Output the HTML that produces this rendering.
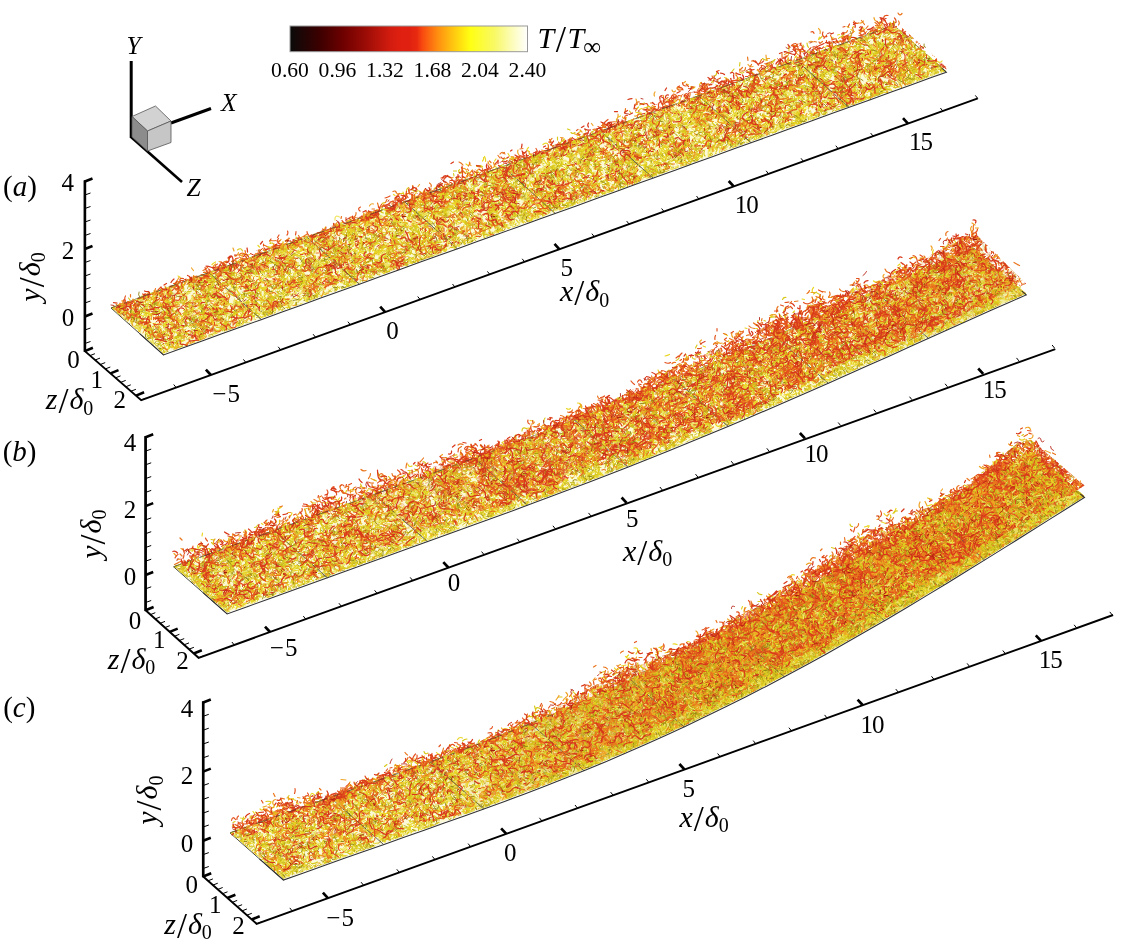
<!DOCTYPE html>
<html><head><meta charset="utf-8"><title>figure</title><style>html,body{margin:0;padding:0;background:#fff}svg{display:block}</style></head><body>
<svg width="1122" height="947" viewBox="0 0 1122 947" font-family="'Liberation Serif',serif" fill="#000">
<defs><linearGradient id="cb" x1="0" x2="1" y1="0" y2="0">
<stop offset="0" stop-color="#0a0a0a"/>
<stop offset="0.12" stop-color="#3a0000"/>
<stop offset="0.22" stop-color="#6c0000"/>
<stop offset="0.32" stop-color="#9c0c06"/>
<stop offset="0.42" stop-color="#d21c0f"/>
<stop offset="0.47" stop-color="#e02010"/>
<stop offset="0.5" stop-color="#e02010"/>
<stop offset="0.535" stop-color="#e82a10"/>
<stop offset="0.556" stop-color="#f84810"/>
<stop offset="0.62" stop-color="#ff8c10"/>
<stop offset="0.67" stop-color="#ffb810"/>
<stop offset="0.724" stop-color="#ffe410"/>
<stop offset="0.76" stop-color="#ffff14"/>
<stop offset="0.86" stop-color="#f8f864"/>
<stop offset="0.93" stop-color="#fcfcb4"/>
<stop offset="1" stop-color="#ffffff"/>
</linearGradient>
<filter id="bl" x="0" y="0" width="1122" height="947" filterUnits="userSpaceOnUse"><feGaussianBlur stdDeviation=".45"/></filter>
<pattern id="pa" width="97" height="97" patternUnits="userSpaceOnUse"><g transform="scale(.5)" fill="none" stroke-linecap="round">
<path stroke="#f0e66a" stroke-width="2.6" d="M25 63l6 4M69 58q-3 5 2 8M-1 145l4 -5M193 145l4 -5M81 92l-5 -5M23 55l6 -1M124 40q-7 -6 2 -11M138 19q-5 -1 -5 -6M58 52l-5 -4M74 165l6 -2M31 117q5 0 9 -4M175 4q7 4 4 11M14 184q6 1 11 2M14 -10q6 1 11 2M54 62l3 5M9 71l3 -5M75 144q-2 -4 -4 -8M42 112q-4 5 -11 3M110 143q-3 4 -7 6M174 63q-5 -2 -10 -5M90 131q11 4 8 -8M59 12l-4 4M156 114l-4 -4M53 137q7 -6 7 4M86 130l1 6M78 86q-7 3 -7 10M41 10l6 2M195 177q-6 4 -4 12M1 177q-6 4 -4 12M154 177l-6 2M50 67q-6 -1 -12 0M91 74q5 -1 4 -6M43 41q2 -8 -6 -11M136 137q2 -5 3 -10M5 90q5 0 8 4M199 90q5 0 8 4M5 22q-3 4 -6 8M199 22q-3 4 -6 8M25 191q1 -5 6 -6M25 -3q1 -5 6 -6M140 61l5 -5M61 36q0 8 -8 10M132 171q-1 -5 -2 -9M21 60q4 1 8 0M127 190l6 -1M127 -4l6 -1M105 41q3 -4 6 -7M141 18q-9 -3 -6 -11M111 113l0 -6M14 54q-6 -3 -8 -10M188 139q5 7 10 1M-6 139q5 7 10 1M28 16l4 -4M5 112q-5 1 -9 4M199 112q-5 1 -9 4M139 177q-4 0 -8 3M148 29q4 4 10 3M103 192q3 4 8 3M103 -2q3 4 8 3M125 14l0 -7M115 189l-4 -4M115 -5l-4 -4M102 110q-5 -1 -7 -5M140 51q-3 5 -3 11M55 74l5 4M165 158l4 -5M159 57q6 -3 9 -10M185 122q-4 -6 -9 -2M56 61q4 0 7 -2M94 46q3 3 8 4M55 48q3 6 -3 9M93 115l1 7M19 6q2 -5 5 -10M19 200q2 -5 5 -10M49 42l6 -1M190 28q-6 0 -12 0M162 163q-6 3 -12 4M68 45q-3 -4 1 -7M118 76l5 5M187 146l5 -5M-7 146l5 -5M54 19l-5 2"/>
<path stroke="#ead622" stroke-width="2.4" d="M160 54q6 1 3 7M127 121q-2 -6 5 -8M34 178q-5 1 -10 -2M101 113q5 -3 2 -8M114 113l3 6M19 41l4 6M20 121l6 -4M122 189l6 1M122 -5l6 1M48 197q-3 -3 -4 -7M48 3q-3 -3 -4 -7M93 51q-5 -2 -9 -6M129 10l4 5M110 124l-4 5M40 172l-6 0M90 107l3 4M164 100l5 -2M146 165q4 -5 3 -11M101 125q-5 5 -12 6M135 139q11 8 12 -5M108 150l4 -4M31 111q-7 2 -13 -1M68 107q-6 -1 -10 -5M191 142l-7 3M-3 142l-7 3M126 8q-6 -1 -8 -6M126 202q-6 -1 -8 -6M74 105q-4 -4 -6 -9M157 47l5 1M28 51q-4 2 -8 4M74 158q5 4 9 0M55 35q0 7 -8 10M141 127q-4 -2 -8 -2M26 51q-4 -4 -6 -9M1 185q4 -3 8 -2M1 -9q4 -3 8 -2M195 -9q4 -3 8 -2M195 185q4 -3 8 -2M107 167q-7 2 -8 -5M16 93l6 3M138 110q5 -1 6 -6M39 60l-5 -4M40 119q-4 3 -9 4M19 46q2 -6 7 -9M153 126l-4 4M143 187l-5 1M143 -7l-5 1M114 40q1 -6 -4 -8M9 146l-1 6M203 146l-1 6M169 115q-4 -3 -7 -7M12 123l4 -6M111 12q6 0 9 6M134 183q-1 6 -6 11M134 -11q-1 6 -6 11M9 171q4 -1 9 -1M17 54l-5 2M13 50l-2 6M46 23q8 -4 12 4M148 52l4 4M152 57l-6 -2M90 43q-4 0 -7 3M143 14q-5 -5 -1 -11M143 208q-5 -5 -1 -11M16 90l0 7M10 136l-7 0M204 136l-7 0M167 175q5 -8 12 -1M12 69l-6 1M206 69l-6 1M127 134l-2 6M86 103l-1 -7M120 38q-8 2 -7 -6M120 22q-9 -2 -4 -10M136 54q3 -3 8 -3M97 39q0 5 5 7M165 88q4 -1 5 -5M-4 102q3 6 10 8M190 102q3 6 10 8M185 114q-6 -2 -9 4M80 51q-4 -6 2 -11M189 183q-3 -9 7 -9M-5 183q-3 -9 7 -9M108 25l-3 -5M134 84l5 4M17 61l-4 4M102 189q5 5 10 -1M102 -5q5 5 10 -1M54 16q5 -2 10 0M169 102l-5 -5M46 38q-1 6 -4 10M39 139q-4 3 -8 4M17 183q-3 -6 -1 -13M101 165q-4 10 -12 3M105 43q-7 0 -11 6M105 178l-6 -1M156 102q7 6 1 12M19 43q1 8 -7 10M61 135l4 -6M191 186q-3 -3 -6 -6M-3 186q-3 -3 -6 -6M52 25q4 -2 4 -7M26 13q-5 0 -7 5M125 126q6 -1 11 -6M48 13l-6 3M188 145l-3 4M-6 145l-3 4M180 143l-3 -5M152 53l2 6M149 138q3 -3 7 -4M12 95q-4 0 -7 4M206 95q-4 0 -7 4M144 112q-4 -6 -1 -12M181 16q-1 6 -7 4M178 49q-1 9 -9 7M69 130l-4 5M52 36q1 6 6 10M5 83l6 1M199 83l6 1M22 166q5 -2 8 3M74 139q-7 -10 5 -10M79 148l1 -6M109 135q3 -5 2 -11M132 28q-6 -4 -12 -1M138 189q4 3 9 5M138 -5q4 3 9 5M162 82q-1 5 -1 10M180 55l5 3M176 98q-8 6 -12 -3M152 40l0 -6M40 11q-4 2 -7 3M43 103l-5 2M153 95q3 -3 8 -3M144 96q-7 -4 -2 -10M193 127q-5 -1 -6 4M-1 127q-5 -1 -6 4M140 19q-5 1 -10 0M158 40l-2 5M6 106q-3 -2 -6 -6M200 106q-3 -2 -6 -6M58 140q6 5 5 12M18 181q8 1 7 -6M8 29l3 -6M202 29l3 -6M18 119q-4 -3 -9 -1M131 196q-1 -8 -9 -8M131 2q-1 -8 -9 -8M7 98q2 6 -3 10M201 98q2 6 -3 10M94 154q1 5 -4 6M49 20q6 8 -4 10M181 17q-2 4 -7 3M134 186q3 8 10 2M134 -8q3 8 10 2M149 37q1 -7 7 -9M5 123l1 -6M199 123l1 -6M126 121q-3 6 1 11M132 50q4 3 5 9M103 157q0 6 4 11M131 19q7 2 11 -5M32 21q-3 -3 -6 -6M123 45q-9 -1 -8 -10M112 48q-5 -1 -8 4"/>
<path stroke="#d8c81a" stroke-width="2.3" d="M41 12l-1 6M134 1q0 4 -1 8M134 195q0 4 -1 8M17 90q-5 -3 -7 3M12 100q5 -6 10 0M74 161q-2 7 4 11M47 32l5 4M87 130q7 2 10 -5M37 145q-2 -5 -5 -9M57 142l2 -6M126 23q2 4 5 8M173 84q5 0 10 1M157 109l1 6M3 195q-1 -6 3 -10M3 1q-1 -6 3 -10M197 1q-1 -6 3 -10M197 195q-1 -6 3 -10M123 147q-2 5 1 9M114 128l-2 -5M154 52l2 7M94 131q5 2 8 -1M61 80q3 3 5 7M121 80q-6 5 -13 2M34 58l-1 7M61 76q-2 -6 4 -7M12 100q-2 8 -10 8M206 100q-2 8 -10 8M42 29l-6 0M149 152q-4 2 -9 3M60 133q3 4 6 9M134 24q4 -3 9 -5M11 104l-5 2M205 104l-5 2M122 77l3 -6M15 37q0 -7 5 -11M52 52l-2 7M22 91q-5 -3 -11 -7M28 174q-3 2 -7 1M178 106q-1 7 -7 9M17 87q-7 4 -12 -2M39 102q-6 4 -12 1M13 93q-3 -4 -1 -9M100 196q8 -1 9 -9M100 2q8 -1 9 -9M127 31q3 -4 8 -2M39 115q4 -3 4 -8M178 5q-8 4 -11 -5M178 199q-8 4 -11 -5M145 149q0 -7 -6 -7M160 94q0 -8 8 -5M60 85q-2 6 -1 12M36 53l5 -3M109 166q-7 -1 -11 5M50 21l-5 -3M62 38q-4 3 -4 8M19 173q1 -6 5 -11M125 130q3 -4 8 -3M67 115l-4 6M189 107q1 -5 5 -8M-5 107q1 -5 5 -8M59 43q-1 -8 -9 -8M74 155q1 5 6 7M166 185q-4 1 -7 5M166 -9q-4 1 -7 5M191 146l-5 2M-3 146l-5 2M141 136q-5 2 -10 3M17 58l-6 4M134 18l3 -5M162 43l4 5M46 38q-7 2 -11 -4M43 38l0 5M124 145q-5 1 -8 5M176 115q-4 5 -10 5M150 184l-4 -3M18 79q0 6 -5 9M47 36q-3 -6 -10 -8M12 190q-6 -2 -11 1M12 -4q-6 -2 -11 1M206 -4q-6 -2 -11 1M206 190q-6 -2 -11 1M59 65q-5 3 -5 8M29 194l5 -2M29 0l5 -2M3 123q-8 -2 -4 -9M197 123q-8 -2 -4 -9M99 38q-4 -5 2 -7M46 34q-3 3 -8 3M25 110l7 1M17 123q5 1 10 3M137 106l2 -6M147 156l-4 -3M53 172q-5 4 -12 3M20 74l6 -2M17 43q5 -1 9 2M28 105q2 -6 -2 -11M125 156q-4 1 -8 0M76 101q1 5 -2 9M172 27q8 -8 -3 -10M150 52q-6 2 -7 -4M129 131q2 5 -3 8M27 77l-3 -4M104 110l-5 4M53 38l3 5M44 121q4 -4 2 -9M71 164l-5 4M69 99q7 -5 2 -12M108 23l-7 -1M18 122l3 7M113 105l-5 -3M2 67l-3 6M196 67l-3 6M21 124q-5 -1 -10 0M100 107l6 -2M15 29q-4 3 -7 -1M143 53q-1 -6 -6 -11M13 101q-3 3 -8 2M207 101q-3 3 -8 2M50 5q8 6 -1 11M50 199q8 6 -1 11M24 175q4 -3 9 -2M23 135q3 -2 7 -3M108 14q-4 -6 -9 -2M105 123l3 6M95 27l-5 2M51 81q-5 -4 -12 -3M16 185q3 -4 7 -8M44 39q-4 3 -4 7M151 5q-8 -3 -10 6M151 199q-8 -3 -10 6M181 1q4 1 8 -1M-13 1q4 1 8 -1M-13 195q4 1 8 -1M181 195q4 1 8 -1M56 158l-2 -5M66 102l-6 1M109 13q6 -4 4 -11M109 207q6 -4 4 -11M145 187q7 -3 1 -8M42 107l3 -4M106 120q-3 5 -5 10M71 155q2 -5 -2 -8M120 22l5 3M61 79q-2 -5 -7 -6M33 111q3 -2 7 -4M149 166q6 0 11 -2M73 41q4 1 8 3M80 151q2 8 -6 7M119 3q-6 -3 -10 3M119 197q-6 -3 -10 3M89 100q-4 -3 -9 -6"/>
<path stroke="#8f8210" stroke-width="1.8" d="M5 126q-3 5 1 9M199 126q-3 5 1 9M142 31q3 -3 3 -7M77 181q-2 -5 -3 -11M100 131l6 0M179 70q-3 -5 -6 -10M138 172q5 3 11 1M138 162q-6 -4 -7 -11M162 99q-8 -6 0 -11M46 10q4 5 -2 8M118 180l5 4M145 37l6 1M140 42l0 5M115 186l-4 -4M115 -8l-4 -4M107 189l-4 -4M107 -5l-4 -4M21 81q-1 5 -6 5M22 165q-5 -2 -10 -6M118 101l-4 5M33 136q4 3 6 6M78 169q-6 9 5 12M8 186q1 -5 5 -6M164 156q-5 -4 0 -8M97 67q-5 -4 -7 -9M174 161q-4 -4 -10 -4M118 95q1 -7 8 -10M132 92q-4 -4 -7 0M83 94q2 -4 3 -8M189 149l-2 7M-5 149l-2 7M14 184q6 0 10 -6M6 177q6 1 13 -1M145 138q6 0 11 -3M73 138q-6 -2 -7 -9M100 18l-4 -4M8 119q-7 1 -10 7M202 119q-7 1 -10 7M94 98q6 -4 3 -11M30 70q3 -2 6 -5M109 191q0 -8 -8 -5M109 -3q0 -8 -8 -5M125 2q6 4 2 9M125 196q6 4 2 9M77 35q3 3 8 4M182 140q0 7 6 5M-12 140q0 7 6 5M67 132l6 -2M26 19l5 -1M47 151q10 0 8 -9M102 26l-6 3M157 189q-1 -6 -7 -6M157 -5q-1 -6 -7 -6M137 153q5 2 4 7M17 98q-7 0 -6 -8M190 62q-5 -1 -4 -6M-4 62q-5 -1 -4 -6M152 40q4 3 6 8M168 96q4 -8 -4 -8M89 120q-4 4 -8 8M-3 164q5 4 6 11M191 164q5 4 6 11M140 24q-1 5 -3 10M7 56q0 5 5 6M201 56q0 5 5 6M28 12q4 -3 6 -8M28 206q4 -3 6 -8M49 44q5 10 11 0M133 80l-2 5M25 5q4 -1 7 -1M25 199q4 -1 7 -1M0 174q-1 4 0 8M194 174q-1 4 0 8M144 38q-3 8 5 12M174 10l-1 7"/>
<path stroke="#f0a224" stroke-width="2.4" d="M35 61q-1 6 5 7M82 135q4 -8 -5 -9M156 59l6 -3M82 133q-2 -5 1 -10M92 107q5 5 2 11M4 29q4 2 8 -1M198 29q4 2 8 -1M180 109q8 1 7 -6M99 172l4 -5M70 160q-5 -7 -8 1M112 130q-3 6 -10 4M156 76q0 -4 1 -8M76 171q-4 1 -7 -2M195 99l-5 5M1 99l-5 5M86 101q5 -4 10 -1M31 57q4 -1 7 2M133 14q3 5 9 5M118 16l-2 6M170 55q-4 5 -10 4M142 182q6 -7 13 0M56 29q-4 -7 -10 -1M11 138q-3 -8 -11 -5M205 138q-3 -8 -11 -5M46 56q5 -3 1 -8M168 68q3 -3 2 -8M60 120l5 4M147 149l-7 1M50 59q4 0 8 -2M-1 169q4 0 8 -2M193 169q4 0 8 -2M7 93q1 5 5 8M201 93q1 5 5 8M10 102q6 -3 9 -8"/>
</g></pattern>
<pattern id="pb" width="71" height="71" patternUnits="userSpaceOnUse"><g transform="scale(.5)" fill="none" stroke-linecap="round">
<path stroke="#f0e66a" stroke-width="2.6" d="M65 99q-3 3 -4 8M44 50q-5 3 -11 1M20 121l2 5M21 0q-1 4 -4 8M21 142q-1 4 -4 8M98 48q-3 4 -8 6M3 83q4 4 10 3M145 83q4 4 10 3M16 35q-6 3 -5 10M36 103l-6 2M128 84q5 3 9 7M-14 84q5 3 9 7M30 14q2 -5 8 -7M21 126q6 -8 -4 -12M100 45q-1 5 -6 7M3 143l-6 -2M3 1l-6 -2M145 1l-6 -2M145 143l-6 -2M63 54l7 -1M35 18q-4 3 -7 6M50 37q-8 1 -7 -7M45 99q4 -3 2 -8M130 10q9 -3 4 -11M-12 10q9 -3 4 -11M-12 152q9 -3 4 -11M130 152q9 -3 4 -11M44 20q-2 -4 -5 -6M117 93l6 -1M107 100q5 1 10 0M57 84l5 2M47 9q4 -6 10 -1M47 151q4 -6 10 -1M141 43l-5 2M-1 43l-5 2M144 42q-3 -4 -8 -3M2 42q-3 -4 -8 -3M63 89q-7 -3 -4 -10M58 47q-4 3 -7 7M139 29q-1 -6 0 -12M-3 29q-1 -6 0 -12M50 43q4 -2 4 -7M8 12q-6 2 -8 7M150 12q-6 2 -8 7M26 55q-5 4 -3 9M78 9q4 -4 1 -8M78 151q4 -4 1 -8M-3 12q2 6 9 7M139 12q2 6 9 7M74 101q4 -5 7 1M24 8l3 5M69 111q6 -2 12 -3M25 45l4 -3M120 40q-2 -5 -7 -8M97 58q-6 2 -11 1M21 4l3 -4M21 146l3 -4M115 136q5 2 8 -3M115 -6q5 2 8 -3M7 62q5 1 5 6M149 62q5 1 5 6"/>
<path stroke="#ead622" stroke-width="2.4" d="M55 128q-4 4 -9 2M40 148q-7 -5 -1 -12M40 6q-7 -5 -1 -12M132 115q-3 4 -5 9M43 41q-1 4 -3 8M38 40q-5 -1 -7 3M137 75q-5 1 -6 6M-5 75q-5 1 -6 6M120 30l-3 -4M76 36l-7 1M58 125q6 3 11 7M130 60l7 1M-12 60l7 1M10 49l3 5M126 74l-5 4M93 135q-1 -5 0 -9M4 47q9 -3 7 6M146 47q9 -3 7 6M136 72q7 2 6 9M-6 72q7 2 6 9M72 111q-3 3 -3 7M115 101q-7 -3 -4 -10M48 94l-5 2M59 96q7 -3 12 3M22 102q6 3 12 4M36 4l5 0M36 146l5 0M120 55q4 -1 6 -5M36 104q9 -3 3 -10M40 131q-5 0 -6 5M40 -11q-5 0 -6 5M92 142q2 -9 9 -3M92 0q2 -9 9 -3M1 77q-1 -4 -1 -7M143 77q-1 -4 -1 -7M86 97l5 2M80 66l-4 -6M82 4l0 7M82 146l0 7M8 18q-1 -4 -2 -7M150 18q-1 -4 -2 -7M47 110l-6 2M120 112q1 4 2 8M53 20q-4 -4 -6 -10M60 66q-4 4 -5 10M23 139q-7 8 -12 -1M23 -3q-7 8 -12 -1M138 3q-2 5 -7 3M-4 3q-2 5 -7 3M-4 145q-2 5 -7 3M138 145q-2 5 -7 3M61 125q-2 -5 -1 -10M43 61q5 -1 9 3M101 130l-5 4M101 -12l-5 4M8 34q-4 -7 -11 -5M150 34q-4 -7 -11 -5M23 57q-3 5 -10 4M37 100l-3 6M33 93q4 -9 -6 -7M130 127q6 -2 11 -5M-12 127q6 -2 11 -5M54 37q-5 0 -9 -4M6 80q6 -1 12 -3M34 127l2 5M97 125q4 0 8 3M120 27q-3 -4 -8 -5M1 139l3 -7M1 -3l3 -7M143 -3l3 -7M143 139l3 -7M35 76q4 -3 2 -7M50 76q-4 3 -3 8M17 61q-10 -6 -9 5M116 109l-2 5M129 141q4 -4 9 -3M-13 -1q4 -4 9 -3M-13 141q4 -4 9 -3M129 -1q4 -4 9 -3M35 51l0 6M10 33q-8 2 -8 10M152 33q-8 2 -8 10M133 112q-1 3 -2 7M41 142q-4 -5 -4 -11M41 0q-4 -5 -4 -11M38 134l2 -4M38 -8l2 -4M61 142q4 -3 6 -8M61 0q4 -3 6 -8M115 91q-8 -3 -8 5M14 62q-5 7 4 8M96 49l5 2M141 18l-1 -6M-1 18l-1 -6M139 53l-4 4M-3 53l-4 4M62 85q-4 7 3 12M33 108q4 -1 7 -4"/>
<path stroke="#d8c81a" stroke-width="2.3" d="M116 97l6 2M121 76q-3 -7 5 -10M138 132q3 -4 4 -10M-4 132q3 -4 4 -10M127 28q-4 0 -8 0M26 50l2 6M7 87q7 -1 11 4M141 140q-9 -8 2 -13M-1 -2q-9 -8 2 -13M-1 140q-9 -8 2 -13M141 -2q-9 -8 2 -13M143 131q-1 6 -3 10M1 -11q-1 6 -3 10M1 131q-1 6 -3 10M143 -11q-1 6 -3 10M114 40q1 -4 5 -6M31 3q-2 -6 -7 -2M31 145q-2 -6 -7 -2M128 138l0 6M128 -4l0 6M61 40q4 -4 10 -3M109 31q7 -1 10 -7M62 43q-6 5 -10 -2M17 60l5 -2M68 0q-3 3 -5 6M68 142q-3 3 -5 6M21 58q6 2 11 0M32 130l5 1M55 55q-3 -5 1 -10M116 21l1 5M57 142q-6 -1 -9 -6M57 0q-6 -1 -9 -6M60 93l3 -6M33 108q4 7 -4 6M137 64q-7 -1 -7 -8M-5 64q-7 -1 -7 -8M116 39q-1 -5 -6 -6M85 105q-3 3 -7 5M65 134l-5 3M65 -8l-5 3M133 128q-6 -8 3 -11M-9 128q-6 -8 3 -11M63 113q3 -7 11 -6M4 22l-5 4M146 22l-5 4M108 79q6 1 11 5M56 47l-6 3M34 119l4 6M126 34q5 4 2 10M135 134l5 4M-7 -8l5 4M-7 134l5 4M135 -8l5 4M6 132l-7 -2M148 132l-7 -2M120 142q5 2 9 -1M120 0q5 2 9 -1M115 66q-4 4 -9 6M123 43q-5 1 -9 -3M120 72q4 -4 3 -10M18 88q-2 9 -11 6M129 3l6 1M129 145l6 1M132 73q-3 -7 3 -12M-10 73q-3 -7 3 -12M127 37q6 5 1 10M77 20q9 -1 9 8M54 91l1 6M132 28q-4 -4 -1 -10M111 32q5 -2 7 3M126 69q7 3 12 -3M91 63q-5 1 -8 -4M83 87q-3 -6 -7 -10M80 66q3 -5 8 -8M123 58q1 4 1 8M127 30q-3 -5 -9 -3M26 83l-5 2M47 57l-6 -1M54 32q-1 8 -8 6M50 69q9 0 7 -8M72 122q-2 -6 -9 -5M127 95l0 7"/>
<path stroke="#8f8210" stroke-width="1.8" d="M130 76q3 -5 1 -11M25 42l-1 -5M131 126q4 0 8 1M-11 126q4 0 8 1M38 100q6 0 11 2M101 69q0 4 -2 7M38 44q1 7 7 11M119 57q1 -6 5 -9M137 43q4 3 7 7M-5 43q4 3 7 7M9 110q4 -5 9 -2M28 128q5 4 10 1M12 113q3 6 -1 11M29 132q12 -1 6 10M29 -10q12 -1 6 10M115 97l5 3M103 76q5 -4 8 -8M23 92q8 -7 12 3M42 9l-1 -5M42 151l-1 -5M55 51l-1 -7M56 117q0 -5 0 -11M143 6q-5 5 -10 1M1 6q-5 5 -10 1M1 148q-5 5 -10 1M143 148q-5 5 -10 1M122 47q-4 4 -3 10"/>
<path stroke="#f0a224" stroke-width="2.4" d="M53 54q2 -5 7 -4M124 62q-4 -3 -7 1M129 104l-4 5M134 131q-6 3 -10 -3M111 57q4 1 7 4M89 107q-5 -8 -11 0M116 129l-5 -4M116 25l-6 2M87 -2q-3 5 -9 4M87 140q-3 5 -9 4M120 92q6 -6 2 -13"/>
</g></pattern>
<pattern id="gy" width="101" height="101" patternUnits="userSpaceOnUse"><g transform="scale(.5)" fill="none" stroke-linecap="round">
<path stroke="#f0e66a" stroke-width="1.9" d="M157 113l-4 4M98 134l-1 -3M142 190l-2 3M12 190l6 0M172 141l5 3M25 82l-4 0M93 153l-5 -4M172 140l-4 -2M60 172l-6 3M176 69l4 2M198 58l-1 -3M-4 58l-1 -3M108 114l6 -3M43 197l1 6M43 -5l1 6M96 117l3 -1M10 174l5 -4M97 157l-2 -6M92 72l-3 -4M153 47l-3 -3M119 141l-3 2M78 192l0 -4M75 89l-5 2M94 140l-1 5M70 124l-4 -5M176 33l2 5M58 159l-4 -3M160 182l-2 3M35 149l1 4M175 121l5 -4M59 24l-4 0M114 125l-7 0M191 40l-2 -4M52 76l5 3M149 98l-7 2M188 90l-7 0M95 184l-2 -4M197 121l6 1M-5 121l6 1M45 153l2 -3M0 113l3 6M202 113l3 6M61 168l6 -3M157 149l-4 -5M42 18l-4 0M144 28l2 4M199 84l6 -3M-3 84l6 -3M92 112l-4 -1M125 95l2 -5M62 116l4 6M93 134l7 0M193 57l-5 1M59 125l5 2M84 136l-4 3M131 55l-1 -7M169 203l1 -3M169 1l1 -3M170 3l-4 -2M170 205l-4 -2M157 58l-6 0M56 114l3 -4M184 33l0 4M100 165l4 -1M103 164l-3 3M57 111l-6 -2M136 161l4 0M191 147l-6 -1M166 91l-4 -6M5 175l5 -3M207 175l5 -3M176 50l3 -4M193 12l-2 4M187 152l4 -4M76 118l-3 4M136 190l-3 2M60 177l-3 -2M40 16l-1 -4M183 32l-3 -5M98 148l5 -3M114 198l-4 -5M114 -4l-4 -5M180 122l0 -7M75 90l-2 4M106 129l-3 3M177 49l4 -2M125 55l5 -4M104 172l5 -3M44 86l0 -3M166 56l-4 -3M52 181l-2 3M92 115l2 7M161 48l4 1M34 77l4 0M96 16l-5 3M150 95l-4 -1M169 104l3 -2M39 184l-1 4M109 7l2 3M109 209l2 3M117 63l3 -2M46 5l-2 3M46 207l-2 3M100 4l5 -3M100 206l5 -3M111 144l-3 -3M125 132l-3 -2M138 185l-1 4M177 80l0 7M4 46l7 0M206 46l7 0M45 75l4 1M186 165l-1 5M6 129l3 -5M208 129l3 -5M85 106l4 5M39 176l4 2M29 161l4 3M147 11l-4 -3M147 213l-4 -3M151 33l4 0M84 139l-2 3M1 43l-2 -3M203 43l-2 -3M91 142l-3 -4M50 20l2 -3M149 104l-1 3M128 110l-1 -6M70 107l4 -5M76 181l-4 3M20 142l-2 4M176 114l-1 -4M163 89l6 -3M100 57l3 -2M129 93l-2 -5M160 142l-5 -4M25 17l3 1M21 61l-5 2M179 81l4 3M196 146l0 -4M-6 146l0 -4M141 12l-2 6M187 158l-5 -4M153 120l6 -1M127 192l6 0M127 -10l6 0M50 140l-2 -6M88 189l-5 0M156 149l-3 5M7 192l5 -4M209 192l5 -4M76 91l0 4M90 116l2 -5M134 162l-4 2M200 53l-3 -5M-2 53l-3 -5M9 120l-4 3M211 120l-4 3M59 153l-7 -1M117 81l-4 1M102 163l-2 5M74 61l0 -3M49 94l-5 2M94 141l3 -2M132 80l0 5M13 158l5 3M50 130l-4 -6M65 173l2 3M31 58l-4 1M159 135l1 -4M58 59l7 -1M134 90l4 -2M175 16l3 3M167 136l4 5M154 109l-2 6M53 98l5 4M21 161l-4 2M152 100l6 -3M184 31l-6 1M183 28l-5 -1M67 4l3 4M67 206l3 4M40 111l3 -3M203 53l-5 5M1 53l-5 5M101 48l-7 -1M79 107l3 -2M98 77l5 0M49 95l3 -3M92 178l3 5M23 121l1 -4M15 114l-4 6M195 197l-1 -5M-7 -5l-1 -5M-7 197l-1 -5M195 -5l-1 -5M113 101l0 -7M63 61l5 -5M18 2l-4 0M18 204l-4 0M70 117l-1 4M124 181l1 -6M162 165l2 -3M14 74l-4 0M114 142l-3 4M141 183l-5 -1M182 158l5 2M130 180l-4 0M165 68l-5 -1M130 18l3 -6M63 123l-5 1M67 8l-1 5M67 210l-1 5M180 96l-3 3M112 63l5 -1M111 141l2 -4M50 139l-2 5M164 186l4 -1M142 192l-6 2M142 -10l-6 2M181 46l-4 1M18 163l5 2M196 12l2 -5M-6 12l2 -5M-6 214l2 -5M196 214l2 -5M187 160l-2 -4M3 106l4 -3M205 106l4 -3M134 182l-5 1M181 192l-2 5M181 -10l-2 5M30 161l-2 7M1 119l3 4M203 119l3 4M157 203l3 -4M157 1l3 -4M105 104l5 2M8 154l1 6M210 154l1 6M30 94l-5 -1M67 47l4 -3M23 91l2 5M141 136l-3 -4M123 141l3 3M92 101l2 6M64 112l-2 -6M4 154l3 3M206 154l3 3M90 105l-4 3M58 1l-6 0M58 203l-6 0M60 113l4 -3M39 76l-2 -5M203 5l-3 2M1 5l-3 2M1 207l-3 2M203 207l-3 2"/>
<path stroke="#e6d420" stroke-width="1.9" d="M29 151l5 -2M121 7l-5 0M121 209l-5 0M104 41l5 0M23 122l-4 -1M199 76l0 -4M-3 76l0 -4M165 3l4 -2M165 205l4 -2M40 34l-2 -3M42 199l-4 1M42 -3l-4 1M50 86l-5 -4M60 108l-4 0M163 61l-4 0M108 147l-5 3M76 97l-4 5M6 179l-3 -3M208 179l-3 -3M109 144l2 -5M126 42l4 4M27 127l0 -7M82 146l-5 2M147 37l-6 1M95 53l2 5M21 28l-1 4M142 115l1 -3M99 147l-3 2M13 23l-2 5M33 185l-4 -4M30 170l-1 5M91 148l5 1M104 132l2 -3M117 61l5 4M46 140l5 4M89 133l-1 3M4 68l-3 1M206 68l-3 1M64 17l-6 3M177 113l-3 -5M176 199l-5 4M176 -3l-5 4M90 139l0 3M154 98l1 3M70 85l-3 1M116 73l2 6M11 186l-2 -2M213 186l-2 -2M140 76l-4 4M97 182l-5 -4M152 1l-3 4M152 203l-3 4M21 67l5 4M113 107l3 3M97 121l-1 5M41 56l2 -6M83 186l0 -4M77 17l6 -3M54 41l-3 4M176 120l2 -2M107 107l-6 2M10 155l4 4M95 121l5 2M148 53l4 -4M93 140l-3 1M39 170l-4 3M184 160l4 -3M126 48l5 -2M75 108l3 -1M166 128l4 0M196 154l5 -4M-6 154l5 -4M117 132l5 3M164 113l5 1M92 62l1 5M14 179l-1 3M56 130l3 -5M23 73l3 5M36 23l-5 2M20 163l2 5M127 100l1 -3M48 9l-5 -3M48 211l-5 -3M110 145l1 -3M17 83l-2 -2M192 127l-5 0M52 116l2 -3M66 53l-2 3M183 117l3 6M146 29l-2 -3M191 147l1 -4M82 33l1 5M189 39l3 2M94 74l3 4M171 44l4 2M79 54l-2 -6M122 137l-3 -4M148 122l1 3M36 19l-4 3M52 87l7 0M55 96l2 3M106 197l-1 3M106 -5l-1 3M85 109l-5 1M91 35l-3 4M126 133l-1 3M43 151l3 2M91 140l5 1M122 20l-2 3M64 105l1 3M17 25l4 4M25 58l-3 4M144 40l2 5M185 60l2 6M162 131l2 6M116 135l-4 4M39 39l3 4M93 65l1 -5M187 36l-3 -4M20 135l-3 3M159 110l-3 -6M3 154l0 -5M205 154l0 -5M49 78l-1 -4M46 139l5 -4M144 117l5 2M158 94l-5 4M115 116l-2 3M113 169l3 4M20 129l5 3M73 52l-4 -3M111 186l-4 -1M-2 48l5 -1M200 48l5 -1M34 184l-7 0M128 74l5 -2M160 63l-7 1M7 81l5 0M209 81l5 0M188 122l5 0M2 157l0 6M204 157l0 6M135 38l-6 2M184 108l-4 4M165 4l3 -6M165 206l3 -6M93 149l-3 3M38 17l-1 -4M185 163l0 -5M165 15l6 3M154 123l-4 2M97 121l-5 -3M81 32l4 3M103 201l5 -1M103 -1l5 -1M170 112l-5 -2M62 103l3 -1M69 23l-5 -3M65 110l4 -2M190 139l-6 -2M165 132l-4 3M139 20l-6 1M88 139l-3 5M53 160l5 2M100 157l-3 -5M59 25l-5 3M21 73l-4 1M158 126l-4 5M151 52l-5 2M199 39l1 5M-3 39l1 5M185 139l3 0M182 14l0 -3M53 115l3 -4M118 172l5 4M27 167l-5 -4M125 50l1 -6M195 46l3 2M-7 46l3 2M128 18l5 0M18 114l-3 3M95 75l2 -6M72 194l7 -1M72 -8l7 -1M74 39l1 5M169 143l-4 -5M154 15l-2 -6M9 183l-5 0M211 183l-5 0M157 192l2 5M157 -10l2 5M54 85l-4 3M53 145l-7 -1M98 133l-2 3M32 124l-5 -2M180 85l4 0M152 0l3 1M152 202l3 1M127 169l-5 2M177 68l-2 3M103 61l-3 -5M58 74l-2 -4M66 153l3 6M133 19l-5 -1M13 69l2 3M169 117l-4 3M24 133l-2 -4M189 40l6 1M2 159l-3 -1M204 159l-3 -1M95 4l6 -1M95 206l6 -1M157 133l2 -7M81 95l3 6M171 105l4 6M142 107l2 -5M190 143l2 -5M9 166l-3 -3M211 166l-3 -3M75 56l2 -4M161 142l3 -2M73 173l1 -4M96 187l-1 6M105 79l-2 -6M74 47l0 -6M128 44l-4 1M78 45l-5 -4M132 118l-2 4M159 110l0 -7M3 183l2 -5M205 183l2 -5M7 115l-6 2M209 115l-6 2M188 156l-6 2M138 107l-5 4M110 1l-5 4M110 203l-5 4M97 52l-3 1M122 163l-3 -6M170 109l-4 1M194 66l-5 -4M29 150l4 0M15 133l-1 -4M94 71l-3 4M122 22l3 -5M172 155l-1 -5M0 9l3 -2M0 211l3 -2M202 9l3 -2M202 211l3 -2M142 122l5 3M134 0l-5 2M134 202l-5 2M127 1l1 4M127 203l1 4M68 52l3 -2M178 21l0 -5M110 131l1 -4M2 117l5 -2M204 117l5 -2M95 134l-5 2M157 62l-2 6M134 128l-4 -2M44 -2l-2 5M44 200l-2 5M46 200l-6 0M46 -2l-6 0M152 101l1 5M51 201l-4 -5M51 -1l-4 -5M127 31l2 6M176 7l4 4M176 209l4 4M161 132l2 -6M76 184l5 2M40 144l-5 -4M15 149l-3 1M9 176l-5 -4M211 176l-5 -4M154 29l-1 6M114 112l2 3M-1 159l4 -4M201 159l4 -4M33 149l-1 5M138 25l-1 -4M88 12l-4 -2M26 154l-4 -2M141 140l1 -6M123 93l-3 -1M191 157l3 -6M-11 157l3 -6M43 72l-3 -1M71 186l4 -1M2 142l0 4M204 142l0 4M59 27l3 -3M98 197l3 6M98 -5l3 6M135 179l2 6M12 26l3 6M-1 66l4 0M201 66l4 0M163 198l-1 -4M163 -4l-1 -4M172 39l6 1M119 99l5 1M107 4l5 -3M107 206l5 -3M178 157l1 -3M157 147l-2 3M53 33l4 -5M17 125l6 1M53 32l3 -4M58 96l6 0M43 35l3 -2M95 56l-6 -2M92 133l5 -2M203 120l-2 3M1 120l-2 3M179 99l-3 -2M43 33l4 -3M87 167l1 4M179 16l-5 -3M188 42l-1 -7M82 46l-6 3M173 145l-3 -3M160 142l5 2M91 176l3 -4M52 38l-7 2M117 166l1 5M136 18l-4 -5M15 149l-5 1M141 162l7 -1M97 11l0 -5M97 213l0 -5M143 195l0 -6M97 71l-4 0M15 71l3 5M57 179l-6 -3M126 124l2 3M104 200l1 3M104 -2l1 3M27 52l-3 0M104 144l-1 -5M6 77l1 4M208 77l1 4M92 68l5 -4M50 162l1 5M96 161l3 -2M157 200l5 1M157 -2l5 1M140 176l1 7M50 76l6 3M128 2l4 -2M128 204l4 -2M161 122l-1 4M23 154l-5 -4M83 141l1 -4M87 55l3 -1M142 195l-5 0M142 -7l-5 0M94 70l-3 3M129 42l4 4M61 59l-6 -1M91 165l1 4M106 143l-4 0M172 142l0 -7M21 64l-2 6M65 121l-5 0M11 196l-3 -6M11 -6l-3 -6M213 -6l-3 -6M213 196l-3 -6M12 89l0 5M3 182l2 -4M205 182l2 -4M25 72l-1 -3M134 54l-2 4M38 146l-4 -1M102 116l-4 -2M200 162l-5 1M-2 162l-5 1M14 168l6 4M199 8l3 -6M-3 8l3 -6M-3 210l3 -6M199 210l3 -6M31 151l-4 1M3 45l-5 3M205 45l-5 3M171 15l5 -3M120 172l-6 -4M185 122l5 -1M103 59l1 -4M172 115l5 0M41 80l-3 -1M131 193l0 5M131 -9l0 5M94 57l-4 5M138 158l-4 3M18 192l-2 -5M200 49l-2 -4M-2 49l-2 -4M21 18l5 4M170 3l2 -5M170 205l2 -5M106 93l6 2M163 117l6 4M176 13l-2 5M112 184l-2 -5M37 143l-4 6M70 48l4 4M18 120l3 -5M32 31l6 1M122 177l-4 -1M157 91l2 -5M52 200l-5 1M52 -2l-5 1M131 42l0 3M69 96l-6 1M122 61l4 2M146 100l-1 3M103 70l-7 1M107 140l3 2M98 63l4 -3M163 85l-3 2M170 144l-2 -3M53 105l-1 4M194 100l4 -2M-8 100l4 -2M29 170l4 2M191 29l-4 -5M44 75l3 3M13 158l-2 3M37 115l-4 -4M75 57l4 1M49 87l5 3M84 136l6 -2M117 141l-4 4M87 133l1 3M80 189l-1 -3M86 95l-4 0M188 53l-4 1M183 153l-1 4M23 14l-1 6M53 67l6 4M92 169l1 -3M163 113l1 -4M132 9l4 -4M132 211l4 -4M146 197l-3 6M146 -5l-3 6M120 59l1 -5M20 30l-3 1M183 122l-4 0M4 171l-2 -3M206 171l-2 -3M100 115l-6 2M32 180l-5 -2M122 3l5 -2M122 205l5 -2M23 88l1 3M78 50l-3 4M82 137l1 6M110 111l-1 4M180 129l5 3M67 96l-5 3M183 191l-2 3M183 -11l-2 3M151 100l4 -2M46 190l-2 -5M122 110l4 -1M24 7l-2 5M24 209l-2 5M101 142l-4 -2M105 197l-1 -4M105 -5l-1 -4M9 32l6 2M186 93l3 -1M162 191l3 -1M97 55l-6 1M178 197l2 3M178 -5l2 3M6 175l-4 3M208 175l-4 3M68 55l-5 2M135 184l-3 -3M15 157l-2 -5M150 114l5 -4M4 65l-6 3M206 65l-6 3M188 39l-5 -5M50 7l-2 -6M50 209l-2 -6M141 170l6 0M51 107l4 -2M53 145l4 3M109 117l-4 5M155 107l2 5M194 12l5 -3M-8 12l5 -3M122 103l-4 0M167 107l-5 2M70 168l-4 4M183 96l-6 2M45 203l2 -3M45 1l2 -3M44 71l-5 1M152 37l-4 -4M167 100l1 -4M74 99l-6 2M40 153l4 4M181 21l3 -6M63 25l-3 1M129 120l-5 4M98 165l3 -3M10 138l5 -1M128 177l1 -5M33 126l-5 0M179 163l5 4M168 34l3 -3M154 39l-4 2M132 158l6 -1M49 43l5 -2M126 11l6 -1M187 60l3 -5M103 162l-4 5M135 199l-7 -1M135 -3l-7 -1M19 78l-6 0M156 123l-5 0M154 93l-4 5M147 115l-4 1M96 61l7 2M136 79l-4 -2M57 150l-4 1M32 178l3 -6M61 84l4 -5M45 40l7 -2M170 126l3 1M122 52l-4 0M183 192l6 2M183 -10l6 2M23 124l-4 1M132 119l6 -3M95 136l6 1M19 156l-5 -2M19 144l-4 -1M119 56l-4 -4M199 42l4 -2M-3 42l4 -2M110 61l5 -2M168 25l6 -3M4 114l4 6M206 114l4 6M155 123l1 -4M0 14l2 -3M202 14l2 -3M33 31l-6 2M75 53l3 -2M176 17l0 6M120 27l5 -2M79 190l6 1M88 173l0 -4M156 27l0 5M44 39l2 3M25 94l4 1M132 45l-3 3M24 88l4 1M88 102l-3 -5M189 141l5 -3M111 176l4 4M34 154l3 0M139 30l-4 0M170 126l4 4M109 11l-5 -2M109 213l-5 -2M127 107l-3 -4M173 95l-5 -3M55 107l6 1"/>
<path stroke="#d4c41a" stroke-width="1.8" d="M175 6l-2 3M175 208l-2 3M96 170l-5 5M163 109l-2 -4M85 172l4 0M21 133l2 -3M70 110l-3 1M95 172l3 4M109 0l-2 5M109 202l-2 5M200 171l-4 1M-2 171l-4 1M21 73l3 -4M166 48l5 -1M182 149l4 1M57 136l0 -6M155 118l6 3M141 199l-3 6M141 -3l-3 6M42 78l-7 0M96 68l4 -1M184 184l5 -2M57 122l5 0M54 99l1 7M78 119l-1 -4M63 199l6 3M63 -3l6 3M27 172l-7 0M132 126l-4 -1M89 183l-6 3M198 12l-4 -2M-4 12l-4 -2M135 65l-5 -2M37 11l-4 1M102 110l4 -1M70 93l5 3M142 191l-4 5M142 -11l-4 5M153 146l2 4M42 69l-2 -5M94 154l-1 7M135 84l4 3M154 44l-3 -5M61 113l5 2M99 139l-3 2M154 98l-2 3M186 62l-3 6M132 106l-2 6M106 143l-5 -3M126 139l-6 2M102 172l4 -2M5 183l2 -3M207 183l2 -3M74 50l4 0M41 167l-3 -2M99 108l4 -2M171 91l4 -2M45 128l-4 -5M152 180l3 -3M162 123l5 3M23 76l-2 -6M71 118l-2 -4M84 185l-5 1M57 56l3 -3M194 163l2 -4M-8 163l2 -4M88 183l6 -1M-1 187l6 1M201 187l6 1M192 45l4 5M-10 45l4 5M164 105l-4 -4M118 20l-4 2M191 162l2 -3M-11 162l2 -3M137 0l-2 3M137 202l-2 3M145 190l-1 4M167 181l-2 -3M170 97l2 -3M63 20l2 5M101 58l3 5M112 184l-5 -4M57 131l-3 5M70 156l2 -6M125 9l5 -3M125 211l5 -3M78 184l2 5M12 180l4 -5M71 188l-1 -4M1 118l-2 -3M203 118l-2 -3M188 106l-4 2M69 96l-6 -2M94 184l1 -6M112 174l-2 5M76 46l-6 -1M173 141l-2 -2M97 161l-4 -5M82 172l3 -1M75 111l-4 1M14 194l3 6M14 -8l3 6M131 81l3 5M165 189l-3 -5M74 113l3 -1M143 33l-4 0M26 59l-1 -6M82 12l0 4M49 37l-4 6M68 99l1 -7M135 193l-4 2M135 -9l-4 2M181 52l3 2M193 54l-6 2M4 132l-2 4M206 132l-2 4M99 62l-3 -4M47 89l4 -1M133 53l-1 -6M188 80l-4 2M153 35l-1 -5M167 89l-6 3M46 145l-4 -5M169 16l4 1M92 4l-1 6M92 206l-1 6M88 54l-3 -3M63 21l-3 3M110 174l-3 0M155 87l-1 4M150 129l1 5M62 169l6 2M64 59l4 0M191 45l-4 -1M144 137l-3 4M24 127l-1 -4M31 30l6 -2M80 15l0 -6M9 177l-5 1M211 177l-5 1M0 134l3 4M202 134l3 4M162 196l-4 2M162 -6l-4 2M95 136l0 -4M35 35l2 6M158 123l5 0M55 131l3 5M55 116l-2 -3M134 167l5 2M115 110l-4 -1M186 173l-1 -5M26 183l6 -3M199 161l-5 0M-3 161l-5 0M76 148l-3 -2M189 168l0 -3M179 113l6 0M182 161l-1 -6M144 114l2 3M115 60l0 4M198 172l4 3M-4 172l4 3M116 57l1 3M70 77l-3 4M201 165l2 4M-1 165l2 4M158 39l-1 -4M116 80l-7 2M25 66l-5 -3M167 100l0 -3M46 71l3 -1M112 174l-4 -1M5 138l-7 0M207 138l-7 0M32 19l5 -3M46 149l-4 -1M7 109l6 2M209 109l6 2M11 2l-5 1M11 204l-5 1M213 2l-5 1M213 204l-5 1M183 145l-1 4M36 172l6 2M19 12l3 -6M19 214l3 -6M-2 78l5 3M200 78l5 3M33 24l5 -2M48 201l-4 -4M48 -1l-4 -4M64 175l5 -4M68 110l2 3M190 47l-3 -4M89 43l2 4M17 163l0 4M186 82l0 -5M51 147l5 -1M140 7l0 -7M140 209l0 -7M179 93l5 -3M25 167l-4 -6M55 91l4 1M121 64l-3 -3M61 163l4 -3M33 162l-1 5M191 179l-3 -2M64 54l-5 -3M59 77l5 3M168 118l4 0M194 180l-3 -2M-8 180l-3 -2M184 30l5 0M135 175l-6 -1M50 102l4 -2M94 77l6 -1M109 198l4 -2M109 -4l4 -2M8 150l3 6M210 150l3 6M186 37l-1 -5M5 194l3 6M5 -8l3 6M207 -8l3 6M207 194l3 6M42 3l5 -2M42 205l5 -2M182 46l1 -4M84 182l7 1M147 169l-5 3M139 134l-2 4M34 172l2 -4M73 121l-3 0M75 143l5 3M36 147l3 -3M178 91l2 -5M186 151l-3 -2M124 103l-4 -4M120 74l2 4M135 117l4 2M93 170l-5 0M44 78l6 0M97 49l1 -5M67 21l-6 -4M47 123l0 5M111 142l4 -4M157 97l-6 1M62 59l-5 -2M36 161l-5 -4M84 186l-5 -1M19 76l-7 -1M159 94l-1 -6M26 61l2 -3M13 66l6 1M171 14l0 -5M35 178l-7 1M173 21l3 4M76 133l3 3M45 126l-5 3M9 81l-6 1M211 81l-6 1M15 70l0 4M159 101l-3 -3M83 104l1 -4M6 192l4 4M6 -10l4 4M208 -10l4 4M208 192l4 4M131 65l5 -2M127 57l0 3M170 20l-4 -1M183 33l-5 -3M22 167l1 4M55 132l-1 -4M11 172l-1 3M187 20l-3 -4M125 131l-3 4M182 142l3 2M57 90l3 -5M166 97l4 -5M15 137l3 3M81 150l-4 -1M105 70l-3 -1M138 111l-6 2M90 1l-1 6M90 203l-1 6M47 43l3 -5M41 104l6 -3M20 155l-4 -1M113 121l0 -7M46 122l-4 2M17 166l-5 2M26 184l1 6M67 102l2 3M169 114l3 -4M148 30l0 -5M49 98l5 1M8 188l5 3M169 29l3 4M59 25l1 4M89 59l1 4M100 65l4 5M59 81l-3 4M139 122l6 -2M83 107l5 5M41 191l-4 1M6 77l-4 5M208 77l-4 5M23 119l2 -5M35 191l-2 5M35 -11l-2 5M85 109l-7 -1M118 9l4 3M66 96l1 -4M109 123l-4 2M50 78l-1 4M170 38l-1 7M18 186l7 2M55 89l6 -2M10 75l5 -1M158 90l1 3M38 18l2 -5M164 128l-2 6M47 84l6 2M9 197l3 3M9 -5l3 3M6 150l3 -4M208 150l3 -4M135 197l-5 -3M135 -5l-5 -3M27 148l2 6M3 157l-5 2M205 157l-5 2M21 15l-1 5M148 54l-5 -4M131 185l4 4M138 200l6 -4M138 -2l6 -4M25 86l-6 2M70 153l-7 1M40 164l-5 2M34 78l-6 3M149 52l0 -4M135 189l3 -3M111 11l5 4M67 111l-6 2M26 190l-1 -4M62 187l-5 -2M61 85l-3 -1M81 142l-3 1M57 17l2 2M135 89l4 -1M96 140l-4 -5M122 176l-1 -5M160 89l-3 3M66 111l-4 2M181 68l1 4M131 121l5 -3M124 45l3 3M171 99l1 3M92 58l-2 -3M93 176l-1 6M99 44l-5 0M181 99l-3 -3M152 138l1 -4M178 11l3 2M134 138l-2 -4M144 45l2 6M160 168l-4 1M188 125l-5 3M147 100l-2 -6M83 131l1 3M15 125l-1 -4M88 167l-4 5M169 88l6 2M168 196l-1 4M168 -6l-1 4M76 137l6 2M11 35l-5 -3M213 35l-5 -3M184 118l3 -3M80 93l-5 3M100 141l4 -5M70 19l4 0M6 121l4 -1M208 121l4 -1M5 166l-5 0M207 166l-5 0M49 84l1 3M66 99l-5 0M14 132l-3 -5M57 135l-6 -3M115 83l-6 3M176 0l-3 2M176 202l-3 2M123 0l3 6M123 202l3 6M150 126l1 -6M121 92l-3 -3M139 22l-4 -5M6 7l2 -3M6 209l2 -3M208 7l2 -3M208 209l2 -3M38 144l-4 4M190 40l3 -3M75 11l-5 4M49 119l-4 0M109 29l5 -1M89 171l5 2M96 159l7 1M104 8l-4 4M177 62l5 -3M197 60l0 -7M-5 60l0 -7M122 7l-4 -3M122 209l-4 -3M23 92l-5 2M164 171l2 -6M88 10l-2 4M123 9l6 1M123 211l6 1M144 85l-3 4M55 73l-1 7M39 186l-5 2M50 139l-4 6M201 44l-6 -4M-1 44l-6 -4M27 118l5 2M143 108l-2 4M102 6l3 1M102 208l3 1M46 9l-3 -4M46 211l-3 -4M196 162l-2 2M-6 162l-2 2M65 149l-3 5M31 73l1 4M51 130l4 5M195 55l6 3M-7 55l6 3M50 67l4 3M70 161l-4 -4M59 169l2 -4M105 145l3 -1M119 81l2 5M189 56l-4 3M81 138l-4 -4M61 92l-3 -1M144 102l-4 5M39 4l-3 -2M39 206l-3 -2M150 199l5 1M150 -3l5 1M45 141l2 -4M157 3l-7 1M157 205l-7 1M197 175l4 -2M-5 175l4 -2M192 152l-1 6M46 195l-2 5M46 -7l-2 5M66 85l3 1M153 89l3 1M70 109l6 4M89 169l2 -4M12 99l-1 -6M177 73l2 6M95 42l5 3M4 136l-1 -7M206 136l-1 -7M51 86l-3 3M46 129l-2 -2M51 80l4 -5M175 89l3 -2M176 155l5 -3M70 149l4 2M18 127l0 4M180 99l1 -7M143 144l2 -5M49 203l-3 -3M49 1l-3 -3M87 8l4 1M87 210l4 1M99 182l4 -1M56 114l-6 -3M53 94l-4 3M178 87l3 -1M37 161l-5 -2M29 175l2 6M25 126l0 6M25 121l-1 -6M176 112l-1 -4M54 29l-1 -3M52 5l1 -6M52 207l1 -6M26 157l-3 4M184 144l4 -2M103 3l5 2M103 205l5 2M57 145l-7 0M99 164l-4 2M87 18l3 4M114 18l4 -1M157 132l3 5M171 44l4 3M202 157l-5 2M0 157l-5 2M188 58l4 -5M68 29l-3 6M131 195l-3 6M131 -7l-3 6M154 135l-4 -2M32 76l-2 -6M13 116l3 6M159 67l0 -4M165 49l4 -3M91 14l-3 -2M71 19l-1 7M51 143l-3 -1M177 42l2 2M171 15l-3 4M163 86l-3 2M202 65l-3 3M0 65l-3 3M162 160l0 7M138 89l-2 -3M172 93l3 2"/>
<path stroke="#b8a816" stroke-width="1.7" d="M142 -1l4 3M142 201l4 3M84 141l4 -3M141 165l-5 3M53 119l-4 -5M170 122l-6 -1M172 0l-3 2M172 202l-3 2M51 69l-4 4M131 81l5 3M120 174l-5 -4M53 201l0 -6M53 -1l0 -6M114 34l1 -4M31 95l6 0M11 195l2 -6M11 -7l2 -6M134 98l-3 -4M115 139l3 0M28 8l-4 6M94 50l-1 -6M182 48l4 -4M30 152l-5 -3M174 17l1 6M57 89l-5 3M85 170l4 -5M30 129l-2 3M26 79l-3 5M58 80l3 0M44 17l-5 0M137 83l2 5M45 4l4 -3M45 206l4 -3M85 153l6 -3M176 18l3 -1M10 92l3 -2M61 128l6 2M182 163l3 3M135 158l-4 -1M29 187l-6 1M32 173l6 4M169 96l2 4M84 145l0 4M162 196l-3 -6M162 -6l-3 -6M168 62l5 -1M81 3l2 -7M81 205l2 -7M74 102l5 1M161 130l0 -5M155 28l-3 -5M55 178l-5 2M147 92l-3 6M185 41l-5 0M48 23l3 -5M26 159l-2 4M63 156l2 3M115 61l1 -4M144 181l-6 -3M31 149l-4 -5M83 38l-2 3M183 158l2 -4M34 21l4 2M165 169l-2 4M43 141l-3 3M96 146l-3 3M48 130l1 4M61 19l-3 3M18 121l-3 2M1 177l2 3M203 177l2 3M153 45l4 -2M5 163l-2 3M207 163l-2 3M82 98l-2 5M142 132l1 4M104 177l5 1M128 195l6 -2M128 -7l6 -2M137 86l-1 -5M13 129l0 6M177 40l3 -1M143 139l-5 0M112 14l-4 -1M11 199l6 0M11 -3l6 0M52 147l-4 -5M155 67l-5 4M8 179l-5 0M210 179l-5 0M43 82l-5 -4M110 144l-1 -4M89 108l5 2M196 99l-6 -1M-6 99l-6 -1M17 156l5 3M182 33l6 -2M160 77l5 -3M73 72l4 3M87 73l-4 4M79 139l1 -3M43 100l2 5M103 143l1 -5M48 11l-1 4M38 77l3 3M191 85l-4 -3M180 96l0 4M109 5l-2 -6M109 207l-2 -6M144 77l-4 -2M122 23l4 -4M26 19l-4 0M54 88l3 2M135 104l-2 -4M139 118l0 5M69 17l0 -4M150 102l-4 -3M9 83l-3 3M211 83l-3 3M132 22l5 -3M132 114l-3 -1M56 26l-1 4M52 43l-5 4M87 14l-5 2M27 135l-4 4M63 123l-2 -4M31 116l4 -2M67 176l-5 -3M104 118l-5 -4M26 123l3 -4M168 160l-1 6M1 113l1 6M203 113l1 6M174 198l4 4M174 -4l4 4M84 17l-5 0M12 187l-5 0M214 187l-5 0M22 161l3 -4M30 133l-3 -4M66 111l0 -5M181 131l1 5M117 62l0 -4M177 42l3 2M41 81l0 -5M27 122l6 -2M200 128l1 -4M-2 128l1 -4M33 19l-5 2M17 71l4 2M148 48l5 1M46 101l5 3M130 194l5 -1M130 -8l5 -1M49 8l-6 2M49 210l-6 2M18 73l4 3M64 176l4 -2M164 87l-4 0M164 104l-4 3M25 77l4 0M93 52l1 -3M92 139l1 5M30 36l3 -3M18 119l-2 6M137 136l-3 3M164 140l-3 -1M137 78l-3 2M61 23l-5 1M153 120l-5 1M34 193l0 3M34 -9l0 3M142 90l0 -5M67 89l-2 6M31 36l5 -5M24 169l-6 3M64 177l1 -3M67 22l-2 5M65 182l-1 -3M5 51l3 6M207 51l3 6M30 185l3 -5M126 124l4 2M97 106l0 6M12 199l-4 2M12 -3l-4 2M214 -3l-4 2M214 199l-4 2M43 181l1 3M137 76l-4 -2M114 55l3 -6M122 177l0 -3M79 35l5 3M60 108l-1 6M121 85l3 -3M135 77l0 4M100 136l-2 -5M22 161l-4 4M179 32l4 -3M52 85l-3 -3M188 93l0 -5M45 195l-6 2M45 -7l-6 2M164 140l5 1M160 91l-7 -2M61 87l-1 5M27 151l1 -6M16 120l0 4M115 118l-2 -3M173 173l2 -5M83 144l3 2M132 50l0 6M177 91l2 5M57 112l0 -5M119 80l-4 -3M171 19l-1 -3M186 146l-2 4M109 183l6 0M176 76l3 -2M2 84l7 2M204 84l7 2M14 174l5 0M135 28l7 0M39 118l5 -2M5 133l3 0M207 133l3 0M179 172l4 4M141 106l3 -3M44 126l-2 4M132 105l-2 3M125 39l-1 6M176 29l-2 3M33 132l-3 -5M156 7l-6 2M156 209l-6 2M125 7l2 -3M125 209l2 -3M65 94l0 6M125 69l-1 -5M128 15l4 -4M6 147l-4 -1M208 147l-4 -1M65 19l2 3M74 92l3 2M94 107l3 5M135 141l-4 -5M160 203l-1 -6M160 1l-1 -6M127 36l1 -3M4 72l3 2M206 72l3 2M137 22l-1 4M102 121l-2 5M40 175l-2 -3M74 8l-5 -2M74 210l-5 -2M96 152l-3 4M190 141l0 -6M168 45l5 -1M62 164l-6 0M165 64l-6 2M73 195l3 -5M73 -7l3 -5M66 102l-1 -5M145 199l6 -2M145 -3l6 -2M183 82l6 1M171 197l-1 -4M171 -5l-1 -4M91 115l-4 0M122 65l3 2M178 197l-1 5M178 -5l-1 5M49 36l-4 1M48 83l4 -5M93 25l0 6M9 91l4 -2M34 81l4 -4M67 63l4 4M127 133l-4 3M20 82l3 2M24 115l3 6M178 148l3 2M47 106l-4 5M8 146l3 2M123 158l-4 1M20 63l-6 1M125 95l-1 4M89 52l4 -1M67 52l3 2M68 175l-3 4M76 38l-6 1M146 49l5 -1M67 76l1 5M18 187l0 -5M147 136l4 2M196 59l0 -3M-6 59l0 -3M87 172l2 6M23 25l0 4M178 78l3 3M55 110l3 -2M36 118l7 1M40 120l-3 2M11 185l-1 -6M4 46l-1 4M206 46l-1 4M113 111l-2 -5M165 109l1 -4M97 137l4 1M52 46l5 -5M22 122l-2 5M126 98l1 3M133 73l-5 2M104 69l-1 -5M55 152l4 0M110 123l-7 0M40 113l4 0M172 22l-5 -1M104 108l-1 4M89 144l4 -1M84 185l-3 -5M60 56l2 -4M89 37l3 5"/>
<path stroke="#8a7a10" stroke-width="1.6" d="M187 55l0 3M29 27l4 0M193 62l-6 1M23 91l-3 4M12 150l-2 4M107 203l0 -7M107 1l0 -7M75 187l-3 2M107 172l0 -3M85 182l0 5M31 164l7 2M11 -2l-4 5M11 200l-4 5M213 -2l-4 5M213 200l-4 5M13 196l-1 -5M13 -6l-1 -5M95 143l-3 -4M189 43l-6 -1M67 86l-2 6M64 127l-3 -4M65 162l3 -2M96 138l4 0M80 134l-2 -4M102 181l-3 -3M162 133l3 3M28 80l-5 -2M20 25l2 3M179 15l0 -4M20 135l0 5M31 179l2 -4M166 128l-6 -1M26 188l-6 0M73 190l3 5M73 -12l3 5M191 48l-6 0M203 122l-4 -4M1 122l-4 -4M59 102l-3 -2M10 136l1 -7M94 106l5 -1M159 189l-6 0M173 4l-1 -4M173 206l-1 -4M59 148l-4 3M62 23l-2 4M94 173l-2 3M41 51l-1 -5M42 136l6 2M105 13l-2 -6M105 215l-2 -6M61 69l4 -2M22 130l-1 4M78 170l0 5M37 117l4 0M23 7l2 6M9 116l-2 4M211 116l-2 4M11 184l1 -5M178 120l-6 -2M195 170l2 4M-7 170l2 4M135 83l6 -1M153 118l-4 4M179 169l-4 -5M55 46l2 -4M101 170l-6 0M88 8l1 -4M88 210l1 -4M100 118l5 -4M100 141l-4 -3M178 32l-3 1M139 21l-6 1M197 59l5 -4M-5 59l5 -4M23 186l-6 4M93 159l5 0M173 7l4 3M173 209l4 3M100 54l5 0M53 111l-5 -2M8 188l6 3M23 84l2 4M88 77l5 -5M170 92l2 -4M156 111l-4 3M76 36l0 5M53 138l0 -4M92 133l-4 -5M100 180l4 4M89 29l-5 3M84 150l-4 -3M4 130l2 -2M206 130l2 -2M91 161l3 -3M51 90l-5 3M114 85l2 -3M36 105l5 2M8 129l0 -3M210 129l0 -3M16 2l-3 2M16 204l-3 2M106 64l-7 -1M37 51l4 3M27 167l5 -4M199 119l2 -2M-3 119l2 -2M115 175l-5 1M153 117l-5 -1M135 190l3 2M45 144l-6 -4M95 195l-4 2M95 -7l-4 2M132 189l2 6M26 144l1 -5M100 172l4 2M53 142l4 0M10 111l-4 5M212 111l-4 5M124 73l4 -1M184 158l-2 -5M68 122l7 0M154 114l4 2M37 34l-5 -5M75 42l-6 -3M73 117l5 -1M86 133l-5 -2M33 146l-5 -3M194 43l1 -3M-8 43l1 -3M109 198l1 7M109 -4l1 7M154 127l4 1M188 49l-3 -4M92 14l-5 2M113 59l-5 -1M125 200l2 -4M125 -2l2 -4M6 174l4 2M208 174l4 2M165 23l5 0M62 120l-4 -1M44 104l-3 3M133 161l5 -2M132 24l4 4M69 84l-4 0M60 27l5 -5M168 102l-5 2M29 36l3 -2M141 112l-5 4M122 92l5 -2M125 71l4 3M186 34l0 4M169 132l-3 2M20 55l5 -5M139 191l5 4M139 -11l5 4M64 102l-5 1M61 171l6 0M100 51l2 6M139 179l-5 0M195 38l4 -1M-7 38l4 -1M12 80l-1 -4M128 32l-1 5M178 121l0 7M107 136l2 6M1 20l5 2M203 20l5 2M143 167l-3 5M102 109l0 4M65 117l-5 2M53 134l7 0M189 51l-2 4M32 116l-1 6M198 67l4 3M-4 67l4 3M7 80l-2 -4M209 80l-2 -4M28 159l2 -3M197 74l3 -3M-5 74l3 -3"/>
<path stroke="#eea01c" stroke-width="1.9" d="M157 102l-5 2M98 156l-1 -5M145 158l-1 7M98 119l4 5M123 76l6 1M56 95l1 -6M184 24l3 5M132 186l4 -2M100 148l-3 -4M8 178l6 2M161 191l2 6M161 -11l2 6M134 36l-5 2M97 121l-3 3M6 171l-3 -4M208 171l-3 -4M36 130l2 -4M128 177l-4 -2M148 104l-4 -1M36 95l-3 2M133 82l2 5M106 172l-5 -1M187 150l-1 7M6 168l-5 -1M208 168l-5 -1M39 34l6 3M152 132l1 -4M30 114l-5 4M152 5l-3 -4M152 207l-3 -4M126 59l5 -3M190 155l6 -3M-12 155l6 -3M3 164l-3 2M205 164l-3 2M142 134l-2 5M131 28l-6 1M29 147l4 2M54 44l-4 -1M48 73l4 4M49 186l2 6M145 4l0 -3M145 206l0 -3M142 104l-4 5M178 107l6 2M171 101l-1 4M104 13l-3 -2M43 203l3 -2M43 1l3 -2M128 159l-4 2M46 183l5 -1M120 127l-5 0M31 193l7 1M31 -9l7 1M139 110l-4 4M28 96l5 -2M116 195l-4 0M116 -7l-4 0M95 45l-3 1M153 142l4 -5M51 134l-2 6M138 146l-5 2M191 142l3 5M-11 142l3 5M104 201l1 -5M104 -1l1 -5M15 186l3 6M74 13l-6 0M20 30l1 -7M16 140l-4 -3M74 58l4 -2M80 41l3 -5M88 151l-1 5M11 171l3 -2M151 92l1 -3M94 117l-5 -3M21 124l0 4M57 52l-1 5M17 85l-4 -3M171 18l6 -1M70 156l-5 -1M94 173l-3 -6M43 112l4 -6M106 175l-6 -2M88 143l-4 4M123 31l3 0M57 81l7 2M84 13l-6 0M103 3l-1 4M103 205l-1 4M143 141l-6 -3M185 78l5 4M140 142l1 -3M136 190l3 -2M132 111l4 1M153 135l3 -3M50 138l-5 1M46 43l-6 -1M0 178l3 -2M202 178l3 -2M83 147l-4 4M50 105l0 4M103 127l-2 -5M200 82l4 -5M-2 82l4 -5M111 139l5 -2M57 73l-1 4M87 54l-3 6M180 173l-5 3M161 105l5 -2M161 123l6 2M105 12l5 4M160 151l-1 -3M9 118l5 -5M179 14l4 -1M195 147l-6 3M135 47l-3 -1M197 56l-4 0M-5 56l-4 0M70 46l-3 2M99 4l-6 -3M99 206l-6 -3M85 8l2 3M85 210l2 3M33 153l-5 1M30 110l4 0M169 101l4 4M143 108l-1 -5"/>
</g></pattern>
<pattern id="gr" width="89" height="89" patternUnits="userSpaceOnUse"><g transform="scale(.5)" fill="none" stroke-linecap="round">
<path stroke="#eea01c" stroke-width="1.9" d="M101 21l0 -4M141 20l5 -2M0 51l3 0M178 51l3 0M176 75l-5 -1M-2 75l-5 -1M26 80l1 -4M164 51l0 4M173 77l-6 3M-5 77l-6 3M99 73l-4 5M148 56l1 6M106 108l4 1M145 56l5 -3M51 107l0 5M58 121l-2 -3M12 74l-1 -4M132 62l-3 5M79 162l5 -1M176 30l-7 0M-2 30l-7 0M15 109l3 1M169 117l-2 -5M-9 117l-2 -5M48 175l5 -2M48 -3l5 -2M14 78l2 5M36 113l6 -1M139 128l0 -3M13 91l-4 2M120 132l3 -6M97 110l-4 0M121 63l-4 4M139 27l-4 -2M132 84l-6 2M116 17l2 -6M55 172l-6 -1M55 -6l-6 -1M9 10l-2 3M187 10l-2 3M44 109l-1 -5M3 166l-4 -1M181 166l-4 -1M5 126l-4 6M183 126l-4 6M29 139l0 4M160 168l0 -6M79 151l-6 0M119 127l2 -2M143 37l-4 3M98 130l-6 0M103 33l-3 -1M135 143l-3 2M1 26l2 5M179 26l2 5M23 1l3 3M23 179l3 3M25 24l-5 1M89 43l-1 -5M117 30l0 7M63 110l-2 -3M34 106l2 3M62 94l5 -2M122 83l3 2M67 114l3 -2M101 25l6 -1M24 160l4 -2M14 34l0 -5M50 119l-3 4M17 70l3 3M67 84l5 -2M22 136l-3 -2M90 141l6 2M175 77l2 -3M-3 77l2 -3M37 127l2 -5M32 134l5 -3M27 83l3 -6M132 39l7 1M31 35l1 7M89 102l-4 -1M72 47l0 6M62 81l-5 0M41 63l5 1M59 6l-6 -1M59 184l-6 -1M131 36l-4 1M59 85l3 4M0 86l0 -3M178 86l0 -3M157 19l3 0"/>
<path stroke="#ea741c" stroke-width="2" d="M99 29l-2 -5M175 37l-2 -4M-3 37l-2 -4M30 130l-6 0M9 153l-3 5M187 153l-3 5M148 3l4 -2M148 181l4 -2M122 146l3 -3M47 127l4 3M49 120l-3 -6M53 112l0 4M49 171l3 3M49 -7l3 3M98 73l-5 3M158 72l-1 4M37 65l7 0M119 131l1 3M48 122l3 0M14 116l6 -3M34 135l-3 6M113 11l-3 3M12 144l0 -6M143 22l-2 -6M82 2l2 5M82 180l2 5M146 42l-1 -6M33 74l3 -1M155 178l5 0M155 0l5 0M120 121l-3 5M147 177l-1 -4M147 -1l-1 -4M149 111l-4 1M126 13l-4 -1M129 34l-5 1M119 23l5 -2M12 29l5 1M162 142l-2 7M21 27l4 -3M119 132l-4 6M60 113l2 -3M34 77l6 -1M98 150l5 0M34 105l5 2M33 40l-5 -3M50 139l-4 1M145 136l-5 1M81 36l2 3M32 9l4 1M32 187l4 1M80 174l4 -1M80 -4l4 -1M67 129l5 2M96 77l-4 -3M60 37l4 6M29 5l1 5M29 183l1 5M153 27l-6 2M151 21l0 3M19 90l-1 -5M140 102l-1 4M154 168l3 5M154 -10l3 5M142 114l4 2M14 129l7 0M54 27l5 2M147 135l-4 2M91 155l-2 -6M52 84l4 0M174 47l5 -3M-4 47l5 -3M14 101l-3 4M55 133l-5 2M59 5l-3 5M59 183l-3 5M123 39l2 5M136 139l1 -5M150 68l-4 -4M144 129l-1 -4M86 41l5 2M89 38l-1 -5M74 74l5 -3M61 106l-2 -3M30 91l3 -2M164 144l-4 0M84 166l0 5M84 -12l0 5M85 33l-3 -6M44 30l-3 -4M23 174l-1 4M23 -4l-1 4M5 14l-5 -2M183 14l-5 -2M127 146l4 4M29 14l-7 -1M170 79l5 1M-8 79l5 1M133 138l4 0M176 79l5 -1M-2 79l5 -1M106 9l1 -4M106 187l1 -4M63 111l-2 -3M38 4l-1 4M38 182l-1 4M145 136l4 4M33 44l-4 -4M105 109l-5 1M132 131l2 -4M123 83l2 -6M164 0l0 6M164 178l0 6M175 122l-5 -3M-3 122l-5 -3M137 104l4 1M43 33l1 -4M177 156l-4 0M-1 156l-4 0M48 43l4 -3M133 42l2 -2M15 27l-4 -3M129 173l-2 5M129 -5l-2 5M45 176l0 -7M45 -2l0 -7M56 32l-4 -3M31 71l-1 -6M146 136l-3 -3M110 21l-4 3M114 123l-3 4M31 142l-5 -1M78 43l-5 1M53 86l2 -4M24 7l2 -6M24 185l2 -6M6 124l-1 5M184 124l-1 5M150 65l-5 2M68 108l-2 6M64 39l-4 5M95 81l2 4M3 135l3 -3M181 135l3 -3M127 136l5 4M93 155l0 4M0 50l1 -6M178 50l1 -6M93 36l2 6M15 23l4 2M34 6l-3 -1M34 184l-3 -1M79 92l-5 0M50 121l6 3M131 103l-3 -3M119 31l4 0M33 101l-3 -1M54 122l-2 3M171 115l6 1M-7 115l6 1M96 31l2 -5M88 50l-4 -6M103 136l4 -4M124 84l3 -2M169 150l-6 -1M170 3l-4 -4M170 181l-4 -4M106 16l5 0M40 72l5 3M41 71l-3 -3M40 34l2 -5M54 41l-6 -1M46 106l3 -4M117 88l5 1M113 129l-5 0M102 64l-3 0M78 31l3 -6M93 85l-6 -2M89 109l-4 1M81 151l-5 1M130 87l-5 -4M94 73l-4 2M130 174l-6 1M130 -4l-6 1M123 117l-6 2M94 11l5 0M96 161l-1 3M175 116l3 3M-3 116l3 3M170 105l2 -5M-8 105l2 -5"/>
<path stroke="#e04a1c" stroke-width="2" d="M37 6l-4 4M37 184l-4 4M75 41l-1 -5M3 120l-2 4M181 120l-2 4M134 110l5 -4M83 149l-3 5M138 39l4 -1M176 121l4 2M-2 121l4 2M65 31l5 -2M146 175l0 5M146 -3l0 5M18 8l4 1M18 186l4 1M76 5l-3 -6M76 183l-3 -6M112 6l-4 3M112 184l-4 3M55 160l6 1M1 167l-2 3M1 -11l-2 3M179 -11l-2 3M179 167l-2 3M121 31l-6 -4M157 4l-1 -4M157 182l-1 -4M14 86l-2 -2M25 128l-5 -1M59 31l-4 0M133 105l0 -5M58 121l0 -4M136 36l0 4M149 157l0 5M28 165l2 -4M89 150l-5 -2M56 3l-4 -5M56 181l-4 -5M23 175l3 5M23 -3l3 5M57 30l-4 0M84 81l1 4M79 19l6 -3M123 31l-4 -6M96 28l-3 5M88 58l5 1M98 24l3 0M114 127l-4 0M40 13l2 -6M21 12l-1 -5M21 190l-1 -5M163 97l3 4M147 33l0 6M46 112l6 -2M114 27l-3 5M33 79l4 0M137 27l-3 3M148 58l-5 0M97 31l4 5M94 80l-1 -4M38 34l2 3M102 19l-1 3M135 122l-4 -5M160 62l-3 2M133 20l-5 -3M69 83l-4 2M19 79l-4 -1M87 25l5 2M149 33l6 -2M67 94l3 -4M31 16l3 -2M176 107l0 -7M-2 107l0 -7M139 29l-7 -2M104 18l0 4M14 74l6 -3M131 39l-4 0M73 41l4 1M23 34l0 4M106 30l2 3M18 75l-5 4M160 169l-5 0M160 -9l-5 0M112 131l3 -2M136 41l-2 -3M72 153l-5 0M91 5l-5 2M91 183l-5 2M73 59l4 -6M83 48l4 -3M123 143l-2 3M85 39l1 -4M5 47l-6 2M183 47l-6 2M143 134l4 4M60 92l2 5M82 45l4 -6M118 123l-1 -5M177 153l-2 -4M-1 153l-2 -4M30 176l4 3M30 -2l4 3M128 25l3 -5M166 143l3 -2M61 35l4 0M45 171l-2 3M45 -7l-2 3M20 11l-1 -4M20 189l-1 -4M165 5l-4 -4M165 183l-4 -4M176 160l-1 5M-2 160l-1 5M15 5l-5 0M15 183l-5 0M9 8l6 3M9 186l6 3M83 175l-2 5M83 -3l-2 5M117 172l2 4M117 -6l2 4M27 106l-4 -2M4 126l2 4M182 126l2 4M31 39l0 3M90 162l4 1M90 45l4 -4M54 33l-4 3M6 79l5 -2M184 79l5 -2M29 174l-4 2M29 -4l-4 2M42 36l-4 -1M155 134l5 4M168 142l-5 5M113 131l-2 -5M173 119l5 3M-5 119l5 3M80 19l-3 -3M158 130l0 -5M56 30l-4 -4M153 56l-2 7M100 12l7 2M86 7l-5 -5M86 185l-5 -5M106 133l-5 -2M84 175l-5 -3M84 -3l-5 -3M24 174l4 0M24 -4l4 0M132 30l-5 3M115 175l4 -2M115 -3l4 -2M54 118l3 0M163 2l4 3M163 180l4 3M20 9l5 -4M20 187l5 -4M178 33l-4 4M0 33l-4 4M48 38l-6 -3M119 11l5 -5M119 189l5 -5M112 110l5 1M179 42l-1 6M1 42l-1 6M140 27l5 1M67 15l2 -3M73 110l0 7M167 133l-5 0M85 45l4 2M126 7l-5 -3M126 185l-5 -3M14 128l4 4M165 111l2 -5M153 171l0 4M153 -7l0 4M100 23l-2 3M77 154l-1 -4M114 122l2 5M110 115l5 -4M71 82l1 3M57 78l-3 6M27 103l-3 -3M126 18l1 -3M37 110l-3 1M138 118l0 4M21 7l3 -4M21 185l3 -4M86 103l-2 4M57 88l4 -3M120 80l2 -4M69 74l-3 -3M149 173l-5 -1M149 -5l-5 -1M139 101l0 7M84 84l-3 -2M131 2l4 -1M131 180l4 -1M118 23l-3 6"/>
<path stroke="#d2301a" stroke-width="2" d="M140 42l-4 -4M175 117l0 -6M-3 117l0 -6M81 148l5 3M115 113l-5 3M169 119l5 4M-9 119l5 4M164 6l-1 -6M164 184l-1 -6M47 116l-7 0M121 133l-2 -5M174 23l5 2M-4 23l5 2M35 72l-5 -3M83 164l5 4M20 72l4 6M30 140l-4 -2M26 83l1 -3M60 125l-4 0M123 78l5 4M18 102l7 1M27 129l2 5M126 32l5 -3M146 67l1 -4M111 31l3 3M161 178l3 -3M161 0l3 -3M76 50l3 -4M47 134l-5 3M3 31l-3 -5M181 31l-3 -5M70 87l-6 -3M85 160l6 0M148 142l5 -4M176 118l3 -4M-2 118l3 -4M54 81l6 2M138 37l-4 -3M57 36l3 2M151 58l-4 4M86 165l-4 -3M104 127l0 -5M51 31l3 -3M162 152l6 -1M8 107l5 -3M163 79l0 4M156 164l2 -4M117 133l-4 1M131 175l-5 3M131 -3l-5 3M92 32l0 4M3 133l-2 4M181 133l-2 4M147 173l2 3M147 -5l2 3M12 119l-6 -2M190 119l-6 -2M169 169l6 -1M-9 -9l6 -1M-9 169l6 -1M169 -9l6 -1M62 12l4 0M39 4l-3 3M39 182l-3 3M168 151l2 5M-10 151l2 5M83 175l5 1M83 -3l5 1M99 27l0 -5M153 64l0 -4M162 142l-5 2M69 123l1 5M14 4l-2 -5M14 182l-2 -5M133 29l1 -6M61 91l4 4M12 117l-3 0M129 105l1 -4M17 86l-1 4M-2 128l5 -2M176 128l5 -2M135 25l5 0M18 27l-6 -4M118 170l-1 5M118 -8l-1 5M141 56l3 4M121 -3l-3 6M121 175l-3 6M156 158l-2 6M16 113l0 -4M124 122l-2 -6M152 59l-3 1M154 62l4 -1M111 34l3 -1M172 116l-1 6M-6 116l-1 6M49 58l3 -4M25 0l-4 4M25 178l-4 4M145 151l6 3M70 82l3 2M95 36l-3 3M123 8l-3 -3M123 186l-3 -3M82 175l2 -5M82 -3l2 -5M166 93l-3 6M149 171l-6 3M149 -7l-6 3M36 108l-4 2M152 132l-3 4M28 154l-3 3M121 8l3 -2M121 186l3 -2M158 120l-6 2M38 108l0 -3M176 53l1 -4M-2 53l1 -4"/>
<path stroke="#98100a" stroke-width="1.6" d="M96 71l-4 3M13 135l2 -6M28 97l-6 2M64 122l-4 -2M132 68l4 -3M1 135l3 -4M179 135l3 -4M92 106l-5 -4M30 75l-2 -4M148 174l1 5M148 -4l1 5M48 126l-3 -3M24 179l-2 -3M24 1l-2 -3M40 29l4 3M29 78l5 2M105 137l4 -4M35 4l3 6M35 182l3 6M92 77l7 0M159 113l-1 7M30 41l2 5M93 78l6 -1M40 40l-3 -6M123 76l-5 0"/>
<path stroke="#8a7a10" stroke-width="1.6" d="M53 60l-2 -4M11 105l3 -4M138 54l-2 4M174 151l4 0M-4 151l4 0M78 168l6 0M40 112l-3 4M65 86l-3 0M24 108l-2 -5M73 58l5 -2M3 120l-5 3M181 120l-5 3M150 25l-1 3M110 126l4 -5M125 76l2 5M166 90l2 -3M164 144l-1 5M67 94l-3 1M31 10l-4 -4M31 188l-4 -4M120 122l-5 -1M84 164l-3 -2M172 171l-2 -6M-6 171l-2 -6M159 34l-3 4M46 116l-4 5M15 173l6 3M15 -5l6 3"/>
</g></pattern>
<pattern id="ra" width="113" height="113" patternUnits="userSpaceOnUse"><g transform="scale(.5)" fill="none" stroke-linecap="round">
<path stroke="#f0a224" stroke-width="2.4" d="M206 190l-6 -1M129 57q-3 -4 -7 -6M159 139q4 4 5 10M88 159q6 0 8 -6M13 57q4 6 10 2M162 29q-1 -4 0 -8M194 229q6 -5 0 -10M194 3q6 -5 0 -10M138 122l1 -6M119 66l6 -1M85 75q-5 0 -9 -3M172 16q-5 5 -12 2M32 1q-5 4 0 8M32 227q-5 4 0 8M55 14q4 -4 8 0M44 178q5 0 9 -4M164 178l5 -2M144 179q4 -3 9 -2M59 219q6 1 7 7M59 -7q6 1 7 7M84 218l-3 6M84 -8l-3 6M121 157l-5 2M185 139q4 -8 -5 -8M178 131q4 -2 4 -7M156 17q-3 5 -8 8M128 186q2 7 -2 12M90 3l6 3M90 229l6 3M6 38q-5 -4 -1 -10M232 38q-5 -4 -1 -10M89 156q3 -5 7 -9M169 195q6 -1 13 -1M104 87l3 5"/>
<path stroke="#ea741c" stroke-width="2.4" d="M210 69q-2 -9 7 -7t6 -7M-16 69q-2 -9 7 -7t6 -7M123 36q-5 -1 -10 1t-7 7M127 94q-6 -1 -11 -2M56 8q3 4 7 2t7 -3M56 234q3 4 7 2t7 -3M209 221q1 6 7 5t8 -3M-17 -5q1 6 7 5t8 -3M-17 221q1 6 7 5t8 -3M209 -5q1 6 7 5t8 -3M179 175q3 2 7 1t7 -1M172 178q3 -2 7 -2t7 -2M141 184q3 -5 9 -2M67 12q-7 4 -12 -2M90 166q2 -4 6 -7t5 -7M42 158q13 9 10 -6M170 170q-3 -1 -7 0t-6 -3M1 156q-8 -6 1 -10t3 -10M227 156q-8 -6 1 -10t3 -10M193 38q-4 2 -7 -2t-7 -2M203 41q-5 0 -9 -2t-7 6M182 191q-4 1 -7 3t-5 5M109 79q3 -3 4 -8t7 -5M190 60q4 -3 8 0t8 -2M42 74q4 -3 8 -5t7 -7M82 128q1 9 9 6t10 5M188 138q-8 6 -9 -4t-6 -7M209 199q-6 -2 -10 3t-4 10M24 207q-5 -4 -6 3t-7 0M170 148q-11 -1 -3 -9M82 224q5 3 9 -1t9 0M82 -2q5 3 9 -1t9 0M175 223q-5 -1 -9 -4t0 -9M175 -3q-5 -1 -9 -4t0 -9M99 156q2 -6 6 -11M22 65q-6 3 -11 6M57 127q9 0 6 -8M70 102q0 5 -5 5t-4 6M96 44q4 1 5 6t6 5M71 76q3 9 12 5M90 221q1 -6 7 -8M90 -5q1 -6 7 -8M185 143q-5 0 -11 0t-11 0M203 54q-3 1 -7 1t-6 3M90 183q-6 -1 -9 4M28 156q-3 4 -7 2t-6 4M141 50q-4 -2 -9 -4M126 20q-1 7 -8 7M216 153q4 -2 6 -5t7 3M-10 153q4 -2 6 -5t7 3M86 7q2 -9 -7 -9M86 233q2 -9 -7 -9M8 172q-9 -3 -6 -11M234 172q-9 -3 -6 -11"/>
<path stroke="#e4521e" stroke-width="2.4" d="M176 128q-1 -10 9 -7M206 177q4 2 8 0t8 0M114 48q2 -5 -1 -10t-1 -10M208 166q3 5 -2 8t0 8M184 130q6 6 -1 12M113 179q0 6 5 7M107 176q-4 2 -7 5t-7 4M108 178q4 2 8 4M211 186q-4 4 -8 0t-5 -6M85 69q-2 4 -6 6t-2 8M221 71q-3 5 -10 5t-7 9M156 49q-1 -4 -5 -5t-5 -4M50 66q6 -1 7 -7t10 -2M51 194q3 5 8 4M136 82q-6 5 -10 -1t-7 7M108 169q-4 -9 6 -8t10 -3M153 91q-4 -1 -8 -2t-7 -4M44 76q-2 7 5 6t7 5M29 120q6 0 11 5M104 82q10 -4 1 -9t-6 -7M103 171q1 6 -2 11M44 65q-6 2 -12 0M123 196q-4 3 -8 1t-8 0M173 172q-4 7 -8 0t-8 0M210 15q1 5 -4 6t-6 5M206 216q-4 -1 -6 3t-4 5M206 -10q-4 -1 -6 3t-4 5M110 109q-8 0 -8 8t-7 9M97 173q2 5 6 2t6 2M211 53q-3 2 -8 2t-8 -2M146 148q4 -7 -4 -9t-4 -9M19 189q4 -2 3 -6t0 -7M204 86q4 -3 5 -8M60 125q6 -1 5 -6t5 -7M209 167q-4 -1 -8 0t-8 -2M98 41q3 -2 7 -2t7 -1M190 181q7 -1 6 -8M30 151q0 4 3 6t3 6M141 121q-4 1 -8 2t-8 4M112 206q5 1 9 -3M43 187q-3 -8 5 -5t7 -1M26 162q-6 -8 -9 1t-8 -4M119 129q2 -5 7 -3t3 -7M210 42q1 -4 4 -6t2 -7M172 141q-6 -4 -5 -11M0 70q-1 -6 4 -8t7 -5M226 70q-1 -6 4 -8t7 -5"/>
<path stroke="#d8381a" stroke-width="2.5" d="M207 164q4 8 -5 9M214 73q10 -3 8 7t10 0M-12 73q10 -3 8 7t10 0M166 53q-5 -4 -2 -9M218 38q-4 3 -8 6t-8 6M220 72q-2 -6 -8 -6M102 185q-4 -2 -8 -1t-8 1M187 50q2 4 2 8t-3 7M205 40q2 13 -9 5t-9 4M75 9q6 -6 -2 -8t-4 -7M75 235q6 -6 -2 -8t-4 -7M11 63q-2 -6 4 -8M14 54q-6 3 -10 -2t-10 -1M240 54q-6 3 -10 -2t-10 -1M46 129q-5 1 -10 1M10 183q6 -2 10 2M100 117q5 1 8 -3t8 -2M111 165q-5 -1 -5 -6t-5 -6M114 174q-2 -5 -7 -8t-7 -8M46 171q11 -2 4 7M55 196q4 -6 10 -2t8 -6M53 94q-4 1 -8 -1t-7 4M218 3q6 -7 10 1M-8 3q6 -7 10 1M-8 229q6 -7 10 1M218 229q6 -7 10 1M183 45q0 -8 -7 -8M84 223q-10 -10 4 -11M84 -3q-10 -10 4 -11M93 193q2 -4 -1 -6t-5 -4M101 227q0 -5 -3 -8M101 1q0 -5 -3 -8M-5 173q5 -1 9 -2t9 2M221 173q5 -1 9 -2t9 2M47 172q-5 -1 -3 -6t-1 -7M79 176q4 1 7 1t7 -2M169 84q-6 -6 2 -9M217 148q-4 0 -6 4t-4 6M204 141q-5 5 -8 -2t-8 -3M183 153q-7 -2 -8 5M92 163q-7 -1 -11 4M189 18q-1 6 -6 11M12 192q2 -3 4 -5t6 -4M20 160q-10 -1 -9 9M57 211q-7 0 -12 -5M96 98q5 -3 11 -1M67 169q-1 -7 -7 -11M154 176q-4 3 -6 7t-4 8M68 76q5 1 9 2t8 5M112 71q3 5 9 4t9 2M108 203q4 2 5 6t6 5M120 26q5 0 9 -3t6 7M201 183q-2 -6 -8 -6t-10 -4M116 180q3 -3 7 -6t6 -7M124 117q5 1 7 -4t7 -5M15 181q3 4 9 3t9 -1M44 178q0 -6 4 -12"/>
<path stroke="#b42010" stroke-width="1.7" d="M145 135q-4 5 -10 7M131 56q3 -4 6 -8M219 87q-3 -6 0 -11M-7 87q-3 -6 0 -11M202 188l6 -3M187 8q-1 -8 -9 -8M187 234q-1 -8 -9 -8M175 136q-6 -1 -10 5M61 158q-6 -4 -12 -1M122 20l-7 -1M105 227q-6 0 -10 -4M105 1q-6 0 -10 -4M20 76q-4 3 -7 0M119 186l3 6M50 86q-4 4 -9 3"/>
</g></pattern>
<pattern id="rb" width="83" height="83" patternUnits="userSpaceOnUse"><g transform="scale(.5)" fill="none" stroke-linecap="round">
<path stroke="#f0a224" stroke-width="2.4" d="M5 152l2 -6M171 152l2 -6M15 14q-5 0 -9 3M39 65q4 -1 7 0M129 161l-5 -1M129 -5l-5 -1M162 87q1 6 3 12M-4 87q1 6 3 12M145 138q-5 3 -9 5M20 5q2 5 5 9M20 171q2 5 5 9M67 22q-4 -5 -2 -11M98 10l1 6M13 103q5 1 9 -1M22 59q-1 7 -8 7M7 51q-1 6 -7 6M173 51q-1 6 -7 6M109 98q0 -9 9 -9M114 4q6 -1 9 5M114 170q6 -1 9 5M70 106q-1 4 -2 8M135 53q-6 1 -8 5M161 77q4 -1 7 -4M-5 77q4 -1 7 -4M77 160q3 -4 6 -7M77 -6q3 -4 6 -7M70 78q-4 2 -8 3M134 -3q1 6 -2 11M134 163q1 6 -2 11M30 57q-2 6 -6 11M58 143l6 -1"/>
<path stroke="#ea741c" stroke-width="2.4" d="M61 78q-5 1 -9 2M150 48q9 5 2 12M5 142q-2 8 5 11M171 142q-2 8 5 11M52 147q1 7 -6 9t-4 9M135 32q5 0 9 -2t5 -8M110 49q-7 -5 1 -8t3 -7M79 146q-7 11 5 7t-5 7M140 73q9 -1 5 7M173 43q-4 -2 -8 0t-7 -4M7 43q-4 -2 -8 0t-7 -4M3 147q1 -4 -2 -8t-5 -6M169 147q1 -4 -2 -8t-5 -6M161 144q-1 -6 -7 -6M-5 144q-1 -6 -7 -6M112 149q-5 -3 -10 -4t-3 -10M122 20q6 3 8 -3t6 -5M112 141q-6 1 -7 6M71 8q-7 2 -12 -3M71 174q-7 2 -12 -3M27 134q1 -6 6 -8t5 -8M85 99q3 -3 3 -7t4 -7M6 81q-4 3 -5 8t-6 8M172 81q-4 3 -5 8t-6 8M-1 120q5 -4 10 -2M165 120q5 -4 10 -2M37 141q-2 -3 -3 -7t-4 -6M129 118q1 4 0 9t-1 9M145 41q-3 -7 3 -9M46 140q-6 4 -13 2M70 61q1 -5 6 -4t6 -3M159 51q-2 6 4 9t8 6M-7 51q-2 6 4 9t8 6M41 158q-6 -1 -7 -8M142 31q-1 -9 8 -7M55 91q0 4 -1 8t-4 7M24 152q-2 -5 -7 -5t-8 -2M24 56q0 5 -1 9M143 22q-5 -5 -12 -3M15 13q-4 4 -9 2t-9 0M181 13q-4 4 -9 2t-9 0M105 16q-2 -7 2 -12M105 182q-2 -7 2 -12M13 159q-5 -2 -6 -7t-3 -9M179 159q-5 -2 -6 -7t-3 -9M25 66q6 -1 8 5t4 9M149 97q-4 2 -8 4t-4 7M125 157q-2 -5 3 -7t1 -7M156 125q1 -5 1 -11M-10 125q1 -5 1 -11M30 126q3 -6 -3 -8M38 52q-6 3 -6 10M34 136q0 -7 -7 -6t-9 -4M54 24q8 3 5 11M140 16q-1 5 -6 6t-8 5M7 149q-2 -6 4 -8t4 -8"/>
<path stroke="#e4521e" stroke-width="2.4" d="M165 89q-5 2 -9 3t-9 3M73 163q-4 -2 -8 -2t-7 -4M73 -3q-4 -2 -8 -2t-7 -4M163 93q-2 -6 -8 -3M-3 93q-2 -6 -8 -3M130 47q8 2 7 -6t8 -4M16 126q6 -2 7 -8t8 -6M152 106q-6 -5 -10 1t-6 8M77 148q-5 2 -10 0t-9 5M1 85q3 2 3 6t5 5M167 85q3 2 3 6t5 5M13 68q-1 5 -6 5t-8 2M179 68q-1 5 -6 5t-8 2M95 82q-6 -1 -12 0M70 155q-4 0 -7 -2t-7 -3M150 158q-5 0 -5 4t2 6M150 -8q-5 0 -5 4t2 6M121 114q0 5 2 10t9 4M172 98q-6 5 -10 -1t-10 2M6 98q-6 5 -10 -1t-10 2M5 54q-2 5 -7 7M171 54q-2 5 -7 7M96 147q2 3 5 5t3 6M97 61q5 3 9 0M141 125q-6 2 -7 -4t-7 -4M37 134q5 3 9 7M97 98q-3 -6 2 -10M116 62q5 1 9 1t7 6M83 110q0 4 -3 8t-5 7M133 2q-5 2 -8 6M133 168q-5 2 -8 6M10 152q3 -4 8 -5t8 -4M17 149q5 0 10 1t10 1M7 37q-1 5 -2 11M173 37q-1 5 -2 11M131 24q9 0 6 9t9 6M83 71q-3 5 0 9M4 92q4 0 6 3t5 4M97 119q-5 3 -2 9t2 9M105 109q-3 -3 -2 -7t-3 -7M9 131q0 5 1 11t2 10M175 131q0 5 1 11t2 10M112 93q0 -5 -1 -10t-4 -9M61 152q4 -9 -6 -9M37 71q4 -4 6 -8M134 97q1 6 6 10M140 14q-3 -3 -7 -6M143 21q-10 10 -12 -4M6 77q-8 4 -2 11t2 11M172 77q-8 4 -2 11t2 11M136 108q9 7 -3 9M131 36q4 -2 6 -5t8 2M47 44q3 -2 6 -5t-4 -7M164 150q-7 -2 -3 -8t-5 -7M-2 150q-7 -2 -3 -8t-5 -7"/>
<path stroke="#d8381a" stroke-width="2.5" d="M61 157q0 -6 6 -7M10 52q-4 5 -2 10t8 6M176 52q-4 5 -2 10t8 6M54 9q5 -2 7 3t7 0M137 23q0 -7 -7 -6t-7 -6M49 153q5 4 10 1t8 6M90 72q6 0 7 -6t6 -7M137 135q-7 -1 -6 -8M135 84q-5 1 -4 6t-8 1M62 27q-7 -2 -12 3M116 100q-4 -3 -9 -2t-9 -1M146 141q-1 -7 -7 -8M6 76q1 7 -5 11M172 76q1 7 -5 11M68 127q0 5 2 10t6 8M140 42q-4 0 -8 0t-8 2M124 95q5 -3 10 -3t10 -4M17 137q-6 -2 -9 3t-7 6M183 137q-6 -2 -9 3t-7 6M69 121q6 -10 -6 -9t0 -11M137 107q-4 1 -6 5t-4 6M126 93q8 -2 6 6t9 1M128 131q8 -1 5 -9t-3 -9M118 -1q-4 2 -6 6t-6 5M118 165q-4 2 -6 6t-6 5M101 118q-7 4 -7 -4t-8 -2M135 120q-1 -7 -7 -10M-2 85q8 -4 8 5t1 9M164 85q8 -4 8 5t1 9M46 108q5 3 9 -2t9 2M18 62q3 -5 8 -3t7 -5M37 138q-5 1 -9 4t-9 2M94 87q-3 3 -3 6t-7 2M36 136q2 8 9 3M3 73q-8 -8 3 -12M169 73q-8 -8 3 -12M56 109q5 4 11 2M31 132q3 5 6 10M93 100q6 -1 7 -7t6 -7M64 15q-3 -5 -3 -10t1 -11M64 181q-3 -5 -3 -10t1 -11M153 137q-2 4 -5 8t-6 8M149 48q5 1 6 -4t6 -5M82 63q10 -4 6 6t8 5M121 91q1 -7 9 -8"/>
<path stroke="#b42010" stroke-width="1.7" d="M23 163q1 6 7 6M23 -3q1 6 7 6M1 91q12 -2 4 -10M167 91q12 -2 4 -10M27 56q1 6 2 11M61 161q-3 3 -7 7M61 -5q-3 3 -7 7M61 5l6 -2M61 171l6 -2M143 36l-6 -2M126 167q8 -2 4 -9M126 1q8 -2 4 -9M105 9l-5 3M56 155q-1 9 7 10M56 -11q-1 9 7 10M92 108q6 1 9 5M4 77q6 -3 12 1M170 77q6 -3 12 1M101 74q3 7 -4 9M39 145q-6 -5 -10 2"/>
</g></pattern>
<pattern id="ty" width="79" height="79" patternUnits="userSpaceOnUse"><g transform="scale(.5)" fill="none" stroke-linecap="round">
<path stroke="#e6d420" stroke-width="1.9" d="M75 128l-5 -2M61 139l4 -2M108 81l-3 -2M70 141l4 3M11 18l3 -5M35 42l-3 1M26 17l-3 -3M100 81l3 -4M28 13l-4 0M152 56l4 5M-6 56l4 5M133 97l-4 3M123 74l4 1M40 108l3 -4M62 158l3 -3M62 0l3 -3M81 143l4 1M104 108l-4 -5M133 91l4 -5M59 114l-1 -4M139 26l-3 1M115 90l5 -1M64 156l-2 -4M64 -2l-2 -4M103 73l6 0M144 26l-3 -5M84 117l-5 -2M91 76l-2 -7M56 26l-3 4M103 11l5 -4M103 169l5 -4M119 128l3 -4M67 158l-4 -2M67 0l-4 -2M46 57l-5 -2M62 136l5 2M49 73l4 -2M99 116l3 -3M144 89l-5 -1M107 5l1 6M107 163l1 6M53 67l-4 2M75 70l-4 1M150 108l-2 4M-8 108l-2 4M92 148l-5 -3M9 149l-2 4M9 -9l-2 4M167 -9l-2 4M167 149l-2 4M77 93l4 -2M102 108l-4 -3M113 96l-6 1M107 70l-4 1M67 72l1 4M40 39l4 -4M119 156l0 4M119 -2l0 4M71 70l5 2M72 139l-4 4M122 3l-2 5M122 161l-2 5M56 148l6 1M56 -10l6 1M81 100l5 5M105 155l4 -4M105 -3l4 -4M89 140l-7 1M103 102l-1 -5M47 23l-4 -1M96 69l3 4M56 146l-2 -4M0 114l3 4M158 114l3 4M69 140l2 6M60 134l6 -1M27 127l4 -5M108 103l-6 2M22 116l4 4M59 88l3 1M126 97l2 -5M4 23l-4 -5M162 23l-4 -5M33 152l-3 -4M33 -6l-3 -4M143 58l-4 4M72 107l5 -3M37 40l1 4M94 80l-5 1M20 37l-7 2M64 112l-4 0M7 16l-4 4M165 16l-4 4M138 136l0 -3M53 120l-5 -3M90 6l0 6M90 164l0 6M7 91l4 5M165 91l4 5M121 30l2 -4M20 129l6 1M84 151l-3 4M84 -7l-3 4M23 35l3 -4M149 25l1 -4M-9 25l1 -4M37 71l4 -2M111 21l-3 2M2 137l7 -1M160 137l7 -1M129 68l5 4M77 148l-1 -4M71 73l3 -1M129 23l6 -1M-2 16l6 0M156 16l6 0M124 118l-3 2M2 109l-2 -4M160 109l-2 -4M112 36l6 -1M80 53l5 5M63 99l-2 -6M43 71l-2 3M65 147l5 0M137 93l-1 4M100 20l3 3M106 111l0 4M147 81l0 -4M13 89l-4 -2M37 95l3 -3M108 80l-1 -4M35 151l-6 -2M35 -7l-6 -2M98 110l-3 3M26 38l-4 2M129 91l3 2M81 125l-2 6M58 157l-2 -4M58 -1l-2 -4M142 79l3 3M70 4l3 -5M70 162l3 -5M66 148l4 -5M51 8l-1 6M149 72l1 4M-9 72l1 4M68 149l-1 4M68 -9l-1 4M140 95l-4 -2M139 94l6 1M138 117l-3 5M118 107l6 -1M62 97l-2 -6M135 28l4 1M95 155l1 5M95 -3l1 5M17 148l1 -6"/>
<path stroke="#d4c41a" stroke-width="1.8" d="M88 82l3 -4M128 125l-5 1M67 33l1 -6M57 43l5 -5M57 34l1 5M99 25l-6 -1M145 82l-5 -2M48 29l-4 4M18 14l-5 -3M121 61l-4 0M137 11l3 0M153 119l4 -3M-5 119l4 -3M44 36l5 4M26 34l6 -3M72 10l-3 -1M72 168l-3 -1M49 134l-1 -5M63 67l0 -5M151 48l4 -3M-7 48l4 -3M159 148l-4 4M1 -10l-4 4M1 148l-4 4M159 -10l-4 4M132 68l3 -1M97 24l-4 4M149 30l-2 -4M-9 30l-2 -4M68 68l0 4M32 16l-5 3M95 104l3 1M133 138l0 5M12 154l-2 -6M12 -4l-2 -6M52 146l2 4M58 113l-3 -4M104 113l-1 4M103 91l6 -2M69 21l-3 3M3 7l4 6M3 165l4 6M161 7l4 6M161 165l4 6M56 154l0 -4M56 -4l0 -4M158 102l-5 -4M0 102l-5 -4M153 74l-7 2M-5 74l-7 2M38 20l4 3M67 2l-1 4M67 160l-1 4M94 80l-6 0M50 35l-2 -2M91 138l-3 -3M140 83l-5 -4M17 36l2 -3M34 45l-3 -3M121 5l0 -4M121 163l0 -4M43 91l-7 -2M37 90l4 5M158 16l-3 3M0 16l-3 3M62 39l2 -3M45 101l-3 -3M133 93l-3 -2M105 103l-6 1M86 135l1 5M102 111l-4 0M126 83l-1 5M93 144l-3 -3M113 67l3 -1M152 42l6 1M-6 42l6 1M31 20l-4 -5M148 39l-4 -2M106 43l2 4M102 75l2 -6M129 64l-4 3M61 98l3 2M146 24l-1 6M0 95l4 0M158 95l4 0M105 101l-3 4M82 28l0 4M75 121l5 -3M27 30l-6 -2M3 22l3 2M161 22l3 2M153 77l-7 0M-5 77l-7 0M86 141l1 -6M117 157l-2 -4M117 -1l-2 -4M84 94l-5 2M40 10l-5 -4M40 168l-5 -4M87 142l-2 4M141 82l3 -1M113 85l-3 -5M42 47l-3 6M92 22l-7 0M54 43l-3 1M88 129l-4 -6M88 112l5 3M62 79l-3 2M95 112l4 5M115 154l-4 -2M115 -4l-4 -2M107 116l4 -3M121 64l4 6M155 81l3 -6M-3 81l3 -6M45 100l-2 3M140 98l-5 4M152 36l-5 -4M-6 36l-5 -4M38 22l4 -2M55 34l2 3M84 138l-1 -6M146 42l1 6M24 131l-6 2M40 17l2 -3M67 98l-1 3M145 112l-5 0M96 106l-6 1M48 56l-5 0M92 15l0 7M76 157l2 -3M76 -1l2 -3M29 152l2 4M29 -6l2 4M54 28l-7 -1M1 135l5 0M159 135l5 0M40 38l0 -3M38 42l-4 -1"/>
<path stroke="#b8a816" stroke-width="1.7" d="M73 149l-2 -2M115 153l4 -4M115 -5l4 -4M99 72l0 -3M100 118l1 -6M23 144l-3 2M57 66l3 4M131 59l1 -4M128 68l-6 3M159 60l-3 3M1 60l-3 3M154 132l-5 3M-4 132l-5 3M143 36l2 -5M131 141l5 -1M62 131l-3 4M146 34l3 0M15 26l2 2M97 76l-3 1M124 127l-2 4M135 67l-7 0M117 12l4 -1M75 94l3 5M32 20l3 5M122 156l-5 -3M122 -2l-5 -3M151 73l-5 -3M-7 73l-5 -3M38 153l-2 -5M38 -5l-2 -5M119 1l-4 -1M119 159l-4 -1M57 46l6 1M15 47l-4 1M112 155l-3 -2M112 -3l-3 -2M76 75l-3 -3M73 73l-2 -4M138 89l1 6M126 152l-3 3M126 -6l-3 3M135 67l6 0M58 77l3 -3M77 1l-6 2M77 159l-6 2M77 108l5 4M36 121l2 -6M98 116l4 -4M80 117l-5 1M66 90l-5 0M33 112l-5 5M66 148l4 6M66 -10l4 6M87 141l4 -3M100 105l-5 2M155 137l1 -7M-3 137l1 -7M35 95l3 -4M93 20l-4 5M72 132l2 3M73 7l-1 5M73 165l-1 5M129 2l-5 4M129 160l-5 4M102 20l4 -2M131 5l-5 4M131 163l-5 4M38 50l-4 -1M79 99l4 -4M118 135l1 -4M23 73l-5 -2M90 112l-5 -3M95 104l0 5M93 146l-3 -1M62 149l-2 5M62 -9l-2 5M75 29l5 4M135 10l1 -3M135 168l1 -3M142 105l6 3M77 123l-1 -6"/>
<path stroke="#f0e66a" stroke-width="1.9" d="M73 133l-2 -4M126 57l-4 -2M117 111l4 3M6 21l4 -3M164 21l4 -3M97 111l2 -5M50 70l2 -7M75 113l1 6M134 137l7 0M99 104l-6 -1M82 75l3 3M54 71l1 5M43 20l-4 -1M124 129l-6 -2M59 112l-5 4M84 78l4 -5M119 -1l-3 4M119 157l-3 4M9 54l-2 -4M167 54l-2 -4M138 78l-3 5M4 131l-2 5M162 131l-2 5M80 121l-2 -4M128 119l-4 2M137 141l-5 1M59 115l4 -2M139 53l5 2M88 88l3 -1M135 94l-5 2M1 44l3 4M159 44l3 4M31 43l3 6M66 93l3 -3M83 34l3 -5"/>
</g></pattern>
<pattern id="oa" width="89" height="89" patternUnits="userSpaceOnUse"><g transform="scale(.5)" fill="none" stroke-linecap="round">
<path stroke="#d4c41a" stroke-width="1.8" d="M116 87l5 -2M30 114l5 4M128 158l2 -5M171 48l4 0M-7 48l4 0M159 12l2 -3M56 137l6 1M73 75l-5 1M58 73l-2 -4M85 113l-3 -6M99 30l-2 -5M118 137l1 4M27 91l6 2M56 138l-3 4M94 171l1 -3M94 -7l1 -3M30 2l-3 -1M30 180l-3 -1M14 96l3 5M6 99l-3 -2M184 99l-3 -2M70 100l-4 0M154 3l-1 3M154 181l-1 3M40 93l4 1M101 41l0 -4M49 137l0 5M128 12l4 0M83 139l0 -3M101 151l6 -3M71 17l-6 -2M138 76l-4 -3M141 23l-6 1M140 80l5 -1M99 112l0 5M124 137l5 5M177 166l-3 -6M-1 166l-3 -6M107 34l0 5M29 53l3 -4M156 59l6 -1M46 154l3 -6M106 46l-2 -5M73 135l2 3M100 142l-2 4M62 49l-4 -1M146 70l-2 5M42 12l7 -2M64 89l-3 2M38 29l0 -6M99 106l1 -4M111 98l-1 -6M41 7l5 -3M41 185l5 -3M34 112l-2 3M46 160l5 3M169 27l6 -3M-9 27l6 -3M149 68l4 -3M73 102l-7 0M16 112l5 -2M117 80l4 -5M128 161l7 -1M99 113l-2 -3M124 60l2 3M129 105l-5 -2M5 84l6 -4M183 84l6 -4M150 34l3 -3M137 172l-6 1M137 -6l-6 1M160 121l6 -1M61 164l-6 2M9 153l1 5M4 62l-4 0M182 62l-4 0M95 88l-5 -3M82 83l-3 2M27 27l-6 0M38 127l-4 -2M124 106l4 3M138 45l2 3M175 92l0 6M-3 92l0 6M53 174l-5 1M53 -4l-5 1M168 23l4 5M-10 23l4 5M127 123l-1 -4M8 145l4 -3M134 -2l-3 5M134 176l-3 5M54 49l1 4M47 51l6 0M100 14l2 -4M122 62l-1 7M3 7l5 -2M3 185l5 -2M181 7l5 -2M181 185l5 -2M28 42l-6 2M161 73l-4 4M44 11l-3 -4M44 189l-3 -4M66 107l-3 -2M160 120l5 2M74 88l-3 -5M104 104l0 -4M65 100l3 2M37 122l1 -5M80 156l-5 -4M39 39l7 1M127 12l6 3M74 75l7 -1M11 15l-2 5M189 15l-2 5M108 57l4 4M80 74l-4 -4M71 78l3 4M96 110l4 -4M90 12l4 -5M90 190l4 -5M59 135l-2 -3M101 138l5 1M30 33l1 -6M49 133l0 5M32 105l-4 3M126 46l5 5M93 12l7 -1M166 130l3 0M27 135l-2 5M178 74l0 5M0 74l0 5M134 161l4 6M15 97l4 -3M140 55l4 -1M99 138l0 5M169 74l-4 2M12 16l-2 5M47 143l0 -6M52 99l0 -5M135 85l2 -4M131 6l6 0M131 184l6 0M130 68l2 -5M109 9l2 3M79 62l-2 2M31 5l2 -5M31 183l2 -5M32 19l-5 1M88 181l-1 -7M88 3l-1 -7M1 137l1 5M179 137l1 5M1 172l-1 5M1 -6l-1 5M179 -6l-1 5M179 172l-1 5M32 72l0 -7M10 30l-6 1M188 30l-6 1M37 114l-5 1M134 179l3 -5M134 1l3 -5M173 147l-5 -3M-5 147l-5 -3M177 65l-5 -3M-1 65l-5 -3M171 38l-3 -5M-7 38l-3 -5M102 36l6 1M135 167l-5 2M54 48l-4 -1M175 164l-3 6M-3 164l-3 6M125 156l2 -3M70 80l5 1M36 57l7 0M120 117l4 -5M74 94l-1 -3M108 100l-3 5M125 64l-4 -1M73 43l3 -2M93 127l-5 -5M164 42l-2 -2M130 140l4 1M51 50l-4 3M10 58l3 -5M146 76l6 3M145 92l0 -3M47 89l-5 -2M139 13l2 3M154 14l3 -4M70 139l-6 -2M36 153l5 4M15 156l3 -3M17 49l-1 5M42 146l5 3M141 169l3 3M141 -9l3 3M45 134l-5 -2M103 58l4 0M25 110l-5 -4M64 176l-3 -3M64 -2l-3 -3M12 42l4 -4M50 136l-3 6M15 94l1 5M13 175l-1 -5M13 -3l-1 -5M110 107l-1 5M16 109l-2 -6M35 140l-2 -3M11 65l3 3M174 70l2 5M-4 70l2 5M87 56l4 0M50 44l2 5M40 44l3 1M1 150l5 -2M179 150l5 -2M137 44l-7 -1M15 63l3 -2M59 79l-4 2M15 167l6 0M147 174l-1 -4M147 -4l-1 -4M25 38l6 -1M52 47l1 5M155 126l1 -6M11 13l3 3M159 90l5 -3M53 132l6 4M117 91l0 -5M39 119l-3 5M87 63l7 1M138 98l-4 -5M68 87l4 -4M170 59l4 -1M-8 59l4 -1M94 76l3 2M44 76l-7 1M55 166l-6 2M-1 88l6 -2M177 88l6 -2M44 134l4 -2M111 115l4 -3M90 126l4 4M153 83l-2 4M144 156l-5 4M142 164l4 4M13 170l-4 -2M13 -8l-4 -2M122 115l1 -5M58 101l5 -1M43 135l3 4M39 115l0 4M109 67l4 -5M39 41l1 -4M144 140l-3 1M49 118l-4 -1M66 140l2 4M130 174l5 -4M130 -4l5 -4M160 62l0 -6M121 111l1 -5M67 73l-4 2M32 74l-1 3M40 13l3 3M0 73l2 -4M178 73l2 -4M98 160l-6 2M26 103l3 3M100 19l2 5M7 67l1 -6M185 67l1 -6M109 15l4 1M74 139l2 -5M160 162l0 7M158 161l-4 3M36 21l-5 2M13 48l0 -4M58 18l-5 2M162 159l3 -6M143 27l0 4M44 84l-2 7M49 176l-4 -2M49 -2l-4 -2M39 135l-4 2M29 114l-5 1M1 168l6 1M1 -10l6 1M179 -10l6 1M179 168l6 1M34 134l1 6M164 9l-5 0M164 187l-5 0M44 143l-2 5M131 138l-5 -3M27 67l-7 -1M175 168l-5 -2M-3 168l-5 -2M47 37l3 3M134 124l3 -6M119 71l-2 -5M76 135l7 -2M45 122l3 -5M132 175l0 -4M132 -3l0 -4M61 147l2 -4M113 159l-2 -3M98 17l1 4M34 18l-3 -6M168 153l-6 -1M102 116l-1 -6M123 30l2 -5M28 91l2 -4M155 1l1 6M155 179l1 6M101 45l-4 2M131 142l6 1M22 124l3 1M30 54l5 2M55 66l4 -1M80 129l0 4M42 133l1 6M98 26l-2 -4M28 92l-2 4M115 115l-3 -3M75 137l3 -4M0 174l6 3M0 -4l6 3M178 -4l6 3M178 174l6 3M173 34l2 3M-5 34l2 3M145 56l-4 4M56 30l2 -3M9 58l-1 -5M187 58l-1 -5M40 53l5 5M105 152l7 1M59 25l-4 3M95 25l3 3M34 18l4 2M140 130l5 2M161 144l-5 5M74 19l-3 4M165 139l-3 -1M148 19l4 -2M97 122l-2 7M154 7l-5 -2M154 185l-5 -2M131 105l1 3M59 154l-3 6M72 63l-2 3M168 69l-5 4M150 98l5 -3M135 131l2 3M116 141l-4 0M108 73l-6 1M10 103l-2 4M188 103l-2 4M136 50l0 4M6 141l-6 -4M184 141l-6 -4M91 5l3 -3M91 183l3 -3M92 96l0 -6M23 12l0 -4M23 190l0 -4M24 98l6 0M95 22l0 4M7 6l1 -6M7 184l1 -6M185 6l1 -6M185 184l1 -6M104 113l-2 6M52 19l7 2M77 127l0 4M118 40l6 -3M80 102l2 6M26 97l1 6M93 6l0 4M93 184l0 4M96 20l3 0M41 92l4 -5M24 70l-1 4M16 151l-3 3M42 61l5 -3M4 90l-2 -5M182 90l-2 -5M142 164l2 -5M81 32l-3 0M110 145l1 6M106 20l4 -2M5 6l2 4M5 184l2 4M183 6l2 4M183 184l2 4M128 79l3 -3M161 12l-4 2M131 39l2 -3M143 100l-7 -1M37 101l-3 -1M75 16l1 3M41 25l3 -4M13 127l2 -3M142 63l-3 -1M158 127l-2 -6M26 18l-3 5M138 62l4 5M68 150l5 0M97 20l2 -5M62 150l0 -4M163 157l-2 5M120 158l4 -3M98 118l-4 -2M83 108l4 0M36 46l3 -5M123 174l3 -6M123 -4l3 -6M129 78l1 -4M100 143l0 -3M156 100l5 -3M79 6l2 6M79 184l2 6M51 126l2 4M63 6l-7 -1M63 184l-7 -1M71 98l2 3M18 96l2 2M173 157l-6 0M-5 157l-6 0M132 69l-3 -3M61 -1l0 7M61 177l0 7M132 13l4 3M44 171l0 -3M44 -7l0 -3M-2 151l5 5M176 151l5 5M42 176l0 4M42 -2l0 4M132 56l-2 -3M89 68l-2 3M48 5l7 3M48 183l7 3M140 73l3 1M57 147l-5 0M37 28l2 -6M87 118l-2 3M97 55l-2 -2M154 107l-3 -5M100 131l-5 -4M147 26l-2 -4M79 94l5 0M101 13l-4 -4M68 142l2 -3M158 74l3 -2M137 157l-6 -1M27 109l0 -5M97 177l0 -7M97 -1l0 -7M90 89l3 5M163 18l0 -4M52 64l5 -5M2 153l5 -4M180 153l5 -4M169 52l3 -2M-9 52l3 -2M168 62l4 -6M-10 62l4 -6M112 138l5 5M85 123l-1 5M132 69l4 2M65 160l6 -2M110 32l6 -1M134 165l-6 1M59 105l-1 5M56 79l0 4M11 158l-6 3M189 158l-6 3M101 156l5 3M168 72l3 -3M-10 72l3 -3M45 125l5 -5M34 141l-6 3M26 100l-4 -2M101 60l5 2M89 13l7 -2M19 105l2 5M76 164l4 -5M129 128l6 2M74 83l-6 -4M53 14l2 5M168 75l-5 -4M2 7l3 3M2 185l3 3M180 7l3 3M180 185l3 3M27 34l-4 -6M128 124l-4 0"/>
<path stroke="#b8a816" stroke-width="1.7" d="M62 50l0 -5M7 54l0 -5M185 54l0 -5M97 177l5 -1M97 -1l5 -1M117 160l-4 6M147 72l5 -2M29 67l-5 -1M108 89l5 -1M174 90l-1 -7M-4 90l-1 -7M160 160l-4 -2M122 98l3 -2M138 107l4 -3M164 98l1 -6M36 87l0 4M170 37l-6 -3M148 61l-4 3M79 134l0 6M124 75l4 1M50 15l3 -4M23 43l-1 -3M87 98l-3 2M15 31l-4 1M68 21l-4 1M88 86l-4 -3M114 161l2 4M17 53l4 -3M1 168l0 -7M179 168l0 -7M60 93l3 6M45 55l3 2M97 11l2 -3M97 189l2 -3M78 96l4 -5M147 2l-4 1M147 180l-4 1M2 62l1 -7M180 62l1 -7M101 12l-2 6M159 122l-4 0M37 18l-2 -3M164 153l5 3M79 63l2 -3M139 58l6 -3M102 6l-5 2M102 184l-5 2M171 99l6 -1M-7 99l6 -1M55 34l0 4M101 9l2 -6M101 187l2 -6M139 142l-1 5M103 65l1 7M39 141l-5 -2M122 28l5 4M78 164l4 1M37 153l5 3M150 159l5 1M77 136l3 6M110 162l5 0M92 170l1 5M92 -8l1 5M14 82l-4 -4M53 10l1 7M166 145l-4 0M91 49l3 -5M109 72l-3 -5M97 108l0 5M52 5l-2 3M52 183l-2 3M53 117l6 0M100 20l4 -3M62 34l-4 3M84 54l2 4M7 81l-2 4M185 81l-2 4M84 130l0 -4M61 123l-4 -3M131 102l-3 4M140 50l0 4M25 95l5 -3M110 164l-1 5M101 113l0 -5M119 35l2 -6M40 23l-2 -2M49 62l-7 -1M46 61l-4 5M91 124l0 4M97 30l2 3M143 17l0 5M85 9l1 4M143 68l-1 7M17 20l-1 -4M149 26l5 -2M15 76l1 7M107 40l-3 -4M23 53l-4 -6M101 23l0 4M88 81l2 6M11 161l2 -5M66 84l0 -6M74 79l-2 -6M117 142l1 3M24 30l5 0M89 101l-7 -2M37 40l-3 -1M54 152l0 -4M141 165l3 5M72 151l5 -2M30 115l5 -1M120 113l-3 3M97 62l1 -3M91 10l4 2M127 34l0 3M114 126l-1 4M56 93l4 5M123 102l5 -2M51 155l-2 3M117 58l1 5M80 10l4 -4M80 188l4 -4M14 22l-5 -4M99 64l-6 2M93 60l7 -1M45 24l-6 0M66 95l-2 -3M151 20l-3 -5M117 123l5 -2M84 13l6 1M108 77l3 1M142 5l4 -4M142 183l4 -4M168 89l5 3M-10 89l5 3M166 103l6 -1M-12 103l6 -1M34 143l-6 -1M55 43l-5 0M151 75l-4 4M50 2l-4 -1M50 180l-4 -1M4 8l-6 3M4 186l-6 3M182 8l-6 3M182 186l-6 3M35 35l-2 3M119 124l3 4M88 14l-3 3M15 35l-7 -2M37 122l0 5M157 38l-1 -5M166 61l-2 3M146 133l-3 -3M67 174l1 -4M67 -4l1 -4M166 31l-6 0M46 36l-5 -1M39 167l3 -2M104 146l-4 2M30 108l2 4M26 3l3 1M26 181l3 1M122 132l3 2M144 136l-6 -3M8 155l-5 -1M186 155l-5 -1M20 122l-6 1M154 13l-2 3M82 84l-2 -3M5 162l-2 -3M183 162l-2 -3M178 82l-4 4M0 82l-4 4M144 112l-3 2M29 58l-6 3M127 4l0 7M127 182l0 7M3 60l-3 3M181 60l-3 3M53 103l3 3M127 148l-4 1M56 140l4 4M153 158l-1 -6M132 27l3 2M169 133l4 6M-9 133l4 6M116 105l-3 -3M109 110l5 -2M38 35l-1 6M127 90l5 2M15 80l-1 -6M35 94l1 7M12 23l0 6M42 29l5 2M90 107l2 5M155 160l0 -4M82 3l1 -4M82 181l1 -4M92 76l0 -6M21 168l-4 -3M123 119l4 0M87 60l-1 4M29 10l-3 -4M29 188l-3 -4M65 7l6 -3M65 185l6 -3M65 134l-5 -2M163 134l2 5M27 112l7 -1M47 33l-5 4M57 13l6 -3M173 106l-1 5M-5 106l-1 5M67 73l0 5M54 30l5 2M97 168l-4 -4M19 114l0 -7M152 69l4 3M21 94l1 3M8 109l2 -3M186 109l2 -3M95 5l1 -5M95 183l1 -5M133 28l0 3M163 43l0 5M130 5l2 -3M130 183l2 -3M70 82l4 -1M109 92l6 0M150 4l7 -2M150 182l7 -2M90 108l-4 -3M163 26l-6 -2M86 68l4 2M138 25l-2 4M20 117l3 5M66 170l5 3M66 -8l5 3M42 89l3 -2M53 46l3 -2M133 173l3 2M133 -5l3 2M4 69l-7 2M182 69l-7 2M13 48l1 4M31 26l-4 -6M129 80l2 -6M18 133l3 3M21 50l-3 3M24 24l-2 5M50 37l-1 -5M155 136l-3 1M112 25l2 4M22 124l-2 5M125 161l0 4M26 47l0 6M8 76l4 -4M186 76l4 -4M4 80l4 1M182 80l4 1M146 121l5 -4M105 27l-1 3M114 0l-2 4M114 178l-2 4M46 8l1 -5M46 186l1 -5M17 37l-3 5M90 99l-4 -1M94 74l3 -3M175 57l0 6M-3 57l0 6M139 78l-1 -6M33 141l4 3M109 66l-3 -3M136 88l6 0M177 34l-3 -3M-1 34l-3 -3M21 30l4 3M89 9l3 -2M89 187l3 -2M153 3l-4 2M153 181l-4 2M40 38l3 -5M127 104l2 5M96 161l-5 -4M54 120l-3 2M64 5l2 -3M64 183l2 -3M91 176l-6 1M91 -2l-6 1M100 47l0 5M13 146l4 -3M42 41l5 -4M116 105l-4 5M54 65l6 -1M151 85l-2 7M67 31l1 -4M171 86l-1 6M-7 86l-1 6M139 168l-4 -1M54 71l3 4M28 4l6 0M28 182l6 0M33 42l4 -2M52 80l2 4M140 88l0 4M141 12l1 3M34 128l-4 1M3 80l7 -1M181 80l7 -1M168 29l-4 -2M70 147l6 1M125 154l1 3M156 15l6 4M6 27l4 -2M184 27l4 -2M117 140l4 4M68 15l4 -3M19 115l-3 5M134 75l5 -4M53 5l2 -3M53 183l2 -3M127 110l-6 -1M41 50l-4 3M104 42l-3 -2M89 56l-3 3M159 131l-7 1M105 9l5 -2M105 187l5 -2M128 158l5 -3M142 84l-4 1M155 171l-2 3M155 -7l-2 3M55 24l0 -4M166 127l6 1M-12 127l6 1M70 137l6 1M110 175l5 4M110 -3l5 4M10 83l-4 4M188 83l-4 4M25 7l3 3M25 185l3 3M100 52l-2 -3M13 95l-5 -3M21 159l6 1M131 153l5 3M41 54l5 1M38 97l-4 -3M10 89l-6 1M188 89l-6 1M30 153l-4 2M55 157l2 -6M136 70l-3 3M165 37l-5 -2M125 125l2 6M93 170l1 5M93 -8l1 5M140 147l1 5M83 85l3 2M64 109l0 -4M29 128l-5 -1M170 136l-5 -3M115 135l5 2M114 154l3 2M43 126l3 0M150 90l2 5M145 36l2 -5M125 104l6 -3M126 88l2 -6M131 121l-2 -4M138 29l-1 -4M66 -1l2 7M66 177l2 7M82 164l6 -1M134 0l5 1M134 178l5 1M150 9l1 -4M150 187l1 -4M34 9l0 4M38 46l4 -5M117 162l3 -2M159 22l-3 3M46 52l0 6M146 18l0 4M141 66l4 -4M40 125l1 7M169 142l-6 3M164 134l2 2M73 93l-2 -3M32 74l7 -2M175 84l-2 6M-3 84l-2 6M30 30l2 -6M67 57l-4 3M45 31l-4 -4M9 161l-6 -3M187 161l-6 -3M113 29l-4 -5M87 162l3 -6M125 122l-7 1M104 61l1 4M79 73l1 -4M12 146l-7 0M190 146l-7 0M90 55l1 6M138 107l-1 -4M36 136l6 0M123 113l4 4M-2 76l6 3M176 76l6 3M39 35l7 0M143 19l-4 0M179 107l-4 4M1 107l-4 4M105 22l5 5M129 37l3 1M109 106l6 -2M116 90l-1 4M73 88l-3 -5M85 113l6 2M162 142l-3 4M111 55l1 -6M120 7l-1 -3M120 185l-1 -3M51 63l-3 -3M48 118l2 3M115 75l-4 0M168 137l6 -1M-10 137l6 -1M135 13l-7 1M43 43l-4 -1M108 149l4 -3M65 91l-4 -2M35 162l6 2M150 96l4 6M62 145l-3 2M119 14l-4 4M-1 11l7 0M177 11l7 0M122 160l-3 5M106 60l2 3M13 23l1 -3M7 97l-2 -4M185 97l-2 -4M46 174l5 -3M46 -4l5 -3M27 54l-3 -3M141 25l0 -4M117 6l-4 3M117 184l-4 3M8 173l-6 1M8 -5l-6 1M186 -5l-6 1M186 173l-6 1M170 5l1 6M-8 5l1 6M-8 183l1 6M170 183l1 6M130 153l2 3M128 58l-4 5M33 28l5 -2M7 163l5 2M185 163l5 2M108 28l-4 2M24 63l5 -2M155 164l-7 1M83 11l-3 5M19 24l-6 -1M98 141l1 -5M82 104l-1 -4M164 2l-3 5M164 180l-3 5M170 174l-6 0M170 -4l-6 0M55 78l-7 -1M89 61l5 2M90 109l-4 4M94 54l-6 4M124 109l-6 -2M4 82l4 -2M182 82l4 -2M49 125l3 -1M156 164l-1 3M59 77l2 -3M137 40l3 -4M107 71l0 -4M22 49l-4 1M179 168l-3 5M1 -10l-3 5M1 168l-3 5M179 -10l-3 5M135 27l-5 -4M28 136l-2 4M37 118l-4 1M136 98l2 -5"/>
<path stroke="#8a7a10" stroke-width="1.6" d="M55 38l-1 6M165 88l-7 0M130 145l3 -6M22 10l3 5M99 108l-2 -7M12 108l2 -3M94 39l-5 3M10 143l3 4M103 174l5 -2M103 -4l5 -2M154 116l-3 2M85 160l-4 -1M2 85l4 -5M180 85l4 -5M164 121l6 1M106 151l-3 -6M98 33l3 5M29 114l-2 4M151 161l-2 -5M44 138l3 5M36 75l2 3M18 32l2 -5M56 10l-4 0M56 188l-4 0M150 77l2 -6M144 3l4 -1M144 181l4 -1M77 10l-3 1M20 16l5 -2M27 125l5 0M71 134l-1 -5M89 172l4 0M89 -6l4 0M61 108l1 4M82 163l7 -1M31 94l3 5M153 10l3 5M120 154l4 2M65 130l6 0M87 114l3 5M121 68l5 3M84 164l3 5M45 25l-3 4M157 98l4 2M128 92l-5 -4M41 91l7 -1M105 72l6 1M32 9l-1 -4M32 187l-1 -4M47 131l0 -7M174 160l0 -4M-4 160l0 -4M163 85l7 0M98 161l0 5M165 44l-5 -4M124 165l4 3M152 130l3 5M119 6l-2 -5M119 184l-2 -5M21 116l4 5M155 62l4 1M139 12l-4 5M99 27l1 -6M40 174l0 6M40 -4l0 6M32 12l5 1M9 74l-4 4M187 74l-4 4M60 135l-7 1M38 85l-4 -4M93 82l-6 0M59 72l3 4M164 22l1 4M113 95l0 -7M4 27l-5 -1M182 27l-5 -1M31 145l1 4M127 26l-3 2M27 95l4 -3M146 2l0 4M146 180l0 4M135 78l6 -2M110 92l5 -1M144 144l-2 -5M49 143l-2 3M83 108l-4 2M65 177l5 -2M65 -1l5 -2M101 174l5 -4M101 -4l5 -4M34 39l-1 4M166 63l-7 0M57 20l5 -3M123 93l1 7M81 19l0 7M126 143l-4 -3M8 146l1 7M186 146l1 7M124 62l3 -2M54 61l4 -2M115 115l-5 0M26 154l1 -3M175 158l2 -4M-3 158l2 -4M144 8l2 3M144 186l2 3M36 53l-6 1M94 26l1 6M41 143l-7 1M52 138l-3 5M17 31l-2 -3M120 20l3 -6M139 123l-6 4M112 99l4 -5M31 -1l-3 5M31 177l-3 5M163 10l4 0M101 130l-4 3M135 92l5 2M87 95l4 3M119 120l-4 0M74 68l3 4M14 76l3 -2M104 102l-5 1M61 114l0 -5M32 136l-6 -1M138 147l-7 1M77 7l-6 1M77 185l-6 1M130 96l3 2M66 89l-2 3M127 125l-3 1M33 9l-5 -5M33 187l-5 -5M131 172l-2 -3M131 -6l-2 -3M173 136l2 7M-5 136l2 7M43 20l-2 5M49 49l-7 0M140 2l-5 2M140 180l-5 2M43 149l1 -6M30 30l-4 -5M38 83l4 0M40 171l4 5M40 -7l4 5M78 12l-2 -3M43 138l2 -4M32 37l-3 4M93 168l-6 3M93 -10l-6 3M15 91l4 5M140 86l-1 5M55 114l3 3M115 118l0 -4M35 170l-2 6M35 -8l-2 6M95 62l-3 -3M35 3l2 7M35 181l2 7M86 95l4 5M28 55l1 -5M68 86l-3 -1M102 115l-1 6M34 24l3 0M90 82l5 -3M55 96l2 -4M73 66l1 -6M107 127l0 -6M49 10l-1 -5M49 188l-1 -5M83 106l2 5M12 58l-6 1M190 58l-6 1M58 59l-5 1M73 62l1 -3M141 4l-2 4M141 182l-2 4M35 39l2 -2M21 94l-5 -1M58 140l1 7M55 47l-1 5M140 60l5 0M109 113l0 -4M90 130l1 -7M113 26l6 0M172 120l4 2M-6 120l4 2M50 117l6 -1M160 25l1 6M98 12l3 -2M167 168l2 3M-11 -10l2 3M-11 168l2 3M167 -10l2 3M125 147l4 3M20 20l0 5M-1 139l4 -1M177 139l4 -1M39 126l-3 0M159 32l5 -5M89 69l4 1M72 74l4 1M67 151l3 2M75 38l1 4M79 93l4 2M140 18l6 -1M137 80l-2 -3M96 145l4 3M104 42l-4 -1M149 86l-1 -4M12 48l3 -6M46 53l2 5M95 45l-1 7M35 12l3 5M112 162l4 1M128 4l0 4M128 182l0 4M161 17l-1 4M138 56l1 5M30 48l1 5M152 150l-6 1M82 169l3 3M82 -9l3 3M123 111l-7 0M58 138l4 5M174 53l-5 4M-4 53l-5 4M97 21l3 -4M28 74l4 0M85 164l4 -4M164 28l-3 2M146 96l-6 4M81 62l3 6M73 98l-7 -1M104 45l1 4M27 44l-6 0M49 126l2 3M131 21l3 -6M175 74l-5 0M-3 74l-5 0M58 166l1 -7M76 91l6 0M42 43l1 4M87 172l-3 1M87 -6l-3 1M94 20l2 3M135 88l-1 -5M172 84l2 4M-6 84l2 4M35 49l-2 2M108 8l6 1M108 186l6 1M25 125l-4 3M65 85l1 -3M120 96l-4 -4M40 92l5 1M135 43l-7 -2M30 4l-3 0M30 182l-3 0M74 124l0 3M75 127l2 -2M154 118l0 3M34 100l4 0M3 143l0 7M181 143l0 7"/>
<path stroke="#eea01c" stroke-width="1.9" d="M21 160l4 1M15 154l-1 7M178 6l-4 5M0 6l-4 5M0 184l-4 5M178 184l-4 5M165 18l-3 -4M164 155l3 2M120 119l5 0M135 3l5 -3M135 181l5 -3M169 155l-6 0M75 165l4 -5M172 123l-6 3M-6 123l-6 3M8 15l6 -2M162 159l0 -4M114 84l2 -4M116 28l2 5M44 33l2 -7M121 79l-3 3M3 92l5 1M181 92l5 1M63 78l0 -4M116 69l2 -5M71 23l1 6M135 83l-4 3M30 134l1 5M156 105l2 -6M26 168l4 0M60 167l6 -3M125 78l0 -6M135 154l-6 0M85 167l-1 -5M73 6l-1 5M73 184l-1 5M126 41l6 1M45 16l3 4M51 88l4 -1M18 170l1 -7M151 168l1 7M151 -10l1 7M156 22l-4 -5M122 144l-3 -1M42 58l-6 3M165 147l3 4M5 140l3 3M183 140l3 3M135 169l-4 2M135 -9l-4 2M129 173l4 -4M129 -5l4 -4M171 3l-3 3M-7 3l-3 3M-7 181l-3 3M171 181l-3 3M37 165l4 1M171 91l6 0M-7 91l6 0M120 87l5 -4M145 34l-5 1M38 170l-4 -1M38 -8l-4 -1M107 0l-3 5M107 178l-3 5M105 26l3 0M140 34l-2 -4M151 106l4 0M52 3l-6 2M52 181l-6 2M22 103l-4 4M79 46l4 2M70 160l-1 -4M66 99l-6 -3M43 52l-2 -5M39 79l3 -6M175 98l5 4M-3 98l5 4M11 36l-2 -4M189 36l-2 -4M118 99l-4 -4M119 76l-6 -4M55 126l-1 4M35 144l-6 -1M113 166l-3 -3M69 100l4 2M61 74l-2 -4M59 58l0 3M139 93l-4 0M144 77l-3 2M41 66l-4 0M48 161l3 -2M124 77l-4 -5M37 64l-2 -3M174 23l5 1M-4 23l5 1M68 97l-5 1M99 13l-3 5M159 147l4 -5M39 155l3 2M54 60l4 1M35 64l6 0M167 64l-4 -1M65 87l6 0M27 16l6 -4M99 28l5 -2M154 108l-2 -2M37 21l2 5M95 22l-1 5M110 29l-5 -4M98 154l5 3M82 46l4 0M146 91l4 -4M36 81l2 -7M74 164l4 -3M65 98l-3 -5M105 31l5 -1M26 9l4 -1M26 187l4 -1M11 87l5 0M118 66l3 -1M90 13l-2 5M44 135l-4 0M96 131l0 3M165 53l2 4M126 37l7 2M167 128l-3 6M100 125l0 -7M126 77l2 -6M63 125l5 -1M63 93l4 -2M51 53l4 -3M54 125l0 6M95 161l-1 7M125 89l4 3M174 132l1 7M-4 132l1 7M151 163l6 2M123 18l0 -4M137 61l-4 5M1 67l3 -3M179 67l3 -3M94 129l4 3M27 150l2 -5M58 61l2 4M66 122l1 5M52 156l-4 4M35 110l7 2M40 131l1 5M84 90l6 4M68 2l2 4M68 180l2 4M134 125l3 -3M102 52l6 1M48 18l3 -4M165 87l-5 -5M148 70l3 3M113 25l-3 2M108 28l-4 1M169 28l3 4M-9 28l3 4M144 56l-1 -3M32 17l-4 0M132 29l1 7M93 66l-2 6M19 27l-3 3M30 146l3 -3M31 107l-2 -3M81 16l-7 0M56 116l2 5M52 95l2 -5M137 81l-6 -4M94 39l3 3M79 96l-5 1M104 52l-5 -2M139 118l-6 0M32 48l-5 4M32 40l-3 -5M164 74l-4 -1M18 86l2 -3M30 133l6 -1M58 132l-6 0M167 127l-2 -4M154 66l3 -1M102 146l4 -5M175 90l1 -5M-3 90l1 -5M88 106l3 -1M5 84l5 3M183 84l5 3M60 20l-4 3M12 41l3 -6M171 37l-4 -5M-7 37l-4 -5M155 84l-5 4M27 151l3 6M154 27l4 -5M159 25l2 -4M154 122l-6 0M77 123l2 3M144 84l3 -3M108 31l-5 1M56 81l1 5M166 49l5 2M-12 49l5 2M89 170l4 -1M89 -8l4 -1M45 172l1 3M45 -6l1 3M56 104l2 -3M96 3l-3 3M96 181l-3 3M17 69l-1 -7M114 129l3 6M166 142l-3 -5M103 156l-3 -4M141 85l3 -2M80 55l-4 -5M35 95l0 6M119 84l1 -3M0 143l2 4M178 143l2 4M102 6l1 4M102 184l1 4M60 43l6 2M31 60l-2 -7M75 69l3 -1M57 128l0 4M32 47l5 0M62 9l-5 4M153 19l-5 2M58 83l-3 0M43 5l-1 3M43 183l-1 3M52 131l3 -3M50 135l1 3M19 29l5 -2M57 11l4 1M146 78l-1 3M79 15l7 0M117 41l1 5M151 138l4 -5M8 3l-4 2M8 181l-4 2M186 3l-4 2M186 181l-4 2M165 7l-2 3M165 185l-2 3M9 85l-3 -6M187 85l-3 -6M156 80l-1 5M139 71l0 6M29 65l1 -6M127 15l-3 -4M168 81l2 -5M-10 81l2 -5M113 175l3 -5M113 -3l3 -5M56 48l-4 -5M170 52l0 5M-8 52l0 5M175 106l3 3M-3 106l3 3M172 86l-5 0M-6 86l-5 0M51 4l5 -3M51 182l5 -3M115 62l-2 7M105 81l-4 2M139 163l-2 -3M158 68l5 -2M63 14l-4 -3M58 45l-5 2M55 166l-3 6M55 -12l-3 6M161 75l-1 -6M83 93l0 6M122 57l0 7M138 165l1 4M57 99l-2 -3M80 76l-1 6M2 21l-2 -3M180 21l-2 -3M53 78l-4 1M126 124l-5 -5M141 9l2 -3M141 187l2 -3M143 78l-1 3M9 143l-1 -3M187 143l-1 -3M65 158l-2 4M3 54l-1 4M181 54l-1 4M49 148l2 3"/>
<path stroke="#ea741c" stroke-width="2" d="M108 177l5 -1M108 -1l5 -1M92 162l-5 3M73 16l-1 3M117 173l3 1M117 -5l3 1M46 20l3 5M34 174l-5 -1M34 -4l-5 -1M16 129l-2 5M-2 172l6 -3M-2 -6l6 -3M176 -6l6 -3M176 172l6 -3M84 134l4 0M11 19l-5 1M189 19l-5 1M130 102l7 -2M153 32l5 3M131 137l-3 -2M5 135l-3 6M183 135l-3 6M47 84l-7 0M150 14l5 4M16 158l-6 -3M122 14l-1 6M116 163l-4 1M120 6l6 3M120 184l6 3M15 43l-2 6M112 169l-1 6M112 -9l-1 6M74 36l-6 -3M-1 100l4 0M177 100l4 0M59 95l3 5M100 27l3 -3M110 112l5 -2M90 86l1 -7M110 7l0 7M76 131l5 0M87 1l-5 3M87 179l-5 3M153 118l-6 0M35 115l-2 -3M40 79l2 -5M101 144l-3 -4M107 19l6 -3M99 15l5 -4M18 104l3 -2M169 31l2 3M-9 31l2 3M107 23l-2 4M91 165l4 -1M169 165l6 0M-9 165l6 0M83 135l1 4M27 20l-3 -3M150 155l-3 -6M99 17l-7 1M135 127l-6 4M149 35l-5 -4M94 50l-6 2M92 106l-1 -6M160 97l-5 -1M126 142l0 -4M77 73l5 -4M71 24l0 6M47 22l6 -3M10 42l2 -3M167 119l4 4M-11 119l4 4M55 139l-1 3M73 19l6 2M110 52l-3 2M99 173l-4 2M99 -5l-4 2M158 113l-5 2M33 109l-5 -2M36 99l-4 -2M42 56l5 0M24 171l-5 3M24 -7l-5 3M12 62l-3 -2M155 23l3 5M127 47l3 5M168 114l1 6M-10 114l1 6M51 40l-5 1M78 129l7 1M69 27l3 -4M104 166l4 -4M4 150l4 4M182 150l4 4M12 55l6 -4M62 86l4 -4M14 11l-5 1M14 93l-3 -4M30 96l-2 3M169 90l-5 -3M52 42l4 2M106 146l3 1M110 71l6 3M78 143l0 -7M173 57l-4 -6M-5 57l-4 -6M58 86l-5 3M128 165l1 -5M44 158l2 -5M156 65l-6 0M86 15l-5 2M39 64l0 -3M164 44l-3 -2M51 122l3 1M119 153l-6 3M124 167l5 -2M21 90l4 -1M136 115l3 1M152 112l-3 6M143 102l4 -5M104 168l-3 0M101 58l-1 -4M155 8l2 -4M155 186l2 -4M77 2l-3 4M77 180l-3 4M69 73l-3 3M50 39l-1 5M167 51l-2 -6M113 -1l4 5M113 177l4 5M131 21l-5 4M63 14l-4 2M13 93l-4 1M80 126l-3 -1M88 126l-5 -2M120 27l-4 4M130 132l-3 -5M32 108l-4 -2M168 8l-6 -1M168 186l-6 -1M61 137l3 -6M71 164l1 -6M118 108l2 3M118 73l0 -4M142 133l5 -3M34 116l6 -5M54 96l4 4M59 71l0 5M162 140l6 -3M135 59l5 1M86 141l-4 -3M119 32l-4 -4M8 22l-5 -1M186 22l-5 -1M23 0l5 3M23 178l5 3M53 98l1 4M1 147l3 -3M179 147l3 -3M10 97l-2 3M188 97l-2 3M94 171l-7 -1M94 -7l-7 -1M31 122l-4 -6M65 74l-1 7M140 1l-5 2M140 179l-5 2M132 114l-2 -3M160 120l-1 -4"/>
<path stroke="#e04a1c" stroke-width="2" d="M171 97l1 -4M-7 97l1 -4M118 166l-1 5M118 -12l-1 5M7 166l-3 0M185 166l-3 0M13 26l-1 -7M127 57l2 2M176 136l0 4M-2 136l0 4M154 24l7 -2M140 120l-6 -2M135 90l-3 2M67 67l-2 -7M121 129l1 4M49 148l0 -7M150 136l-6 -3M120 160l2 -3M139 148l5 2M138 142l-3 -1M22 110l1 3M112 5l1 3M112 183l1 3M83 58l-2 -5M170 122l4 -5M-8 122l4 -5M77 154l-4 -2M133 120l3 6M40 145l6 0M157 149l2 3M165 125l4 3M85 163l1 4M173 98l-1 -6M-5 98l-1 -6M10 143l-3 2M188 143l-3 2M109 131l2 6M46 92l-3 -3M13 61l-1 -6M26 42l-6 -1M29 3l1 5M29 181l1 5M76 88l0 -6M20 39l4 5M168 160l3 6M-10 160l3 6M97 37l-4 -2M62 83l-6 -4M69 161l0 -5M67 61l-2 -4M138 135l3 -4M119 89l3 -4M3 101l6 -3M181 101l6 -3M55 136l3 2M30 23l-6 -2M145 60l3 -5M147 158l4 6M153 120l-2 -5M132 23l-5 2M172 160l4 4M-6 160l4 4M147 157l4 0M3 57l6 -4M181 57l6 -4M153 81l4 -3M162 149l4 -5M86 53l6 -4M140 175l4 0M140 -3l4 0M32 106l-2 -5M55 124l-2 6M68 96l-5 -4M156 77l-3 -1M174 157l6 -1M-4 157l6 -1M57 39l-5 3M32 127l5 -1M123 71l3 -2M61 150l2 3M18 20l-4 -4M157 156l6 3M140 63l4 -2M122 132l1 4M169 101l-3 -6M161 25l4 -3M75 27l-3 -3M91 68l1 -4M50 34l-3 2M173 161l-3 -2M-5 161l-3 -2M71 23l-4 5"/>
</g></pattern>
</defs>
<rect width="1122" height="947" fill="#fff"/>
<rect x="290" y="26" width="237.5" height="25.7" fill="url(#cb)" stroke="#999" stroke-width="1"/>
<text x="290" y="77.4" font-size="21.6" text-anchor="middle">0.60</text>
<text x="337.5" y="77.4" font-size="21.6" text-anchor="middle">0.96</text>
<text x="385" y="77.4" font-size="21.6" text-anchor="middle">1.32</text>
<text x="432.5" y="77.4" font-size="21.6" text-anchor="middle">1.68</text>
<text x="480" y="77.4" font-size="21.6" text-anchor="middle">2.04</text>
<text x="527.5" y="77.4" font-size="21.6" text-anchor="middle">2.40</text>
<text x="537.5" y="47.7" font-size="30" font-style="italic">T<tspan dx="1.5" dy="4" font-size="37" font-style="normal">/</tspan><tspan dx="1.5" dy="-4">T</tspan><tspan font-size="25" dy="7" dx="-1" font-style="normal">∞</tspan></text>
<g stroke="#000" stroke-width="3" fill="none"><path d="M131.2 61V137.5"/><path d="M171 123L211 108.5"/><path d="M130.5 136.5L182 182" stroke-width="2.6"/></g>
<g stroke="#555" stroke-width=".8" stroke-linejoin="round"><polygon points="132,116.5 155.5,106 171,121 147.5,131" fill="#d2d2d2"/><polygon points="132,116.5 147.5,131 147.5,151 132,137" fill="#8c8c8c"/><polygon points="147.5,131 171,121 171,142.5 147.5,151" fill="#c6c6c6"/></g>
<text x="126.5" y="54" font-size="25.5" font-style="italic">Y</text>
<text x="221" y="111" font-size="25.5" font-style="italic">X</text>
<text x="186.5" y="196" font-size="25.5" font-style="italic">Z</text>
<clipPath id="cla"><polygon points="107,138 110,308 163.5,354.9 183.2,347.8 202.8,340.7 222.5,333.6 242.1,326.5 261.8,319.4 281.4,312.3 301.1,305.2 320.7,298.1 340.4,291 360,283.9 379.7,276.8 399.3,269.7 419,262.6 438.6,255.5 458.3,248.4 477.9,241.3 497.6,234.2 517.2,227.2 536.9,220.1 556.5,213 576.2,205.9 595.8,198.8 615.5,191.7 635.1,184.6 654.8,177.5 674.4,170.4 694.1,163.3 713.8,156.2 733.4,149.1 753.1,142 772.7,134.9 792.4,127.8 812,120.7 831.7,113.6 851.3,106.5 871,99.4 890.6,92.3 910.3,85.2 929.9,78.1 946.3,72.2 947.3,-97.8"/></clipPath>
<g fill="none" stroke="#3c3c3c" stroke-width="1">
<polyline points="111,308 130.7,300.9 150.3,293.8 170,286.7 189.6,279.6 209.3,272.5 228.9,265.4 248.6,258.3 268.2,251.2 287.9,244.1 307.5,237 327.2,229.9 346.8,222.8 366.5,215.7 386.1,208.6 405.8,201.5 425.4,194.4 445.1,187.3 464.7,180.3 484.4,173.2 504,166.1 523.7,159 543.3,151.9 563,144.8 582.6,137.7 602.3,130.6 621.9,123.5 641.6,116.4 661.3,109.3 680.9,102.2 700.6,95.1 720.2,88 739.9,80.9 759.5,73.8 779.2,66.7 798.8,59.6 818.5,52.5 838.1,45.4 857.8,38.3 877.4,31.2 893.8,25.3" stroke="#555" stroke-width=".9"/>
<path d="M111 308L163.5 354.9M893.8 25.3L946.3 72.2" stroke="#444" stroke-width="1"/>
</g>
<g filter="url(#bl)">
<polygon points="163.5,353.6 183.2,346.5 202.8,339.4 222.5,332.3 242.1,325.2 261.8,318.1 281.4,311 301.1,303.9 320.7,296.8 340.4,289.7 360,282.6 379.7,275.5 399.3,268.4 419,261.3 438.6,254.2 458.3,247.1 477.9,240 497.6,232.9 517.2,225.9 536.9,218.8 556.5,211.7 576.2,204.6 595.8,197.5 615.5,190.4 635.1,183.3 654.8,176.2 674.4,169.1 694.1,162 713.8,154.9 733.4,147.8 753.1,140.7 772.7,133.6 792.4,126.5 812,119.4 831.7,112.3 851.3,105.2 871,98.1 890.6,91 910.3,83.9 929.9,76.8 946.3,70.9 893.8,24.8 877.4,30.7 857.8,37.8 838.1,44.9 818.5,52 798.8,59.1 779.2,66.2 759.5,73.3 739.9,80.4 720.2,87.5 700.6,94.6 680.9,101.7 661.3,108.8 641.6,115.9 621.9,123 602.3,130.1 582.6,137.2 563,144.3 543.3,151.4 523.7,158.5 504,165.6 484.4,172.7 464.7,179.8 445.1,186.8 425.4,193.9 405.8,201 386.1,208.1 366.5,215.2 346.8,222.3 327.2,229.4 307.5,236.5 287.9,243.6 268.2,250.7 248.6,257.8 228.9,264.9 209.3,272 189.6,279.1 170,286.2 150.3,293.3 130.7,300.4 111,307.5" fill="#f4ef9a" fill-opacity=".4"/>
<polygon points="163.5,353.6 183.2,346.5 202.8,339.4 222.5,332.3 242.1,325.2 261.8,318.1 281.4,311 301.1,303.9 320.7,296.8 340.4,289.7 360,282.6 379.7,275.5 399.3,268.4 419,261.3 438.6,254.2 458.3,247.1 477.9,240 497.6,232.9 517.2,225.9 536.9,218.8 556.5,211.7 576.2,204.6 595.8,197.5 615.5,190.4 635.1,183.3 654.8,176.2 674.4,169.1 694.1,162 713.8,154.9 733.4,147.8 753.1,140.7 772.7,133.6 792.4,126.5 812,119.4 831.7,112.3 851.3,105.2 871,98.1 890.6,91 910.3,83.9 929.9,76.8 946.3,70.9 893.8,24.8 877.4,30.7 857.8,37.8 838.1,44.9 818.5,52 798.8,59.1 779.2,66.2 759.5,73.3 739.9,80.4 720.2,87.5 700.6,94.6 680.9,101.7 661.3,108.8 641.6,115.9 621.9,123 602.3,130.1 582.6,137.2 563,144.3 543.3,151.4 523.7,158.5 504,165.6 484.4,172.7 464.7,179.8 445.1,186.8 425.4,193.9 405.8,201 386.1,208.1 366.5,215.2 346.8,222.3 327.2,229.4 307.5,236.5 287.9,243.6 268.2,250.7 248.6,257.8 228.9,264.9 209.3,272 189.6,279.1 170,286.2 150.3,293.3 130.7,300.4 111,307.5" fill="url(#gy)"/>
<polygon points="163.5,353.6 183.2,346.5 202.8,339.4 222.5,332.3 242.1,325.2 261.8,318.1 281.4,311 301.1,303.9 320.7,296.8 340.4,289.7 360,282.6 379.7,275.5 399.3,268.4 419,261.3 438.6,254.2 458.3,247.1 477.9,240 497.6,232.9 517.2,225.9 536.9,218.8 556.5,211.7 576.2,204.6 595.8,197.5 615.5,190.4 635.1,183.3 654.8,176.2 674.4,169.1 694.1,162 713.8,154.9 733.4,147.8 753.1,140.7 772.7,133.6 792.4,126.5 812,119.4 831.7,112.3 851.3,105.2 871,98.1 890.6,91 910.3,83.9 929.9,76.8 946.3,70.9 893.8,24.8 877.4,30.7 857.8,37.8 838.1,44.9 818.5,52 798.8,59.1 779.2,66.2 759.5,73.3 739.9,80.4 720.2,87.5 700.6,94.6 680.9,101.7 661.3,108.8 641.6,115.9 621.9,123 602.3,130.1 582.6,137.2 563,144.3 543.3,151.4 523.7,158.5 504,165.6 484.4,172.7 464.7,179.8 445.1,186.8 425.4,193.9 405.8,201 386.1,208.1 366.5,215.2 346.8,222.3 327.2,229.4 307.5,236.5 287.9,243.6 268.2,250.7 248.6,257.8 228.9,264.9 209.3,272 189.6,279.1 170,286.2 150.3,293.3 130.7,300.4 111,307.5" fill="url(#pa)"/>
<polygon points="163.5,353.6 183.2,346.5 202.8,339.4 222.5,332.3 242.1,325.2 261.8,318.1 281.4,311 301.1,303.9 320.7,296.8 340.4,289.7 360,282.6 379.7,275.5 399.3,268.4 419,261.3 438.6,254.2 458.3,247.1 477.9,240 497.6,232.9 517.2,225.9 536.9,218.8 556.5,211.7 576.2,204.6 595.8,197.5 615.5,190.4 635.1,183.3 654.8,176.2 674.4,169.1 694.1,162 713.8,154.9 733.4,147.8 753.1,140.7 772.7,133.6 792.4,126.5 812,119.4 831.7,112.3 851.3,105.2 871,98.1 890.6,91 910.3,83.9 929.9,76.8 946.3,70.9 893.8,24.8 877.4,30.7 857.8,37.8 838.1,44.9 818.5,52 798.8,59.1 779.2,66.2 759.5,73.3 739.9,80.4 720.2,87.5 700.6,94.6 680.9,101.7 661.3,108.8 641.6,115.9 621.9,123 602.3,130.1 582.6,137.2 563,144.3 543.3,151.4 523.7,158.5 504,165.6 484.4,172.7 464.7,179.8 445.1,186.8 425.4,193.9 405.8,201 386.1,208.1 366.5,215.2 346.8,222.3 327.2,229.4 307.5,236.5 287.9,243.6 268.2,250.7 248.6,257.8 228.9,264.9 209.3,272 189.6,279.1 170,286.2 150.3,293.3 130.7,300.4 111,307.5" fill="url(#pb)"/>
<path d="M261.4 319.5l-52.5 -46.9M359.4 284.2l-52.5 -46.9M457.3 248.8l-52.5 -46.9M555.2 213.4l-52.5 -46.9M653.1 178.1l-52.5 -46.9M751.1 142.7l-52.5 -46.9M849 107.3l-52.5 -46.9" stroke="#4a4a4a" stroke-width=".8" fill="none"/>
<polygon points="111,306.9 115,305.4 119.1,304 123.1,302.5 127.1,301.1 131.2,299.6 135.2,298.2 139.2,296.7 143.3,295.2 147.3,293.8 151.4,292.3 155.4,290.9 159.4,289.4 163.5,288 167.5,285.9 171.5,284 175.6,282.3 179.6,280.7 183.6,279.3 187.7,278 191.7,276.8 195.7,275.5 199.8,274 203.8,272.3 207.8,270.6 211.9,268.9 215.9,267.2 219.9,265.2 224,263.1 228,261.2 232.1,259.9 236.1,258.8 240.1,257.5 244.2,255.8 248.2,253.9 252.2,252.2 256.3,250.4 260.3,248.8 264.3,247.6 268.4,246.8 272.4,246.1 276.4,245.3 280.5,244.4 284.5,243.2 288.5,241.6 292.6,239.5 296.6,237.7 300.6,236.6 304.7,236 308.7,235.4 312.8,234 316.8,232.6 320.8,231.1 324.9,228.9 328.9,226.8 332.9,225.4 337,224.4 341,223.1 345,221.5 349.1,219.8 353.1,218.3 357.1,216.9 361.2,215.4 365.2,214 369.2,212.5 373.3,210.8 377.3,208.7 381.3,206.2 385.4,203.7 389.4,201.8 393.5,200.3 397.5,198.9 401.5,197.4 405.6,196 409.6,194.9 413.6,194.2 417.7,193.6 421.7,193.1 425.7,192.3 429.8,190.8 433.8,188.4 437.8,185.4 441.9,182.4 445.9,180.2 449.9,178.8 454,177.5 458,176 462,174.4 466.1,172.8 470.1,171.4 474.2,170.1 478.2,169.1 482.2,168.2 486.3,167.2 490.3,166 494.3,164.5 498.4,162.8 502.4,160.9 506.4,159 510.5,157.4 514.5,156.4 518.5,155.8 522.6,155.2 526.6,154.4 530.6,153.2 534.7,151.7 538.7,150.3 542.8,148.9 546.8,147.4 550.8,145.9 554.9,144.4 558.9,143.1 562.9,141.7 567,140 571,138 575,136.2 579.1,135 583.1,134.1 587.1,132.8 591.2,131.1 595.2,129.3 599.2,127.7 603.3,126.4 607.3,125 611.3,123.2 615.4,120.7 619.4,118 623.5,115.6 627.5,113.7 631.5,112.4 635.6,111.3 639.6,110 643.6,108.5 647.7,107 651.7,105.7 655.7,104.6 659.8,103.1 663.8,101.3 667.8,99.5 671.9,98 675.9,96.6 679.9,95 684,93.7 688,92.8 692,92.1 696.1,91 700.1,89.3 704.2,87.3 708.2,85.4 712.2,83.8 716.3,82.5 720.3,81.1 724.3,79.9 728.4,78.7 732.4,77.2 736.4,75.1 740.5,72.9 744.5,70.9 748.5,69.3 752.6,68 756.6,66.7 760.6,65.2 764.7,63.6 768.7,62 772.7,60.4 776.8,58.5 780.8,56.8 784.9,55.7 788.9,55.1 792.9,54.4 797,53.2 801,51.3 805,49.5 809.1,47.9 813.1,46.5 817.1,45 821.2,43.8 825.2,42.8 829.2,41.9 833.3,40.9 837.3,39.7 841.3,37.9 845.4,35.7 849.4,33.6 853.4,32.2 857.5,31.7 861.5,31.6 865.6,31 869.6,29.5 873.6,27.7 877.7,26.1 881.7,25 885.7,24.1 889.8,22.7 893.8,20.6 946.3,67 942.3,68.3 938.2,68.7 934.2,69.1 930.2,70 926.1,71.3 922.1,72.5 918.1,73.2 914,74 910,75.4 905.9,77.3 901.9,79.1 897.9,80.8 893.8,82.5 889.8,84.3 885.8,85.9 881.7,87 877.7,87.9 873.7,89.8 869.6,93 865.6,96.7 861.6,99.5 857.5,101.3 853.5,102.6 849.5,103.9 845.4,105 841.4,106.2 837.4,107.6 833.3,109 829.3,110.1 825.2,111 821.2,111.8 817.2,112.8 813.1,113.8 809.1,114.9 805.1,116.3 801,117.9 797,119.2 793,120.2 788.9,121.3 784.9,122.4 780.9,123.5 776.8,125 772.8,127.3 768.8,129.6 764.7,131 760.7,132 756.7,133.1 752.6,134.9 748.6,137.2 744.5,139.3 740.5,140.6 736.5,141 732.4,141.1 728.4,141.9 724.4,143.3 720.3,144.4 716.3,145.1 712.3,146.6 708.2,149 704.2,151.6 700.2,153.7 696.1,155.3 692.1,156.7 688.1,158.5 684,161 680,163.9 676,166.5 671.9,168.1 667.9,169.3 663.8,170.5 659.8,171.5 655.8,172.8 651.7,174.7 647.7,177.1 643.7,179.3 639.6,180.6 635.6,181.9 631.6,183.8 627.5,185.3 623.5,186.8 619.5,188.2 615.4,189 611.4,189.7 607.4,190.7 603.3,192 599.3,193.4 595.3,194.9 591.2,196.5 587.2,197.7 583.1,198.1 579.1,198.5 575.1,199.9 571,202.2 567,204.5 563,206.3 558.9,207.8 554.9,209.3 550.9,210.9 546.8,212.6 542.8,214.5 538.8,216.2 534.7,217 530.7,217.2 526.7,218 522.6,219.6 518.6,221.5 514.5,223.4 510.5,225 506.5,226.2 502.4,226.8 498.4,227 494.4,227.6 490.3,228.6 486.3,230.1 482.3,231.8 478.2,233.5 474.2,235.3 470.2,237.4 466.1,239.8 462.1,242.2 458.1,244.2 454,246 450,248.1 446,250.4 441.9,252.3 437.9,253.4 433.8,253.9 429.8,254.6 425.8,256.3 421.7,259.2 417.7,261.1 413.7,262.6 409.6,264 405.6,265.5 401.6,266.9 397.5,268.4 393.5,269.8 389.5,271.3 385.4,272.3 381.4,272.8 377.4,273.1 373.3,273.8 369.3,275.4 365.3,277.5 361.2,279.2 357.2,280 353.1,280.3 349.1,280.8 345.1,281.7 341,282.4 337,283.2 333,284.5 328.9,286.2 324.9,288.4 320.9,290.7 316.8,292.6 312.8,293.9 308.8,295.1 304.7,296.3 300.7,297.4 296.7,298.9 292.6,301.2 288.6,303.6 284.6,305.4 280.5,306.7 276.5,307.9 272.4,309.1 268.4,310.3 264.4,311.4 260.3,312.7 256.3,313.9 252.3,314.8 248.2,315.4 244.2,316.7 240.2,319.5 236.1,323.2 232.1,326.7 228.1,328.8 224,329.8 220,330.5 216,331.4 211.9,332.5 207.9,334.1 203.9,335.8 199.8,337.5 195.8,338.9 191.7,340.1 187.7,341.5 183.7,343.1 179.6,344.4 175.6,344.6 171.6,343.8 167.5,343.2 163.5,343.9" fill="url(#gr)"/>
<polygon points="111,306.9 115,305.4 119.1,304 123.1,302.5 127.1,301.1 131.2,299.6 135.2,298.2 139.2,296.7 143.3,295.2 147.3,293.8 151.4,292.3 155.4,290.9 159.4,289.4 163.5,288 167.5,285.9 171.5,284 175.6,282.3 179.6,280.7 183.6,279.3 187.7,278 191.7,276.8 195.7,275.5 199.8,274 203.8,272.3 207.8,270.6 211.9,268.9 215.9,267.2 219.9,265.2 224,263.1 228,261.2 232.1,259.9 236.1,258.8 240.1,257.5 244.2,255.8 248.2,253.9 252.2,252.2 256.3,250.4 260.3,248.8 264.3,247.6 268.4,246.8 272.4,246.1 276.4,245.3 280.5,244.4 284.5,243.2 288.5,241.6 292.6,239.5 296.6,237.7 300.6,236.6 304.7,236 308.7,235.4 312.8,234 316.8,232.6 320.8,231.1 324.9,228.9 328.9,226.8 332.9,225.4 337,224.4 341,223.1 345,221.5 349.1,219.8 353.1,218.3 357.1,216.9 361.2,215.4 365.2,214 369.2,212.5 373.3,210.8 377.3,208.7 381.3,206.2 385.4,203.7 389.4,201.8 393.5,200.3 397.5,198.9 401.5,197.4 405.6,196 409.6,194.9 413.6,194.2 417.7,193.6 421.7,193.1 425.7,192.3 429.8,190.8 433.8,188.4 437.8,185.4 441.9,182.4 445.9,180.2 449.9,178.8 454,177.5 458,176 462,174.4 466.1,172.8 470.1,171.4 474.2,170.1 478.2,169.1 482.2,168.2 486.3,167.2 490.3,166 494.3,164.5 498.4,162.8 502.4,160.9 506.4,159 510.5,157.4 514.5,156.4 518.5,155.8 522.6,155.2 526.6,154.4 530.6,153.2 534.7,151.7 538.7,150.3 542.8,148.9 546.8,147.4 550.8,145.9 554.9,144.4 558.9,143.1 562.9,141.7 567,140 571,138 575,136.2 579.1,135 583.1,134.1 587.1,132.8 591.2,131.1 595.2,129.3 599.2,127.7 603.3,126.4 607.3,125 611.3,123.2 615.4,120.7 619.4,118 623.5,115.6 627.5,113.7 631.5,112.4 635.6,111.3 639.6,110 643.6,108.5 647.7,107 651.7,105.7 655.7,104.6 659.8,103.1 663.8,101.3 667.8,99.5 671.9,98 675.9,96.6 679.9,95 684,93.7 688,92.8 692,92.1 696.1,91 700.1,89.3 704.2,87.3 708.2,85.4 712.2,83.8 716.3,82.5 720.3,81.1 724.3,79.9 728.4,78.7 732.4,77.2 736.4,75.1 740.5,72.9 744.5,70.9 748.5,69.3 752.6,68 756.6,66.7 760.6,65.2 764.7,63.6 768.7,62 772.7,60.4 776.8,58.5 780.8,56.8 784.9,55.7 788.9,55.1 792.9,54.4 797,53.2 801,51.3 805,49.5 809.1,47.9 813.1,46.5 817.1,45 821.2,43.8 825.2,42.8 829.2,41.9 833.3,40.9 837.3,39.7 841.3,37.9 845.4,35.7 849.4,33.6 853.4,32.2 857.5,31.7 861.5,31.6 865.6,31 869.6,29.5 873.6,27.7 877.7,26.1 881.7,25 885.7,24.1 889.8,22.7 893.8,20.6 946.3,67 942.3,68.3 938.2,68.7 934.2,69.1 930.2,70 926.1,71.3 922.1,72.5 918.1,73.2 914,74 910,75.4 905.9,77.3 901.9,79.1 897.9,80.8 893.8,82.5 889.8,84.3 885.8,85.9 881.7,87 877.7,87.9 873.7,89.8 869.6,93 865.6,96.7 861.6,99.5 857.5,101.3 853.5,102.6 849.5,103.9 845.4,105 841.4,106.2 837.4,107.6 833.3,109 829.3,110.1 825.2,111 821.2,111.8 817.2,112.8 813.1,113.8 809.1,114.9 805.1,116.3 801,117.9 797,119.2 793,120.2 788.9,121.3 784.9,122.4 780.9,123.5 776.8,125 772.8,127.3 768.8,129.6 764.7,131 760.7,132 756.7,133.1 752.6,134.9 748.6,137.2 744.5,139.3 740.5,140.6 736.5,141 732.4,141.1 728.4,141.9 724.4,143.3 720.3,144.4 716.3,145.1 712.3,146.6 708.2,149 704.2,151.6 700.2,153.7 696.1,155.3 692.1,156.7 688.1,158.5 684,161 680,163.9 676,166.5 671.9,168.1 667.9,169.3 663.8,170.5 659.8,171.5 655.8,172.8 651.7,174.7 647.7,177.1 643.7,179.3 639.6,180.6 635.6,181.9 631.6,183.8 627.5,185.3 623.5,186.8 619.5,188.2 615.4,189 611.4,189.7 607.4,190.7 603.3,192 599.3,193.4 595.3,194.9 591.2,196.5 587.2,197.7 583.1,198.1 579.1,198.5 575.1,199.9 571,202.2 567,204.5 563,206.3 558.9,207.8 554.9,209.3 550.9,210.9 546.8,212.6 542.8,214.5 538.8,216.2 534.7,217 530.7,217.2 526.7,218 522.6,219.6 518.6,221.5 514.5,223.4 510.5,225 506.5,226.2 502.4,226.8 498.4,227 494.4,227.6 490.3,228.6 486.3,230.1 482.3,231.8 478.2,233.5 474.2,235.3 470.2,237.4 466.1,239.8 462.1,242.2 458.1,244.2 454,246 450,248.1 446,250.4 441.9,252.3 437.9,253.4 433.8,253.9 429.8,254.6 425.8,256.3 421.7,259.2 417.7,261.1 413.7,262.6 409.6,264 405.6,265.5 401.6,266.9 397.5,268.4 393.5,269.8 389.5,271.3 385.4,272.3 381.4,272.8 377.4,273.1 373.3,273.8 369.3,275.4 365.3,277.5 361.2,279.2 357.2,280 353.1,280.3 349.1,280.8 345.1,281.7 341,282.4 337,283.2 333,284.5 328.9,286.2 324.9,288.4 320.9,290.7 316.8,292.6 312.8,293.9 308.8,295.1 304.7,296.3 300.7,297.4 296.7,298.9 292.6,301.2 288.6,303.6 284.6,305.4 280.5,306.7 276.5,307.9 272.4,309.1 268.4,310.3 264.4,311.4 260.3,312.7 256.3,313.9 252.3,314.8 248.2,315.4 244.2,316.7 240.2,319.5 236.1,323.2 232.1,326.7 228.1,328.8 224,329.8 220,330.5 216,331.4 211.9,332.5 207.9,334.1 203.9,335.8 199.8,337.5 195.8,338.9 191.7,340.1 187.7,341.5 183.7,343.1 179.6,344.4 175.6,344.6 171.6,343.8 167.5,343.2 163.5,343.9" fill="url(#ra)"/>
<polygon points="163.5,353.6 183.2,346.5 202.8,339.4 222.5,332.3 242.1,325.2 261.8,318.1 281.4,311 301.1,303.9 320.7,296.8 340.4,289.7 360,282.6 379.7,275.5 399.3,268.4 419,261.3 438.6,254.2 458.3,247.1 477.9,240 497.6,232.9 517.2,225.9 536.9,218.8 556.5,211.7 576.2,204.6 595.8,197.5 615.5,190.4 635.1,183.3 654.8,176.2 674.4,169.1 694.1,162 713.8,154.9 733.4,147.8 753.1,140.7 772.7,133.6 792.4,126.5 812,119.4 831.7,112.3 851.3,105.2 871,98.1 890.6,91 910.3,83.9 929.9,76.8 946.3,70.9 893.8,24.8 877.4,30.7 857.8,37.8 838.1,44.9 818.5,52 798.8,59.1 779.2,66.2 759.5,73.3 739.9,80.4 720.2,87.5 700.6,94.6 680.9,101.7 661.3,108.8 641.6,115.9 621.9,123 602.3,130.1 582.6,137.2 563,144.3 543.3,151.4 523.7,158.5 504,165.6 484.4,172.7 464.7,179.8 445.1,186.8 425.4,193.9 405.8,201 386.1,208.1 366.5,215.2 346.8,222.3 327.2,229.4 307.5,236.5 287.9,243.6 268.2,250.7 248.6,257.8 228.9,264.9 209.3,272 189.6,279.1 170,286.2 150.3,293.3 130.7,300.4 111,307.5" fill="url(#ty)"/>
<g clip-path="url(#cla)"><g transform="scale(.5)" fill="none" stroke-linecap="round">
<path stroke="#f0e66a" stroke-width="2.6" d="M1383 238q4 3 7 8M1257 336q1 9 9 7M637 584l5 -4M383 591q3 6 0 11M1423 258q4 -2 8 -5M1502 253l-4 5M1329 212q2 4 2 8M824 445q6 -2 9 3M1827 116l-1 7M1347 228q4 5 8 9M589 578q5 6 -2 10M895 451q-6 -3 -9 -8M548 620l-4 -5M1574 185q5 4 11 5M939 382q-3 3 -7 2M924 421l6 -1M825 414q5 -5 7 2M1809 86q-1 -8 6 -11M954 442q-4 8 4 11M1558 193l-2 -6M1252 311q-6 1 -11 4M1660 115q4 -1 8 0M690 539q1 -5 0 -11M1042 436q0 5 -3 10M1043 399q6 0 12 3M1341 323q4 -5 2 -12M1298 228q-11 -6 -9 6M924 439q-2 -4 -5 -6M1626 242q1 -7 -6 -9M921 345q7 -4 12 2M1368 328q3 4 8 5M1431 260q8 0 4 -6M543 541l4 6M1076 350l2 6M897 492q-5 -5 0 -11M848 417l-6 2M1516 179q-5 -5 -5 -12M1593 222q-5 0 -9 4M851 485q2 6 8 4M1086 330q-3 -6 2 -11M333 685q5 -2 11 -4M1238 306l3 -6M402 581l4 5M464 532q3 -3 5 -7M707 535l3 6M1781 110q4 6 -3 8M631 492q-2 6 1 12M713 524q0 9 -8 4M1557 193q6 0 11 4M1464 200q1 5 5 7M1744 159l-7 2M407 552q-5 2 -9 6M1090 369q0 -7 5 -12M1525 195q4 -5 4 -11M1028 347l2 -6M1360 308q6 3 6 10M1795 97l6 3M481 563q8 1 11 -7M1033 323l7 0M646 589q4 -3 8 -5M478 610q3 -6 9 -5M1550 261q5 -1 7 -5M1697 133l-4 -6M431 644q5 2 7 7M1445 177l6 -2M769 486q4 4 9 2M1490 188q8 0 7 -8M1679 158q-3 2 -8 4M1385 296q5 -4 0 -8M1120 322q6 -2 12 -1M713 572q-4 -6 -11 -3M1321 337q5 3 3 9M1572 227q3 6 10 7M421 643q-2 -6 4 -9M1856 142l2 -7M1269 250l-2 6M452 636q1 -7 7 -9M1374 223l-5 5M907 379q-3 3 -8 4M871 430q4 1 7 1M679 434q-10 -5 -9 6M1728 71l0 7M1062 353q-2 6 -8 7M1367 323q-2 -6 3 -10M1083 406q-5 -4 -12 -4M1305 241l6 2M1737 99q-4 7 -11 2M782 442q-5 1 -8 5M1429 262l4 6M1053 386q0 4 -1 8M1671 196q6 -1 9 -7M385 625q-3 7 -10 7M1082 339q-2 4 -1 9M648 474q-3 3 -5 6M467 602q3 7 -1 12M364 587q-4 5 -9 1M299 585l-5 4"/>
<path stroke="#ead622" stroke-width="2.4" d="M973 395q-4 3 -9 4M1614 160q-2 4 -1 8M519 629q-6 -3 -8 -9M281 649q6 3 10 7M1289 236q4 1 7 5M1588 178q8 0 7 8M660 519l6 -4M1476 215q-3 -2 -7 -3M1303 282q-7 2 -8 9M1884 122q-4 5 -9 1M1283 231q-3 -7 -11 -6M775 454q7 -5 2 -12M878 424q5 -4 11 -5M308 581q2 7 -1 13M1468 173q5 0 6 5M1195 284q-6 0 -12 -4M1734 189q-2 9 7 10M1713 101q5 -2 4 -6M1418 199q-6 -2 -12 2M1039 351q-1 6 -7 6M1676 166q-5 0 -10 2M1034 404q-5 3 -7 9M1751 164q2 5 7 5M1740 89q4 5 1 11M1070 374q5 -2 10 2M1742 152q-4 0 -9 0M1155 328q4 -4 0 -8M1418 267l-3 6M1626 185q-3 6 0 12M791 477q7 -2 10 5M1313 306l-1 6M1709 143q-5 -3 -10 0M532 543q-10 3 -10 -8M1375 232l-3 5M853 479q-5 0 -7 -4M1333 249l1 7M1061 364q-4 6 2 9M575 519l-7 -1M1251 363q0 5 5 6M644 527q8 5 8 -4M1620 174q9 -4 4 -12M1024 316q2 4 6 5M1721 119q2 6 -3 9M1127 391q-2 4 -5 8M1035 420q7 0 8 -7M1655 182q0 6 -5 9M1391 235q-3 -7 -11 -7M1245 279q-3 -5 -9 -5M1490 189q5 6 12 2M1347 224q6 3 12 1M1095 371q-3 -4 0 -8M891 438q-3 4 -7 4M1716 166l3 6M1319 275q4 -4 7 -9M1176 290q-2 6 -9 9M1029 412q6 -4 3 -11M717 498q3 3 7 5M1359 206q-1 -5 2 -9M1095 329q-5 -4 -7 -9M1257 343q3 -5 8 -7M1465 222q0 -8 7 -5M886 386q-3 5 -6 10M1600 177l5 -4M291 605q3 4 5 7M749 505q6 0 11 -2M708 458q-2 -6 2 -10M1732 118q4 -2 6 -6M1697 175q-5 -1 -8 -4M567 570q6 7 8 -2M1437 267q9 2 11 -7M1180 356q5 -4 6 -10M1305 233q-1 7 -8 9M1083 345l5 -4M1452 209q-2 10 -10 5M1443 227q-6 1 -13 -1M837 401q6 1 10 5M1120 295q-7 0 -8 7M450 609q4 -5 -2 -8M605 501q-4 0 -7 2M681 458q6 2 9 -4M730 451q5 4 0 8M366 637q-4 5 -10 8M948 382q-3 -7 3 -12M598 543q5 4 10 6M394 656q-4 6 2 10M1340 236q6 -3 11 -6M1375 292l-5 3M1827 107q-8 -4 -11 5M333 579q0 4 3 7M1447 241q-1 -6 -7 -7M1158 368q-1 7 -8 10M701 483q10 -1 6 9M496 603q1 -5 5 -8M1215 285q-5 -4 -8 -10M720 503q-3 2 -4 6M330 635q4 -5 5 -12M1757 139q-2 3 -5 6M1494 231q6 -6 -2 -10M1496 237q-5 3 -10 7M538 528q-5 -1 -5 -6M1126 322l-1 7M920 403q-4 -3 -10 -3M1262 310q3 -4 4 -10M865 430q-1 -9 -10 -7M1107 364l5 -3M1774 105q-3 -4 -7 -2M1066 438q-7 2 -7 9M979 375q5 -1 9 -2M1599 225l-7 2M1527 178q-4 -6 -10 -1M1778 81q6 5 8 -2M797 463q5 -5 1 -11M705 480q4 -5 4 -10M825 473q-2 -4 -5 -6M1336 308q-2 5 -4 10M1569 125q7 3 4 10M773 419q-5 -1 -10 -1M951 391q6 -1 10 3M832 449q4 3 2 7M327 689q3 4 4 8M1275 359q1 4 -2 7M700 467l5 -5M667 569q5 -1 10 -4M988 345q4 -5 8 0M1776 133q6 2 6 8M1638 216q7 6 13 -2M868 378q4 -4 8 -7M1743 103q2 7 -5 10M518 557q1 4 6 5M590 548l4 -5M1648 140q-4 -2 -8 -4M1528 250q3 -5 8 -9M1383 200q-4 3 -7 8M1267 311q-4 4 -9 6M1725 187l2 6M817 452q-3 3 -7 1M1601 147l6 -1M495 563q1 4 5 6M237 620q-2 -5 2 -8M379 607l0 7M1345 256q-6 2 -10 7M760 457q-2 -6 -6 -9M1828 131q1 -6 5 -11M1064 436q-2 8 4 12M1277 283q1 -4 1 -8M873 424q-7 4 -3 11M1750 190q-5 0 -9 -1M1288 303q4 -3 8 -5M1243 312q5 7 7 -1M642 543q-2 6 -8 10M1245 332q-3 -5 -8 -10M955 356q-5 0 -7 -5M1040 367q4 2 6 6M1584 140q6 1 7 -6M1494 237q8 3 9 -6M425 624q-1 -7 -7 -11M1639 201q0 -6 -6 -8M565 544l-1 -7M1553 213q-8 4 -2 10M356 552q4 1 6 5M1679 91l-6 2M1745 68q-6 -3 -10 2M494 511l-3 -4M870 388q-1 4 -4 7M700 439l4 -1M674 451q8 2 8 -6M540 482l1 5M1578 102q0 -5 -1 -9M400 560l2 -5M686 444l-4 3M1086 289q4 -4 9 -2M1109 303q7 2 9 -5M1345 207q8 -1 4 -8M1783 58q-3 -2 -7 -4M1597 120l-2 3M1784 50l-3 -5M1391 199q-5 -4 -8 2M1664 79l2 -4M432 544q-4 0 -8 -2M1065 314l6 0M1445 175l-5 -3M462 531l4 -1M602 479q-3 5 0 11M1023 315q-5 3 -3 9M787 389l3 2M1415 185q8 6 10 -4M1671 92q-1 5 -6 5M612 475q3 7 10 4M1679 69l-4 1M1019 312l-3 -5M1058 308q4 2 8 5M450 535l3 4M695 444q4 -5 9 -3M424 529q3 -3 7 -5M295 600q7 3 8 -4M1760 43l-2 5M1525 147q2 -6 8 -6M238 613l-1 -4M1663 91l-4 1M365 570q3 3 2 7M647 460q3 -3 4 -6M829 396l-4 -3M1220 258q5 -6 -1 -10M1709 63q-4 -1 -7 -4M353 566l-5 1M295 591l6 -4M718 449q-8 5 -9 -5M836 381q-4 2 -5 7M668 448q1 4 5 6M1589 100l4 -2M643 473l2 -4M300 591q-5 2 -10 4M822 398l4 1M971 323q1 -5 -2 -10M657 460q-3 3 -8 3M948 355l3 1M532 506l1 -5M286 600q3 -5 -2 -8M1763 49l2 -4M806 384l2 6M948 345q1 4 4 8M1762 53q-5 0 -9 2M516 491l3 3M1252 235l0 4M596 482l-4 6M1694 53l4 2M1292 215l-4 1M961 331l4 2M500 509q-4 0 -7 3M1479 155l-3 2M452 528l-3 3M1241 232l-4 2M1748 64q-7 -2 -10 4M1639 74l-2 5M811 399q-1 -5 3 -9M1649 95q4 -2 8 -3M570 495l5 2M1127 282l2 -4M1147 291q5 -4 2 -10M1014 339q2 -4 6 -6M734 438q-4 4 -10 3M1160 284q-4 -3 -10 -4M1096 295l2 3M917 360l-2 -3M1390 174q-4 6 -8 -1M965 322q3 -3 2 -7M696 452l-3 -2M620 472l1 4M1333 223q-5 1 -9 0M540 495l-4 -2M1059 303q-9 -2 -2 -8M1456 159q-3 -4 -7 -4M829 394l5 4M1537 134q-4 2 -7 5M285 596q-7 -2 -10 4M1066 313q-2 -3 -6 -5M1421 184l-2 5M837 398l4 -4M421 543l-3 4M562 493q5 -4 4 -10M627 472l0 7M1615 104q7 -1 9 5M1399 169l4 -4M986 345l-6 2M384 560l5 -2M1155 275l6 1M1151 281l-4 6M1756 57l4 0M1279 219l4 -2M384 562l-4 -4M722 443l6 1M527 499q2 4 4 7M1377 169l-5 -1M479 526q-3 -4 -7 -4M990 333l4 2M1282 231l0 -6M932 328l4 3M1593 112l-3 3M1122 288q4 2 7 5M1686 71q0 4 1 8M650 466q-3 3 -1 7M1152 285q-4 -1 -8 -2M992 318l-3 4"/>
<path stroke="#d8c81a" stroke-width="2.3" d="M1321 271q-4 1 -6 5M1057 431q-2 -4 2 -7M1756 146q-4 -2 -9 -4M1065 319l2 -6M1498 269q-6 -2 -11 3M295 627q-5 -1 -9 -2M552 577q8 3 9 -6M688 568q3 -4 0 -8M972 390q-3 -3 -6 -7M1354 237l6 0M1754 132q6 0 11 -2M1181 275q6 -5 2 -11M762 484q-6 -9 -8 2M524 519q-2 -4 -5 -6M1335 228q-6 -1 -13 0M1105 408q5 11 11 0M1423 241q2 6 6 10M1169 349q5 -1 8 -4M1236 359q4 -4 7 0M1449 240l6 -3M1086 432q-4 -9 -11 -2M924 465q-5 0 -9 -5M1141 319q-3 -3 -3 -7M1658 130l-2 -6M1572 131q-2 13 9 6M375 666l-6 1M1113 332q6 -2 12 1M1485 165l5 -3M1563 208q-7 2 -5 -5M694 490q-4 4 -1 9M500 630q6 -2 9 4M750 541q-5 -8 -10 -1M499 638l7 0M1232 371q7 2 5 10M1044 444q1 -4 3 -7M1487 226l-6 3M1817 77q4 -4 8 0M1158 277q5 -5 11 -2M721 459q5 -2 8 1M1162 359q-3 3 -5 7M1747 107q-1 6 5 6M1784 144q-2 -5 3 -7M1280 353q-7 1 -11 7M449 654q0 -9 9 -6M584 524q-6 -1 -12 2M1576 159q5 -5 10 0M576 610q2 4 4 8M1451 292q-5 1 -6 6M1250 261q6 6 11 0M1382 250q4 -4 9 -5M1494 265q6 -4 2 -9M729 536q2 4 7 3M1214 338q6 9 10 -1M1274 258l6 3M1767 175q-7 0 -11 6M1271 360q-5 4 -1 8M804 440l-6 -1M832 406q4 3 7 7M1098 344l-7 0M451 540q-12 -4 -2 -12M1624 107q7 4 5 11M1202 384q2 4 7 3M782 468q5 1 9 3M968 469q-2 6 4 8M1587 188q5 -1 9 2M1557 166l-1 6M1520 251q-7 -2 -10 4M1786 65q-6 -1 -13 1M1434 218q2 6 -2 11M1156 301q5 2 10 3M463 589l6 3M1712 206q-3 -3 -1 -7M1817 141l7 1M1578 125q-5 -2 -8 2M1126 300l-4 6M1581 174q-5 4 -1 9M1140 401l2 6M362 672q-5 2 -10 2M1243 337q-4 -3 -8 -2M711 534q0 -6 -5 -10M1737 68q3 8 -6 11M1311 250q2 -3 3 -6M1249 366q8 2 5 10M1177 323q-1 7 -7 10M1416 227q4 1 7 4M770 512q-5 6 -12 4M785 497q-5 0 -7 4M1822 80q-4 -2 -9 -2M1691 194q-1 6 -1 12M808 461q-3 5 -7 8M1078 330l-2 -6M1199 359q-3 -7 -10 -3M1078 314q4 -4 8 1M712 520q-4 -3 -9 -5M736 435q-3 -13 9 -9M1531 246l4 6M396 600q-3 3 -7 5M1827 145q3 -3 4 -7M1507 203q0 -6 -6 -8M666 507q6 -2 8 -7M844 386l-6 -4M790 507q1 5 1 11M449 625q3 3 4 8M1194 367q-6 -1 -7 6M1649 99q-4 4 -9 4M554 499q-3 5 -8 8M1518 201l-3 -6M568 558q-1 4 -2 9M832 451q3 -2 7 -2M365 574q6 4 0 8M1767 184q5 0 10 3M279 605l6 -1M297 672l5 -5M1446 295l6 1M770 512q-5 6 -12 2M1338 236q5 2 5 8M425 569q-5 8 4 10M1663 100q-10 -3 -10 7M1799 104q0 4 2 8M783 475l5 4M586 559q-5 -1 -7 4M1363 262q5 2 10 2M934 427q-4 -6 -9 -1M311 617l-6 -1M1287 319q-4 1 -6 5M841 404q5 3 10 2M1234 284q3 6 2 12M787 414q2 6 -3 9M710 467l-1 -7M824 421q-6 4 -5 11M1840 127l7 -1M1443 203q0 6 -5 9M994 393q-11 -4 -3 -12M1384 321q-3 5 -6 9M1610 113l6 3M1114 411q3 5 8 6M1270 343q-2 4 -4 8M1218 308q0 8 -8 6M957 413l6 3M1834 140q-3 -4 -8 -4M1637 215q0 -5 0 -10M1246 252q2 5 5 9M354 658q4 -7 11 -4M1618 115q-4 -3 -8 -1M900 420q-8 -3 -12 5M558 526q-6 -4 -11 1M1794 132q3 -6 10 -8M779 433q-10 0 -6 -10M1334 250q0 -4 0 -9M778 524q4 -4 9 -4M401 625q8 6 8 -4M1072 317q2 -4 4 -8M819 534q-5 0 -6 -4M874 426q5 0 10 0M347 689q5 -2 9 -7M909 501q4 -8 -4 -12M1735 109q-6 -2 -12 1M1301 227l-5 5M616 598q3 -2 6 -6M475 563q4 -2 9 -1M1871 131q2 -9 -7 -8M1747 70q0 6 6 5M1501 266q-3 -5 -9 -7M870 419q2 -6 8 -9M839 429q5 2 8 7M1492 193q-5 -7 1 -12M787 432l-6 -1M1220 356q5 6 8 -1M411 645q4 8 11 2M1379 228q5 3 10 1M343 589q-6 -5 -1 -11M562 596q-4 -2 -8 -3M1622 202q-1 4 -5 6M741 540q-5 1 -6 7M1732 131q-2 6 -1 12M1598 247q-4 -5 -1 -10M801 409q2 4 1 9M1617 115q2 -3 3 -7M1850 103q-5 -2 -10 -2M1657 109q-8 -7 2 -12M862 423l-5 -5M1710 138q3 5 5 11M732 435l-4 -2M1753 60q6 0 7 6M1712 75q2 5 7 8M1191 272q-4 0 -8 1M1427 160l-4 5M1614 86q0 5 3 9M1296 231q-5 3 -7 8M260 600l-3 -4M1644 73l-5 5M307 597l-4 3M740 430q-4 4 -1 9M628 476l-6 1M747 424q-2 10 -8 2M1334 200q3 2 8 3M655 461l2 3M1293 215q8 -6 8 4M1677 77q3 -4 8 -3M1090 314q-3 -2 -6 -5M457 519l1 -4M1213 263q7 4 2 10M1468 138l-4 5M1770 62q-1 -4 -5 -7M933 343l6 3M907 347l1 5M1698 81q3 -4 0 -8M1391 196q-5 4 -10 1M636 473l-3 4M282 604q-4 2 -7 -2M1682 74q3 -4 7 -6M925 345q-6 4 -8 -4M1494 142l6 3M383 564l-5 0M1434 165l2 -4M824 379l5 4M1008 333l-5 3M660 458q-6 1 -7 7M1189 261l-6 3M468 534l3 -3M763 418l0 5M387 551q0 4 3 8M1026 314q2 6 -2 10M1120 290l1 -5M728 431l0 -5M1167 271l-4 2M1539 128l-6 2M1608 94l-2 -4M956 345l-3 2M1632 109q4 -3 4 -8M1236 245l4 4M690 459q-7 6 -7 -3M1555 129q-1 4 -2 8M750 424l-3 -1M1014 316q-5 1 -9 5M853 384l-2 5M577 480q-4 0 -7 2M673 447q2 7 8 5M770 405q-5 0 -7 4M1254 243l-6 4M545 493q-4 2 -8 2M1220 252l3 -3M727 438l-6 -1M859 390q5 0 9 -1M1576 114q1 5 0 10M817 375q-5 3 -4 9M1171 258l0 4M1161 263q-6 2 -7 9M878 371q3 8 10 2M614 473l-4 1M1007 329q-4 1 -8 3M1115 280l0 -6M420 546q-3 4 -6 9M1788 43l1 6M710 444l5 -2M320 578l4 5M1627 103q-5 0 -10 3M955 342l3 4M1482 159l-6 -1M1583 126l-2 -3M1432 169q1 6 7 5M453 538q3 -5 9 -6M1525 142l6 -3M400 563l6 -3M1165 275l5 -1M364 565q1 5 -3 8M919 339q-3 4 0 8M595 480l-3 -6M1508 152q0 -6 -5 -8M964 335q-4 -6 -11 -2M636 474l-6 -1M806 387l-6 0M1170 284q-4 -7 3 -10M1140 260l-5 -2M651 461q2 5 7 7M1274 217l3 -3M441 534l3 6M1414 183q7 2 7 -6M1481 145q4 3 7 -1M1578 104l-1 5M477 525q0 -9 8 -5M1421 177l5 -1M485 502q-3 -8 -10 -2M1262 226l-3 -4M1148 285l4 -6M1142 275l-1 4M1373 195l-5 1M1542 126q4 -3 8 -7M1433 145q1 6 -5 7M1166 268l5 -1M913 342l-6 0M1480 125l-1 7M1535 120q-6 1 -10 -3M1150 265q-4 4 -8 0M1728 56q-6 1 -6 7M1233 238l0 5M1705 55l3 -2M1279 210q5 -2 10 -4M1003 331q2 5 2 10M845 389q5 -10 10 0M1296 212q4 2 8 4M540 487q6 -3 8 3M644 468l-1 -4M1120 285q5 -1 7 -6"/>
<path stroke="#8f8210" stroke-width="1.8" d="M1819 140q-8 1 -10 8M1089 409q6 7 12 1M971 348l-4 6M465 522q1 6 0 13M593 535l6 -4M1499 241q-5 -1 -10 1M1082 361q-3 5 -6 11M590 480q-1 6 -5 11M1363 308q-4 -1 -6 -5M1854 123q3 -2 4 -6M1829 158q-6 2 -12 -2M1604 201q2 4 7 5M586 601q6 -1 12 -3M1668 140l-6 -1M318 632q-4 -5 -8 -10M1742 133q6 7 -2 12M1806 164q-5 -1 -10 -5M1741 199q1 -6 1 -12M1575 171q-2 -8 5 -10M800 508q4 -4 10 -4M1702 74q3 -6 -1 -11M1688 110q7 3 10 -4M1756 158q2 -12 12 -4M1687 164q3 -5 3 -11M1682 189q2 -8 8 -3M1054 432q-5 7 1 12M1474 250q-6 4 -7 -3M1669 108l2 6M1543 229q-3 -6 -9 -2M800 457q3 -3 7 -4M1392 269q6 -4 9 2M723 537q-4 -2 -6 -5M1106 410q2 6 8 7M1190 302q-4 2 -6 5M1848 88q-2 5 3 7M328 636q6 0 12 -1M409 662l-4 -5M1420 250q-1 4 -2 8M1638 162q-3 -5 -8 -4M1212 368q-4 -4 -10 -5M1329 344q-5 2 -11 2M1560 169q-6 4 -12 -1M1680 183q6 -1 7 -7M1820 148q-2 6 -8 9M638 499q4 -3 8 -5M992 439l-1 6M501 533q5 -6 8 1M1721 81l6 -1M474 560q7 -1 9 -8M258 637q13 -8 10 7M867 437q1 -4 1 -8M832 515q2 -5 -2 -7M430 622l7 1M278 584q-3 6 2 11M1347 314q2 -6 7 -2M1422 280l-3 -6M544 535q6 -1 7 -7M1447 181l2 7M1617 150q-1 5 -4 8M1567 172l-5 5M873 385q5 -1 9 -3M402 578q-5 4 -10 0"/>
<path stroke="#f0a224" stroke-width="2.4" d="M1215 310q1 4 4 7M786 500q5 1 9 6M1388 307q2 6 -3 11M1108 391q-2 -5 -7 -6M766 485q2 -9 -8 -10M1530 242q1 -7 -5 -11M1802 142q0 13 10 5M1710 120q-4 8 -11 3M343 686q1 6 6 9M465 567q3 -3 4 -6M1571 124q3 -4 6 -7M877 466q8 2 9 -6M1575 106l-6 3M1025 414l-2 6M1788 123q-6 3 -12 3M379 651q6 -1 12 -3M1659 120q1 -6 0 -11M807 427q-1 -5 2 -10M1192 370q-6 4 -12 -1M375 693q-4 -4 0 -8M927 453q-2 4 -6 6M668 552q-7 5 -4 12M1170 366q1 -8 -5 -12M595 559q2 4 5 7M395 648q3 3 6 6M1337 258l6 3M1427 231q7 -9 -5 -9M1317 239q-5 -1 -7 4M796 413l6 -2M1020 418q6 3 8 -4M926 385q4 -6 -2 -9M593 536q-4 -3 -3 -7M922 464q-3 2 -7 4M1326 217q3 -6 9 -5M942 351q-8 -3 -11 6M1227 258q5 3 10 6M1459 267l3 6M1706 133q-2 8 -9 4M1757 187q-5 0 -10 -1M751 443q1 -7 7 -8M1648 189q-2 5 -7 9M578 571q4 5 8 10M1392 247q1 -6 6 -9M943 473q3 -5 9 -4M728 452q6 -10 -5 -9M1147 341q4 6 -3 9M1562 155q-1 4 -6 6M499 637q-5 1 -8 5M679 532q7 -5 3 -12M1687 138q-4 4 -1 8M1386 240q4 -3 8 1M990 415q-4 -2 -6 -6M1785 183q-8 13 -11 -2M808 408q0 -4 -2 -7M955 448q-6 -3 -4 -9M837 526q-3 -4 -2 -9M1424 292q0 6 2 11M398 670q-4 -9 5 -7M751 444q7 -3 6 -11M920 364q-5 3 -6 9M1682 104q-7 1 -4 8M1586 177q-3 -3 -7 -4M420 629q-1 4 -2 9M1797 82q5 1 10 5M1053 380q6 -3 12 -3M1607 165q-7 3 -10 -5M685 520q4 -2 8 1M938 430q2 -5 1 -10M1198 266q5 -1 10 -2M642 561q-1 -6 5 -6M352 698q5 -3 4 -9M1521 146q1 5 5 6M1229 252q2 5 1 11M560 542q5 4 3 10M1210 304q5 4 9 0M764 445q6 2 11 -1M487 627q5 3 7 9M621 573q-6 0 -12 -1M368 665q-4 -4 -2 -9M1122 389q6 3 10 7M1443 245q-4 1 -8 -2M727 517q7 5 2 12M1611 163q-7 6 -13 -1M1313 219q-4 -4 -8 -8M356 629q-5 6 -12 3M286 592q5 -9 10 0M881 479q-1 -5 -6 -7M1691 129l-1 7M953 447q-7 -5 0 -10M1494 244q-7 2 -8 9M1770 76q3 3 8 3M1530 214q7 0 12 4M431 537l6 2M799 437q-5 -4 -11 -3M1471 266q-2 4 -8 4M1578 151q2 -4 4 -7M1057 391q5 8 10 0M1744 186q6 9 -5 9M1777 95l-5 4M1258 316q-3 -5 -2 -10M1762 123q4 -3 6 -7M1249 244q-1 5 0 9M996 427q4 -4 8 -9M889 450q-5 -3 -7 -7M1082 315l-6 4M1131 368q2 4 7 5M1727 96q1 10 10 4M1314 303q-3 5 -8 7M842 416q-1 -4 -3 -7M748 432l0 -7M1602 122q4 4 9 1M616 539l-5 -5M855 395q-6 -2 -7 -9M856 454q-5 -2 -9 1M1237 362q0 4 0 7M990 329q0 5 -5 7M1021 348q0 -4 -3 -7M316 667q5 1 8 5M1028 339q-4 -2 -8 -2M1396 230q1 -6 4 -12M1496 129q4 6 10 4M236 621l-6 -4M792 480q-5 -1 -9 -3M1820 82l-6 -1M575 526q4 1 8 2M632 542q-4 5 -7 11M770 452q2 -4 7 -3M449 654q-5 3 -9 -2M1442 227q-5 0 -7 4M1432 188q8 2 7 -7M978 354q4 0 9 -1M1709 210q-6 -3 -4 -10M1790 144q1 5 6 6M1718 66q6 -2 11 -7M1802 138q-1 7 -8 8M647 582q0 6 -4 11M1737 178q4 1 7 2M750 527q9 -6 10 5M1630 116q4 0 8 -2M1438 288q-3 4 -6 7M1691 194q-2 5 -8 6M1706 139q0 5 2 10M637 538q-2 3 -5 5M1165 341q-1 -11 9 -7M1533 262l2 7M1794 108q0 -6 3 -11M1443 247q6 1 7 -5M1376 262q1 6 -5 9M901 466l-6 4M1838 137q5 2 3 8M1076 414q-3 -9 -11 -6M1799 180q9 -7 -1 -12M1460 188q3 -6 6 -11M1427 183q-2 4 0 9M735 557q-1 6 -7 4M497 609q1 5 -1 8M1420 243l7 0M1283 249l-6 -3M1832 132q5 -2 9 -1M1858 137q-8 0 -7 -8M1706 110q11 -5 2 -12M1017 389q-6 0 -11 4M1602 135q0 5 -3 8M1479 161q4 -4 8 0M1741 131q1 5 6 9M1576 158q-3 -8 -11 -3M923 342q3 -9 10 -2M1175 343q1 -5 2 -11M923 429l-6 2M1468 247l6 2M428 602q-8 2 -11 -6M1624 161q9 -1 8 8M244 601q1 7 8 7M1055 423q5 2 10 6M1610 101q-5 5 -11 0M1480 252q7 4 9 -4M1589 154q-4 3 -9 2M1463 256q1 -6 0 -12M960 440q5 2 4 7M633 555q-4 0 -7 -3M897 411q-5 9 -13 3M1337 277q-5 1 -7 6M1855 143q1 4 1 8M1501 225q4 5 8 0M1424 271q5 -2 10 -6M1747 149q4 -3 3 -7M832 402q9 7 -2 11M808 413q3 -5 1 -10M1752 87q3 6 2 12M579 524q3 -6 9 -9M838 403q6 2 12 3M978 430q-4 0 -7 -3M1712 127l-1 6M619 553l-4 5M1148 377q2 -10 10 -4M874 396l4 -5M1572 234q7 -2 13 1M298 633q2 5 0 11M862 456q0 4 -3 7M892 380q6 3 8 9M1240 271q2 4 0 9M1405 234q0 -7 8 -7M1187 365q-4 -5 -8 0M1089 304q-2 -4 -6 -4M1589 118q-5 7 3 12M1013 433q-4 5 -9 2M303 639q-1 -5 0 -9M601 495q-4 -5 -10 -3M1612 183q4 -1 7 -4M776 420q5 1 9 1M1538 256q-6 3 -12 -1M1667 202q-5 3 -3 8M1122 398q1 -4 3 -8M1682 83q-6 -1 -11 1M260 605q-7 11 6 12M1095 384q2 8 -5 12M1256 317l6 -4M1234 238q3 -5 2 -10M300 668q3 4 0 8M846 391q7 -3 3 -9M1028 318q7 -4 8 4M1225 253q0 4 0 7M370 564l-1 6M747 408q-6 -2 -8 4M696 441l-3 3M1130 295q0 -5 0 -10M1367 166l4 -3M678 459q-2 5 -5 9M533 504q-3 7 -10 4M1186 251l-3 -4M544 499l0 -6M383 536l4 5M660 459q4 -2 8 -1M549 499l-6 1M1612 120l2 -3M638 475l2 -3M1310 184q-3 4 -1 8M1216 254q1 7 8 5M1371 189l3 5M761 416q4 -4 7 -8M1141 282q-3 3 -7 3M1406 171q-3 5 -9 6M569 491q6 -3 5 -9M314 581q-2 4 -4 6M1562 132q3 -4 7 -8M1596 114l4 3M1748 35q0 6 6 8M439 545q-3 9 -9 1M747 430q-6 4 -7 -3M1344 180q2 6 7 2M487 522l5 3M736 436l3 6M1427 186q-5 -4 -10 0M859 394q-5 -3 -10 -5M987 325l2 7M1472 151l0 -5M1626 84q-4 -3 -8 0M1036 300q-2 5 2 10M880 376l-5 -4M1128 290l3 -4M1480 145l-1 -7M1305 218l2 -3M330 582q2 -5 0 -10M1535 142q-3 3 -7 7M827 391q4 2 8 2M268 615q3 -4 1 -10M435 547l5 3M1338 203l4 -2M468 535q4 -1 8 -2M548 488l-3 6M839 369l-3 4M542 497l-4 0M1534 121q-2 -5 -2 -11M296 593q6 0 8 6M1627 101q1 5 5 7M846 386q1 -5 4 -7M657 459q-1 7 -8 8M1433 171l4 1M1700 79q0 -5 3 -10M424 546l-5 -4M1417 183l4 -1M482 511l-4 -1M1245 234q3 6 7 1M1354 175q4 1 7 1M640 476q-6 -2 -7 -8M1131 283q2 5 1 11M739 428q6 -9 11 1M1426 165l2 -6M825 371q1 4 1 8M592 488q4 2 3 7M1287 232l-6 2M1391 189q6 -2 8 3M1121 275l6 1M1269 232q6 1 8 -4M385 566l2 -6M485 509l-1 6M555 495q5 1 9 0M1414 171q-5 1 -8 5M1527 143l-4 1M868 388q2 8 9 3M1640 67q2 -6 -3 -10M889 369l0 7M1327 196l0 -5M1534 117l5 0M727 427l0 6M339 580l-5 -2M1786 59q-3 -5 -9 -4M1159 278q-4 0 -7 0M1585 91q4 -1 7 2M350 568q2 -7 8 -4M479 527l2 -4M1239 248q-5 -1 -8 4M1158 269q-4 0 -9 -1M383 564l-5 -1M1065 308q-7 2 -7 -5M1274 208q0 -5 -2 -10M1244 251q-1 -10 8 -6M264 603l2 -5M1392 197l4 -3M446 527q-3 -3 -8 -4M1634 95l3 3M1745 60l5 5M514 515q1 -5 -2 -8M740 430l7 -1M633 469q5 -3 10 -5M556 494q7 4 10 -3M733 440l-4 2M932 357q-6 -5 -9 2M340 574q-5 6 3 7M1596 109q-8 -5 1 -8M731 439l-5 -5M965 343q-7 1 -6 8M1169 272l-3 3M649 474q3 -5 8 -8M481 511q5 -1 9 -4M672 449l2 -4M563 494q-3 -6 3 -8M1764 50l-7 2M470 513q6 -2 7 -8M794 387l4 1M982 331q-6 -2 -6 -8M1746 73l1 6M897 352q3 6 9 3M1298 226l6 2M1289 231q-4 2 -8 4M355 560l3 -5M466 496l2 6M1022 313l6 1M1415 169l-4 3M547 500q1 -7 7 -4M938 349q3 -5 7 -9M844 398q1 -4 3 -8M431 528q-5 3 -5 9M739 433q-3 -4 -7 -7M1563 128q3 4 7 7M748 430l1 -7M239 608l5 -1M1164 264l-4 -4M311 582q7 0 9 7M866 387l6 -2M942 331q-4 -2 -3 -7M584 492l-5 3M562 479l-4 5M1719 46q5 1 8 -4M958 338l-6 5"/>
<path stroke="#ea741c" stroke-width="2.4" d="M1800 90l4 -5M572 584q5 2 10 -1M1597 185q2 -3 6 -4M589 488q-1 -5 -6 -4M1266 369q-6 -4 -6 -11M1365 269q5 6 11 2M1758 119q7 -2 7 -9M1538 226q4 -2 4 -7M829 389q0 5 -1 11M346 672l-5 5M553 522q4 0 8 3M866 388l6 -3M1446 258l-5 5M795 446q2 7 9 8M1148 390q0 -6 1 -12M1198 282q-2 -8 -10 -8M322 630q-2 9 7 9M1140 325l0 -7M1497 257q5 -1 8 -4M823 389q2 7 -2 13M1259 284l-6 0M1436 240q3 -4 2 -9M261 630q0 6 -5 10M1032 347q-6 1 -6 -5M1495 192q4 -9 -6 -11M1263 278q3 -3 4 -8M914 457l-6 -3M1206 302l1 -6M1178 375q3 3 6 5M960 465q4 -6 10 -3M1103 385q-7 5 -11 -2M436 640l6 -2M1685 187q-5 1 -7 5M409 577q-4 2 -7 4M1520 216q-8 -3 -7 -11M1780 159l0 7M1823 82q-2 4 0 9M1696 148q6 -2 9 3M1662 96q-4 -3 -8 -5M761 525q-3 2 -7 3M1781 136q-1 6 -1 11M1409 187l-7 2M1781 89l-7 0M1836 138q3 -3 7 -6M1212 252q1 -7 8 -6M449 621q4 -3 8 -1M1041 340l-5 4M867 468q5 0 8 -4M355 583q5 -4 10 -7M997 388q3 -5 9 -7M1623 202q8 2 10 -6M982 387q-5 1 -10 1M1038 396q4 -6 1 -12M322 642q1 -13 -10 -7M1428 270l2 6M823 419q-1 -8 6 -4M1643 207q-4 -2 -6 -6M1408 229q8 10 8 -3M1512 237l-4 4M1719 159q0 5 3 8M751 440l5 5M422 557q-7 0 -9 -7M1561 167q-2 -5 -7 -3M1623 190q8 4 2 10M1027 379q-3 -4 -8 -2M898 382q-6 1 -11 -4M1433 217q5 3 9 6M701 558q-3 3 -2 7M1549 174q1 -4 3 -7M1299 270q-4 -3 -2 -8M1383 235q0 -7 5 -11M472 563q3 -6 9 -5M1101 421q-9 -1 -7 -10M719 517q-2 7 -8 9M1751 93l-5 -4M1380 206q8 4 12 -4M444 542l3 -6M1589 177q4 6 11 6M342 621q0 4 -3 8M343 668l-3 6M783 528l-3 6M1576 160q-1 -6 1 -11M1664 132q-9 4 -1 9M979 466q2 5 8 3M1427 197q-6 2 -11 5M1424 237q-3 6 -9 4M1741 159l-4 -5M727 455l-2 7M866 405q1 -6 1 -12M533 572q6 1 9 -4M1634 100q-5 -1 -8 -5M1635 173q-4 -3 -5 -8M526 541q-5 -4 -11 -2M1411 264q4 -1 8 1M581 562q4 0 7 1M1385 254q5 1 9 -2M487 562l-3 6M962 469q-6 -1 -10 -6M1778 168l7 1M1320 317l-6 2M874 395l-3 6M1542 164q2 -4 7 -4M899 401l-5 5M1557 189q-5 0 -9 -1M1796 108q-5 5 -4 11M1575 200q3 -3 7 -3M1665 164l5 4M684 516q-4 -2 -9 -1M924 389q-5 2 -10 2M442 580l-6 -3M1772 97l-2 7M1002 411q-4 0 -7 3M1721 108q-6 3 -6 10M625 478q-8 4 -4 12M1487 195q3 -1 7 -1M1071 391q2 5 0 10M968 386l7 2M1653 179q-3 6 -9 8M1768 142q-2 4 -5 7M1341 208l-2 -7M1594 189l7 2M1407 242q3 3 5 6M1080 400q6 6 13 1M793 543q3 -3 2 -7M1457 240q2 -3 6 -5M394 552q-4 1 -8 2M1147 346q-8 1 -6 10M1494 261l6 2M1407 222q2 -4 5 -8M1397 201l5 -5M390 606q-6 0 -12 -1M980 386q5 1 11 0M1174 367q4 2 4 6M729 552q-4 3 -3 8M1588 202q-5 1 -10 3M705 547l-6 -3M494 519q-6 -3 -11 2M1487 251q8 2 7 -6M304 661q4 6 -3 9M297 648l-6 1M1601 188q-5 5 -11 2M1812 119q-2 6 0 13M1739 114q6 2 11 4M1503 179q-8 -5 -2 -13M781 523l6 -3M429 660q6 8 13 0M1780 121q4 -3 9 -3M1627 231q3 -8 11 -6M1784 145q-5 1 -9 -1M1795 172l-6 -3M1587 170q6 3 12 2M1586 162q-8 0 -8 8M1761 123q-3 -3 -6 -7M305 589q5 -5 6 -12M264 627q-10 5 -8 -6M1018 369q-5 5 -5 12M659 568q-8 0 -8 8M749 549l1 -7M1519 193q-3 -4 -7 -3M1415 201q0 -4 -3 -7M1269 308q5 0 9 3M1075 416q6 3 12 0M1076 314l7 1M256 637q-4 -6 -2 -12M334 587q3 3 6 6M1583 149q4 -2 7 -6M1806 158q-1 6 4 11M455 572q-5 -3 -10 0M850 497q2 5 5 7M1072 400q6 -3 13 0M1812 99q-4 2 -8 1M427 610q5 -1 10 1M1380 185q1 5 -2 10M1471 286q-4 -4 -9 -4M1237 266q-5 1 -6 6M1837 147q6 5 11 0M1471 255q-4 4 -7 7M1713 148q-2 -4 2 -7M822 411q1 5 -4 8M629 569q1 13 9 3M1639 192q-3 -4 -1 -8M415 558l-4 -5M925 340q2 4 6 7M702 456q4 -1 7 -2M1830 131l6 -3M1784 157q5 4 11 3M892 406q-5 1 -6 6M711 487q-1 7 6 9M486 543q-9 -4 -2 -11M1008 356l3 -7M1637 170q4 -5 9 -9M929 373l4 4M993 364q4 2 8 -1M914 407q3 3 2 7M1258 353q-1 -8 7 -6M1197 291q-5 -2 -7 -8M349 603q-5 -3 -4 -9M579 521q11 0 5 9M877 423q-4 -1 -8 1M342 588l-4 4M1431 198l-5 5M1690 100q-5 3 -11 5M696 540q5 -1 7 -5M1262 285q-3 3 -5 7M921 419q-1 -3 -3 -7M537 613q7 7 8 -3M861 420q6 5 1 12M1479 248q6 1 8 -4M791 399q6 -3 11 2M885 468q-5 8 -12 1M1592 210l3 6M1814 95q-3 -10 -11 -4M1581 150l-2 -7M1465 288q-1 -4 -2 -8M1448 237l-2 -7M1186 259q7 -3 9 4M858 457q3 5 0 9M1727 130q-5 4 -2 9M1443 198q3 4 7 2M1121 340q7 1 7 8M1488 238q3 4 7 6M1467 202q3 8 -6 9M1614 189q6 1 9 -4M1354 199l7 1M1819 140q0 4 4 7M1069 424q5 -2 9 1M994 379q4 -4 0 -9M717 437l-3 6M1175 361l6 -1M898 433q5 -3 11 -4M1613 116q2 -4 7 -5M1638 126q-4 3 -8 0M1554 223l-5 -5M1004 418q6 6 0 13M595 491q5 1 10 3M1531 167q-3 -4 -6 -6M1863 132q5 -2 7 3M781 452q8 -3 10 6M1281 273l-7 -2M847 478q6 -2 4 -7M1476 211q-5 3 -2 8M471 584q-5 2 -3 8M814 525q-10 3 -10 -7M792 509q-3 9 -11 5M1444 300l4 -5M1523 239q5 1 10 -1M675 470q-3 -7 1 -13M1164 363q-5 0 -9 -1M1685 192q4 0 8 -1M1799 123l6 -2M275 626q-6 8 3 9M768 435l6 -3M1272 207q2 -4 7 -3M379 678q0 7 -5 12M1821 99l4 -6M683 458l-3 5M1430 158q-4 -2 -6 -6M1412 186q-1 6 -6 7M467 650q-4 -14 8 -7M1738 121q-3 -7 -9 -3M703 530l5 3M1811 128q3 7 -5 7M1702 114q-3 4 -8 5M1435 259q-3 6 2 10M1280 326q4 -2 6 -5M1566 197q6 2 10 -3M956 458q-6 -2 -12 -2M1122 373q-1 5 -4 10M1392 216q4 8 12 4M1569 235q9 4 9 -6M1661 162q-6 2 -12 3M325 694q5 3 10 6M1792 144q-4 4 -5 9M653 549l7 0M1402 250q-8 -9 4 -9M1217 312q6 0 10 -5M804 529q-4 0 -7 2M1843 100q-6 -6 -11 1M1766 167q-2 -5 -6 -10M578 583q2 -5 4 -9M1688 133q1 4 0 7M1596 88q-4 6 -10 3M1584 121l-5 -1M552 481q-5 1 -11 0M627 472l7 -1M820 386q-4 2 -8 1M790 410q-5 1 -8 6M1705 66q3 -5 0 -10M749 427q-2 6 5 8M1356 196l-5 0M1409 177q1 -5 0 -11M241 620l-4 5M827 406q-4 -1 -8 -1M474 527q-1 -7 -8 -6M1416 179q-3 -2 -6 -5M823 385l5 1M1503 122l6 0M267 600q5 0 10 4M731 434q-3 3 -2 7M1382 174l4 -1M1633 84l-5 -1M732 423q4 3 8 2M411 555q-2 -6 -9 -6M1219 265l3 -2M1750 74l-6 3M706 434q-6 -1 -8 4M1348 205l-5 1M574 479l5 -2M1590 94l-4 -2M406 541q5 -2 9 -6M1495 114l1 7M1604 97q-4 2 -5 6M1267 238l-2 3M1204 257q-4 2 -6 5M1420 170q-6 -5 -8 2M1756 51q-2 -4 -6 -6M389 560l-2 -5M937 332l3 -6M1664 78q-1 -4 -3 -7M1160 279l-5 -1M1732 57l4 -5M600 488q-5 2 -10 4M575 479l-4 3M1396 191l3 -2M597 471l3 5M1273 218l-2 4M1205 245l2 6M648 474q-4 -4 -9 -6M1006 307l3 -2M631 472q-5 1 -9 2M1269 211l6 -3M1203 251q6 -1 9 4M252 609q1 -7 -6 -8M1695 61q-1 5 -6 5M1797 50q3 -4 0 -8M688 457l-5 2M1060 318l2 4M1690 74l5 -3M1204 259q3 2 7 3M682 437l1 -4M1645 83l-4 3M240 610l0 -4M234 622l-1 -4M1224 244q4 -1 9 0M439 552l-1 -7M325 586l-3 5M479 524q8 -5 0 -10M1057 316q-2 3 -3 7M1686 89q-2 -5 -6 -8M916 373l-3 -2M1347 195q-10 7 2 10M624 477l-3 -5M337 585l0 6M1030 327q-2 -4 0 -8M409 557l-5 -2M799 387l-5 4M1327 201q4 -3 9 -6M1407 169l2 -3M677 452l-4 3M833 376l-2 7M752 427l5 -3M1230 260l-4 -2M578 476q-2 3 -3 7M1529 139l3 5M885 377q1 6 5 9M613 469l-5 3M1473 151q3 4 2 8M1523 119q-2 5 -5 9M1141 279q-4 3 -5 7M771 405l3 -6M1123 281l1 -5M446 536l-7 0M1117 284q2 6 7 5M354 572l-5 3M512 524q-8 -1 -3 -7M1103 297q-2 6 -9 7M1239 248q-6 2 -11 -1M708 434q-3 8 5 9M1052 313q1 5 5 9M392 566q-1 -10 -10 -5M1140 288q-7 -5 0 -11M757 428l-2 -6M416 541q-1 6 2 10M1019 333l-6 4M1564 107l0 7M788 413l-2 3M1397 186l7 1M407 545q9 -2 7 7M1480 140l5 -5M644 461q4 3 9 6M535 494q-4 -3 -8 -4M387 552q4 2 9 3M870 380l-5 1M1121 298q-4 -1 -7 -3M263 614q-5 -9 5 -10M1602 110l-4 0M859 366q5 3 3 8M1723 41q3 4 6 8M244 611l5 2M1689 73l-5 2M1160 279q3 -7 -4 -9M295 594q-1 5 -4 8M315 583q-1 4 -5 7M1010 308q-5 -7 -10 0M1422 180q-2 4 -5 7M840 384q3 5 8 6M1708 42q3 7 9 4M491 505l-1 -4M1165 274q4 -2 6 -5M794 404q4 10 -6 8M901 370q-4 -2 -8 0M1354 177q5 6 11 1M1350 189l5 4M316 595l-6 0M885 367l-6 2M861 380q-5 3 -3 8M742 437q-4 1 -8 0M1209 248q-3 3 -4 7M486 522q-3 4 -4 8M982 325l-3 -3M1728 60q-5 6 -10 0M556 483l4 -2M554 491q-5 3 -10 4M1760 48q-3 6 -9 3M1020 325l-4 1M1298 220q-5 3 -2 7M1776 66q-5 0 -9 0M1764 60q-1 -6 -8 -5M1458 163q-2 -3 -6 -6M733 442q1 -5 -2 -9M939 359l2 -3M443 537q-7 5 -9 -4M1395 188l5 -3M893 365l3 3M1132 289l-5 -2M1796 26q3 7 8 1M1243 244q-2 3 -5 6M1305 206l-4 0M1665 93l-1 -7M386 555l-3 4M819 387q-1 -5 -1 -11M757 413q-1 -4 -2 -7M1205 249q0 7 6 6M1290 219l-5 -1M347 574q-9 -3 -9 6M1034 313q3 6 -1 10M701 446l-1 4M974 344l0 -5M1052 305l-6 3M277 614l-5 -4M935 338l2 3M610 473l-4 1M749 418l-5 0M1000 316l-4 -5M1350 189l-3 -1M1771 41l-6 1M1721 71q4 1 8 3M808 392q4 -4 9 -5M536 498q-5 3 -10 2M1560 120q-2 6 4 10M862 377q-1 6 -7 6M1483 142q8 1 8 -7M1099 279q3 3 4 7M1096 299q1 6 -5 6M719 445l-5 2M275 601q2 4 6 7M793 386q-2 -6 -7 -3M712 425q1 6 -4 9M394 558q-1 6 -7 7M1238 248l-5 2M999 337q5 8 9 0M1096 299q2 -5 0 -10M790 401q-1 -7 5 -8M1212 260q-5 -1 -7 3M489 508q-6 -4 -11 2M450 525l6 -2M1058 318l5 -5M441 540l5 -5M413 549q0 -5 -5 -5M1576 111l-5 4M241 610q-5 3 -9 -2M732 429q7 0 5 -7M977 339l-5 3M1740 63l3 -3M668 457l-4 -1M1217 258l6 -4M444 527q4 -5 10 -5M291 593l-2 4M1705 89q3 -4 4 -9M1101 289q6 3 6 9M828 397q5 -3 10 -4M903 370l0 -4M261 594l0 -5M1275 235q-1 -9 8 -6M792 399q0 -6 5 -9M743 428l1 5M670 447l1 6M1452 173q-6 0 -10 -5M1660 88l-1 -4M1249 226q2 -4 2 -9M1252 253q6 -5 0 -10M966 342l0 6M723 438q5 0 8 4M1697 76l-1 4M1100 286q-1 -6 4 -9M926 330q-3 -4 -8 -6M350 568l3 -5M1274 218l-5 -2M1132 293l1 -5M1046 297l-6 1M1338 202l6 3M1500 134l3 -5M298 584l-4 6M734 438q-4 6 -9 1"/>
<path stroke="#e4521e" stroke-width="2.4" d="M1675 179q4 -5 10 -4M1740 142q-2 5 1 9M1073 406q8 0 11 7t13 2M1719 125q-5 3 -4 9t-3 9M1706 109q-2 4 -5 7t4 8M1722 62q0 -4 3 -8M963 400q1 4 1 7t1 7M1563 155q4 0 9 1t9 0M1635 152q2 -6 -4 -7t-6 -6M1393 215q0 7 -6 11M1403 191q-5 3 -9 9t-11 5M1001 394q5 1 6 5M1542 238q2 -8 10 -6t9 -7M1552 199q2 6 -1 11t1 11M1453 201q9 7 11 -4t12 -2M1678 178q-4 -8 -10 -2M1714 189q-3 -4 -9 -3t-7 -6M319 597q-3 4 -7 5t-7 5M716 550q-3 3 -1 7t-5 5M1039 315q7 -4 10 3t7 8M1501 169q2 3 3 7t-2 7M1679 191q2 4 5 6t6 5M1639 174q11 1 6 11t-2 12M787 414q-6 -1 -8 5M672 568q-6 -2 -12 1t-11 6M925 355q0 -5 0 -10t-2 -10M1494 183q-6 2 -11 -1t-11 -3M1114 383q3 2 6 4t7 2M1058 342q-2 -6 -9 -5M1167 367q-3 9 -7 1t-3 -6M307 648q3 2 7 1t7 -1M1048 323q5 4 11 6M1634 204q-2 6 -8 5t-8 4M1324 202q-8 2 -7 10t-7 10M1764 99q-4 4 -1 8t-3 8M444 552q-4 -2 -7 2t-5 5M1558 197q-3 -5 -7 -8t-10 3M664 463q-6 -1 -10 2t-9 5M426 657q-2 5 -7 4t-8 1M546 614q-5 -2 -7 -7t-6 -7M360 592q2 11 -8 8t-5 11M1353 295q-4 -5 -1 -12M427 654q-1 5 -6 6t-5 7M343 605q7 -3 6 -11t10 -7M1791 161q-4 -3 -9 -5t-7 -7M1698 95q-1 11 -9 4t-10 -2M1025 399q-6 2 -12 -1t-11 -4M963 420q-3 4 -7 1t-7 2M518 549q-1 -5 -4 -8t6 -7M1091 392q-5 2 -7 7t-6 8M1635 131q7 2 8 -5t4 -9M1056 412q-4 7 -12 4t-8 9M474 595q-2 -5 -6 -9t-10 -4M1594 219q-4 0 -7 1t-7 3M1029 346q-3 -4 -2 -8t0 -8M1791 142q7 6 8 -3t9 2M867 395q-4 2 -8 1t-8 1M1515 152q-2 3 -5 5t-2 7M325 614q5 3 6 -3t7 -1M1840 133q-2 6 -2 12M952 473q4 -1 9 0M1582 168q-6 4 -6 11M408 620q-1 -8 7 -10M1499 252q0 -4 4 -6t-1 -7M812 410q-2 6 5 6t4 7M954 346q1 5 -3 9t3 9M1643 110q-3 -2 -4 -6t-1 -7M1791 137q-3 2 -7 1t-5 5M651 533q-6 2 -12 2M1454 224q1 -4 -2 -8t-4 -8M1696 175q0 7 -7 7t-8 5M1515 161q6 8 -4 6t-5 5M1512 265q-4 -3 -5 -6M1307 236q-1 4 -2 7t5 5M342 637q6 1 11 5t5 11M1775 134q4 -3 8 -6t8 -5M811 514q-6 -1 -12 2M1069 409q-4 0 -6 3t-5 4M871 399q4 0 8 3M1301 281q-4 0 -8 1t-7 -3M253 609q1 -7 7 -4M1472 250q5 3 2 8t-3 8M1004 378q6 6 9 -1M323 581q3 -1 6 -2t7 1M1061 335q1 4 -1 9t-4 8M939 406q1 7 -6 8t-8 7M1791 121q-2 8 -9 4t-9 1M1691 137q-9 -4 -7 6t-9 0M751 482q-4 3 -9 3t-9 5M891 365q-6 -1 -3 -6t-6 -3M1080 331q-6 -1 -10 4t-11 -1M832 401q-9 3 -7 -6t-6 -7M419 547q-4 -1 -6 -5t-3 -7M1718 71q4 2 7 -1t6 -2M248 599q-2 6 3 9M429 589q5 -7 12 -1t9 8M1455 171q-8 -4 -12 5t-13 0M1175 387q-6 0 -9 -6M813 383q-2 7 3 12M1436 178q-5 4 -2 9t-5 8M734 441q0 -5 4 -8M343 675q2 -5 -1 -10t0 -10M1095 359q0 7 7 8t10 3M1024 330q0 7 -7 10t-1 12M851 377q-2 5 -4 10M1828 120q4 4 7 10M1497 270q6 -3 13 -2t13 -2M802 490q3 6 9 3t1 9M260 634q0 -6 6 -4t7 -1M1606 98q-9 6 -11 -5t-12 -2M1421 230q-5 0 -9 -3M1327 227q-1 4 -6 6t-8 0M765 413q6 -4 11 2t11 4M978 415q-3 -4 1 -8t3 -7M418 660q-4 6 -11 7M586 559q1 4 4 7M1697 145q1 5 6 5t6 4M907 469q0 -5 -4 -5t-5 -4M1762 123q5 0 10 -1M1051 338q4 -2 4 -6t5 -4M424 650q-4 -5 -10 -6t-11 -4M1691 106q0 -7 -7 -6t-9 -3M1456 163q4 1 9 1t8 1M471 654q-7 5 -12 -3t-7 9M1410 186q-4 -5 2 -8t0 -8M293 644q-4 0 -7 2t-6 -4M630 544q2 -5 7 -9M1470 247q10 7 10 -5t11 0M876 396q-8 -9 4 -11t9 -8M1287 243q8 -1 6 -9t9 -6M1504 173q5 -3 11 -6t1 -12M1808 107q3 4 2 9t-2 9M1531 161q3 -6 10 -6M836 448q5 2 10 -2t9 -4M853 422q-7 -3 -4 -9t-1 -10M1521 262q-4 -2 -7 -4t-7 -5M688 541q4 -8 11 -3t11 -2M998 389q-6 -3 -5 -10t-10 -4M1788 88q-5 1 -8 -3M1784 139q4 -5 7 -10M876 446q4 3 8 3t8 4M355 622q5 2 7 7M1293 286q-2 4 -6 2t-6 1M1017 382q5 5 12 5t7 11M1251 292q-5 -3 -9 -7t-9 -6M1788 141q-2 5 -6 8M620 539q-5 0 -8 3t-8 -3M1597 124l6 -1M1618 99l3 -2M1683 68l3 -3M435 528q-4 1 -5 6M1308 218l-5 5M501 522q5 -1 9 -1M591 470q1 -4 1 -7M1342 196l3 -6M1663 97q-3 -3 -4 -8M1451 164q-1 5 -6 6M884 381l4 -3M1340 204q-4 -6 3 -9M1653 70l-1 4M1688 73l7 -2M976 331q1 4 5 6M1345 203q-4 -3 -7 1M1664 80q4 -3 9 -2M1061 313l-3 3M1304 219l-2 -3M1196 262l-2 4M995 338q1 9 -9 7M853 390l-4 2M1132 293q1 5 -1 9M1397 196l-4 -1M1409 168q-5 2 -7 -3M619 473l4 -3M1686 54l4 -1M1792 45q1 -5 -3 -9M796 399l3 -4M1435 159l6 -3M426 536q1 4 6 5M1688 82l-2 -6M644 465q-5 -1 -10 1M1380 178q4 -2 8 -4M279 605q4 0 8 -1M1180 270l1 -4M802 390q4 3 8 3M1209 245q3 -3 7 -6M789 417l3 -3M1731 66l-4 -4M477 516l-6 1M354 561q0 7 -7 6M1377 177l7 1M652 461l5 -2M686 452l4 -1M1073 308q3 -6 -1 -11M1758 47l-4 -4M1230 260l4 -2M1438 141l-5 2M1160 269l-5 -2M1561 121q-4 3 -3 7M774 423l5 2M404 556l-5 0M1639 96q5 3 8 -2M1741 63l4 -2M1648 77q1 -5 6 -4M516 507l6 -3M710 435l-3 6M785 419l-4 3M692 435l0 7M527 492l0 -4M1366 180q-2 -6 -8 -5M251 592q-3 5 0 10M1221 250q7 -4 9 4M1101 284l-4 0M1193 278q-4 -5 -8 1M382 563l0 -5M1180 280l4 -3M1357 191l6 1M547 496q2 6 -2 10M575 490q-1 4 2 8M1593 98q4 2 8 1M699 437l4 5M1340 210l5 3M246 618l3 -3M906 375l5 -3M830 397q-2 4 -3 9M596 476q6 -1 8 4M521 510q2 -5 7 -3M326 583q-5 -1 -7 4M560 491l-7 1M645 458q7 5 7 -4M340 572l4 0M1587 98q1 -7 9 -5M276 597q5 0 9 -2M1137 285l5 -3M701 444q-4 3 -9 4M1653 81q-1 6 6 7M1648 74q-5 -4 -2 -10M1768 57l4 3M1139 279l1 4M362 561l5 0M1512 125l-6 -4M1202 258q-2 -3 -6 -5M787 411l-1 -4M916 367q1 -6 6 -8M1204 255l-7 -1M1674 84l4 2M699 450l-5 -4M617 485q-6 0 -9 -5M1112 294l3 -6M1377 173l-4 -4M1397 187q-3 -4 -8 -2M1699 48l-3 6M549 498l3 -2M773 421q4 -2 8 1M591 489q-3 -2 -6 -5M1503 140q-1 5 -3 9M539 482l3 -4M1223 251l1 4M1600 87q3 4 6 8M1601 112l2 4M362 565q-6 -10 5 -8M575 462q2 5 -1 8M407 556q4 -6 11 -3M996 322q-3 3 -6 6M490 512l3 3M1339 209l-1 -4M761 422l-5 2M1233 251l-2 4M961 334l-6 -1M860 393q4 -3 9 -1M1330 204l7 -1M1099 301q-2 -5 -8 -4M1684 77q6 -4 7 3M1419 188q6 0 9 -5M684 441q3 6 9 6M721 436q3 3 6 5M1601 108l0 -6M1518 140q1 -4 5 -6M1328 207l6 -3M552 495l-4 -3M295 589q-5 2 -10 -1M748 433q2 -9 9 -3M962 349l7 0M385 560l-5 -5M918 355l-5 -1M1771 49q-5 0 -8 -4M975 342q1 -4 3 -8M1755 62q-6 -4 -9 3M1122 294l-2 5M928 370l2 -6M801 401l0 7M1037 319q-1 -5 3 -8M1371 190l4 3M1703 82l4 2M684 461q-4 0 -8 -2M1622 64q5 -2 6 3M625 476q0 5 -1 11M1600 91l2 -5M1376 193l-5 4M791 411l2 -6M821 399l-4 3M924 332l1 5M1372 172q-7 0 -7 -7M400 555l3 6M316 580q3 -3 6 -6M555 483q2 6 8 5M1776 31q-8 -2 -9 6M1145 275l-3 4M1343 192l5 -2M942 352q8 -4 2 -10M1355 174l4 -2M1722 53l-3 2M1379 198q-5 -2 -10 -5M1249 235q1 -5 6 -4M658 475l-2 -3M1003 335l4 0M1508 150q-4 -3 -8 -7M558 470l-3 5M254 617l3 2M1724 71l-4 -4M1289 208q5 -3 7 3M1245 247q-4 -2 -8 -4M365 564q-5 6 1 10M551 489q-1 4 -5 5M843 392q6 2 8 -3M1090 306l6 0M1347 193l5 3M1638 84l2 3M851 387q-4 3 -8 0M1663 95l0 4M528 496l3 3M617 470q-3 -3 -3 -7M747 425l-2 4M1220 261l-5 -3M432 542q1 -5 6 -7M1212 250q5 0 7 -4M770 396q5 -1 10 -4M1250 243l1 -7M1089 301q5 0 9 -2M818 385l-1 -6M747 428l7 -3M1153 261l3 -2M1201 268l-6 2M862 388q-6 4 -8 -3M1409 177q1 -6 -5 -7M554 482l3 -5M1396 179l0 7M1188 277q4 1 9 -1M1760 65q4 -2 8 -1M1158 277l5 0M442 524l5 5M1746 66q-4 2 -6 5M1295 227l5 2M721 414q-7 3 -1 8M417 538q6 3 1 8M450 531l-3 -5M1024 323l0 4M1378 204l1 -7M646 462q4 7 10 2M759 415q2 -3 4 -6M1220 256q4 -7 9 -1M920 362q4 -4 8 -1M645 466l-3 5M948 342q3 4 7 3M1009 316q-4 3 -7 -2"/>
<path stroke="#d8381a" stroke-width="2.5" d="M1514 148q-4 3 -5 8t-1 9M441 528q-4 5 -5 11t-9 8M1502 231q5 5 2 11t8 8M897 440q-5 8 -11 1t-11 2M835 496q5 -4 4 -10t2 -11M1648 87q-4 2 -9 4t-8 5M555 605q-9 -6 -9 5t-2 10M1337 308q7 1 9 8M811 463q4 5 5 11t8 9M1124 372q5 -2 10 -4t10 -4M1292 264q1 8 -7 7t-9 4M1760 35q6 0 9 5t6 9M1709 198q5 -1 10 0t9 -2M822 444q-4 -2 -7 -4M1656 141q-3 -5 -7 -8t2 -11M1485 150q5 6 -1 10M1269 312q4 -1 7 2t7 0M797 540q4 -5 -1 -9t-2 -9M1117 378q-2 7 6 6t4 7M1487 194q-2 -3 -5 -5t-5 -6M1005 389q3 5 6 11M948 369q-3 -6 1 -12M1487 239q-4 -5 1 -10t8 -5M770 508q-9 2 -7 11t-11 5M1263 256q5 -3 6 -9t10 -5M460 543q2 -4 3 -8t-4 -8M793 531q0 -6 6 -7t8 -6M795 401q9 -1 9 8M397 680q-4 0 -9 1t-9 1M1728 101q-5 -3 -10 1t-9 5M1088 371q-1 7 -8 6t-6 8M1633 106q-4 7 4 9t9 4M656 548q4 -4 9 -4M1102 344q-3 2 -8 3M1719 130q3 -5 0 -10t-2 -10M1473 177q3 5 8 5t1 10M1590 99q6 14 -9 8t-12 -3M1706 104q5 -2 9 1t9 2M1501 187q-4 -2 -5 -5t-7 1M1114 340q-5 3 -3 9M1707 152q-2 5 -7 5t-6 6M991 350q1 9 10 6t11 3M1548 185q-2 6 4 6t1 7M333 683q-6 0 -11 -4M1243 348q1 6 6 10t7 10M1769 135q3 -5 8 -3t5 -7M1068 424q6 -2 13 -1t11 5M1732 176q6 6 12 0t6 10M1832 149q4 0 6 3t5 4M1572 113q-3 5 -1 10t9 5M986 440q-10 6 -9 -6t-10 -4M814 424q11 1 6 -9t9 -5M441 645q2 5 7 6t5 7M1126 293q-1 -4 1 -7t4 -5M960 354q2 4 6 6t7 3M1181 260q-6 1 -12 -2M437 540q8 3 4 11M907 377q1 -4 2 -9t-4 -8M1699 179q0 8 -8 10M1213 265q0 -7 6 -10t3 -11M470 539q-1 -4 -3 -8t0 -9M1167 356q5 -4 11 -5M869 407q3 -3 8 -4t8 3M1049 349q-4 -1 -7 1t-7 1M1781 143q-6 -1 -10 4t-9 6M1871 121q-4 1 -8 1t-8 -1M1457 256q1 6 -4 8M1707 205q0 -5 -4 -9t-7 -7M663 536q8 -1 8 7t8 7M1457 163q1 9 -6 3t-6 -3M297 633q-4 5 -4 12M374 692q-4 -4 -9 -3t-5 -8M1008 423q5 -3 8 -8t11 2M1243 301q-6 7 2 11t4 10M1499 195q-10 -3 -4 -12t-7 -10M1703 169q-8 5 -2 11t-1 11M311 679q6 -1 11 2M609 534q5 -3 3 -8t1 -8M1811 68q-7 -2 -5 -9M659 530q6 0 11 5M852 506q-3 1 -6 2t-6 -1M1102 376q-6 0 -9 -6M377 669q5 0 9 2t8 6M1011 353q2 -6 4 -12t7 -11M1347 244q5 -1 11 -1t4 -10M1692 141q-5 0 -8 -5M1478 219q3 -6 -2 -9t-3 -9M1012 334q5 6 -1 11t8 8M1412 181q4 -6 11 -5t12 -5M759 442q-1 -6 -5 -10t-2 -11M392 678q0 -4 -2 -8M997 412q-3 4 -6 8M618 594q8 -5 2 -12M727 458q-6 -1 -9 -6M1542 239q0 -6 5 -7t4 -7M1771 78q0 5 0 10t5 8M1646 130q-4 4 -8 1t-5 6M502 641q5 -14 -8 -7t-1 -11M1739 173q-1 -5 -6 -7M1730 112q2 -4 7 -5M1880 128q6 1 9 6t10 5M558 511q1 5 6 4t6 5M1207 271q-7 9 3 12t11 7M1178 286q0 -6 -3 -11t2 -12M1248 316q5 -14 13 -1M1792 64q-7 4 -13 -2t-13 1M1444 283q4 -2 4 -7M731 504q-8 9 4 11t11 2M422 627q-3 6 -8 10t-12 6M1439 166q-6 -3 -12 -5M1657 196q6 2 12 0t8 9M964 458q-9 2 -7 -7t-4 -9M1012 427q6 7 12 -1t12 1M1566 124q-2 -8 -8 -3t-6 7M320 641q6 3 12 1M1112 372q4 -2 9 -2t7 -7M1213 250q-5 -4 -11 -6M957 391q-3 -6 1 -12M997 448q-4 -2 -4 -6t-7 -1M1648 167q5 6 12 2t12 4M1157 291q6 -2 11 -4M1537 246q-1 -6 -7 -4t-7 -3M1439 261q-2 -6 4 -7M500 579q3 4 7 1t4 6M1623 166q4 4 6 9M1805 132q4 -4 9 -7M1021 400q9 12 10 -3t8 -7M803 402q5 -3 10 -6M367 617q-8 -4 -10 4M1217 264q5 -4 1 -8t5 -7M1459 279q-3 -5 -9 -6M454 599q-3 -6 -9 -5t-10 -3M1511 248q-1 -10 -8 -4t-9 -2M412 532q5 0 9 2t9 1M1609 108q3 -4 -1 -7t-4 -6M1542 250q0 -6 -6 -8t-7 -6M1770 179q-6 -2 -7 -9t-2 -11M860 420q-5 -4 -11 -4M960 422q10 1 8 -9t9 -8M471 558q-6 2 -11 -3t-8 -8M574 511q-4 6 -11 6t-12 -2M885 356q3 -6 8 -4t9 3M1597 162q-1 -7 6 -7t7 -6M1453 266q-4 4 -3 10t-9 5M968 364q1 -5 3 -9t-1 -9M1414 220q2 -5 6 -8M1465 191q3 4 1 9t-7 5M293 620q5 -1 9 -1t8 -5M1511 248q7 0 5 7M1523 221q-6 1 -12 3M1747 54q-5 5 -12 5M868 431q-2 5 3 8t2 8M1514 215q1 7 -5 4t-6 3M1494 258q-1 6 -5 10t-10 4M300 645q-1 -9 -10 -7t-11 -6M453 525q5 0 5 -5t4 -6M932 392q-1 5 -6 6M874 370q4 0 7 0t6 4M1543 223q1 -4 0 -8t-6 -5M426 589q5 -4 8 2t7 4M1163 255l5 -3M668 452l-1 -5M473 510l-4 0M960 332l-7 -1M622 472q5 5 10 0M1579 93l-3 -4M1030 310l5 3M527 511l5 -2M1045 305q0 4 4 7M624 472l5 -3M733 438l-1 -6M1763 38q2 5 -3 8M648 475l-7 1M1053 302q-5 7 -9 0M1178 272q5 -1 9 1M397 563q4 -3 7 -6M352 572l3 -2M495 504q0 -4 -1 -8M1247 242l-5 2M1295 228q6 -6 10 2M1318 221q-5 -1 -10 -4M1468 148q-2 -5 -7 -2M1769 38l3 -1M236 615l4 -3M453 547q-3 -2 -7 -3M1287 209q-3 -2 -7 -2M1559 107l5 -2M1265 226l-6 3M554 497l5 -2M1086 304l-2 4M936 362l-6 -1M1017 314l-3 2M348 558q-4 3 -6 7M1688 65l-2 4M702 446q5 -2 11 0M1603 115l-4 -4M1620 108q2 -6 7 -8M592 484q7 -2 4 -8M1084 304l-6 -1M267 612l2 -4M1001 334l-4 -3M1484 158l-3 -3M1244 240l2 6M1202 259q2 6 9 5M1720 61q2 -3 4 -7M452 533q-3 3 -8 3M1132 282l-4 5M742 424l-5 -2M297 583q-4 1 -8 -1M299 585q-1 5 -2 10M1190 274q4 -1 5 -5M1418 170l4 -2M1586 99l5 4M1422 161q-2 -4 -6 -6M788 410q0 5 2 11M1434 143l3 4M1517 130q-3 -4 -6 -8M1449 166q4 -2 4 -6M757 414q4 4 0 8M1168 269q4 -4 9 -3M1591 103q1 -7 -5 -10M868 384q5 -2 9 0M785 420q5 -4 1 -9M1193 262l-3 4M1418 160q4 -1 7 -4M705 441l5 -1M643 468l-5 3M1028 320q4 0 8 2M1629 107q-4 1 -7 -2M322 575q3 4 8 5M1464 173l2 -6M850 395l-4 5M1441 146q5 0 8 3M1443 162q-1 6 -4 10M1177 254q-3 -4 0 -8M407 552q5 -2 9 1M1146 277l6 3M1707 45q5 4 3 10M959 349l-5 0M1633 100q2 -5 8 -4M1328 213l-5 3M834 379q-5 -8 -11 0M253 607q2 5 -2 9M525 483l-4 5M554 488l-4 3M743 428q4 6 9 0M1751 68q5 2 9 -2M357 572l1 6M1013 327l-6 -1M739 434l4 3M1788 49l-1 6M622 474l4 -3M1761 38q4 -2 8 2M1673 80l2 4M1651 98l4 3M1710 76l3 2M234 606q-3 -1 -7 -1M1270 209q-1 4 -2 9M1106 296l5 -1M1360 183l-6 3M907 324l-5 3M671 454q4 2 8 -2M338 581l-3 4M1613 114l2 -7M1337 190q-6 -1 -6 5M1414 188q4 -5 9 -3M1773 50q4 5 -2 7M528 508q2 -4 7 -4M862 385l-1 3M874 380q-4 -10 6 -7M1124 296q4 -4 10 -4M1320 200q1 6 6 9M375 551q9 3 4 10M757 428l-3 -3M1377 190q-3 3 -3 8M1518 127q6 0 9 -5M1662 68l5 -2M781 417l7 0M1481 149q-5 0 -9 -3M466 520q-1 -14 -10 -4M1201 256q-4 0 -8 2M1323 194q7 2 4 9M1079 302q-1 4 -4 6M964 342l7 -3M1405 178q2 -8 -6 -6M1468 157l-1 -7M731 433q6 1 6 7M1053 308q-1 5 3 7M820 402q-5 2 -10 0M964 342l-5 -3M1102 290q2 -4 5 -8M798 392q-5 0 -8 4M1294 223l-3 -4M1324 191q-6 1 -4 7M1135 295q-5 1 -10 2M1021 302l3 -2M487 513q6 -10 10 1M1560 117l2 4M1234 248q-1 5 -5 8M588 486l7 -1M794 394l4 -1M1289 227l-5 1M805 391q8 -1 6 6M1043 295q1 -4 1 -7M873 393q-4 -1 -8 0M1117 289l-6 1M1661 101q4 -6 -3 -8M916 349l0 4M1087 306q-6 -6 -10 1M1712 46l-5 3M1589 126l6 -1M1656 85l-5 0M531 500q3 -3 8 -2M732 421l-6 3M915 369q5 -4 3 -10M679 449l-3 -5M661 456l-1 7M1138 292l4 0M255 619q-5 5 -9 -1M302 589l-7 1M1087 294l4 -2M1264 197q-4 0 -8 2M773 416l4 1M1094 305l0 5M890 356l5 -5M1343 196q6 2 9 -3M923 344l-4 1M1288 220l5 -1M261 616q-3 -5 -9 -2M1202 276q0 -4 -3 -8M926 365l4 4M705 437l0 -5M996 327l0 -7M826 372q0 7 -6 8M1493 144q5 0 8 4M452 530l-5 1M1222 244q-8 0 -7 7M792 408q-2 3 -3 7M1229 223l6 0M1658 83q3 5 0 9M1361 204q5 0 9 -2M726 439l-5 3M491 524l5 3M461 541q-5 -7 2 -11M521 511q-4 1 -7 4M261 613q-1 -6 4 -6M858 375q4 8 -5 6M539 512l-6 -4M1255 221l-6 4M470 530l4 5M675 462l4 -2M1500 137q3 4 8 2M975 338q-4 -5 -1 -10M397 561l-1 4M1685 80l5 -1M1305 205l4 4M1330 181l3 -5M924 352l5 3M679 450l-1 4M1398 183q2 -4 6 -7M1337 213l-4 -1M259 605q4 -1 8 -3M333 567l-5 3M290 588q-4 5 -2 11M1564 116l5 0"/>
<path stroke="#b42010" stroke-width="1.7" d="M1029 438l-7 2M784 522l6 -1M334 616q0 5 5 6M1682 163q-3 -2 -5 -5t-5 -4M1713 152q2 -4 4 -8M1027 387q5 -1 9 2M1438 226q5 -6 2 -12M1812 75q5 0 7 -3M556 604q8 1 10 -7M1428 210q-4 2 -3 6t-4 6M678 522q0 3 0 7t7 0M877 456q0 6 5 8M1457 192q4 -1 7 1t7 2M1640 134q-10 -4 -11 6M1779 147q1 4 6 5M388 661l7 0M313 630q6 -2 10 -6M1690 142l-6 2M457 558q-6 0 -10 3M1639 124q-6 0 -12 1M663 526q-4 5 -11 5M1457 257q-2 2 -5 4t-4 5M1723 172q-8 -3 -4 -10M483 562q2 -4 1 -8M1006 389q-2 -3 -6 -4t-6 -3M1436 163q-2 -3 -5 -5t-3 -6M1863 135q5 -2 11 -2M434 563q4 3 3 7M1032 398q-9 13 6 9M1817 80q1 4 3 8M689 539q0 6 6 9M834 476l-7 1M1283 249l-1 6M1528 267q1 -3 4 -5t3 -6M1597 131q5 1 7 -3M661 533q5 0 9 -4M585 534q5 -4 5 -10M1014 325q6 -8 11 1M1719 139q-6 1 -11 5M945 355q-4 1 -7 3M1457 187q-3 -7 -10 -6M341 592q5 0 10 -2M879 436q4 3 9 4M963 413q6 7 13 1M631 519l-4 5M925 403q4 -4 10 -5M1836 128q4 -4 2 -9M1550 222q-4 3 -9 0M1642 195q1 4 -1 8M1466 260q8 -3 4 -11M316 623q-6 2 -13 0M1781 154q3 -3 3 -7M836 495q2 7 8 10M1560 129q0 -5 1 -10M518 512l3 -4M1235 246q1 -4 1 -7M1397 195q-1 5 -7 4M1663 67q-4 -3 -8 0M1160 281q4 -3 8 0M381 564q-5 1 -7 5M1286 198l-4 -1M1383 174q-1 6 -6 9M851 377l5 4M741 428l-1 4M1237 250q-2 -5 0 -10M575 482l5 0M638 479q4 -2 6 -6M1610 112l-3 -6M1257 228l-7 -1M477 529l4 2M883 359q4 4 9 5M885 368l-6 2M879 373q-4 4 -9 5M692 440l6 -4M333 580l-1 -4M1067 308l0 6M222 610l6 1M237 613q3 7 10 3M882 365l-6 3M1116 290q5 0 10 -2M1150 289q-4 1 -7 1M776 403l2 -3M1128 296l1 4M1624 84l-4 2M833 382l-5 -1M580 488l4 -2M315 589q-1 4 -3 9M651 472l-4 -6M284 605q-5 -1 -11 -2M861 385q0 6 6 6M1244 255q4 -4 4 -9M571 482l6 -1M1218 245q3 4 5 8M651 471q4 -1 6 -5M1585 103l-5 1M1325 217q5 -6 10 -1M680 447q-3 -3 -7 -6M917 366l4 1M1029 319q11 5 0 9M489 521l-4 2M817 406l3 2M383 554q-3 6 1 11M1406 167l7 1M1200 255l-3 2M1572 95q5 5 9 -1M954 356q5 -2 8 -6"/>
</g></g>
</g>
<g fill="none" stroke="#333" stroke-width="1.1" stroke-linejoin="miter">
<polyline points="139.9,333.8 163.5,354.9 183.2,347.8 202.8,340.7 222.5,333.6 242.1,326.5 261.8,319.4 281.4,312.3 301.1,305.2 320.7,298.1 340.4,291 360,283.9 379.7,276.8 399.3,269.7 419,262.6 438.6,255.5 458.3,248.4 477.9,241.3 497.6,234.2 517.2,227.2 536.9,220.1 556.5,213 576.2,205.9 595.8,198.8 615.5,191.7 635.1,184.6 654.8,177.5 674.4,170.4 694.1,163.3 713.8,156.2 733.4,149.1 753.1,142 772.7,134.9 792.4,127.8 812,120.7 831.7,113.6 851.3,106.5 871,99.4 890.6,92.3 910.3,85.2 929.9,78.1 946.3,72.2 942.1,68.4"/>
<polyline points="111,308 130.7,300.9 150.3,293.8 170,286.7 189.6,279.6 209.3,272.5 228.9,265.4 248.6,258.3 268.2,251.2 287.9,244.1 307.5,237 327.2,229.9 346.8,222.8 366.5,215.7 386.1,208.6 405.8,201.5 425.4,194.4 445.1,187.3 464.7,180.3 484.4,173.2 504,166.1 523.7,159 543.3,151.9 563,144.8 582.6,137.7 602.3,130.6 621.9,123.5 641.6,116.4 661.3,109.3 680.9,102.2 700.6,95.1 720.2,88 739.9,80.9 759.5,73.8 779.2,66.7 798.8,59.6 818.5,52.5 838.1,45.4 857.8,38.3 877.4,31.2 893.8,25.3" stroke="#2e2e2e" stroke-width=".9" stroke-opacity=".6" stroke-dasharray="8 6 3 11 13 7 5 9"/>
<path d="M261.4 319.5l-52.5 -46.9M359.4 284.2l-52.5 -46.9M457.3 248.8l-52.5 -46.9M555.2 213.4l-52.5 -46.9M653.1 178.1l-52.5 -46.9M751.1 142.7l-52.5 -46.9M849 107.3l-52.5 -46.9" stroke="#3a3a3a" stroke-width=".8" stroke-opacity=".28" stroke-dasharray="6 9 4 7 10 5"/>
</g>
<g stroke="#000" fill="none" stroke-linecap="butt">
<path stroke-width="1.9" stroke-linejoin="miter" d="M84.9 180.5L84.9 351.1L141.2 400.1L977.8 98.3"/>
<path stroke-width="2.6" d="M84.9 180.3L84.9 351.9"/>
<path stroke-width="2.6" d="M84.9 181.5l7.6-3M84.9 249l7.6-3M84.9 316.5l7.6-3M84.9 351.1l8-3.3M110.5 373.4l8-3.3M136.1 395.6l8-3.3"/>
<path stroke-width="1" d="M84.9 195l5.6-2M84.9 208.5l5.6-2M84.9 222l5.6-2M84.9 235.5l5.6-2M84.9 262.5l5.6-2M84.9 276l5.6-2M84.9 289.5l5.6-2M84.9 303l5.6-2M84.9 330l5.6-2M84.9 343.5l5.6-2M90 355.6l4.9-1.9M95.1 360l4.9-1.9M100.3 364.5l4.9-1.9M105.4 368.9l4.9-1.9M115.6 377.8l4.9-1.9M120.8 382.3l4.9-1.9M125.9 386.7l4.9-1.9M131 391.2l4.9-1.9M141.2 400.1l4.9-1.9M176.1 387.5l-2.4-3M245.8 362.4l-2.4-3M280.6 349.8l-2.4-3M315.5 337.2l-2.4-3M350.3 324.7l-2.4-3M420.1 299.5l-2.4-3M454.9 287l-2.4-3M489.8 274.4l-2.4-3M524.6 261.8l-2.4-3M594.3 236.7l-2.4-3M629.1 224.1l-2.4-3M664 211.5l-2.4-3M698.9 199l-2.4-3M768.5 173.8l-2.4-3M803.4 161.3l-2.4-3M838.2 148.7l-2.4-3M873.1 136.1l-2.4-3M942.8 111l-2.4-3M977.7 98.4l-2.4-3"/>
</g>
<path stroke="#000" stroke-width="2.7" fill="none" d="M210.9 375l-5-5.4M385.2 312.1l-5-5.4M559.5 249.3l-5-5.4M733.7 186.4l-5-5.4M908 123.6l-5-5.4"/>
<clipPath id="clb"><polygon points="169.6,396.8 172.6,566.8 227.1,613.9 247.2,606.7 267.2,599.4 287.3,592.2 307.3,584.9 327.4,577.7 347.5,570.5 367.5,563.2 387.6,556 407.6,548.8 427.7,541.5 447.8,534.3 467.8,527.1 487.9,519.8 508,512.5 528,505.1 548.1,497.6 568.1,490.1 588.2,482.5 608.3,474.7 628.3,466.9 648.4,459 668.4,451 688.5,442.8 708.6,434.6 728.6,426.2 748.7,417.7 768.7,409.2 788.8,400.5 808.9,391.8 828.9,383 849,374.1 869.1,365.1 889.1,356.2 909.2,347.1 929.2,338.1 949.3,329.1 969.4,320.1 989.4,311.1 1009.5,302.2 1026.2,294.9 1027.2,124.9"/></clipPath>
<g fill="none" stroke="#3c3c3c" stroke-width="1">
<polyline points="173.6,566.8 193.7,559.6 213.7,552.3 233.8,545.1 253.8,537.8 273.9,530.6 294,523.4 314,516.1 334.1,508.9 354.1,501.7 374.2,494.4 394.3,487.2 414.3,480 434.4,472.7 454.5,465.4 474.5,458 494.6,450.5 514.6,443 534.7,435.4 554.8,427.6 574.8,419.8 594.9,411.9 614.9,403.9 635,395.7 655.1,387.5 675.1,379.1 695.2,370.6 715.2,362.1 735.3,353.4 755.4,344.7 775.4,335.9 795.5,327 815.6,318 835.6,309.1 855.7,300 875.7,291 895.8,282 915.9,273 935.9,264 956,255.1 972.7,247.8" stroke="#555" stroke-width=".9"/>
<path d="M173.6 566.8L227.1 613.9M972.7 247.8L1026.2 294.9" stroke="#444" stroke-width="1"/>
</g>
<g filter="url(#bl)">
<polygon points="227.1,612.6 247.2,605.4 267.2,598.1 287.3,590.9 307.3,583.6 327.4,576.4 347.5,569.2 367.5,561.9 387.6,554.7 407.6,547.5 427.7,540.2 447.8,533 467.8,525.8 487.9,518.5 508,511.2 528,503.8 548.1,496.3 568.1,488.8 588.2,481.2 608.3,473.4 628.3,465.6 648.4,457.7 668.4,449.7 688.5,441.5 708.6,433.3 728.6,424.9 748.7,416.4 768.7,407.9 788.8,399.2 808.9,390.5 828.9,381.7 849,372.8 869.1,363.8 889.1,354.9 909.2,345.8 929.2,336.8 949.3,327.8 969.4,318.8 989.4,309.8 1009.5,300.9 1026.2,293.6 972.7,247.3 956,254.6 935.9,263.5 915.9,272.5 895.8,281.5 875.7,290.5 855.7,299.5 835.6,308.6 815.6,317.5 795.5,326.5 775.4,335.4 755.4,344.2 735.3,352.9 715.2,361.6 695.2,370.1 675.1,378.6 655.1,387 635,395.2 614.9,403.4 594.9,411.4 574.8,419.3 554.8,427.1 534.7,434.9 514.6,442.5 494.6,450 474.5,457.5 454.5,464.9 434.4,472.2 414.3,479.5 394.3,486.7 374.2,493.9 354.1,501.2 334.1,508.4 314,515.6 294,522.9 273.9,530.1 253.8,537.3 233.8,544.6 213.7,551.8 193.7,559.1 173.6,566.3" fill="#f4ef9a" fill-opacity=".4"/>
<linearGradient id="gob" gradientUnits="userSpaceOnUse" x1="826.4" y1="0" x2="1026.2" y2="0"><stop offset="0" stop-color="#fff" stop-opacity="0"/><stop offset="1" stop-color="#fff" stop-opacity="0.5"/></linearGradient>
<mask id="mob" maskUnits="userSpaceOnUse" x="0" y="0" width="1122" height="947"><rect width="1122" height="947" fill="url(#gob)"/></mask>
<g mask="url(#mob)"><polygon points="227.1,612.6 247.2,605.4 267.2,598.1 287.3,590.9 307.3,583.6 327.4,576.4 347.5,569.2 367.5,561.9 387.6,554.7 407.6,547.5 427.7,540.2 447.8,533 467.8,525.8 487.9,518.5 508,511.2 528,503.8 548.1,496.3 568.1,488.8 588.2,481.2 608.3,473.4 628.3,465.6 648.4,457.7 668.4,449.7 688.5,441.5 708.6,433.3 728.6,424.9 748.7,416.4 768.7,407.9 788.8,399.2 808.9,390.5 828.9,381.7 849,372.8 869.1,363.8 889.1,354.9 909.2,345.8 929.2,336.8 949.3,327.8 969.4,318.8 989.4,309.8 1009.5,300.9 1026.2,293.6 972.7,247.3 956,254.6 935.9,263.5 915.9,272.5 895.8,281.5 875.7,290.5 855.7,299.5 835.6,308.6 815.6,317.5 795.5,326.5 775.4,335.4 755.4,344.2 735.3,352.9 715.2,361.6 695.2,370.1 675.1,378.6 655.1,387 635,395.2 614.9,403.4 594.9,411.4 574.8,419.3 554.8,427.1 534.7,434.9 514.6,442.5 494.6,450 474.5,457.5 454.5,464.9 434.4,472.2 414.3,479.5 394.3,486.7 374.2,493.9 354.1,501.2 334.1,508.4 314,515.6 294,522.9 273.9,530.1 253.8,537.3 233.8,544.6 213.7,551.8 193.7,559.1 173.6,566.3" fill="#e3d545" fill-opacity=".8"/></g>
<polygon points="227.1,612.6 247.2,605.4 267.2,598.1 287.3,590.9 307.3,583.6 327.4,576.4 347.5,569.2 367.5,561.9 387.6,554.7 407.6,547.5 427.7,540.2 447.8,533 467.8,525.8 487.9,518.5 508,511.2 528,503.8 548.1,496.3 568.1,488.8 588.2,481.2 608.3,473.4 628.3,465.6 648.4,457.7 668.4,449.7 688.5,441.5 708.6,433.3 728.6,424.9 748.7,416.4 768.7,407.9 788.8,399.2 808.9,390.5 828.9,381.7 849,372.8 869.1,363.8 889.1,354.9 909.2,345.8 929.2,336.8 949.3,327.8 969.4,318.8 989.4,309.8 1009.5,300.9 1026.2,293.6 972.7,247.3 956,254.6 935.9,263.5 915.9,272.5 895.8,281.5 875.7,290.5 855.7,299.5 835.6,308.6 815.6,317.5 795.5,326.5 775.4,335.4 755.4,344.2 735.3,352.9 715.2,361.6 695.2,370.1 675.1,378.6 655.1,387 635,395.2 614.9,403.4 594.9,411.4 574.8,419.3 554.8,427.1 534.7,434.9 514.6,442.5 494.6,450 474.5,457.5 454.5,464.9 434.4,472.2 414.3,479.5 394.3,486.7 374.2,493.9 354.1,501.2 334.1,508.4 314,515.6 294,522.9 273.9,530.1 253.8,537.3 233.8,544.6 213.7,551.8 193.7,559.1 173.6,566.3" fill="url(#gy)"/>
<polygon points="227.1,612.6 247.2,605.4 267.2,598.1 287.3,590.9 307.3,583.6 327.4,576.4 347.5,569.2 367.5,561.9 387.6,554.7 407.6,547.5 427.7,540.2 447.8,533 467.8,525.8 487.9,518.5 508,511.2 528,503.8 548.1,496.3 568.1,488.8 588.2,481.2 608.3,473.4 628.3,465.6 648.4,457.7 668.4,449.7 688.5,441.5 708.6,433.3 728.6,424.9 748.7,416.4 768.7,407.9 788.8,399.2 808.9,390.5 828.9,381.7 849,372.8 869.1,363.8 889.1,354.9 909.2,345.8 929.2,336.8 949.3,327.8 969.4,318.8 989.4,309.8 1009.5,300.9 1026.2,293.6 972.7,247.3 956,254.6 935.9,263.5 915.9,272.5 895.8,281.5 875.7,290.5 855.7,299.5 835.6,308.6 815.6,317.5 795.5,326.5 775.4,335.4 755.4,344.2 735.3,352.9 715.2,361.6 695.2,370.1 675.1,378.6 655.1,387 635,395.2 614.9,403.4 594.9,411.4 574.8,419.3 554.8,427.1 534.7,434.9 514.6,442.5 494.6,450 474.5,457.5 454.5,464.9 434.4,472.2 414.3,479.5 394.3,486.7 374.2,493.9 354.1,501.2 334.1,508.4 314,515.6 294,522.9 273.9,530.1 253.8,537.3 233.8,544.6 213.7,551.8 193.7,559.1 173.6,566.3" fill="url(#pa)"/>
<polygon points="227.1,612.6 247.2,605.4 267.2,598.1 287.3,590.9 307.3,583.6 327.4,576.4 347.5,569.2 367.5,561.9 387.6,554.7 407.6,547.5 427.7,540.2 447.8,533 467.8,525.8 487.9,518.5 508,511.2 528,503.8 548.1,496.3 568.1,488.8 588.2,481.2 608.3,473.4 628.3,465.6 648.4,457.7 668.4,449.7 688.5,441.5 708.6,433.3 728.6,424.9 748.7,416.4 768.7,407.9 788.8,399.2 808.9,390.5 828.9,381.7 849,372.8 869.1,363.8 889.1,354.9 909.2,345.8 929.2,336.8 949.3,327.8 969.4,318.8 989.4,309.8 1009.5,300.9 1026.2,293.6 972.7,247.3 956,254.6 935.9,263.5 915.9,272.5 895.8,281.5 875.7,290.5 855.7,299.5 835.6,308.6 815.6,317.5 795.5,326.5 775.4,335.4 755.4,344.2 735.3,352.9 715.2,361.6 695.2,370.1 675.1,378.6 655.1,387 635,395.2 614.9,403.4 594.9,411.4 574.8,419.3 554.8,427.1 534.7,434.9 514.6,442.5 494.6,450 474.5,457.5 454.5,464.9 434.4,472.2 414.3,479.5 394.3,486.7 374.2,493.9 354.1,501.2 334.1,508.4 314,515.6 294,522.9 273.9,530.1 253.8,537.3 233.8,544.6 213.7,551.8 193.7,559.1 173.6,566.3" fill="url(#pb)"/>
<path d="M327.3 577.7l-53.5 -47.1M427.5 541.6l-53.5 -47.1M527.7 505.2l-53.5 -47.1M627.9 467.1l-53.5 -47.1M728.1 426.4l-53.5 -47.1M828.3 383.2l-53.5 -47.1M928.5 338.4l-53.5 -47.1" stroke="#4a4a4a" stroke-width=".8" fill="none"/>
<g mask="url(#mob)"><polygon points="227.1,612.6 247.2,605.4 267.2,598.1 287.3,590.9 307.3,583.6 327.4,576.4 347.5,569.2 367.5,561.9 387.6,554.7 407.6,547.5 427.7,540.2 447.8,533 467.8,525.8 487.9,518.5 508,511.2 528,503.8 548.1,496.3 568.1,488.8 588.2,481.2 608.3,473.4 628.3,465.6 648.4,457.7 668.4,449.7 688.5,441.5 708.6,433.3 728.6,424.9 748.7,416.4 768.7,407.9 788.8,399.2 808.9,390.5 828.9,381.7 849,372.8 869.1,363.8 889.1,354.9 909.2,345.8 929.2,336.8 949.3,327.8 969.4,318.8 989.4,309.8 1009.5,300.9 1026.2,293.6 972.7,247.3 956,254.6 935.9,263.5 915.9,272.5 895.8,281.5 875.7,290.5 855.7,299.5 835.6,308.6 815.6,317.5 795.5,326.5 775.4,335.4 755.4,344.2 735.3,352.9 715.2,361.6 695.2,370.1 675.1,378.6 655.1,387 635,395.2 614.9,403.4 594.9,411.4 574.8,419.3 554.8,427.1 534.7,434.9 514.6,442.5 494.6,450 474.5,457.5 454.5,464.9 434.4,472.2 414.3,479.5 394.3,486.7 374.2,493.9 354.1,501.2 334.1,508.4 314,515.6 294,522.9 273.9,530.1 253.8,537.3 233.8,544.6 213.7,551.8 193.7,559.1 173.6,566.3" fill="url(#oa)"/><polygon points="739.9,305.1 743.9,302.8 748,301.3 752,300.4 756.1,299.7 760.1,298.9 764.1,297.4 768.2,294.8 772.2,291.9 776.2,289.6 780.3,288.2 784.3,287.1 788.3,286.4 792.4,286.1 796.4,285.9 800.4,285.3 804.5,283.7 808.5,281.1 812.6,278.1 816.6,275.7 820.6,274.1 824.7,272.9 828.7,271.8 832.7,270.7 836.8,269.7 840.8,268.6 844.8,267.1 848.9,264.7 852.9,261.6 856.9,258.5 861,255.9 865,254.2 869.1,252.7 873.1,250.9 877.1,249.2 881.2,248 885.2,247 889.2,245.4 893.3,243 897.3,240 901.3,237.1 905.4,234.9 909.4,232.9 913.4,230.8 917.5,228.8 921.5,227.2 925.6,225.3 929.6,222.7 933.6,219.7 937.7,216.7 941.7,214.1 995.2,266.8 991.2,268.6 987.1,270.4 983.1,272.3 979.1,274 975,275.2 971,276.5 966.9,278.3 962.9,280.7 958.9,283.7 954.8,286.3 950.8,288.2 946.8,289.6 942.7,291.3 938.7,293.6 934.7,296 930.6,298.2 926.6,299.9 922.6,301.2 918.5,302.4 914.5,303.9 910.4,306 906.4,308.2 902.4,310.2 898.3,312.4 894.3,314.6 890.3,316.8 886.2,318.9 882.2,320.7 878.2,322.1 874.1,323.4 870.1,324.8 866.1,326.3 862,327.7 858,329.1 853.9,330.4 849.9,331.6 845.9,333 841.8,334.5 837.8,336 833.8,337.3 829.7,338.8 825.7,340.4 821.7,341.7 817.6,342.9 813.6,344.5 809.6,346.8 805.5,349.1 801.5,350.8 797.4,352.1 793.4,353.7" fill="url(#oa)" transform="translate(31 17)"/></g>
<polygon points="173.6,560.2 177.6,558.6 181.7,557.4 185.7,556.4 189.7,555.2 193.8,553.5 197.8,551.6 201.9,550.1 205.9,549 209.9,548.3 214,547.4 218,546.2 222,544.6 226.1,543 230.1,541.3 234.1,539.9 238.2,538.9 242.2,538.4 246.2,537.4 250.3,535.5 254.3,533.4 258.4,531.4 262.4,529.1 266.4,526.4 270.5,523.9 274.5,522.7 278.5,522.7 282.6,522.9 286.6,522.3 290.6,520.6 294.7,518.2 298.7,516.1 302.7,514.1 306.8,511.9 310.8,509.8 314.9,508 318.9,506.3 322.9,504.7 327,503.1 331,501.4 335,499.8 339.1,498.4 343.1,497.1 347.1,495.5 351.2,493.7 355.2,492.2 359.2,491.3 363.3,490.6 367.3,489.4 371.4,487.6 375.4,485.8 379.4,484.5 383.5,483.6 387.5,483.2 391.5,482.7 395.6,481.7 399.6,480.1 403.6,478.1 407.7,476.2 411.7,474.4 415.8,473.1 419.8,472.1 423.8,470.9 427.9,469.2 431.9,467.3 435.9,465.4 440,463.6 444,461.8 448,459.9 452.1,458.2 456.1,456.5 460.1,454.9 464.2,453.8 468.2,453.4 472.3,453.1 476.3,452.8 480.3,452 484.4,450.6 488.4,448.8 492.4,446.7 496.5,444.9 500.5,443.9 504.5,443.2 508.6,441.8 512.6,439.4 516.6,436.5 520.7,433.8 524.7,432 528.8,431 532.8,430.3 536.8,429.3 540.9,427.9 544.9,426.3 548.9,424.6 553,423 557,421.5 561,420.1 565.1,418 569.1,415.7 573.1,413.9 577.2,413 581.2,412.4 585.3,411 589.3,408.8 593.3,406.4 597.4,404.4 601.4,403.4 605.4,403 609.5,402.3 613.5,400.8 617.5,398.7 621.6,396.2 625.6,393.6 629.7,391.2 633.7,389.1 637.7,387.1 641.8,385.2 645.8,383.4 649.8,381.1 653.9,378.7 657.9,376.8 661.9,375.2 666,372.9 670,370.2 674,367.8 678.1,365.9 682.1,363.8 686.2,361.1 690.2,358 694.2,355.6 698.3,354.2 702.3,353.5 706.3,352.2 710.4,349.9 714.4,347.6 718.4,346.4 722.5,345.7 726.5,344.2 730.5,341.6 734.6,338.8 738.6,337 742.7,336.1 746.7,334.9 750.7,333.1 754.8,331 758.8,329.2 762.8,327.4 766.9,324.9 770.9,322.1 774.9,319.8 779,318.3 783,317.4 787.1,316.7 791.1,315.9 795.1,314.4 799.2,311.8 803.2,308.9 807.2,306.6 811.3,305.2 815.3,304.1 819.3,303.4 823.4,303.1 827.4,302.9 831.4,302.3 835.5,300.7 839.5,298.1 843.6,295.1 847.6,292.7 851.6,291.1 855.7,289.9 859.7,288.8 863.7,287.7 867.8,286.7 871.8,285.6 875.8,284.1 879.9,281.7 883.9,278.6 887.9,275.5 892,272.9 896,271.2 900.1,269.7 904.1,267.9 908.1,266.2 912.2,265 916.2,264 920.2,262.4 924.3,260 928.3,257 932.3,254.1 936.4,251.9 940.4,249.9 944.4,247.8 948.5,245.8 952.5,244.2 956.6,242.3 960.6,239.7 964.6,236.7 968.7,233.7 972.7,231.1 1026.2,283.8 1022.2,285.6 1018.1,287.4 1014.1,289.3 1010.1,291 1006,292.2 1002,293.5 997.9,295.3 993.9,297.7 989.9,300.7 985.8,303.3 981.8,305.2 977.8,306.6 973.7,308.3 969.7,310.6 965.7,313 961.6,315.2 957.6,316.9 953.6,318.2 949.5,319.4 945.5,320.9 941.4,323 937.4,325.2 933.4,327.2 929.3,329.4 925.3,331.6 921.3,333.8 917.2,335.9 913.2,337.7 909.2,339.1 905.1,340.4 901.1,341.8 897.1,343.3 893,344.7 889,346.1 884.9,347.4 880.9,348.6 876.9,350 872.8,351.5 868.8,353 864.8,354.3 860.7,355.8 856.7,357.4 852.7,358.7 848.6,359.9 844.6,361.5 840.6,363.8 836.5,366.1 832.5,367.8 828.4,369.1 824.4,370.7 820.4,373.3 816.3,376.6 812.3,379.4 808.3,381.3 804.2,382.6 800.2,384.1 796.2,386.1 792.1,388.3 788.1,390.4 784,392.2 780,394.2 776,396.5 771.9,399.2 767.9,402.4 763.9,405.8 759.8,408.7 755.8,410.9 751.8,412.4 747.7,413.7 743.7,415.1 739.7,416.9 735.6,418.5 731.6,419.6 727.5,420.5 723.5,421.6 719.5,422.9 715.4,424.7 711.4,426.7 707.4,428.5 703.3,429.8 699.3,430.8 695.3,431.6 691.2,432.4 687.2,433.6 683.2,435.5 679.1,438 675.1,440.4 671,442.3 667,443.5 663,444.5 658.9,445.7 654.9,447.1 650.9,448.3 646.8,449.2 642.8,450.1 638.8,451.7 634.7,453.8 630.7,455.7 626.6,456.9 622.6,457.5 618.6,458.1 614.5,459.2 610.5,461 606.5,463 602.4,464.7 598.4,466 594.4,466.7 590.3,467.1 586.3,467.5 582.3,468.8 578.2,471.1 574.2,474.2 570.1,477.2 566.1,479.8 562.1,482.2 558,484.2 554,485.7 550,486.8 545.9,488.3 541.9,490 537.9,491.9 533.8,493.5 529.8,494.7 525.8,495.8 521.7,497.2 517.7,499.2 513.6,501.5 509.6,504 505.6,505.9 501.5,507 497.5,507.4 493.5,507.5 489.4,508.1 485.4,509.5 481.4,511.2 477.3,513 473.3,514.8 469.3,516.2 465.2,517.2 461.2,518.5 457.1,520.4 453.1,523 449.1,525.2 445,526.3 441,526.3 437,526.2 432.9,526.6 428.9,527.6 424.9,529 420.8,530.8 416.8,532.8 412.7,535.6 408.7,539 404.7,542.3 400.6,544.8 396.6,546.1 392.6,546.3 388.5,546.2 384.5,546.4 380.5,547 376.4,548 372.4,549.7 368.4,552.2 364.3,554.8 360.3,557.2 356.2,559 352.2,560.6 348.2,562 344.1,563.3 340.1,564.4 336.1,565.8 332,567.8 328,570.1 324,571.9 319.9,573.2 315.9,574.6 311.9,576.2 307.8,577.4 303.8,578.4 299.7,580.3 295.7,583 291.7,585.5 287.6,587.1 283.6,588.3 279.6,590 275.5,592.1 271.5,594.3 267.5,596.1 263.4,597.4 259.4,598.4 255.4,599.4 251.3,600.6 247.3,602 243.2,603.1 239.2,603.4 235.2,603.7 231.1,604.5 227.1,606" fill="url(#gr)"/>
<polygon points="173.6,560.2 177.6,558.6 181.7,557.4 185.7,556.4 189.7,555.2 193.8,553.5 197.8,551.6 201.9,550.1 205.9,549 209.9,548.3 214,547.4 218,546.2 222,544.6 226.1,543 230.1,541.3 234.1,539.9 238.2,538.9 242.2,538.4 246.2,537.4 250.3,535.5 254.3,533.4 258.4,531.4 262.4,529.1 266.4,526.4 270.5,523.9 274.5,522.7 278.5,522.7 282.6,522.9 286.6,522.3 290.6,520.6 294.7,518.2 298.7,516.1 302.7,514.1 306.8,511.9 310.8,509.8 314.9,508 318.9,506.3 322.9,504.7 327,503.1 331,501.4 335,499.8 339.1,498.4 343.1,497.1 347.1,495.5 351.2,493.7 355.2,492.2 359.2,491.3 363.3,490.6 367.3,489.4 371.4,487.6 375.4,485.8 379.4,484.5 383.5,483.6 387.5,483.2 391.5,482.7 395.6,481.7 399.6,480.1 403.6,478.1 407.7,476.2 411.7,474.4 415.8,473.1 419.8,472.1 423.8,470.9 427.9,469.2 431.9,467.3 435.9,465.4 440,463.6 444,461.8 448,459.9 452.1,458.2 456.1,456.5 460.1,454.9 464.2,453.8 468.2,453.4 472.3,453.1 476.3,452.8 480.3,452 484.4,450.6 488.4,448.8 492.4,446.7 496.5,444.9 500.5,443.9 504.5,443.2 508.6,441.8 512.6,439.4 516.6,436.5 520.7,433.8 524.7,432 528.8,431 532.8,430.3 536.8,429.3 540.9,427.9 544.9,426.3 548.9,424.6 553,423 557,421.5 561,420.1 565.1,418 569.1,415.7 573.1,413.9 577.2,413 581.2,412.4 585.3,411 589.3,408.8 593.3,406.4 597.4,404.4 601.4,403.4 605.4,403 609.5,402.3 613.5,400.8 617.5,398.7 621.6,396.2 625.6,393.6 629.7,391.2 633.7,389.1 637.7,387.1 641.8,385.2 645.8,383.4 649.8,381.1 653.9,378.7 657.9,376.8 661.9,375.2 666,372.9 670,370.2 674,367.8 678.1,365.9 682.1,363.8 686.2,361.1 690.2,358 694.2,355.6 698.3,354.2 702.3,353.5 706.3,352.2 710.4,349.9 714.4,347.6 718.4,346.4 722.5,345.7 726.5,344.2 730.5,341.6 734.6,338.8 738.6,337 742.7,336.1 746.7,334.9 750.7,333.1 754.8,331 758.8,329.2 762.8,327.4 766.9,324.9 770.9,322.1 774.9,319.8 779,318.3 783,317.4 787.1,316.7 791.1,315.9 795.1,314.4 799.2,311.8 803.2,308.9 807.2,306.6 811.3,305.2 815.3,304.1 819.3,303.4 823.4,303.1 827.4,302.9 831.4,302.3 835.5,300.7 839.5,298.1 843.6,295.1 847.6,292.7 851.6,291.1 855.7,289.9 859.7,288.8 863.7,287.7 867.8,286.7 871.8,285.6 875.8,284.1 879.9,281.7 883.9,278.6 887.9,275.5 892,272.9 896,271.2 900.1,269.7 904.1,267.9 908.1,266.2 912.2,265 916.2,264 920.2,262.4 924.3,260 928.3,257 932.3,254.1 936.4,251.9 940.4,249.9 944.4,247.8 948.5,245.8 952.5,244.2 956.6,242.3 960.6,239.7 964.6,236.7 968.7,233.7 972.7,231.1 1026.2,283.8 1022.2,285.6 1018.1,287.4 1014.1,289.3 1010.1,291 1006,292.2 1002,293.5 997.9,295.3 993.9,297.7 989.9,300.7 985.8,303.3 981.8,305.2 977.8,306.6 973.7,308.3 969.7,310.6 965.7,313 961.6,315.2 957.6,316.9 953.6,318.2 949.5,319.4 945.5,320.9 941.4,323 937.4,325.2 933.4,327.2 929.3,329.4 925.3,331.6 921.3,333.8 917.2,335.9 913.2,337.7 909.2,339.1 905.1,340.4 901.1,341.8 897.1,343.3 893,344.7 889,346.1 884.9,347.4 880.9,348.6 876.9,350 872.8,351.5 868.8,353 864.8,354.3 860.7,355.8 856.7,357.4 852.7,358.7 848.6,359.9 844.6,361.5 840.6,363.8 836.5,366.1 832.5,367.8 828.4,369.1 824.4,370.7 820.4,373.3 816.3,376.6 812.3,379.4 808.3,381.3 804.2,382.6 800.2,384.1 796.2,386.1 792.1,388.3 788.1,390.4 784,392.2 780,394.2 776,396.5 771.9,399.2 767.9,402.4 763.9,405.8 759.8,408.7 755.8,410.9 751.8,412.4 747.7,413.7 743.7,415.1 739.7,416.9 735.6,418.5 731.6,419.6 727.5,420.5 723.5,421.6 719.5,422.9 715.4,424.7 711.4,426.7 707.4,428.5 703.3,429.8 699.3,430.8 695.3,431.6 691.2,432.4 687.2,433.6 683.2,435.5 679.1,438 675.1,440.4 671,442.3 667,443.5 663,444.5 658.9,445.7 654.9,447.1 650.9,448.3 646.8,449.2 642.8,450.1 638.8,451.7 634.7,453.8 630.7,455.7 626.6,456.9 622.6,457.5 618.6,458.1 614.5,459.2 610.5,461 606.5,463 602.4,464.7 598.4,466 594.4,466.7 590.3,467.1 586.3,467.5 582.3,468.8 578.2,471.1 574.2,474.2 570.1,477.2 566.1,479.8 562.1,482.2 558,484.2 554,485.7 550,486.8 545.9,488.3 541.9,490 537.9,491.9 533.8,493.5 529.8,494.7 525.8,495.8 521.7,497.2 517.7,499.2 513.6,501.5 509.6,504 505.6,505.9 501.5,507 497.5,507.4 493.5,507.5 489.4,508.1 485.4,509.5 481.4,511.2 477.3,513 473.3,514.8 469.3,516.2 465.2,517.2 461.2,518.5 457.1,520.4 453.1,523 449.1,525.2 445,526.3 441,526.3 437,526.2 432.9,526.6 428.9,527.6 424.9,529 420.8,530.8 416.8,532.8 412.7,535.6 408.7,539 404.7,542.3 400.6,544.8 396.6,546.1 392.6,546.3 388.5,546.2 384.5,546.4 380.5,547 376.4,548 372.4,549.7 368.4,552.2 364.3,554.8 360.3,557.2 356.2,559 352.2,560.6 348.2,562 344.1,563.3 340.1,564.4 336.1,565.8 332,567.8 328,570.1 324,571.9 319.9,573.2 315.9,574.6 311.9,576.2 307.8,577.4 303.8,578.4 299.7,580.3 295.7,583 291.7,585.5 287.6,587.1 283.6,588.3 279.6,590 275.5,592.1 271.5,594.3 267.5,596.1 263.4,597.4 259.4,598.4 255.4,599.4 251.3,600.6 247.3,602 243.2,603.1 239.2,603.4 235.2,603.7 231.1,604.5 227.1,606" fill="url(#ra)"/>
<linearGradient id="grb" gradientUnits="userSpaceOnUse" x1="307" y1="0" x2="666.6" y2="0"><stop offset="0" stop-color="#fff" stop-opacity="0"/><stop offset="1" stop-color="#fff"/></linearGradient>
<mask id="mrb" maskUnits="userSpaceOnUse" x="0" y="0" width="1122" height="947"><rect width="1122" height="947" fill="url(#grb)"/></mask>
<g mask="url(#mrb)"><polygon points="213.3,512.5 217.3,510.4 221.4,508.4 225.4,506.1 229.4,503.4 233.5,500.9 237.5,499.7 241.5,499.7 245.6,499.9 249.6,499.3 253.6,497.6 257.7,495.2 261.7,493.1 265.7,491.1 269.8,488.9 273.8,486.8 277.9,485 281.9,483.3 285.9,481.7 290,480.1 294,478.4 298,476.8 302.1,475.4 306.1,474.1 310.1,472.5 314.2,470.7 318.2,469.2 322.2,468.3 326.3,467.6 330.3,466.4 334.4,464.6 338.4,462.8 342.4,461.5 346.5,460.6 350.5,460.2 354.5,459.7 358.6,458.7 362.6,457.1 366.6,455.1 370.7,453.2 374.7,451.4 378.8,450.1 382.8,449.1 386.8,447.9 390.9,446.2 394.9,444.3 398.9,442.4 403,440.6 407,438.8 411,436.9 415.1,435.2 419.1,433.5 423.1,431.9 427.2,430.8 431.2,430.4 435.3,430.1 439.3,429.8 443.3,429 447.4,427.6 451.4,425.8 455.4,423.7 459.5,421.9 463.5,420.9 467.5,420.2 471.6,418.8 475.6,416.4 479.6,413.5 483.7,410.8 487.7,409 491.8,408 495.8,407.3 499.8,406.3 503.9,404.9 507.9,403.3 511.9,401.6 516,400 520,398.5 524,397.1 528.1,395 532.1,392.7 536.1,390.9 540.2,390 544.2,389.4 548.3,388 552.3,385.8 556.3,383.4 560.4,381.4 564.4,380.4 568.4,380 572.5,379.3 576.5,377.8 580.5,375.7 584.6,373.2 588.6,370.6 592.7,368.2 596.7,366.1 600.7,364.1 604.8,362.2 608.8,360.4 612.8,358.1 616.9,355.7 620.9,353.8 624.9,352.2 629,349.9 633,347.2 637,344.8 641.1,342.9 645.1,340.8 649.2,338.1 653.2,335 657.2,332.6 661.3,331.2 665.3,330.5 669.3,329.2 673.4,326.9 677.4,324.6 681.4,323.4 685.5,322.7 689.5,321.2 693.5,318.6 697.6,315.8 701.6,314 705.7,313.1 709.7,311.9 713.7,310.1 717.8,308 721.8,306.2 725.8,304.4 729.9,301.9 733.9,299.1 737.9,296.8 742,295.3 746,294.4 750.1,293.7 754.1,292.9 758.1,291.4 762.2,288.8 766.2,285.9 770.2,283.6 774.3,282.2 778.3,281.1 782.3,280.4 786.4,280.1 790.4,279.9 794.4,279.3 798.5,277.7 802.5,275.1 806.6,272.1 810.6,269.7 814.6,268.1 818.7,266.9 822.7,265.8 826.7,264.7 830.8,263.7 834.8,262.6 838.8,261.1 842.9,258.7 846.9,255.6 850.9,252.5 855,249.9 859,248.2 863.1,246.7 867.1,244.9 871.1,243.2 875.2,242 879.2,241 883.2,239.4 887.3,237 891.3,234 895.3,231.1 899.4,228.9 903.4,226.9 907.4,224.8 911.5,222.8 915.5,221.2 919.6,219.3 923.6,216.7 927.6,213.7 931.7,210.7 935.7,208.1 989.2,260.8 985.2,262.6 981.1,264.4 977.1,266.3 973.1,268 969,269.2 965,270.5 960.9,272.3 956.9,274.7 952.9,277.7 948.8,280.3 944.8,282.2 940.8,283.6 936.7,285.3 932.7,287.6 928.7,290 924.6,292.2 920.6,293.9 916.6,295.2 912.5,296.4 908.5,297.9 904.4,300 900.4,302.2 896.4,304.2 892.3,306.4 888.3,308.6 884.3,310.8 880.2,312.9 876.2,314.7 872.2,316.1 868.1,317.4 864.1,318.8 860.1,320.3 856,321.7 852,323.1 847.9,324.4 843.9,325.6 839.9,327 835.8,328.5 831.8,330 827.8,331.3 823.7,332.8 819.7,334.4 815.7,335.7 811.6,336.9 807.6,338.5 803.6,340.8 799.5,343.1 795.5,344.8 791.4,346.1 787.4,347.7 783.4,350.3 779.3,353.6 775.3,356.4 771.3,358.3 767.2,359.6 763.2,361.1 759.2,363.1 755.1,365.3 751.1,367.4 747,369.2 743,371.2 739,373.5 734.9,376.2 730.9,379.4 726.9,382.8 722.8,385.7 718.8,387.9 714.8,389.4 710.7,390.7 706.7,392.1 702.7,393.9 698.6,395.5 694.6,396.6 690.5,397.5 686.5,398.6 682.5,399.9 678.4,401.7 674.4,403.7 670.4,405.5 666.3,406.8 662.3,407.8 658.3,408.6 654.2,409.4 650.2,410.6 646.2,412.5 642.1,415 638.1,417.4 634,419.3 630,420.5 626,421.5 621.9,422.7 617.9,424.1 613.9,425.3 609.8,426.2 605.8,427.1 601.8,428.7 597.7,430.8 593.7,432.7 589.6,433.9 585.6,434.5 581.6,435.1 577.5,436.2 573.5,438 569.5,440 565.4,441.7 561.4,443 557.4,443.7 553.3,444.1 549.3,444.5 545.3,445.8 541.2,448.1 537.2,451.2 533.1,454.2 529.1,456.8 525.1,459.2 521,461.2 517,462.7 513,463.8 508.9,465.3 504.9,467 500.9,468.9 496.8,470.5 492.8,471.7 488.8,472.8 484.7,474.2 480.7,476.2 476.6,478.5 472.6,481 468.6,482.9 464.5,484 460.5,484.4 456.5,484.5 452.4,485.1 448.4,486.5 444.4,488.2 440.3,490 436.3,491.8 432.3,493.2 428.2,494.2 424.2,495.5 420.1,497.4 416.1,500 412.1,502.2 408,503.3 404,503.3 400,503.2 395.9,503.6 391.9,504.6 387.9,506 383.8,507.8 379.8,509.8 375.7,512.6 371.7,516 367.7,519.3 363.6,521.8 359.6,523.1 355.6,523.3 351.5,523.2 347.5,523.4 343.5,524 339.4,525 335.4,526.7 331.4,529.2 327.3,531.8 323.3,534.2 319.2,536 315.2,537.6 311.2,539 307.1,540.3 303.1,541.4 299.1,542.8 295,544.8 291,547.1 287,548.9 282.9,550.2 278.9,551.6 274.9,553.2 270.8,554.4 266.8,555.4" fill="url(#gr)" transform="translate(37 23)"/><polygon points="250.3,535.5 254.3,533.4 258.4,531.4 262.4,529.1 266.4,526.4 270.5,523.9 274.5,522.7 278.5,522.7 282.6,522.9 286.6,522.3 290.6,520.6 294.7,518.2 298.7,516.1 302.7,514.1 306.8,511.9 310.8,509.8 314.9,508 318.9,506.3 322.9,504.7 327,503.1 331,501.4 335,499.8 339.1,498.4 343.1,497.1 347.1,495.5 351.2,493.7 355.2,492.2 359.2,491.3 363.3,490.6 367.3,489.4 371.4,487.6 375.4,485.8 379.4,484.5 383.5,483.6 387.5,483.2 391.5,482.7 395.6,481.7 399.6,480.1 403.6,478.1 407.7,476.2 411.7,474.4 415.8,473.1 419.8,472.1 423.8,470.9 427.9,469.2 431.9,467.3 435.9,465.4 440,463.6 444,461.8 448,459.9 452.1,458.2 456.1,456.5 460.1,454.9 464.2,453.8 468.2,453.4 472.3,453.1 476.3,452.8 480.3,452 484.4,450.6 488.4,448.8 492.4,446.7 496.5,444.9 500.5,443.9 504.5,443.2 508.6,441.8 512.6,439.4 516.6,436.5 520.7,433.8 524.7,432 528.8,431 532.8,430.3 536.8,429.3 540.9,427.9 544.9,426.3 548.9,424.6 553,423 557,421.5 561,420.1 565.1,418 569.1,415.7 573.1,413.9 577.2,413 581.2,412.4 585.3,411 589.3,408.8 593.3,406.4 597.4,404.4 601.4,403.4 605.4,403 609.5,402.3 613.5,400.8 617.5,398.7 621.6,396.2 625.6,393.6 629.7,391.2 633.7,389.1 637.7,387.1 641.8,385.2 645.8,383.4 649.8,381.1 653.9,378.7 657.9,376.8 661.9,375.2 666,372.9 670,370.2 674,367.8 678.1,365.9 682.1,363.8 686.2,361.1 690.2,358 694.2,355.6 698.3,354.2 702.3,353.5 706.3,352.2 710.4,349.9 714.4,347.6 718.4,346.4 722.5,345.7 726.5,344.2 730.5,341.6 734.6,338.8 738.6,337 742.7,336.1 746.7,334.9 750.7,333.1 754.8,331 758.8,329.2 762.8,327.4 766.9,324.9 770.9,322.1 774.9,319.8 779,318.3 783,317.4 787.1,316.7 791.1,315.9 795.1,314.4 799.2,311.8 803.2,308.9 807.2,306.6 811.3,305.2 815.3,304.1 819.3,303.4 823.4,303.1 827.4,302.9 831.4,302.3 835.5,300.7 839.5,298.1 843.6,295.1 847.6,292.7 851.6,291.1 855.7,289.9 859.7,288.8 863.7,287.7 867.8,286.7 871.8,285.6 875.8,284.1 879.9,281.7 883.9,278.6 887.9,275.5 892,272.9 896,271.2 900.1,269.7 904.1,267.9 908.1,266.2 912.2,265 916.2,264 920.2,262.4 924.3,260 928.3,257 932.3,254.1 936.4,251.9 940.4,249.9 944.4,247.8 948.5,245.8 952.5,244.2 956.6,242.3 960.6,239.7 964.6,236.7 968.7,233.7 972.7,231.1 1026.2,283.8 1022.2,285.6 1018.1,287.4 1014.1,289.3 1010.1,291 1006,292.2 1002,293.5 997.9,295.3 993.9,297.7 989.9,300.7 985.8,303.3 981.8,305.2 977.8,306.6 973.7,308.3 969.7,310.6 965.7,313 961.6,315.2 957.6,316.9 953.6,318.2 949.5,319.4 945.5,320.9 941.4,323 937.4,325.2 933.4,327.2 929.3,329.4 925.3,331.6 921.3,333.8 917.2,335.9 913.2,337.7 909.2,339.1 905.1,340.4 901.1,341.8 897.1,343.3 893,344.7 889,346.1 884.9,347.4 880.9,348.6 876.9,350 872.8,351.5 868.8,353 864.8,354.3 860.7,355.8 856.7,357.4 852.7,358.7 848.6,359.9 844.6,361.5 840.6,363.8 836.5,366.1 832.5,367.8 828.4,369.1 824.4,370.7 820.4,373.3 816.3,376.6 812.3,379.4 808.3,381.3 804.2,382.6 800.2,384.1 796.2,386.1 792.1,388.3 788.1,390.4 784,392.2 780,394.2 776,396.5 771.9,399.2 767.9,402.4 763.9,405.8 759.8,408.7 755.8,410.9 751.8,412.4 747.7,413.7 743.7,415.1 739.7,416.9 735.6,418.5 731.6,419.6 727.5,420.5 723.5,421.6 719.5,422.9 715.4,424.7 711.4,426.7 707.4,428.5 703.3,429.8 699.3,430.8 695.3,431.6 691.2,432.4 687.2,433.6 683.2,435.5 679.1,438 675.1,440.4 671,442.3 667,443.5 663,444.5 658.9,445.7 654.9,447.1 650.9,448.3 646.8,449.2 642.8,450.1 638.8,451.7 634.7,453.8 630.7,455.7 626.6,456.9 622.6,457.5 618.6,458.1 614.5,459.2 610.5,461 606.5,463 602.4,464.7 598.4,466 594.4,466.7 590.3,467.1 586.3,467.5 582.3,468.8 578.2,471.1 574.2,474.2 570.1,477.2 566.1,479.8 562.1,482.2 558,484.2 554,485.7 550,486.8 545.9,488.3 541.9,490 537.9,491.9 533.8,493.5 529.8,494.7 525.8,495.8 521.7,497.2 517.7,499.2 513.6,501.5 509.6,504 505.6,505.9 501.5,507 497.5,507.4 493.5,507.5 489.4,508.1 485.4,509.5 481.4,511.2 477.3,513 473.3,514.8 469.3,516.2 465.2,517.2 461.2,518.5 457.1,520.4 453.1,523 449.1,525.2 445,526.3 441,526.3 437,526.2 432.9,526.6 428.9,527.6 424.9,529 420.8,530.8 416.8,532.8 412.7,535.6 408.7,539 404.7,542.3 400.6,544.8 396.6,546.1 392.6,546.3 388.5,546.2 384.5,546.4 380.5,547 376.4,548 372.4,549.7 368.4,552.2 364.3,554.8 360.3,557.2 356.2,559 352.2,560.6 348.2,562 344.1,563.3 340.1,564.4 336.1,565.8 332,567.8 328,570.1 324,571.9 319.9,573.2 315.9,574.6 311.9,576.2 307.8,577.4 303.8,578.4" fill="url(#rb)"/></g>
<polygon points="227.1,612.6 247.2,605.4 267.2,598.1 287.3,590.9 307.3,583.6 327.4,576.4 347.5,569.2 367.5,561.9 387.6,554.7 407.6,547.5 427.7,540.2 447.8,533 467.8,525.8 487.9,518.5 508,511.2 528,503.8 548.1,496.3 568.1,488.8 588.2,481.2 608.3,473.4 628.3,465.6 648.4,457.7 668.4,449.7 688.5,441.5 708.6,433.3 728.6,424.9 748.7,416.4 768.7,407.9 788.8,399.2 808.9,390.5 828.9,381.7 849,372.8 869.1,363.8 889.1,354.9 909.2,345.8 929.2,336.8 949.3,327.8 969.4,318.8 989.4,309.8 1009.5,300.9 1026.2,293.6 972.7,247.3 956,254.6 935.9,263.5 915.9,272.5 895.8,281.5 875.7,290.5 855.7,299.5 835.6,308.6 815.6,317.5 795.5,326.5 775.4,335.4 755.4,344.2 735.3,352.9 715.2,361.6 695.2,370.1 675.1,378.6 655.1,387 635,395.2 614.9,403.4 594.9,411.4 574.8,419.3 554.8,427.1 534.7,434.9 514.6,442.5 494.6,450 474.5,457.5 454.5,464.9 434.4,472.2 414.3,479.5 394.3,486.7 374.2,493.9 354.1,501.2 334.1,508.4 314,515.6 294,522.9 273.9,530.1 253.8,537.3 233.8,544.6 213.7,551.8 193.7,559.1 173.6,566.3" fill="url(#ty)"/>
<g clip-path="url(#clb)"><g transform="scale(.5)" fill="none" stroke-linecap="round">
<path stroke="#f0e66a" stroke-width="2.6" d="M841 1019l-7 -1M1688 653l-6 4M1547 704l-4 5M531 1177q1 -7 6 -11M1361 789q2 4 7 6M1839 582q-2 -4 -1 -8M1422 746l5 -4M1922 599q0 -7 -5 -11M1382 847q2 6 8 7M1450 839q-5 -2 -5 -7M1142 899q-4 5 -9 9M1721 682q-4 7 -10 3M1064 920q6 -1 11 -2M1646 637q-1 -4 2 -7M1760 687l7 -2M1445 788q-6 -2 -9 -7M1385 847q5 0 10 -1M1237 869q-7 4 -12 -2M640 1133q-6 2 -10 6M833 991q-3 -5 -9 -6M1797 579q-5 2 -8 5M1174 947q-3 7 3 12M572 1144q-9 -2 -7 7M1781 638q1 -5 -4 -6M755 1043q5 0 8 -2M1323 847q4 3 8 -1M850 973q-3 5 -7 11M1676 646q0 -4 0 -8M1888 519q-4 -1 -8 1M699 1082l-2 -7M751 1011q-4 -1 -8 -3M1724 643l0 -7M1135 948l-6 0M1137 865q4 -5 10 -7M906 1060q-4 4 -10 7M851 962q-5 -3 -10 1M745 1071q-7 -3 -3 -9M1319 848q-6 3 -9 9M1005 918q-3 5 -9 7M833 1011q6 2 12 -1M1325 831q0 -4 1 -7M425 1144l6 -2M805 1034l-3 6M973 931q-3 2 -6 4M1079 968q-4 -5 -10 -9M1571 689q-3 5 -8 2M681 1045q5 -2 7 3M670 1142q-5 1 -11 3M1662 692q4 -5 11 -3M1471 841q-4 -3 -1 -8M593 1093q-5 2 -9 0M1262 901q6 0 10 4M1108 951q-1 7 5 11M1785 597q6 9 13 2M901 922q8 10 10 -3M1123 930q8 -2 7 6M790 1027q7 0 8 6M675 1117q3 3 7 3M767 1027q5 2 11 2M1400 870q5 6 9 -1M796 984q3 3 5 7M1166 869q-4 -4 -9 -7M1942 570q-5 2 -11 4M1690 711l5 3M1717 722q1 -10 10 -4M681 1042q4 2 9 3M1336 768q8 1 6 8M1368 821q-4 -4 -7 -8M1981 578q-8 1 -11 -6M1506 794l2 6M1720 662q-7 0 -9 -7M1692 735q2 9 11 6M875 947q0 -4 -3 -7M1521 716q-3 3 -5 6M1824 628q-5 4 -5 10M1635 759l-6 0M959 913l2 7M1740 648q6 -1 10 -6M494 1142q-6 2 -13 2M1770 662q0 -8 8 -9M1503 818l1 6M1768 686q-2 -4 -4 -7M1097 866q8 1 10 -7M840 1075q-4 -2 -8 0M1816 572q5 1 9 1M768 1097q-6 -1 -11 -4M1706 684q4 0 7 -4"/>
<path stroke="#ead622" stroke-width="2.4" d="M1565 733q1 -9 -8 -8M1616 748q-1 -4 0 -8M1721 673l-1 7M687 1115q3 -5 8 -9M1496 833q3 -4 6 -6M1306 799q-3 -4 1 -7M1400 793q4 2 8 1M830 980q0 -6 6 -7M1315 807q-1 8 -9 8M687 1124q5 2 9 1M1941 572q-5 5 -2 12M1233 921q5 0 9 -2M1717 599q5 -8 -4 -11M1808 651q0 6 5 9M1077 864q3 -7 10 -8M1897 657q1 -5 1 -11M1435 815q5 -3 2 -8M1400 853l0 7M1836 571q5 10 13 2M2004 577l2 -7M1926 607l6 -2M1258 930q6 -1 11 -4M1509 754q6 -1 10 3M1596 666q5 -8 13 -2M1548 786q4 1 8 1M586 1100q-6 -3 -12 -2M1630 693l6 1M1972 581l-6 2M803 983q0 -4 2 -8M1970 542l-5 4M1538 707q0 4 0 8M656 1155l2 -6M1746 682l6 3M691 1125l-5 -5M661 1089q-3 9 6 7M1793 702q-3 -5 -3 -11M1796 572q-9 -3 -6 7M1420 758q-2 -5 -3 -11M937 1036q5 -4 10 -7M947 994q-5 1 -8 -3M1719 606q-5 1 -8 4M545 1159q-8 4 -12 -3M1542 754l-4 6M418 1105q4 3 9 3M706 1001q2 3 6 4M1828 549q5 5 12 2M1816 663q-5 -4 -8 -9M1432 769q-5 1 -5 6M1840 540l5 3M1602 776q3 -4 8 -5M1814 625q2 4 6 7M1766 668q-5 0 -6 -4M1484 807l-6 2M1278 790q5 0 8 5M1567 760q7 1 10 7M1818 625q1 9 -8 8M1402 790q-9 3 -9 -6M1300 908q-4 8 5 11M1975 533q-4 -3 -8 -2M1857 558q-4 5 1 9M1580 705q0 4 -1 7M1016 953q0 -6 -2 -10M1888 540q-2 -12 -11 -4M1029 884q-3 3 -5 7M857 983q-4 4 -9 1M1553 741q-6 3 -6 9M1822 625l-4 5M1932 592q3 3 6 6M550 1081l6 2M1603 755q0 -4 -3 -8M1560 738l-6 4M1626 773q5 -3 9 2M1332 798q-4 4 -7 0M1888 607l-5 -4M408 1163q0 4 2 7M1627 660q7 -1 11 -6M1523 701q-2 -4 -7 -6M1003 914q3 7 -2 12M1729 612l1 -6M1764 666q5 -3 10 -5M1929 641q-2 7 -7 3M1809 643q-6 0 -12 1M979 1021q0 -4 0 -9M1099 986l3 -6M821 1088l3 -5M1428 724l-5 4M1651 636q2 -6 3 -12M1423 729q-6 -1 -6 -7M1906 591q7 -8 -2 -13M1398 781q4 -1 8 -3M1602 749q-6 -1 -12 -2M1060 973q3 -4 3 -10M1948 540q8 -3 12 4M1617 700q8 5 11 -4M1389 774q-3 2 -6 4M1746 662q0 9 9 7M570 1056q-7 2 -6 9M645 1064q-6 6 -12 0M601 1049q0 10 9 5M1947 599q3 6 8 2M1821 643q-6 0 -10 -6M1617 700q-1 -6 -4 -12M1662 750q-1 -6 4 -10M1483 731q-6 -2 -4 -7M1135 959q-6 -3 -8 4M897 963q4 5 10 8M1470 714q1 -5 0 -9M1787 566q-6 2 -12 4M532 1083q-6 1 -12 -2M880 1046q0 -7 -7 -10M1515 802q-5 5 -10 0M398 1147q7 1 6 8M1578 707l5 3M1804 595q3 6 8 1M1822 680q-2 7 5 10M992 966q8 3 3 10M1787 652q3 -6 1 -13M2010 600q2 -4 3 -8M1497 713q4 0 9 0M1854 534q3 3 6 5M1792 638l-6 -3M960 995q5 -1 9 2M463 1140q-6 0 -8 6M1359 798l3 -5M1797 603q-8 4 -3 11M1909 642q4 -7 11 -3M724 1023l6 2M1778 643q-12 2 -5 12M1429 796q-3 5 2 8M941 1018q-7 -2 -10 5M1305 880l2 6M1608 665q1 -6 7 -4M1976 594q-4 5 2 8M1903 624q3 -3 6 -6M1318 814q2 3 3 7M485 1095l5 3M1053 997q-1 -9 7 -8M1671 648q0 -6 -4 -12M1917 578q4 0 6 4M1230 842q-3 8 -10 4M966 1007q4 4 4 9M820 961q-5 -2 -11 -1M784 1089q0 4 2 8M1902 561q-1 5 -5 7M1801 608q4 -4 8 -1M707 1115q-5 1 -10 1M1757 683l6 -2M1115 964q-6 3 -8 9M1072 979q-1 5 -5 9M1691 644q2 -6 7 -2M1893 554q4 5 11 5M965 1010q1 -8 -7 -4M1144 927q1 5 5 9M936 1024q-4 3 -6 7M1440 761q4 -6 -3 -8M1488 745q-4 8 -11 4M1204 879l3 6M1722 643q-4 -2 -8 -3M1004 915q5 -7 12 -1M1154 937q3 -5 4 -11M1296 802l2 -6M1729 652q4 -1 6 -5M1111 936q0 -6 -5 -10M1864 667q-5 1 -8 6M1743 594q-5 -7 -13 -2M1735 667q1 5 6 7M1319 790q4 -6 12 -5M1058 1004q-8 2 -5 10M1534 758q0 -5 -3 -8M695 1085q10 0 8 10M1440 717q-5 3 -9 -1M1096 905q-5 0 -11 -2M1308 849q-5 -3 -11 -4M1830 638q-5 1 -9 2M996 893q7 -6 11 2M1631 696q-6 2 -3 8M1443 843q6 1 9 -3M1092 871q5 0 8 5M622 1098l2 -6M446 1090q1 7 -5 11M1760 682l5 -4M867 1043q-5 2 -9 0M491 1119q1 6 4 12M1429 792q7 -5 10 3M1549 748q-4 -6 -10 -2M1844 630q-5 3 -9 6M605 1131q-6 5 -11 0M1621 663q-10 4 -8 -6M954 950l-5 5M1113 972q4 3 9 5M1008 926q-3 2 -6 4M1677 660q2 6 -5 6M668 1016q-4 7 -10 2M557 1018l6 -4M526 1049l-3 -2M1294 781l1 4M851 944q5 2 8 6M480 1075l-3 4M850 945l-3 3M1603 649q2 -4 -1 -8M1136 831q-5 5 -1 11M1226 815q-4 1 -7 0M1518 652l-6 -1M1569 634q0 -6 6 -4M376 1120q1 4 -1 8M1334 765q-2 -3 -6 -4M1789 542l5 4M727 987l5 4M1633 600l1 -5M1906 502l-1 -5M1707 583q2 -4 0 -7M795 960q-1 5 -4 10M1511 657l4 0M861 939l7 -1M493 1063l-3 -3M1449 668l6 3M1485 690l-5 0M559 1045l0 -5M459 1074q-3 4 -1 9M1545 632l-4 2M405 1092l4 1M1809 538q-2 4 -7 3M693 981l-2 6M848 945l7 -1M1323 759l7 1M1592 646l-5 1M646 1005q6 3 10 -1M1162 824q2 6 9 6M1358 752l2 -5M1679 595l-1 5M1004 885q4 -3 9 -3M1373 714l-1 -5M1708 590q0 8 8 6M1434 704q1 5 2 9M729 988l-4 4M1147 845q5 1 6 5M1231 811l-3 3M1191 825q6 6 11 0M1330 712q5 -1 9 -3M1141 817q-4 3 -8 0M1641 617l4 1M1474 667q2 5 -3 7M1158 835q-6 5 0 10M1101 867q4 -3 9 -1M1744 577l0 -5M1858 523l0 5M733 983l3 -3M495 1078l-4 3M884 923l4 -1M1458 684l-1 -3M1859 539q2 -4 3 -8M1688 595l-5 0M1403 722l2 6M1892 521l-4 1M886 935l5 1M992 906l1 -5M1856 539l-5 5M839 960q-3 -3 -8 -3M1104 853q-5 1 -8 5M1645 621l1 -5M1639 610l5 4M529 1068q5 2 9 4M508 1070q6 -3 4 -10M1704 584l2 -7M419 1097q2 5 -2 8M573 1047l-5 1M1747 562q5 5 11 0M1312 767l4 3M1800 556l3 -2M1101 856l-5 0M967 915q-3 -6 4 -7M948 913q2 -9 -7 -7M1609 599l-5 -1M584 1026q-1 6 -7 8M1900 485l-4 -1M1427 711q6 2 7 -5M1758 575q-5 -2 -10 -2M1287 783q-1 -7 6 -6M810 951l-4 3M1821 518q4 -6 10 -2M1903 483l3 3M1099 859q-4 1 -7 3M1155 806q9 0 5 9M484 1089q-4 2 -8 -1M1193 819q6 -1 7 -6M1338 762q3 -3 7 -5M563 1053q4 -3 9 -3M605 1046l-2 -3M579 1044l-1 4M386 1099q-5 2 -10 2M1844 534l7 -2M1322 759q8 0 6 -8M604 1030q-2 5 -2 10M1794 540q4 -3 7 -8M598 1034l-6 2M502 1080l-6 3M1888 494l-3 2M1586 625l3 -3M1266 790q5 0 7 -5M973 910q2 -4 6 -4M1053 857l5 -1M1571 614q-1 4 -4 8M1067 842l-7 -1M404 1091q-5 0 -7 5M396 1097l-1 -6M1768 563q-4 6 -8 -1M556 1022q-2 4 -4 9M1194 816l-1 -6M782 979q3 -4 2 -9M672 1002q4 1 8 0M1664 621q-1 6 -7 6M1769 571q-4 2 -7 4M1218 815q3 -3 6 -7M694 1007l-5 4M1397 731l0 -5M864 942l3 -6M1627 575q-4 4 -2 10M532 1042q1 5 0 9M936 907q7 0 9 7M807 957q4 1 6 4M1159 828q5 1 9 0M1203 823l-4 -3M806 960q-8 4 -2 11M1322 757l4 -1M1320 746q6 -1 6 5M707 1001q2 -4 7 -3M1757 575q2 5 7 3M384 1103q2 -6 8 -6M1777 565l-2 5M653 1028q-7 -1 -6 -8M865 944q2 5 -1 9M1794 550l1 6M1828 551l-2 -6M1339 767q-4 -2 -6 -6M1411 694l-5 -2M1657 616l-2 -4M591 1045l-3 3M1494 657l-4 -1M1796 531l4 -3M1034 890l4 -1M1486 675l-3 5M1149 834q5 2 10 0M1663 607q1 6 -3 10M553 1042l-1 4M1398 729q-6 6 -11 -2M405 1090l4 4M404 1072l1 -6M711 980q-5 -2 -10 0M1865 536l-6 3M1633 631l4 -3M556 1016q1 5 2 9M1084 869l5 -3M459 1086q4 -4 3 -10M1129 849l6 0M633 1023l6 -1M1086 870l-3 -3M452 1091q4 2 8 -1M824 932q-6 3 -8 -3M1340 749l-1 5M700 1009l2 -3M1216 821q5 -3 2 -8M675 1008q5 0 9 -1M1298 773l-5 1M1794 560l1 6M1714 591l-4 -5M1257 784l-2 6M681 980l6 3M1882 532q0 -5 0 -11M1832 551q0 -5 2 -10M1316 740q3 4 2 9M1721 578q-5 4 -10 0M1672 603q-2 -6 3 -9M1813 537q-5 -1 -4 -6M1862 530q-4 5 0 10M873 941l5 -2M1173 825q1 4 5 6M1006 886q1 5 5 8M1802 564q-4 -4 -10 -2M1802 560l-5 -3M1421 709l-1 7M1639 602l4 2M753 987l-5 -5M1791 544q-5 0 -8 3M1182 818l-2 -4M1638 613l4 2M516 1078q5 -3 10 0M1924 497q-3 -4 -4 -8M1547 664l-4 -1M1867 500q-3 4 -1 8M676 1000l3 -4M1498 684l5 0"/>
<path stroke="#d8c81a" stroke-width="2.3" d="M1809 592q-2 -7 3 -13M1313 823q-6 0 -7 6M444 1122l7 0M1649 662q9 4 11 -6M1307 899q0 7 -7 7M1008 948q-4 1 -7 -2M1609 740q-4 -8 4 -12M1769 596q5 -4 4 -10M2033 574q4 1 8 0M1841 605q4 2 6 5M621 1151q1 4 2 8M1788 569l-7 2M1920 582l6 0M596 1111q0 5 -2 11M1312 880l3 -6M1622 729q-3 -8 6 -10M1949 530q4 2 8 2M893 1022q4 3 8 0M1677 626q5 1 9 2M1602 765l6 2M615 1073l3 -6M1381 836q-5 -5 -8 2M1101 982l-7 2M1496 728q-5 -2 -8 4M1543 676q6 1 10 4M1083 930q-2 -4 -2 -10M1343 776l-1 7M1744 716l5 4M1623 725q6 -1 11 -4M1076 906q-4 -1 -9 -3M1359 788q-3 -4 -6 -8M644 1150q-2 -5 -7 -3M665 1047q-11 2 -8 -8M593 1112q8 8 -4 9M1762 564q5 5 3 12M1175 845q4 -3 5 -8M1419 833q5 -3 11 -5M963 918q-5 -1 -7 4M1737 670q-2 3 -4 6M372 1127q-7 4 -5 12M990 923q-5 -4 -10 -6M1621 695l-6 -3M2021 597q6 1 11 -1M1859 616q0 8 -7 11M1598 703q-4 2 -8 1M1176 909q4 7 10 2M1811 649q0 9 -9 7M1571 671l2 6M1175 958q-8 2 -9 -6M1475 713q3 -5 6 -10M579 1080q-5 -1 -6 4M505 1102q-4 6 -8 0M452 1172l-6 3M1819 688l-5 4M1886 575q9 -5 9 5M1861 580q4 -3 9 -6M1933 546q4 0 7 4M1923 612q-6 -1 -12 -3M1909 636q-9 3 -6 -6M1889 565q-4 2 -8 4M434 1175q6 -2 12 1M504 1112q4 2 8 1M1058 948q5 0 9 1M909 1024q3 3 6 5M649 1095q-7 -3 -13 2M1748 681q-5 -3 -10 -5M1660 647q-3 -3 -7 -3M938 961q0 6 -7 6M401 1162q5 7 10 1M1302 892q4 -1 9 -1M837 1062l0 -6M1847 613q12 -1 5 -10M1641 641q6 -3 9 3M802 974q-6 0 -12 -3M1150 898q-4 4 -10 7M1948 600l4 5M1713 613q2 5 -3 8M1503 697q2 -10 -8 -8M1146 903q-2 4 -6 6M1043 1003q-1 6 5 8M912 1010q-8 4 -11 -4M1222 875q-7 2 -5 9M1312 830q-4 3 -5 7M1194 816q3 6 -3 9M747 1030q8 5 8 -4M1462 780q5 -1 8 -6M1986 589q-1 -5 0 -11M965 909l6 1M504 1119l-6 2M1495 726q4 9 11 2M1631 637q-4 -2 -7 2M2025 572q5 4 11 2M811 1054l-6 -4M1847 672q-4 -2 -8 -1M1697 657q6 2 8 -3M1339 825q7 3 11 -2M604 1155q-4 -1 -7 2M963 946q-4 -2 -9 -3M1883 659q-2 -9 7 -8M919 956q-6 2 -13 3M1407 787q2 -5 6 -8M1153 841q2 -4 4 -8M1659 671q5 1 9 -2M1736 593l2 -6M1564 673q4 -3 9 -3M1042 965l-6 2M1548 726q4 -3 8 -7M609 1077q-4 0 -8 1M854 951q2 -3 5 -6M1866 558q-2 4 -4 7M945 994q-4 7 -9 1M484 1189q8 -3 4 -10M1930 535q-8 2 -5 9M1608 705q1 -4 -1 -8M1344 788q-2 -8 -9 -5M1589 753q4 2 8 2M849 1078l-5 5M1285 914q4 4 9 5M1849 597q-2 4 -5 6M845 962q-2 4 -6 6M1545 668q-6 -2 -10 3M1417 750q9 1 4 9M1814 657l-6 -1M1850 577q-3 -5 -9 -4M1347 818q1 8 -6 4M1691 726q1 5 4 10M1747 684q-5 7 -10 0M1555 748q6 6 -1 11M1489 837q0 -5 -4 -9M1390 760q4 7 11 5M1153 905q3 3 8 3M522 1172q0 9 -8 7M731 1110q-2 6 -1 13M1966 544l-6 3M1969 522q-6 -1 -8 5M1514 713q2 3 1 7M1697 619l-4 6M1934 573q1 -7 -6 -8M1213 815q-1 -5 -4 -9M537 1114q-6 -1 -12 -2M2000 603q-4 6 -10 1M1649 641q-6 -2 -12 0M1300 850q5 1 10 2M984 919q1 -5 6 -6M1474 733q1 5 4 10M1203 834l-4 -5M1615 753q-5 -1 -7 -6M1561 698q-5 4 -5 10M1731 684q3 -3 6 -6M1602 713q7 0 10 5M875 1055q-5 1 -9 4M1384 791l-7 2M537 1189q7 -8 -3 -12M1403 778q-9 3 -9 -6M1427 721q3 5 2 12M1160 941q-3 -6 -9 -9M1017 993q3 -6 -2 -11M1953 549l-6 0M1348 780q7 3 4 10M1996 582q-9 -2 -9 7M1387 858q7 -1 7 -8M1345 754q4 1 7 -2M1184 827l-7 1M1348 757q7 -1 4 -8M941 893l-4 0M1395 734q-2 6 -8 4M963 918l6 -2M449 1094l3 -4M509 1055q5 0 6 -5M968 897l-3 3M1044 862q0 -9 9 -5M957 911l-5 4M1088 858l4 -2M1892 494l5 -5M1809 557q-1 -4 0 -8M521 1073q2 4 5 7M589 1050l-3 6M1224 806l4 -2M570 1057q-7 -7 2 -11M800 974l-1 5M818 949l1 -5M414 1098l4 -1M1036 886q-4 -4 -10 -3M1293 783q5 0 7 4M1549 659q-3 2 -7 2M857 949q4 1 7 -1M1210 815q1 5 4 9M1714 577l-2 -4M1884 524q6 -1 7 -7M1040 887q-4 -3 -3 -8M834 932l-4 -2M1445 715q6 3 7 -4M753 962l-6 -3M983 912l5 1M1528 641l3 1M1727 594l-5 -1M1478 693l3 -6M1919 479q5 1 7 6M1477 672q0 -4 0 -8M392 1120q-3 -4 -5 -7M631 1006l-6 0M1251 806q4 -1 8 -4M576 1055q-4 0 -8 1M1627 588l6 -4M1382 730l5 3M1721 583l-5 3M1545 629l-4 2M872 945q-2 3 -4 6M1895 515l4 0M737 977q5 0 8 4M1255 784q4 2 5 7M1052 872l-4 1M1394 710l4 -5M1811 553q-7 4 -1 10M1228 816l-6 0M829 938l4 2M1842 539l-4 0M435 1085l3 -6M1574 649q6 6 8 -2M508 1078l-5 0M835 959l2 -4M1673 600l7 2M568 1051l-4 0M1302 758q-4 1 -6 6M759 987l-3 -3M1799 547q-2 4 -7 7M729 993l3 2M1495 692l-4 -1M620 1019l0 7M1156 831l2 5M1193 808q-1 6 5 8M849 950l4 1M1088 844q-1 -4 2 -8M1390 709q6 2 11 -2M463 1099q-4 0 -7 -2M368 1129l5 -4M429 1100q-2 6 4 9M965 916q-4 -8 -9 -1M1899 481l5 -3M1296 763l3 3M660 995q5 -3 11 0M1907 477q3 4 4 8M637 1023q5 1 7 5M1564 634q-4 -2 -6 -7M557 1023q-2 4 -3 8M1320 772q2 -4 7 -4M1709 589l6 -2M1215 818l0 -7M1565 599q2 -5 7 -4M1622 610l-6 2M1240 797l-3 2M544 1068l-6 1M1045 886l0 -7M1674 614l-5 3M1229 811l1 4M1212 815q2 -5 3 -10M1391 696l3 -6M1069 863l-4 6M375 1131q3 -5 7 -7M895 918l-3 -3M446 1108l-6 1M1551 634q-5 -1 -11 1M1421 713q7 -1 8 6M1157 839q5 1 10 3M659 1020q-4 -8 5 -7M587 1044q0 -5 5 -7M907 913q3 -4 7 -3M1346 756l-4 -1M962 889l1 6M1352 721q4 -1 6 -5M1515 684q4 5 -1 9M721 968l3 6M1903 513q-5 -1 -10 -1M846 923q6 1 7 8M757 972l4 -1M1159 843l4 -2M804 961l0 6M781 959q-1 -4 -4 -6M946 899l-4 1M1493 682q3 4 1 8M856 943l-6 -1M1032 874l0 5M825 942q-4 -1 -9 -1M1139 849l-4 4M1249 801q-6 5 -8 -2M1234 797q6 -4 11 1M684 1011q-3 4 -7 7M906 932q6 -1 7 -7M1600 637q0 6 5 9M1743 571l4 -2M1187 817l3 4M618 1016q-5 0 -9 3M1391 718q-6 1 -7 -5M774 956l-4 3M1927 479l-7 1M1853 533q-5 0 -11 1M913 938q-4 -3 -8 -6M423 1085l4 4M1369 718q4 -1 7 -5M1348 734q5 0 6 -4M553 1031q-3 -6 2 -9M765 980l-6 3M807 951q-2 6 -9 4M1634 586q5 1 7 7M763 952q-7 2 -6 -6M1516 641l-1 4M1642 625l6 0M826 944q4 -2 9 -3M1031 870l-3 6M1161 811l3 6M1032 884q-5 0 -8 -4M1843 535q-7 2 -8 -5M823 945l-6 2M613 1031q-2 -5 -2 -10M1331 749l-3 -2M398 1106q-1 -5 3 -9M669 1004l7 0M1680 610l-3 -3M1060 872q-5 0 -9 -3M428 1080l-6 -1M1406 717l-5 1M1479 699l5 1M1338 740q-4 2 -6 7M979 897l1 5M1420 704l-6 3M1919 491l6 -3"/>
<path stroke="#8f8210" stroke-width="1.8" d="M1251 880q-6 1 -10 5M935 934q-4 0 -9 2M649 1140q-2 -5 -6 -9M1156 943l-6 -2M1272 882q-6 1 -10 4M856 971q5 -6 2 -12M1879 528q-10 3 -2 9M1533 801q2 -5 7 -9M1778 664q4 2 8 4M1877 552q3 -2 6 -4M1679 708l5 -4M789 1098l-6 -4M1039 900l5 3M1291 806q-5 2 -10 1M1825 677l-6 4M1824 645q-2 -5 -4 -10M1091 990q2 -5 -3 -7M1274 842q-1 -6 -6 -10M556 1160q-6 -1 -9 -6M1305 839q-2 -9 7 -11M1476 713q-2 4 -3 8M873 1011l4 -5M1514 696q9 -1 6 8M1897 591l3 -7M1913 581q-1 -6 -8 -7M1166 953q3 3 7 6M1733 594q4 1 8 3M1740 722q-5 -5 -10 0M1832 566q0 8 8 8M681 1077q6 5 2 11M1266 886q3 -6 3 -12M1772 642q-6 5 -2 12M580 1066l0 -6M428 1198q2 5 -1 8M1909 607q9 -1 6 -9M1991 590q-2 -7 3 -11M1663 711q-3 -3 -7 -4M1373 833q0 6 -7 7M1628 682q-9 -9 3 -12M1333 794q-3 5 -9 7M1712 701l4 -6M626 1148l3 7M1176 824l3 -7M1502 697q5 -2 8 -6M1405 799q-6 2 -5 8M1755 611q5 3 2 7M1846 571q8 -2 3 -9M1301 808q7 -1 4 -8M486 1161l-6 2M1789 597q-1 5 2 10M1850 638l-6 -1M1094 952q-3 -6 -3 -12M553 1160q-3 -2 -5 -6M1224 915q3 -4 4 -8M1695 683q-4 5 -10 7M1201 857q5 5 11 0M1788 590l7 1M1377 765l-3 6M646 1081q-4 3 -8 1M1666 615l6 4"/>
<path stroke="#f0a224" stroke-width="2.4" d="M996 1012q2 5 -1 9M1654 672q4 2 7 6M1879 558q-4 -3 -9 -3M1412 784q4 -2 8 -1M439 1118q4 -1 7 -4M1002 983l6 -2M985 925l7 0M1550 673q-4 -2 -4 -6M1303 888q0 -7 5 -12M1867 645q1 7 7 8M1703 678q-5 0 -8 3M1792 634q-1 8 6 9M1579 665q4 -4 9 -5M1273 809l-4 6M1706 615q4 4 9 5M1691 675q3 -5 7 -9M1934 508q1 5 5 8M1641 671q3 3 8 2M1061 855q-4 3 -3 7M766 1026q4 2 9 3M692 1046q5 1 10 1M995 891l6 0M917 1004q6 2 10 6M922 1007q1 5 5 8M749 1076q4 11 -7 9M1584 631q8 -3 12 5M1372 765l1 6M961 891q4 4 8 7M1333 832l-2 6M1060 969q2 -4 4 -7M1458 715l7 -1M1276 918q3 -8 -5 -10M1523 783q-7 -3 -10 4M976 925q-3 -5 -9 -7M1558 671q5 -4 7 2M1202 882l-7 0M1483 705q2 7 -4 12M1715 660q-5 4 -9 -1M1074 876l4 5M1461 808q0 4 -1 8M1073 923q-3 2 -7 4M1414 783q5 3 10 0M1535 723q-4 0 -7 -3M1089 857q-5 1 -7 -4M916 947q-7 -3 -9 4M1534 801q0 -7 5 -12M1733 651q5 3 7 8M1921 628q-3 -3 -7 -4M1966 507q-3 4 -7 2M1387 860l1 -6M1718 629q-3 -6 -7 -10M1460 826q2 6 9 5M950 922q-8 2 -5 9M1660 615q-6 0 -8 6M1646 625q8 -1 11 6M1465 792q4 -2 5 -6M1618 722q5 3 11 6M1605 696q-4 -4 -2 -9M1844 603q8 3 10 -5M1526 672q7 1 11 -5M1628 627q4 -1 7 -1M1602 716q-7 -2 -12 3M1968 525q6 0 10 -5M1977 528q-5 3 -9 6M1800 635q-5 4 -9 10M1150 889q-1 4 -2 8M646 1024q3 -4 8 -6M1163 825q7 7 -2 11M1586 740q-6 2 -10 7M885 1034l0 7M2016 585q1 8 -6 9M1243 900q-3 -3 -3 -7M1353 780q-5 3 -9 8M895 922q3 3 7 3M740 1012q-3 4 -5 7M1815 630l3 6M1447 829q0 6 -6 6M1854 539q4 0 7 -3M1694 592q7 8 -2 12M1108 962q5 5 11 3M1005 1015q-7 0 -6 -7M1836 643q1 6 7 6M1854 580l5 -4M1891 530q-7 5 -13 -2M1180 908l1 -6M1587 756q-3 5 -9 3M1069 957q-3 3 -7 6M1833 600q-7 -4 -4 -11M1958 538q4 1 8 -1M422 1178q4 2 6 5M1576 778q-7 1 -7 8M1745 664q-2 -4 -4 -8M1082 887q-2 4 -5 7M805 982q1 4 1 7M1955 505q4 2 7 4M679 1136q-2 -4 -6 -8M1050 934q1 6 7 5M1031 876q-3 4 -5 9M1156 835q5 1 4 7M553 1149q7 1 9 -6M951 987q-7 6 1 11M1961 613q2 -4 4 -8M1749 686q-1 -6 5 -9M1179 849q5 -2 8 -7M1268 791q6 -4 12 0M1271 823l2 -6M1893 658q-1 9 -10 8M1417 845q-7 -4 -11 3M1323 793q0 5 -2 9M1541 672q7 -5 11 3M1794 618q5 3 8 8M1535 649q4 -6 7 0M1792 694q-6 1 -9 -4M1325 813q5 -6 -1 -11M481 1199q5 10 -6 9M985 972q5 -3 4 -8M1502 682q-4 3 -9 3M1816 628q0 -6 3 -12M1762 608l0 7M1842 559q5 2 8 7M1951 503q8 -1 9 7M1460 798l2 -7M1027 990q3 -6 9 -2M1665 634q-2 5 0 11M1174 922q4 4 10 4M932 933q-5 2 -9 4M1724 690q5 -2 3 -7M479 1109q4 7 10 1M1769 657q-1 -5 0 -9M1604 624l-5 -3M1666 636q-6 3 -12 5M1735 705q1 9 -7 4M1305 809q-4 1 -7 2M1234 841q-4 -1 -7 1M1607 730l-7 -1M1834 581q-3 -5 -9 -4M739 1041q-3 -6 2 -11M1670 616q-4 -2 -8 -2M1883 562q3 -4 8 -1M1902 513q3 -6 9 -9M1107 877q3 4 7 7M1261 894q6 -1 8 -7M1430 846q-3 -4 -3 -10M473 1180q-2 -5 -4 -11M1420 865q-2 -5 -7 -6M1976 534q-8 0 -8 8M1724 663q3 -5 -2 -7M1363 745l-4 -5M1705 631q-5 3 -9 8M1637 760q-6 -3 -9 3M1782 643q-2 -3 -1 -7M954 971q-6 -1 -8 -7M1879 559q3 2 6 5M1017 955q0 7 -6 9M1557 688q-6 2 -12 5M702 1017l-6 -1M444 1110l-5 -3M1858 666q-4 -5 -4 -12M684 1098q-4 -3 -7 -6M693 1016q-4 -5 -10 -4M1011 931q-6 2 -11 7M1555 670q-9 -2 -9 7M858 1036q3 -4 8 -4M1448 806q2 -3 4 -6M913 976q-10 -3 -9 7M1846 558q0 -6 4 -9M1668 699l4 5M788 1002q1 6 -3 10M951 950q-1 -6 5 -7M510 1155q3 6 3 12M798 983q-11 -8 -10 6M1612 728q-1 6 -2 11M1315 863l4 -4M793 1056q-4 -1 -7 2M478 1101q-4 1 -9 -1M432 1110l7 0M1722 655q2 8 9 9M1020 967q-5 -4 -9 0M717 1074l5 -3M1615 613q-1 6 -4 10M1163 848l4 5M1558 662q-4 1 -6 6M1319 819l3 6M1300 803q-6 -1 -10 -5M1603 712q-1 -5 -5 -5M1606 672q6 -4 10 3M942 895q3 6 8 2M1893 543q-5 -1 -9 2M1821 605q1 10 -9 9M1844 562q4 -2 4 -7M462 1213q-5 3 -8 8M1649 632q3 -6 9 -7M2027 573q-7 10 -10 -2M957 912l-6 -2M1582 731q0 9 8 6M951 1021q-3 3 -7 2M1348 755q6 1 10 -3M889 1025q-1 7 5 11M1959 539q-2 -5 3 -7M1523 705q-4 -4 -4 -9M1191 909l7 2M1780 554q6 1 10 -4M1208 923q-2 3 -7 4M1468 799q8 -4 1 -10M1667 699q-4 -2 -5 -7M1092 886l-5 5M623 1147q4 3 9 6M1063 990q2 3 6 4M1855 594q-3 2 -5 6M1673 691q4 -3 8 -4M1300 841q7 3 6 -5M1244 878q-4 -5 -2 -12M1805 641l-2 -6M1288 819q-2 -6 -6 -9M443 1195q-5 2 -8 6M1736 700q-4 -3 -9 -7M1467 794q-3 5 -7 10M1885 633q0 4 4 6M1810 573l-2 -6M994 908q4 -4 4 -9M477 1113q6 -9 13 -1M979 1010q-6 3 -10 7M718 1069q-6 -1 -12 -2M1647 631q-5 4 -11 1M1562 665q-2 6 -8 4M467 1194q1 4 4 7M906 1024q5 -5 1 -11M1216 829q3 5 2 12M1863 574l-1 -6M1483 832q-8 -2 -11 6M1877 577q-6 0 -4 6M1066 942q4 -1 7 -4M1618 653q-9 2 -10 -7M1224 814q-3 3 -2 7M604 1164q-10 1 -6 -9M1597 649q5 5 4 11M1997 560q7 -4 3 -10M1607 692l0 6M1358 822q-4 -6 -1 -12M1656 727q-4 0 -7 -2M403 1154q3 -5 7 -9M1700 676l6 -4M1723 669q-4 -5 -8 -10M794 1078q4 -5 10 -5M1177 923q3 -10 -7 -10M1111 951l-1 7M1596 700q-4 4 -9 0M800 964q3 -3 8 -2M1626 607q-5 -5 2 -8M2021 567q-3 -3 -7 -1M1851 568q-1 4 -2 8M1025 964q-4 1 -8 3M480 1094q-7 4 -2 11M1825 527l4 6M630 1087q-2 4 -5 7M1697 621q2 9 -7 9M1714 686l-5 5M1498 830q2 -10 -8 -8M1613 714q3 -3 7 -5M1683 639q-4 0 -7 -2M1885 650q-2 -6 -9 -5M1829 636l-3 6M1490 733q4 -4 7 -8M1154 908q5 -2 10 -1M1554 761q-1 6 0 11M1827 600q-3 -5 -9 -4M527 1172q-4 1 -6 5M1361 816q0 -5 4 -7M1771 570q3 -6 10 -7M1857 569q-7 -3 -11 4M1769 679q-4 4 -8 -1M995 951l-2 6M859 1037l5 -4M1295 829q-10 4 -10 -6M922 918q7 -6 -2 -10M457 1100q-4 2 -6 6M944 967q-5 0 -7 -5M686 1069q-5 1 -9 -1M1195 825l-6 2M1739 642q6 -1 10 -4M1755 703q7 3 10 -4M1340 793q-3 4 1 7M1892 511q11 -5 9 7M1327 770l-3 7M1074 895q4 1 5 5M611 1026q3 3 6 7M1090 958q-7 1 -11 -5M954 1028q4 -3 2 -7M1151 873q4 -4 7 -9M1113 977q-4 -3 -7 -6M493 1151q5 -5 8 1M1951 531q-3 3 -6 4M1204 884q-2 8 6 7M1827 664q-3 -5 -1 -11M1908 559q-1 6 -7 4M880 1057q6 2 12 3M1623 682q2 -3 2 -7M1002 922q5 -1 9 2M1169 902q-4 6 -1 12M983 993q0 -5 4 -7M1427 854q-3 3 -7 4M1667 685q4 -5 -2 -8M691 1032q-5 -1 -9 -2M724 1076q4 -1 8 1M1001 993l-3 -6M1553 669q3 -3 7 -6M482 1117q-4 5 -8 9M1307 852q6 2 9 7M839 1010q-6 -4 -8 3M1767 640q0 -5 -5 -8M1738 577q-1 -10 -10 -6M1593 765q4 0 8 2M1771 689q-5 6 -11 0M2001 583q6 -2 8 -7M680 1081q7 1 10 -5M1995 578q1 12 -10 7M1023 878q0 4 -3 7M1093 855q-4 -11 -10 -1M1513 715q5 -3 9 2M1073 1001q7 -2 7 -10M714 1116q3 5 7 2M967 1014q5 6 11 1M1081 959q2 12 10 3M1150 866l-7 0M774 969q7 -2 8 -9M1781 664q6 1 12 0M1490 684q-6 2 -8 7M1905 526q-8 -2 -2 -7M1342 877q4 -6 10 -3M1850 572q-4 2 -7 5M1854 664l0 -6M1468 713q8 2 12 -5M1830 568q-4 -3 -8 -7M1005 932l-2 -6M920 964q-1 -5 4 -7M1585 731l-6 -3M765 1027q0 -5 -1 -10M1833 561q5 -1 8 4M1943 467l1 7M1967 553q0 -8 8 -8M1246 805q-3 -2 -7 -3M1792 650q5 -3 6 -9M1267 805q1 7 8 9M1054 926q-3 4 -7 6M1772 671q3 4 0 8M1627 740q-5 -4 -11 -2M1368 799l-5 4M1705 722l-5 -4M1334 895q-4 -3 -3 -7M968 959q-4 1 -5 6M1827 637q-10 4 -3 12M1243 870l-6 -4M534 1111q6 1 11 5M1995 510q-5 6 -12 5M1492 803q6 -5 12 -1M1905 585q3 6 9 3M1944 481q-6 -2 -11 -6M785 966q-8 0 -7 8M1947 609q4 0 8 2M1780 632q-3 -5 -8 -2M1624 612l7 -2M1866 591q5 5 11 5M438 1192q0 6 -5 5M2023 553q4 4 4 10M984 1019q6 -3 5 -9M445 1211q-2 -3 -5 -5M1950 545q3 -4 8 -6M1284 906l-6 -3M2007 541q-5 4 -7 10M1638 694l7 -1M1250 846q-8 1 -10 -7M1605 768q-4 0 -8 0M926 923q4 -4 1 -9M1847 589q5 -3 10 -5M1058 954q-2 10 -10 4M1646 702l4 -5M895 953q5 -2 7 -7M1380 737q-1 4 0 9M1880 588q-6 5 -12 0M1783 610q9 -2 6 -11M1125 917q4 -3 9 -2M936 939q5 3 8 -2M1190 829q6 -4 0 -8M1606 660q-1 6 1 11M1576 676q-6 -1 -7 -7M778 994l-6 -2M922 905l2 4M367 1100l-5 -3M465 1068q2 6 -4 7M1137 848q-4 -1 -7 -2M633 1027l-1 -5M1300 774q-5 2 -8 8M1376 735l4 -3M932 917q0 -5 4 -9M1014 889l4 -1M1358 727l5 2M1395 724l-5 3M1200 820l-4 4M984 909q-2 -10 8 -7M787 960l-5 0M1827 532l-1 -5M1206 798q-3 3 -2 7M1551 658l-1 5M788 962l3 3M505 1073l4 2M1815 530q-6 1 -8 7M447 1080q5 6 11 1M1111 858l-5 -3M441 1100q-3 -6 -8 -2M454 1092q3 5 8 2M1436 714q0 -6 6 -7M1291 788l6 -3M960 917q11 0 5 -9M968 896l1 4M353 1112l-5 -5M805 960q5 3 11 1M582 1025l-6 0M1636 630l-1 -4M1232 804q0 4 3 7M593 1030l3 4M1184 815l-7 0M1701 585q0 -4 4 -7M1596 639l4 -4M471 1085q-7 2 -6 9M1199 822q-2 -6 -7 -5M1844 524q-3 -4 -8 -4M596 1029l3 -3M1617 630q-2 5 -7 8M1638 633q-5 1 -7 -4M627 1035l-4 2M720 977l1 -5M442 1079q-5 2 -4 7M826 956l5 -3M1840 516q6 1 10 -2M1451 686l-5 2M572 1044l4 -6M462 1098q-5 1 -10 2M1620 627l3 3M1035 886q-4 3 -8 4M655 1014l5 4M1069 844q-2 5 -7 4M1370 727q-5 -4 -2 -9M1693 610q5 1 10 0M428 1088q-3 -6 2 -10M1089 868l5 -4M1482 666l-4 4M996 896l1 6M1282 777q0 9 7 3M1377 714l-3 6M655 1026l-6 -1M1040 871l5 -1M1209 802l3 -5M797 954l6 0M1578 649l-2 5M467 1096l-3 2M798 974l4 -5M554 1024l-4 -1M815 953l0 6M709 1001q1 5 -1 9M1032 887l-3 -6M1951 456l6 0M975 891q-1 5 3 7M1111 851q0 6 -6 9M1165 836q5 -1 9 0M758 955l3 4M696 979q4 5 10 3M1288 785q-4 2 -9 2M1848 540q-5 -4 -10 1M603 1043l-1 -7M961 899l-5 2M1464 666q-2 5 2 9M769 953q-1 4 -1 9M1740 591q0 -4 2 -7M1403 680q-7 4 0 8M511 1074q-1 -4 0 -9M1444 686q-6 2 -10 -3M943 915q6 0 11 2M1716 598q-4 -3 -8 0M1309 754q-6 2 -4 7M1223 809l-3 -3M1784 555q3 4 -1 7M388 1100q2 4 2 8M1548 668q6 -7 10 1M1667 615q5 -1 10 -3M1716 566l-4 -5M547 1019l-2 5M394 1112l-7 0M921 907q0 -4 1 -7M1645 624l7 2M605 1031l-3 3M724 975l5 0M1772 570q6 5 10 -1M399 1090l2 -3M1540 631l6 -2M1950 450l-6 -4M1013 896q-6 0 -8 5M1928 496q-6 1 -6 7M1164 825l-6 2M388 1111q-4 4 -3 9M1066 853q4 2 8 0M1465 701q5 5 10 1M1160 808q5 2 3 7M1622 585l7 0M1885 513l-1 3M1224 807q3 3 8 2M1799 570q0 -5 2 -9M747 973l4 1M1935 492l1 4M1544 646l5 -4M527 1067q5 -2 3 -7M1729 576l1 -5M1011 889q-8 0 -4 7M1079 847l-4 3M1529 684q-4 0 -7 2M1138 849l6 1M1724 596l-4 0M1909 502l2 3M1863 500q3 -4 -1 -8M1087 851l6 2M406 1098q3 5 4 10M609 1018q2 5 3 10M1943 453q-4 6 1 11M1848 519q-4 -7 -8 1M785 972l-4 -2M894 935l0 5M494 1072q-2 -5 -7 -8M1664 595l-7 0M1160 842l1 -4M1804 535q7 0 7 7M1175 828q4 -1 7 3M663 999q5 -2 10 0M1511 686q1 -4 1 -7M380 1115l4 0M1373 714l-2 6M1712 600l-2 4M870 941l4 4M1674 594q-7 2 -3 7M1341 767q-5 4 -8 -2M470 1077q-4 1 -7 3M1749 578l-6 3M435 1100q3 -3 6 -3M640 1000l-2 -4M1571 632q1 5 -3 8M1446 717l-4 -5M769 956q5 1 3 7M1132 841q-6 -5 -10 1M1914 502q5 -2 7 -7M558 1030l-5 0M617 1011q7 2 2 8M885 909l-4 3M1807 559l-6 4M701 980l0 6M1775 574q-3 -5 -8 -4M1428 687q5 1 10 -2M1544 660l5 0M1758 582l2 4M1342 768l-5 -4M1112 850q-4 -3 -6 -9M617 1013l-4 -3M964 916q-3 -5 2 -8M1768 549q-4 4 0 7M895 935l3 -3M795 952q-4 3 -5 8M1333 764q1 6 -5 7M470 1091q-5 -1 -5 -6M866 941l4 2M742 957q4 2 8 4M784 964l-5 2M1554 635q-1 -8 -9 -5M622 1003l3 3M1891 499l7 0"/>
<path stroke="#ea741c" stroke-width="2.4" d="M897 929q0 6 -4 9M1296 784l1 -6M1286 777q-1 4 -3 7M1230 810q-9 2 -6 11M1765 669l-3 -6M1660 741q-5 3 -4 8M1836 619l4 -5M508 1198q-4 -2 -6 -7M1097 983q7 0 10 -6M1610 761q-2 -9 -10 -6M1858 573q-5 -6 1 -10M1178 839q-3 -4 -8 -4M602 1115q-4 5 1 10M1482 729q-5 5 -12 3M556 1071q-8 5 -11 -4M1146 912q5 -2 10 -5M1604 739q1 5 -3 10M1596 688l-5 4M1902 493q-3 -3 -6 -5M1345 794l-3 -5M832 1059l-3 6M1726 660q-1 -7 6 -6M1330 756q3 3 7 3M478 1131q6 5 5 12M1016 1008q3 -2 8 -2M707 1035q1 -5 7 -6M1066 906l5 -4M1215 901q-6 -1 -12 0M1637 628q5 4 4 10M856 1048l6 0M933 905q7 0 11 -6M1167 817l7 1M621 1065q-5 3 -10 6M1956 550q-8 9 -9 -3M1575 664q-3 4 -5 9M1847 659q0 7 -6 9M1313 807q-3 14 9 6M1169 948q-3 -4 -7 -9M1310 764l-3 5M896 960q1 6 -4 10M1905 525l-5 -4M1694 648q2 -3 4 -6M1820 668q5 -1 8 3M1639 640q8 2 6 -6M1865 651q6 9 -5 12M1767 650q5 2 11 3M1540 655q4 0 9 1M1860 552q1 5 2 10M1746 667q-7 0 -5 6M1596 755q5 0 9 -3M933 915q4 1 8 0M1669 680q1 -5 6 -7M1260 796q-5 -1 -10 1M1541 784q7 -11 11 2M916 1025q-1 -7 -8 -5M972 926q-5 -1 -9 -6M967 1014q-4 -4 -9 -2M1107 983q-5 6 -12 2M1084 882q1 -9 8 -4M1631 766q8 -3 5 -11M1670 731q4 -4 9 -5M1429 763q-4 6 -11 6M1556 679q5 4 10 2M718 1105l5 5M890 1016l7 -2M1307 837l7 -2M1143 878l7 0M832 1019q-3 3 -5 6M1216 857q5 1 6 6M1455 729q8 2 5 9M980 1024q5 -3 10 -1M1445 846q-3 4 -3 9M1437 789q-3 -4 -7 -5M1520 740q-5 2 -10 5M546 1121q3 4 8 5M1290 881q-4 -2 -8 -3M1979 576l1 7M1655 694q9 -6 12 4M505 1173q5 2 10 2M1287 913q1 -6 1 -12M1730 586q-4 -7 -9 0M1501 719q5 -1 9 -2M988 929q4 2 9 3M1356 810q3 -5 8 -4M621 1111q0 -4 -1 -9M636 1028q4 2 7 5M1215 933q5 -4 0 -8M1124 845q-6 -1 -10 4M1607 736q-2 11 -9 2M1472 818q7 2 7 9M1657 684q6 -3 10 1M1213 806q0 7 7 6M1169 839l3 -6M949 998q5 0 9 4M1798 682q-5 -4 -11 -3M1878 540q-8 -2 -4 -9M1046 915q2 9 -7 7M1468 834q-3 -5 3 -8M486 1115q3 -4 7 -1M809 978q7 1 11 5M1415 776q-2 -4 -4 -8M1823 613q-6 -3 -8 -9M539 1172q7 3 4 9M953 916l-5 4M1649 734q5 -3 11 -3M1748 684q3 -3 8 -1M1840 542q4 -8 10 -1M1913 560q-6 0 -11 4M1368 773q-4 3 -9 4M846 1009q-5 -2 -9 -5M980 946q1 8 8 5M1204 940q4 -2 7 0M794 966q-6 0 -8 5M1938 595q-5 3 -2 8M1126 933q4 -7 -4 -7M576 1106q-4 -4 -1 -9M1417 795q3 -3 7 -2M755 1078q-4 4 -10 5M1918 560l2 -7M1793 623q-4 -5 -7 -10M1066 979q4 2 8 0M1838 593q5 1 9 -3M778 1086l-7 0M957 942q11 -1 4 7M1622 728q3 5 6 10M801 996q2 4 3 7M1115 968q1 -7 7 -6M954 917q-6 7 2 9M1522 743l-6 -1M1561 672q0 6 6 7M768 1091q1 -5 -1 -9M1836 672q-7 4 -10 -3M1996 548q4 7 11 6M1581 734q-7 3 -6 10M1910 521q1 -9 -7 -5M549 1151q6 0 12 0M1257 836q-8 0 -10 -7M1767 671q4 2 8 1M1296 775q-6 -2 -12 0M1829 547q1 7 8 8M1816 642q-3 4 -2 8M735 1051q1 -7 -6 -8M1545 752l5 -5M1187 882l-5 -4M1509 657q-7 0 -11 -5M712 1093q-5 3 -10 -1M744 1070q-6 1 -8 6M1250 920q5 4 2 9M1976 519q0 -5 4 -8M654 1021q-4 3 -9 4M1928 574q10 -1 5 7M1906 524l4 -5M1621 626l7 1M971 985q-6 -3 -9 2M1022 895l5 -4M1719 634q1 7 -3 12M1820 657q6 1 12 -2M623 1078q4 -3 2 -8M1126 836q5 0 10 -3M688 1045q4 6 11 3M1151 913q-3 -3 -7 -3M1951 516q0 -5 4 -8M1587 766q3 -3 8 -2M846 1005q3 -2 5 -5M1559 754q6 -2 2 -8M757 987q-2 9 -10 5M1649 750l-7 -2M927 922q5 3 7 8M1624 726q1 6 -1 12M753 1013q6 0 10 5M1731 697q3 -6 8 -10M1685 648q-5 2 -6 7M1872 615q0 6 2 12M1622 627q4 -6 10 -2M1776 624l6 -3M1969 613q-6 3 -11 -1M854 1009q3 -4 5 -9M1072 985l2 -6M1955 537q-6 4 0 7M483 1098q1 -4 4 -6M1910 557q-5 2 -10 2M1859 571q-3 4 -4 8M1826 642q-5 -1 -9 1M1877 600q7 -1 4 -8M996 1011q-6 -5 -3 -12M519 1112q-5 -4 -12 -3M949 1030q5 4 6 11M991 964q1 -4 3 -7M1893 531q-1 6 1 13M1917 572q-6 5 -9 -2M1513 821q-2 5 -7 8M562 1111q-3 -8 -9 -2M1794 674q-3 -3 -6 -6M1440 803q-5 1 -7 -4M1318 878q1 -5 4 -8M722 1025l6 1M1198 872l-3 -6M1027 926q-5 5 -2 11M1458 826q4 0 8 0M1207 916q-4 3 -7 0M532 1152q-2 5 -3 9M1474 666q4 1 6 5M1558 662q-3 3 -7 4M1593 752q-5 -2 -3 -7M1599 763q-8 -2 -11 6M622 1142q2 8 10 6M1887 538q2 4 3 8M1353 842q1 -6 -4 -8M534 1065q4 4 3 10M1215 889q1 7 6 11M1167 941q-1 7 -7 11M989 923q-1 7 5 10M1478 788l7 1M1954 530q3 -4 5 -8M1178 921q-8 6 -11 -4M1904 544q4 5 9 2M671 1005q3 6 1 12M483 1212l-6 -4M1025 967q-6 -4 -12 0M1675 697q-1 9 -9 7M2039 531q-6 -3 -11 -6M875 1049q-6 0 -5 6M807 1091q6 -2 13 -1M1765 608q4 -1 7 -5M894 936q-3 4 -7 5M1608 641q7 -10 11 1M1528 760q-6 0 -12 -2M1870 570q5 4 1 9M1975 559q5 4 3 10M1862 569q10 2 6 11M1484 739q-4 -3 -7 -7M1577 644q2 5 6 5M1055 957q0 5 3 9M1462 744q-4 4 -3 10M1605 628l-6 -4M1349 856q5 -2 8 2M1622 701q-2 4 0 8M1332 817q-5 1 -8 -3M1940 491q2 4 -1 8M769 1010q3 5 9 4M1405 750q-1 6 3 10M614 1044q-4 -3 -3 -9M1018 981q3 -4 8 -4M647 1068q-5 -3 -10 1M797 976q-4 3 -9 4M1060 978q7 -5 11 3M1276 912q-5 -4 -10 -7M1112 940q7 1 12 5M1746 649q6 -8 13 0M1708 616q-3 6 -10 6M566 1101q-1 7 -7 9M1463 818q-4 5 -8 10M1862 576q2 -4 2 -8M1238 811q0 -5 -3 -8M761 1034q-4 -6 -9 0M1630 709q4 1 7 -1M981 970q-5 3 -5 8M697 1095q-4 5 -9 2M1686 659q-4 2 -8 0M1679 621q-1 6 -7 3M1132 857q3 -8 10 -3M1073 914q-2 6 -6 11M1293 775q3 3 7 4M1798 649q5 -4 11 0M1621 761q5 -1 10 2M1707 595q-5 -2 -11 -3M1304 868q-9 2 -10 -7M1653 624q-1 7 6 9M1200 856q-5 0 -10 -2M1955 558q0 -9 8 -4M786 995q-7 -1 -10 -7M1575 724q4 4 10 4M1719 609q5 1 8 -3M1501 670q-4 -1 -8 1M1837 660q-7 -1 -13 2M1579 706q-7 3 -7 10M1319 861q3 5 -1 9M1415 757q-2 -4 -4 -8M1700 700l-5 4M1624 639q-7 3 -8 10M596 1074q-9 0 -6 8M1101 858q4 -4 9 -5M1864 619q4 12 12 2M433 1205q3 -5 8 -4M610 1156q5 5 8 -1M702 1082l7 0M1804 659q-3 4 1 7M1100 930q-6 0 -10 4M1808 556l-5 4M1719 722q-5 -2 -10 0M1840 630q0 7 -7 7M750 990q7 0 10 -6M909 1028q-3 -5 -7 -7M981 1014q6 -4 10 2M1683 678q-4 -7 -9 -2M1931 505q6 0 11 -4M1574 694l-5 4M1246 883q-1 5 -3 10M1608 641q7 -2 8 -9M1221 841l6 3M905 1042q10 -3 9 8M1294 890q-6 7 -12 1M1244 822q-5 2 -11 4M1643 726q-1 5 -5 9M586 1052q-5 -3 -11 -6M1592 658q-2 -4 -3 -8M841 1004q4 -4 2 -10M1488 709q-4 -6 -11 -6M1868 578q-3 -4 0 -8M1069 880l5 -4M1293 910l4 -5M1620 680q-4 -3 -8 -2M416 1157q4 -13 -9 -8M1828 633l-6 3M1487 802q2 5 -4 7M1857 525q1 -5 4 -10M1492 742q-4 -1 -8 0M1913 512q0 -5 -1 -9M1923 503l6 -1M1298 846q2 10 -7 8M1632 745q1 -9 8 -5M1545 758q-1 7 6 9M1420 846l-6 -3M1534 707q6 0 10 -4M1839 556q-5 -1 -10 2M425 1173q3 -6 7 -11M1455 706q-2 4 1 8M1304 818q-7 -8 3 -12M808 981q-4 -3 -7 -6M1686 670l5 5M1892 528q6 8 -4 11M973 923q-6 1 -5 7M709 1078q3 -5 9 -3M1826 632l1 6M1262 837q4 -2 7 2M1679 653q5 1 11 0M608 1091q-4 5 -6 12M1611 755q-7 -1 -7 7M1411 862q-5 1 -10 -1M567 1103q-2 4 -3 8M1897 624l-6 -3M653 1085q5 -5 1 -11M1051 940q-2 -5 -8 -5M1033 958q1 8 8 4M910 1024q1 -6 0 -13M1715 666q-3 4 -4 9M1209 820q4 -2 7 -3M1821 606q-12 -3 -7 8M1834 640q5 4 7 10M1899 568q3 3 6 6M1479 778q3 -4 7 -8M1631 706q-10 -2 -1 -8M1105 908q5 3 11 7M461 1185q-6 -1 -8 4M1902 640q1 7 8 10M1574 759q3 6 10 5M796 995q5 3 11 3M1561 697q2 -7 -2 -13M1259 804q-3 -4 -7 -7M1341 827q0 -5 -1 -10M1568 673q-3 4 -7 7M1659 632q-5 4 -11 4M1809 608q0 -7 6 -11M1909 527q-6 2 -7 8M1248 927q-4 -5 -11 -4M1801 662q6 0 6 -6M1258 856q-4 5 -10 4M665 1107q5 3 5 9M1680 623l-4 -5M1607 723l5 5M1783 666q4 -3 8 -6M1257 911l6 -2M1268 813q-4 -3 -8 -1M1066 924q-5 3 -7 8M484 1193q-4 -1 -9 -2M1175 829l4 -6M1487 662q-4 3 -8 0M1844 657q-6 3 -11 7M1795 566q3 -5 9 -6M1510 778q-5 -1 -8 -6M1642 732q4 -3 8 -5M1831 670q0 -7 -8 -7M1888 565q-7 0 -6 -7M1539 720q5 -4 11 -4M740 1013l-5 4M465 1158q1 -4 4 -8M678 1141q4 -5 -1 -9M1904 549l-6 0M1976 545l-5 4M1368 797q6 -1 10 -6M1665 664q-5 -7 -10 0M1611 768q-4 0 -8 0M1808 676l2 6M457 1112q-7 -7 -8 3M417 1143q-2 6 4 8M1037 1002q7 -7 10 2M1601 732q-2 7 -9 7M1758 668q0 -7 7 -10M672 1114q7 1 6 8M1892 531q-1 -7 6 -10M938 907q-7 -1 -7 6M1901 565q-5 -2 -8 -7M1922 516q3 3 8 3M974 919q1 7 -6 9M1453 732l0 7M1918 548q2 -5 2 -11M660 1023l-2 -6M1856 606q4 -6 -1 -11M889 1006q10 0 8 -10M547 1163q-1 5 -4 8M1804 557q4 3 10 3M1820 674q5 1 10 1M714 988q-5 -5 -1 -10M1211 879q6 0 11 4M1370 743l-4 -2M360 1076l4 4M1259 795q-1 -9 -9 -6M635 1003q-3 -2 -7 -4M1686 608q5 1 10 2M908 921l1 6M1458 698q-4 -1 -8 -1M788 953q-4 -2 -4 -6M1579 614l-5 3M435 1085q-2 4 2 7M1037 879q-1 5 -4 9M1173 817q4 -4 8 0M501 1066l-3 3M1296 770q-4 -5 -9 0M1362 750l-5 2M1319 765q-5 0 -11 -2M1507 646q4 4 9 4M1035 888q6 5 11 -1M1190 825l4 0M697 973q-4 -1 -7 2M368 1120q1 7 7 6M729 980q-1 5 -5 7M906 933q5 1 10 1M717 989q3 4 8 2M1517 664q5 -3 10 -5M1552 662q5 -3 11 -1M1781 568q7 0 5 -7M1371 720q6 2 6 -4M1159 821l-7 2M493 1066l-5 4M1657 594q5 -4 2 -10M1717 578l6 1M1921 476l-5 -2M1275 792q5 0 8 -4M1690 604q-4 4 -8 0M1638 611q4 -4 10 -4M1576 654l-4 2M1898 507l-4 -1M364 1112l-4 -4M1925 478l-5 2M1289 774l-5 1M1280 784l-6 0M1794 567q3 -3 7 -5M978 890q-1 5 -6 4M770 951q-4 0 -8 2M1794 556q1 -5 5 -7M1932 491q-1 5 3 9M566 1042l-6 0M722 939q4 4 10 2M536 1057q4 3 4 8M1689 583q-7 1 -10 -5M1730 580l-2 6M933 898q5 0 10 3M993 897l-3 -6M1173 831l5 4M595 1042q7 -1 7 7M1645 621q-5 -1 -11 -2M1363 735q-2 -6 -8 -6M1909 507q-4 2 -7 0M838 957q-1 -4 -1 -8M1632 593q7 5 9 -4M1156 832q-5 1 -7 6M1168 826l-5 -2M1387 742q1 -8 -7 -8M1569 657l4 2M689 998l3 -2M1366 735q0 6 4 9M359 1124q-5 3 -10 5M645 1024l6 1M1465 680l-6 -3M790 952l1 3M1652 621l4 2M1278 771q6 3 5 9M1344 727q3 -3 7 -2M1895 498q-6 -3 -9 3M969 898l4 2M1646 592q-3 7 4 8M822 958l-4 -1M1922 503q1 -6 -5 -7M1449 705l-4 4M744 969q0 8 8 7M1515 688q-4 0 -7 -1M905 936q2 -5 0 -10M814 926q-2 5 -2 10M505 1081l-7 -2M1795 548l4 1M1713 572q4 -3 8 -4M729 977l-6 1M737 957q4 -4 4 -10M885 915q4 1 7 0M751 989l2 -5M1800 555l5 -5M1473 696q-4 3 -5 9M1125 853q4 -3 7 0M815 951l5 -3M630 1009l-6 0M1626 603q0 -5 -2 -9M963 907q5 1 9 -2M1892 480l3 -4M1245 801q-5 -3 -8 2M1299 766q-4 6 -9 1M656 1016q5 2 10 2M1142 830q3 7 10 4M1710 595q-9 3 -7 -6M1532 656l3 3M1667 609l6 3M1837 530q-2 4 -3 8M940 909l-4 -4M534 1049l-6 -4M402 1084q3 5 -2 8M1110 856q-5 -1 -10 0M459 1095q5 2 9 -1M1787 548l-4 -1M1827 531l-3 -4M1304 778l3 2M1333 761l4 -2M1424 727q-4 1 -7 3M1159 821q-3 5 -3 10M1658 627q3 -6 9 -2M812 965q-1 6 4 9M872 922l3 3M568 1043l-4 4M1241 814l1 -4M942 888q0 5 4 8M974 899q-9 2 -3 9M1848 512l2 3M1839 539q0 4 -2 7M1378 736q1 -4 5 -6M747 966q-4 1 -8 -1M549 1029q5 -1 10 0M1601 639q-5 2 -6 8M871 936q2 3 2 7M1615 616l1 -6M1044 871l7 -2M649 1022q5 0 9 -2M458 1087q0 -5 4 -8M1755 568l4 -3M799 974q-3 -6 2 -10M565 1012l-6 2M1621 627l4 -2M883 920q5 -2 8 2M1916 476q7 6 9 -3M851 951l-4 2M766 949q-5 -4 -8 2M706 998l2 4M1377 719l-5 -1M1933 501q-1 -5 -4 -10M1513 675l4 -3M1842 517l4 0M1270 792l0 -6M1112 849l-2 4M1614 587q4 -2 5 -6M623 1012q-6 3 -9 -2M492 1065q-2 5 0 9M568 1036l-2 4M1196 814q2 5 -1 9M1670 601l-5 -1M766 971q-5 1 -6 5M698 974l-2 3M849 958l-3 4M1339 758l4 -6M1081 872l-3 -4M478 1072l5 0M571 1041l5 -1M665 995q-5 -1 -8 2M498 1069l4 1M1852 540l-4 -5M1178 814l0 5M1931 498q-4 2 -7 -1M1638 629q-5 -5 0 -10M1153 824q-2 5 0 10M1472 667q-1 4 3 7M1245 802q-4 3 -8 4M789 957l-3 3M489 1071l-1 4M794 969l-5 2M1114 851q-2 4 -6 7M1717 599l4 -1M489 1081l7 1M1356 760l2 -6M1297 781q4 0 9 0M1235 800l-3 -2M388 1129q-4 2 -7 -1M1796 551q4 2 8 4M1531 676l-5 0M634 1004q5 -4 8 1M1259 801l-5 -2M1059 872q-5 0 -9 0M1453 669l-6 -2M1745 585q-5 1 -8 -3M1786 569l3 -4M1524 637l-1 5M562 1054l4 -4M1697 602l-6 1M1667 611q-6 1 -8 8M596 1036l2 6M1547 651q4 -2 7 -4M1770 538q2 6 7 7M541 1056q-6 -1 -6 5M973 913q-2 5 -7 6M1596 602l-7 1M458 1078q5 2 9 -2M1949 489l0 4M1729 573l4 2M1818 551l4 -3M563 1054q0 -5 5 -6M1195 815l-4 -2M589 1037l6 3M1241 801l-5 0M970 908l7 0M1644 619q2 4 6 6M1554 623q-2 -6 2 -10M1935 476q-4 3 -1 8M1568 623q-2 6 5 7M1672 611l-6 -4M1024 888l-3 6M949 905l-5 2M1499 680l2 6M1922 482l-6 0M1807 568l-3 -5M1700 570q7 1 9 -6M706 980q0 -5 6 -6M1420 722l0 -6M792 963q2 -4 4 -7M1651 584l-7 -1M683 970q-5 3 -2 7M397 1113l-4 2M1905 503q3 -3 6 -7M660 1015l6 -1M546 1066q-2 -5 -6 -8M1092 873q-7 1 -9 -5M1270 793q-5 -2 -9 0M1434 719l-1 -4M625 1025q-1 4 -2 7M907 926l5 5M1933 487l4 4M1767 574q3 -3 8 -3M1811 548q-1 5 -5 9M1324 743q-5 1 -10 5M1145 820q-3 6 -10 4M1305 759q3 -2 5 -5M1061 857l-3 3M1089 861q-2 8 -8 4M940 895q4 0 8 -1M1873 518l0 5M773 961q4 -1 8 -4M1580 607l3 -4M535 1072q0 -5 -5 -5M478 1068q-5 6 -10 1M726 976l7 0M840 924q4 -4 7 -8M1663 594q6 -4 8 3M1301 784q-3 4 -1 8M867 926q4 -3 8 0M1638 595q3 2 4 6M1668 624q-4 -6 -10 -3M1435 688q-5 -6 -8 1M485 1087l-1 -6M923 893l-6 4M804 948q-4 0 -8 3M534 1046l1 4M730 981l-2 4M1547 672q-5 -1 -9 -4M1947 460q-1 -5 0 -10M833 939q7 0 7 -7M1665 620l1 -5M1525 645l-5 2M1889 496l4 -1M1159 813l-2 4M836 941l1 4M986 899q-5 -1 -8 3M542 1050q4 2 8 0M1121 831q4 0 7 3M684 982q0 5 5 5M554 1035l6 -1M1687 609q4 2 5 6M1936 475q-1 5 -5 8M1450 681l5 2M546 1044l-5 -2M996 904l6 -2M639 994l4 -2M1818 551q-4 3 -1 7M1150 824q3 -5 9 -5M1303 759q2 -4 0 -7M1256 784l7 1M432 1101q-2 4 -5 6M916 890q5 -4 10 -1M1590 645q0 4 -1 8M1943 465l3 -5M1892 471q-2 -6 4 -8M527 1064l2 -3M684 1014q4 -1 8 -4M1313 748q-3 10 7 6M1463 698l-5 3M617 1020l0 -4M426 1101l6 -3M784 962l-4 -5M1759 563l-7 2M1913 489q-4 1 -7 4M1195 792q1 6 8 6"/>
<path stroke="#e4521e" stroke-width="2.4" d="M1730 636q-2 9 -10 8t-2 13M630 1134q-5 4 -5 11t-10 7M984 1008q2 -3 5 -4t4 -5M1425 770q6 -3 11 -6t12 -3M1569 671q-1 -8 -8 -7t-4 -10M427 1153q-4 0 -7 -3t-7 -4M1910 512q1 -8 9 -5t7 -8M1673 685q3 4 1 9M1738 684q6 2 7 -4M1414 776q-3 5 -7 1t-5 5M1560 693q12 -1 6 -12t2 -13M631 1112q1 6 5 10t-1 12M1149 859q-5 5 -2 11t1 11M499 1113q1 4 6 6M1878 638q5 -2 10 -4t10 -4M1876 563q2 -4 7 -3t7 -1M1832 611q-4 5 -10 2M727 984q-5 0 -9 1M992 990q3 -2 5 -5t8 -1M1222 881q-4 0 -9 2M1077 949q3 -4 8 -4M1796 620q4 1 8 0t1 8M1531 678q-4 5 -5 10M1103 938q5 -2 11 0t11 0M651 1132q10 -6 10 5t6 10M1661 606q4 -4 6 -10t11 -5M1954 506q-1 -4 1 -9t3 -8M1752 697q3 8 11 4t7 9M1723 693q3 -4 8 -5t9 -3M461 1108q5 -2 11 -3M1571 731q-3 2 -3 6t0 7M1009 954q3 4 2 9M933 916q7 1 9 8t12 1M1986 563q-3 -3 -3 -7t-6 -4M1673 647q-6 3 -12 0M1566 726q5 -1 9 -3t9 -2M507 1126q5 -3 11 -3t10 -6M1533 662q-2 12 10 8M1880 538q2 -6 9 -5t10 -3M706 989q-6 2 -12 -1t-11 -5M1567 638q-4 7 -9 0t-7 -4M1467 725q-2 4 -2 9t-4 8M1670 731q0 -9 9 -7t11 2M1951 490q7 2 5 9M418 1132q4 -5 6 -10t-5 -11M1076 952q4 -8 11 -2t11 -2M464 1208q3 -2 6 -3t6 -1M1018 989q3 -5 1 -10t0 -10M1042 964q9 1 10 -8t9 -8M1301 867q5 -4 3 -10t6 -8M1352 830q7 2 12 -3t13 0M1583 748q-6 0 -10 -5t-8 -8M1649 615q-5 1 -8 5M1288 856q0 -7 6 -3t6 -3M1215 870q-2 6 -5 10M999 999q-1 9 -9 5t-4 10M1225 843q4 3 2 8t7 6M1618 653q7 4 11 -3M636 1155q-4 -2 -7 -5t-7 -5M2021 559q4 4 9 3M1203 875q4 8 -4 11t0 12M624 1063q-4 -1 -8 2t-8 -2M1265 903q8 -1 4 6t7 0M1114 969q-7 -2 -13 1t-13 -2M1792 666q3 3 3 8M1607 605q5 4 11 2t10 -6M1855 630q-5 -3 -9 2t-9 1M1893 622q2 -5 3 -11t-6 -10M1843 575q5 -5 -1 -10t-5 -8M1889 563q-7 7 3 10t1 10M1256 798q7 2 11 -3M756 979q-9 -4 -11 5t-5 11M1572 653q1 -4 0 -8t5 -6M1195 813q5 0 10 -2t7 7M654 996q-1 -4 1 -8t-1 -8M1485 822q4 -1 4 -5t-4 -5M1035 975q3 -4 6 -8M1230 890q-7 5 0 10t-5 8M977 971q5 3 10 6t3 11M1029 938q-1 6 -1 13t-1 13M515 1055q-1 4 -3 9t1 9M1854 547q0 -6 6 -8t8 -6M445 1197q-5 0 -9 2t-9 0M1059 862q6 5 11 -1M1948 541q5 -1 11 0t11 -1M982 991q0 -8 7 -10t8 -9M626 1133q-4 5 -7 0t-5 -4M1860 554q5 1 9 3M1045 965q2 -6 7 -10t7 -10M1691 681q-1 -5 3 -8t0 -8M1876 538q4 1 9 3t9 -3M417 1088q-3 3 -5 6t-7 5M1896 622q4 4 10 3M1505 800q-8 -1 -7 7t-8 6M1457 815q-5 1 -6 -3t-5 -4M1554 727q-1 7 -8 8t-10 5M471 1160q3 3 7 3t0 8M988 916q-4 0 -9 -2M1908 506q6 -1 12 -1t12 1M1215 902q-4 0 -7 -3t-7 4M1944 474q-1 -6 5 -8t6 -8M1860 613q3 -8 -4 -12t11 -7M1755 672q4 -5 7 -11t13 -1M1790 653q8 3 6 -5t4 -7M1166 906q-3 4 -6 6t-2 9M458 1152q-5 3 -1 7t1 7M1388 789q5 0 8 5M418 1138q-2 4 -6 4t-7 -1M1678 644q-4 1 -8 2M1013 997q5 -1 8 1t8 2M1316 834q-6 2 -10 -2t-10 2M1503 702q4 11 10 1t7 -7M760 1084q-7 -1 -7 -8t-10 -4M959 964q4 3 8 6t0 10M1630 675q12 7 -1 12t4 11M1716 587q1 -3 4 -6t7 1M1373 764q-4 -4 -10 -3M412 1132q-6 3 -2 8t0 9M1444 772q-1 -6 2 -12t4 -11M1895 540q4 -4 4 -9M758 1022q-4 3 -6 8t-2 10M474 1166q6 -2 10 2t10 -1M1553 709q7 -1 6 -8t6 -7M1318 881q-5 -4 -11 -5t-13 1M393 1140q4 -7 12 -4t9 -9M1707 649q-7 -2 -12 3M678 1032q-7 -2 -12 2M999 990q5 4 9 8M1477 792q6 1 12 -2t12 -2M1166 834q5 -3 7 -8t1 -11M1716 704q-12 1 -7 -10M1012 995q0 4 2 8M1737 656q-2 -5 -7 -3t-6 -4M580 1048q-5 7 2 13M1676 624q-4 -5 -9 0M1653 647q-2 4 -3 8M1657 671q-6 -9 5 -11t5 -11M1899 534q-5 8 -13 3t-11 -7M474 1142q2 4 2 9t-4 8M1845 568q1 10 10 6M1672 722q-5 -2 -11 -2M554 1091q4 -5 1 -10M1012 888q6 -3 10 -7t9 -8M1772 664q-1 5 -6 4t-4 6M1268 870q-1 6 -6 7t-4 9M1450 841q-3 -6 -9 -8t-11 -4M1190 870q4 4 9 0t7 5M1604 680q-5 -2 -10 -3M1365 858q8 3 11 -6t9 -9M916 920q4 3 10 4M1598 763q-1 5 -2 9t7 7M1248 891q5 3 10 6t9 8M1003 931q-1 -4 -3 -7t-2 -7M1595 641q-3 -2 -6 -4t-7 -2M1116 873q-4 4 -8 1t-8 -4M1328 783q-5 3 -3 8t-5 7M1346 754q-1 -6 2 -11M1016 944q-4 -1 -4 -5t-5 -5M1775 631q-4 2 -9 0t-8 4M1206 854q4 4 0 7t1 7M1789 670q2 -5 4 -9t4 -9M727 1087q-4 3 -2 8t-5 7M1576 696q-3 6 -10 5M1001 1001q5 3 5 8M1786 652q-4 -2 -8 -2M1529 803q-6 -2 -8 -8M962 960q3 -4 4 -9M1775 679q-8 -4 -8 5t-9 1M1756 686q-6 0 -9 -4M1506 803q0 -5 2 -10M1642 635q4 -4 7 -9t11 -2M732 1081q3 -7 8 -1t8 0M845 1028q-3 -4 -4 -9t-7 -6M1423 821q3 5 9 5t9 4M1474 823q2 -7 8 -2M1531 694q-6 7 -12 0t-12 1M1432 826q1 -4 0 -8t-5 -6M1233 812q3 5 6 10M485 1120q-8 -3 -5 -12t-2 -12M1245 796q6 7 13 0t6 12M412 1124q7 -1 13 2t12 5M925 932q-3 -6 1 -11t8 -8M673 990q1 -5 -3 -8t-2 -8M1691 709q-3 2 -7 2t-7 2M1316 804q1 -5 6 -8M1572 712q-2 5 -7 5t-5 8M624 1056q0 5 -4 8M1669 690q-3 -1 -7 -1t-7 -1M1546 684q-2 -4 1 -7t7 -1M956 964q6 5 9 -2t8 -3M1953 498q2 -5 1 -9t6 -7M1530 705q5 0 8 4t8 5M631 1029q8 -4 1 -10M1355 804q0 6 -5 11t-4 11M1468 793q4 -4 9 -7t6 -10M1842 529q-7 -1 -8 -9t-8 -9M1718 662q-3 8 5 6t8 3M1666 665q-4 3 -7 5M537 1140q-3 -5 -8 -7t-3 -10M1486 750q-5 1 -9 -3M1351 823q-6 0 -12 -3M1405 826q-1 -6 -6 -10t-6 -10M1269 896q-4 4 -3 9M1585 745q4 1 5 6t4 7M1573 656q5 -7 -4 -8t-6 -7M1771 625q-6 3 -2 8t1 9M1289 800q-3 2 -7 0t-7 1M714 1056q4 -5 0 -10t7 -8M548 1161q-7 2 -8 9t-11 5M443 1202q4 -3 8 -2M801 1065q2 -8 11 -7M1713 652q1 4 1 8M1880 534q-4 -3 -8 -5M430 1124q-8 8 -11 -3t-10 -3M1227 828q-1 -5 -6 -7t-5 -7M1889 543q2 5 -1 9t8 5M1912 592q3 3 8 4t5 7M1026 931q1 4 1 8t5 6M1651 672q3 3 7 4t7 4M1656 711q1 5 7 6t4 8M1927 536q-7 -1 -10 -8M1543 705q-2 -5 -6 -9M1747 642q4 -3 3 -7t2 -8M1100 938q-3 -5 -2 -10t3 -10M1026 977q-3 -1 -7 -3t-7 -2M631 1142q-3 9 -10 4M1318 744q6 1 5 7t7 6M1688 617q-2 4 0 8M1189 820q-4 -4 -6 -9M1078 929q-5 3 -9 0t-9 1M1047 951q4 14 -9 9t-13 1M1516 715q-3 4 -7 7t-3 9M1220 887q2 -9 11 -6M1314 777q1 -5 6 -3t6 -2M1829 561q-5 1 -10 1M819 1035q1 -8 -7 -8t-10 -4M519 1164q-3 2 -6 4t-5 6M1642 646q8 -5 12 3t10 -8M999 967q-4 -1 -9 1M1627 673q9 -3 1 -9t1 -9M1596 657q4 -4 8 -1t7 4M1371 851q-1 -7 6 -6M1298 876q-7 1 -11 6M709 1067q2 -3 5 -6t5 -5M1279 870q6 -8 10 1M1518 727q-6 -3 -8 -9t-7 -9M1576 765q3 5 6 9t11 3M1633 628q-3 2 -7 5t-6 6M685 981q-4 -2 -6 1t-6 1M1616 677q-5 -1 -10 1t-10 2M1832 548q5 4 1 9t4 8M1075 943q-5 0 -10 -2t-7 -7M1746 671q5 1 10 4M1496 806q7 -4 9 4t10 -2M394 1146q2 -7 10 -7M1801 652q0 -7 7 -9M507 1114q1 -4 -1 -8t0 -8M1289 879q4 -6 12 -3M1188 907q0 -5 5 -6t0 -7M1137 891q4 -4 9 -7M1009 947q5 -4 2 -10M628 1028q2 -3 3 -7t-3 -7M531 1116q0 -6 6 -4t6 -4M1594 659q-3 -6 0 -12t-1 -12M1587 675q-4 -5 -2 -12t1 -12M1622 679q0 -4 3 -7t0 -7M1592 744q-5 1 -11 2M780 1069q-6 -2 -11 -4M705 1091q-7 -4 -3 -11M504 1193q3 -4 5 -8t6 -7M1811 627q-3 3 -2 7t3 7M1588 711q0 -3 0 -7t3 -6M1110 951q7 -1 11 5M1477 828q-6 -2 -12 -1t-10 7M1570 639q-1 5 2 8t-3 8M1062 937q-8 8 -12 -3t-12 2M1008 969q9 -2 7 -11t7 -11M1850 588q-5 0 -6 -4t-5 -6M1424 826q2 6 9 6t6 8M1756 570q-3 5 1 10t2 10M1602 660q8 0 5 -8M1956 538q-1 -5 3 -9t10 -2M1139 838q-2 -5 2 -7t4 -7M848 1031q6 -2 8 4t8 4M1704 688q3 9 11 4t11 3M1632 681q0 -4 -2 -6t0 -7M1569 740q2 -4 6 -7M1037 968q2 -4 7 -6t3 -8M500 1182q4 4 3 9t5 8M957 954q4 -1 7 -2t7 -4M616 1109q-4 5 -2 11t-10 4M890 1029q6 -3 11 0t11 1M1793 543q4 6 9 0t8 -1M880 1037q2 -7 -5 -9t-8 -7M1645 698q8 7 13 -3t13 -2M1609 715q0 4 1 7t5 5M887 924q-4 6 2 12M1256 901q5 -5 4 -12t3 -13M1605 655q-1 -6 0 -13M1354 753q-5 -3 -8 -8t-11 -2M1578 743q-4 2 -7 3t-6 5M741 1086q-1 5 -1 11t0 11M1675 695q4 6 -1 11t4 10M674 1123q0 -6 -3 -12t-1 -12M1767 668q3 -5 0 -10t8 -6M1430 826q3 5 6 9t-4 10M1897 568q6 -1 9 -6t7 -8M1515 674q1 4 -2 7t-1 7M1756 636q-1 -8 7 -10t11 -5M511 1174q-5 -3 -8 2t-7 -3M1224 829q-4 3 -10 5M1659 665q-5 6 -7 -1t-1 -7M1346 768q4 1 5 6t3 7M1225 840q6 1 8 -5t10 -2M1358 816q6 0 11 -1t10 -6M1068 898q5 -2 11 0M1205 855q2 -5 4 -10t-1 -10M1586 737q6 -5 10 1t8 6M1561 711q4 -1 7 -4M1189 897q4 0 7 -3t7 -2M1069 853q7 3 10 -3M1745 671q6 -3 4 -9M1624 630q5 2 10 2t10 1M893 935q0 -5 5 -6t8 -3M722 1070q-4 -4 -10 -1t-10 -2M1459 778q5 -5 12 -5t8 -10M1607 753q8 -3 10 5t10 -3M899 972q-4 10 -12 3t-12 -3M1196 812q-4 -3 -9 -5M457 1173q-1 4 -4 6t-5 6M699 1025q5 4 11 7M1797 672q4 1 9 1M1671 678q-5 -1 -10 -2t-4 9M654 998q-6 3 -9 -4M1324 880q-2 -3 -4 -5t-1 -7M543 1095q5 -3 9 2t7 -6M1260 782q2 8 9 6M1712 587q-2 5 -7 6t-7 6M1877 636q-1 7 7 9t-1 11M1813 620q-4 -3 -8 -2t-8 -2M1310 908q-11 -5 -1 -12t-8 -8M1469 731q3 6 8 3t9 0M1019 888q-8 2 -4 9t-7 8M1587 733q-1 5 -7 6t-6 7M1877 644q-6 2 -11 6t-12 2M1010 986q4 5 11 4t11 -4M1669 597q4 3 9 0t9 -1M1693 629q-5 1 -8 4t-8 -3M1647 653q0 -7 6 -7t6 -7M1725 692q1 5 5 7t7 6M584 1119q-4 7 -12 5M698 1053q9 1 7 -8t3 -11M1633 709q3 -4 1 -8t3 -7M1215 841q1 -5 -3 -8t-5 -7M1110 926q-6 -5 -12 -1t-11 3M1635 674q-4 -2 -6 -5t-3 -7M1580 691q-4 -1 -8 -3M1257 802q-3 -3 -5 -7M740 994l2 -6M615 1013q-5 -1 -10 -1M678 1007l-5 1M1367 717q2 5 -3 8M1766 584q-4 1 -8 1M632 1012q-4 2 -7 2M1065 841l1 5M1209 792q-3 3 -8 3M853 932q8 5 0 10M835 932l4 -2M370 1127q-5 -1 -9 -4M726 985l-3 -4M629 1029q5 -2 9 0M943 893q5 -2 9 -5M1601 628l2 -7M1800 554l4 2M622 1035q4 0 8 -1M1449 679l4 -3M950 887q3 2 5 5M1440 711l-4 1M1895 510l-4 0M821 958l-3 -6M1903 522q-4 1 -8 -1M1565 659l3 -3M1059 848q-5 -2 -3 -8M1394 732q2 -8 -7 -8M1099 835l6 1M519 1059q2 5 5 9M482 1082q1 5 7 3M1179 824q5 -2 4 -7M1352 716l5 -4M1162 823q-3 -4 -8 -1M1484 676q-5 -2 -8 -7M484 1081q8 3 9 -5M764 962q-6 0 -9 4M1793 553q5 3 8 -2M1201 815q-2 -4 -6 -8M1491 689q-4 -2 -9 -2M1295 779l2 -5M1491 684q-5 0 -8 -4M1259 783l-6 -3M1751 579l3 -6M502 1072l-3 -6M1419 708l5 1M1054 860q5 3 1 8M1680 598q1 -5 1 -10M356 1109q-4 2 -6 7M801 949q0 -6 -6 -9M1038 886l6 1M1631 625q5 0 9 3M891 926q-3 -3 -3 -8M856 933q-5 2 -6 8M1653 606q-4 -3 -8 -3M523 1079q7 1 8 -6M1745 571l6 -1M1106 856q5 -2 9 -5M1952 465q4 9 -6 8M926 913q0 -6 -5 -8M1262 800l3 -5M1016 889l-4 -4M1492 701q3 -4 7 -7M716 996q5 -1 9 1M774 985l-2 -5M1668 611l-5 -2M668 973q-5 1 -5 6M1138 825q4 -2 9 0M1120 847l-3 -2M1576 627l-3 -1M1395 697q4 1 8 -1M1239 801q-1 4 -3 8M1832 524q-4 3 -7 6M929 897q3 -5 9 -4M859 951l4 -5M513 1067l-3 3M1205 813q3 7 10 3M1822 535l-4 0M836 924q2 6 9 5M1872 527q-3 -3 -7 -5M953 900l2 7M1925 487l3 2M1304 765q-3 -4 -7 -7M1429 698q-4 4 -2 9M1867 516l-2 4M1702 603q-4 5 0 10M1008 895q-4 4 -9 2M926 914q4 3 8 6M981 895q-5 -2 -10 1M492 1065l-2 -3M1678 604l-1 6M1035 880q-4 1 -8 -2M1581 613l4 4M1494 688l-5 3M411 1076q1 3 4 6M1319 755l-4 1M1532 671l1 4M1297 765l1 6M1420 726q-4 1 -8 0M1321 759q4 2 7 5M586 1060q1 -5 5 -7M1570 605q4 0 8 -1M373 1131q-6 0 -9 -4M732 989q2 -5 7 -3M912 935l-6 2M1145 845l-4 3M1944 488l4 -1M468 1084q3 4 9 4M662 1015q-3 -5 -1 -10M1341 725q-5 3 -11 0M636 995l1 -4M901 936q2 -7 -6 -8M1162 824l-2 4M744 998q-3 -6 -10 -4M1196 818l-2 6M1235 817q6 1 9 -5M1183 809l5 4M1284 791l-6 -2M628 1012l-7 0M1536 669l2 3M1059 867q-3 5 -8 6M575 1048l3 -3M1462 666l5 -3M1118 849l5 3M1175 825q-5 2 -9 4M948 901l6 0M594 1044l5 2M394 1107l-4 6M1550 659q-2 5 -1 11M1331 761l0 7M1549 622l7 0M1931 493l-1 -5M1749 582q5 -1 5 -6M604 1032q6 4 0 8M1123 852l-1 -4M651 1023q4 2 8 5M418 1106q-3 2 -7 2M1269 790q1 5 -3 7M889 932l6 3M600 1035l5 4M1676 621q0 -5 4 -7M758 986q-3 2 -7 2M1474 691l-3 3M1144 831q-3 5 -9 4M936 895q-5 4 -4 10M534 1048l3 2M1478 707l-5 2M882 929l5 0M992 889q4 -1 7 -5M524 1064q5 4 3 9M1279 788q3 3 7 3M366 1117q2 -4 2 -8M1641 617l4 4M1553 667q4 3 7 -2M696 982l1 -6M1740 588l2 -4M1092 860l-5 -1M1903 520q4 1 8 -2M1713 564q6 -1 5 -7M1358 746q3 4 8 1M517 1064l3 -6M908 935l-5 -1M1722 601q0 -5 -1 -9M1737 574l-4 1M1469 700l-2 -3M692 972l1 -3M592 1028l-5 2M722 993q1 6 7 5M1479 671q-3 3 -6 6M1126 837l-6 -1M873 939l4 1M1226 815q-4 0 -8 1M1840 510l5 3M1093 856l-3 6M1656 606q3 -5 9 -6M591 1049q-4 -4 -6 -9M997 893q-2 -5 2 -9M1392 737l4 -5M1718 574l-3 -3M1658 626l-2 4M470 1073l-4 -5M465 1101l-4 -6M1630 605l2 -7M529 1046q1 -4 5 -6M665 1007l4 1M925 918q3 5 -3 7M1403 724q-4 2 -7 4M1296 764l3 -2M824 948q1 -4 0 -8M1594 654q-2 -6 -7 -5M1557 664l-1 3M1713 557l5 0M688 972q-4 -5 -8 0M1637 580q4 2 8 4M849 959q2 -5 7 -4M1069 881q1 -6 7 -7M1323 741q5 0 9 3M580 1031l-1 5M1358 714q2 -5 6 -8M1426 716q-2 5 -6 9M1567 612l-6 -2M1555 620l-2 4M1639 614q-5 2 -9 -1M1598 650q0 -5 -2 -9M1058 865l2 6M1212 807l-1 -6M844 944l2 -5M1261 805q-5 -1 -10 1M537 1045q-2 4 -6 6M1395 736q-3 3 -2 7M735 994q5 -2 6 -8M1269 769q-4 -3 -7 -7M1878 481l3 -4M1537 644q3 -4 2 -9M1094 859q3 -7 -5 -9M1772 571q0 4 2 9M477 1082q-6 0 -10 -5M485 1090q7 -4 1 -9M835 939l-4 1M1709 590l4 -2M1825 515l-6 2M1370 749l3 -3M1430 679q-1 -4 1 -8M1158 834q-4 5 -9 1M580 1059q2 -5 7 -8M1063 861q-2 -5 -1 -10M548 1048q-6 -6 -10 2M845 943q-2 -3 -2 -7M1011 891q-1 5 -4 9M365 1126l1 -4M1556 650l2 -6M1304 773q3 6 9 2M548 1034q4 -2 9 -3M1897 518q-3 -2 -7 -3M909 908q-3 5 -9 5M1881 493l7 0M1497 680l3 4M1573 650q3 -5 1 -10M835 928l7 0M1248 798l5 0M1201 801l-5 -1M1469 704q-6 -2 -4 -8M1400 722q-2 -4 -2 -9M1679 601q3 -2 8 -2M936 901l-6 -2M517 1060l-3 -4M625 1021l-5 3M1045 886q-5 -1 -8 3M847 932q5 -3 9 -6M377 1102l5 5M1326 758q7 -6 -2 -10M1663 609l5 1M1806 528q6 2 3 7M1074 861q6 3 9 -3M1487 664q-3 4 -8 6M1817 554q-6 2 -9 7M641 1016q-7 -1 -6 -8M526 1059q3 7 7 1M788 975l-7 2M991 895l-3 5M375 1124l3 -5M387 1111q-6 2 -3 8M956 916q1 -7 8 -6M917 897l-1 7M1083 865l-4 6M846 932q-2 -4 -6 -4M1905 482q4 -2 6 -7M1516 689q-5 -3 -4 -9M386 1092q0 6 -7 6M1153 836l3 -4M1913 508l-3 -2M1810 544q-2 -6 -7 -3M1434 657l0 5M1853 518l-2 6M536 1054q-1 6 -6 6M1320 770l-3 3M1287 788l-4 -2M1698 601q0 -5 2 -10M601 1025q5 -3 3 -8M496 1082l4 3M980 901l-2 6M1280 797q3 -4 -1 -8M1304 773q-4 2 -8 0M495 1087q0 -4 1 -8M1013 881q5 -3 9 2M369 1107q-2 -5 -3 -10M1383 710l-2 4M1616 644l-5 -2M860 942l0 5M607 1044l-4 -1M515 1075q5 2 8 6M557 1064l4 -4M650 995q3 3 7 2M441 1108l-2 -4M701 1007l1 3M697 970l6 -3M475 1092q4 0 9 1M1820 545q-2 5 -8 5M431 1100q-1 5 4 7M1363 719l-3 2M1944 493q4 -1 9 -3M638 1021q1 6 -6 7M1464 703l6 -1M1469 677l1 -4M768 968l3 -3M386 1109q-1 4 -4 8M689 1004q-9 3 -1 8M441 1083l3 2M1291 783q3 -3 6 -5M379 1121l-4 0M1275 764q5 -9 9 1M1394 733l-3 -3"/>
<path stroke="#d8381a" stroke-width="2.5" d="M1326 763q-8 0 -10 7t-11 6M1689 601q-6 -2 -10 4t-10 3M1180 814q5 0 9 -1M1259 786q-2 4 0 8t0 8M467 1170q9 -1 7 8t-3 10M1041 900q-7 0 -12 -3t-12 3M1728 689q8 -2 8 7t4 10M1888 533q7 -5 2 -13t-4 -12M1597 749q-2 -6 3 -11t3 -11M1539 702q-4 0 -7 -2t-7 -2M787 1073q-4 -1 -8 2t-8 1M381 1132q2 5 7 5M1040 975q1 4 5 6t8 3M1364 765q-3 4 -6 9t-5 9M1364 783q-7 2 -13 -3t-13 2M1898 534q3 -4 8 -4M1616 721q-9 -13 -13 2t-12 3M1672 594q3 -2 7 -1t6 -3M1055 981q4 -2 8 -1t8 0M1487 796q-7 2 -9 8t-12 3M657 1011q-5 1 -9 2t-4 -8M1656 676q3 -5 9 -7t10 -6M1599 651q5 1 9 -1t9 -2M1470 782q-7 5 -3 12t-2 12M484 1094q6 4 9 -3t9 -3M924 924q6 3 6 -3t6 -3M463 1201q-4 0 -7 -3t-8 0M1086 952q10 4 9 -7t11 -2M1599 687q-7 6 -7 -3t-7 -3M1636 604q7 7 13 0M1926 496q-3 -5 -4 -11M1046 974q3 -3 6 -5t-1 -8M398 1125q1 4 1 8t-4 7M1761 681q-7 -5 -11 3t-11 2M1457 802q4 -4 9 -3t7 -7M618 1073q-10 2 -9 -8t-10 -5M888 967q4 -3 3 -8t2 -8M1876 640q-4 -4 -9 -2t-7 6M1818 649q-6 -2 -8 4t-8 4M1626 675q3 -5 5 -10t5 -10M1684 619q-4 -3 -5 -7t-2 -8M1699 690q6 -2 10 3t10 5M1595 764q-5 3 -10 7t-9 -7M764 1075q-5 1 -10 4M1709 653q2 -6 -5 -8M1596 654q-1 -4 -2 -9t-3 -8M776 1010q1 3 1 7t-3 6M634 1086q-5 1 -10 0t-9 -2M1092 943q6 -1 11 0M1022 1003q-5 6 -12 3t-11 5M683 994q2 5 -3 8M882 1016q6 3 12 2t12 2M444 1090q3 1 7 -1t4 -5M738 1109q-6 5 -12 -1t-10 -6M962 918q4 -4 9 -3t9 3M683 1053q6 2 10 -2t10 -1M1344 832q6 -1 11 -4t11 4M832 976q-5 2 -9 -3t-8 -4M1469 765q-10 4 -2 12M1685 696q3 -10 10 -2t7 -7M1276 796q4 6 7 0t4 -6M1945 603q-7 -1 -12 4t-6 11M404 1097q8 1 7 9t8 8M1565 669q4 -3 1 -8t4 -7M1690 698q8 -1 10 7t10 5M1008 951q2 -4 2 -9t-1 -9M1682 602q3 3 3 6t4 6M1683 663q-4 5 -9 6t-10 4M1622 697q1 -8 -7 -8t-9 -7M1364 780q6 -1 12 -2M1651 628q-2 -5 -8 -7M711 1011q2 6 7 9t9 8M1616 685q4 3 9 0M1200 804q4 4 6 10t4 10M505 1163q-3 1 -6 2t-4 5M1917 549q-5 -5 2 -7t1 -7M881 1016q-5 -5 -2 -11M1764 626q-4 2 -4 6t-6 4M562 1163q2 -4 4 -7t6 -6M1451 779q4 -5 4 -12t6 -11M690 1058q2 3 3 7t-3 7M1486 694q2 -6 -1 -12M1877 521q-6 2 -4 8t-4 8M1512 702q6 7 8 -2t9 1M762 954q5 -3 11 -1M525 1133q7 -1 9 -9M645 1001q6 1 6 7t6 6M1168 875q7 -2 3 -9t8 -5M1778 612q4 3 8 5t8 5M1665 615q5 4 0 9t0 9M1178 833q-5 -2 -9 2M915 922q5 -2 8 -5t8 -5M1274 893q2 -11 -8 -6t-10 -1M672 1108q-3 5 -9 6t-11 1M1687 609q4 0 6 -2t5 -4M1162 839q-5 0 -10 -1M1285 853q-4 9 5 10t-1 11M1764 673q4 0 7 -3t7 -3M1416 749q-4 7 -11 2t-11 1M1198 893q4 -1 4 -5t-2 -7M1798 596q-6 9 -13 0t-12 -5M1193 876q-1 -12 10 -7t3 -12M1182 837q-3 -4 -5 -9t-6 -8M450 1192q0 -6 4 -10M1489 810q-4 6 -1 13t-4 12M1054 981q-2 3 -6 2t-6 1M1667 708q-2 6 -8 5t-5 8M1565 757q-3 -2 -7 0t-4 -6M1452 742q4 0 8 0t8 2M474 1191q4 -4 9 -2t9 -1M1304 884q-4 3 -10 2t-9 4M1610 631q2 -5 7 -8M529 1146q3 -7 -4 -10t-2 -11M1211 795q5 1 5 6t5 6M784 1062q6 2 12 3t11 6M1854 559q-6 -9 -11 1t-10 3M1200 871q-5 -1 -9 -5M1982 608q8 -6 0 -10t4 -9M1594 648q-1 -5 -4 -9t-6 -8M628 1068q-3 1 -6 3t-7 1M1217 865q-13 -1 -5 10t-11 2M1653 700q4 -6 8 1t8 2M1726 666q3 6 -4 7t-6 5M1272 895q6 -3 11 -6t11 -6M1564 689q7 -2 7 -9t8 -7M1784 643q-8 -1 -6 -9t-10 -4M1090 902q-4 5 -6 10t4 11M915 919q-5 1 -10 -2t-10 3M1465 833q-5 3 -10 -1M978 970q-3 2 -7 1t-6 -3M405 1144q1 -4 4 -8t6 -6M1751 678q-6 12 -12 0t-10 7M527 1143q-3 -5 -4 -10t-9 -6M1884 580q4 -7 9 -2M954 907q-2 -3 -6 -3t-6 -3M405 1102q-4 -3 -10 -3t-10 -3M1540 751q1 -4 5 -4t5 -4M419 1125q-12 -3 -9 9t-9 9M1788 614q6 -3 7 4t7 2M1810 649q-8 3 -2 9t1 9M626 1108q-5 -3 -1 -8M465 1132q5 1 6 -4t7 -2M1997 524q-4 -3 -8 -4t-7 -6M1799 617q2 7 -5 6t2 8M1974 537q-3 -2 -4 -6t-6 -4M1721 674q5 -3 10 -3t8 -8M817 1012q0 -9 9 -9t12 5M842 1062q-4 -3 -8 -7M705 1105q-5 5 -5 12t-7 11M1844 645q4 9 -5 10t-8 8M739 973q-5 -4 -3 -9M1883 528q0 -6 -6 -8M1861 650q4 3 4 8M1476 713q3 -3 6 -8t4 -8M1032 929q4 -3 2 -8t6 -4M1472 690q5 3 8 9t7 10M1236 899q-6 -1 -12 1M1107 928q-9 2 -5 10t-10 5M1679 643q-3 -4 -8 -3t-6 -6M1678 699q-3 0 -7 -1t-6 3M1492 806q-6 1 -10 5t-8 7M1330 865q-6 -3 -1 -7t2 -7M1893 532q-5 1 -8 5t-7 6M1343 803q6 0 11 -4t12 -3M478 1181q6 3 11 0t11 3M1915 485q-3 7 4 10t-7 8M738 1080q-3 -5 -7 -10M1595 724q0 4 0 8M1505 816q4 -2 6 -6t7 -5M1869 633q-1 5 -5 9t-5 9M1038 936q-7 -1 -7 6M1336 768q-5 -3 -8 1M1080 969q0 -6 -6 -7t-9 -3M1043 936q7 7 12 -1t12 0M1784 695q5 0 10 -2M1838 622q1 -7 6 -2t5 -4M1333 863q0 -7 -7 -5t-8 -3M1931 476q-5 -6 -11 0t-8 -8M1222 906q1 -5 4 -9t4 -9M765 960q-8 0 -9 -8t-1 -12M1571 682q5 -5 10 1t10 1M1991 534q4 14 12 2t12 -1M1720 636q-6 -2 -9 5t-8 6M1228 812q0 4 -3 7t-4 6M1301 835q-2 4 -7 2t-7 1M1552 639q6 5 1 11t0 11M1783 655q1 6 7 6t6 7M1547 690q-7 -3 -2 -8t-7 -5M1516 723q-4 -7 -12 -3t-12 -4M1699 674q-6 0 -12 2t-11 -3M711 1033q-5 -2 -10 1t-5 8M1546 642q2 8 9 4M1956 483q-2 4 -6 6t-8 3M972 944q-9 2 -8 -7M566 1103q5 -3 8 -6t9 -5M631 1131q4 5 10 2t10 -1M777 968q-6 0 -8 -5t-9 -2M551 1134q5 -2 10 -1M1005 963q6 1 8 -4t3 -8M1572 669q5 4 8 10M1768 664q-7 1 -12 6t-13 -1M1604 648q-3 -1 -6 -2t-7 -1M464 1185q-4 -6 -12 -5t-13 0M1317 856q4 7 -3 11t6 10M1480 748q-5 -3 -11 0M1612 668q5 -1 10 -1M912 1049q0 -4 -3 -7M992 967q4 6 11 3t11 4M1722 693q5 0 10 -1M1811 664q-6 -1 -8 -6M936 918q2 12 11 4t4 11M1282 878q-3 -6 3 -9t1 -10M1229 902q-5 -1 -8 -5M1785 617q8 6 -1 9M1008 1004q5 1 9 5M1088 944q-1 6 -2 11t-5 10M601 1131q5 -1 7 -6t8 -5M1278 838q-1 7 -8 5M1796 535q5 2 5 7t8 4M1219 791q-7 3 -3 10t-5 9M1392 855q5 -2 5 -7t2 -8M1536 663q-10 -4 -1 -9t-8 -5M509 1176q-6 3 -11 -1M1611 656q5 9 -5 12t-1 13M970 927q2 6 -3 9t0 9M1521 684q-4 -4 -7 1t-7 -1M1350 864q-2 -8 5 -11t6 -11M1720 589q3 -2 8 -3t7 -4M1110 846q-2 -6 4 -5t6 -4M1712 594q-5 6 -12 5t-9 10M1118 871q0 -7 -7 -7t-9 -3M1970 508q-5 0 -9 3M1699 717q-2 -5 0 -10t-4 -9M1644 660q-6 -4 -9 2t-9 3M1905 630q4 -1 4 -5t6 -3M1877 648q-6 3 -12 2M487 1189q2 3 4 6t7 2M950 1005q6 -4 10 2M579 1116q7 5 13 -1M1310 855q-8 2 -11 -5t-7 -10M1243 889q0 6 -3 11t-5 10M1466 824q-7 -4 -12 2t-9 -8M1423 825q6 -6 -2 -9t-3 -8M1809 681q1 -5 -1 -9t-1 -9M1800 641q-2 4 -6 6t-8 4M1258 816q6 -2 10 -5M1274 800q-2 4 -4 9M1667 717q-5 -1 -7 -5t-9 -3M1248 891q-5 2 -9 -2M1128 862q-8 -2 -5 -10t5 -10M1828 574q-2 4 -2 9t2 9M945 911q0 7 6 6t3 8M1642 664q-2 -3 -3 -7t2 -7M1157 852q-7 -12 -12 1t-10 5M1885 569q-1 -6 5 -6t6 -5M1066 956q5 1 6 6t8 -1M946 1012q-1 -6 3 -10M1996 522q2 6 8 4t7 5M984 944q-7 -1 -7 6t0 9M1607 653q-5 -7 -9 1t-9 -1M879 952q3 5 7 10t12 4M541 1095q0 5 -2 9M1631 670q0 6 -1 12t-9 8M872 968q-2 5 -5 9t-8 5M1756 675q8 -2 7 -10t11 -6M810 982q-2 3 -3 6t0 7M860 1030q6 -2 6 5t-1 8M1741 602q3 6 9 8M487 1089q0 -3 -1 -7t4 -6M1053 973q-6 -2 -4 -8t-3 -9M1535 700q4 -5 8 -9t10 -7M1582 744q4 2 8 0M1712 567q8 1 10 8t10 8M1815 648q5 1 9 2t9 -1M417 1121q5 -6 1 -13t-5 -12M531 1162q-6 -3 -10 -8t5 -11M1547 793q-6 -4 -6 -11t0 -13M1227 907q-5 2 -8 7M2016 571q7 -1 8 -9t2 -12M726 1008q-5 -3 -10 1t-10 2M1822 595q-5 2 -8 7t2 10M377 1141q0 -6 4 -11t6 -10M1867 558q-3 5 -9 6t-6 8M1903 561q-11 0 -6 10t-6 9M971 944q2 -10 -7 -6t-8 -4M1551 733q3 -3 7 -3M973 961q0 4 4 7M864 1034q9 1 8 -8M993 988q5 -2 11 -2t9 7M1100 951q5 -5 5 -12M1670 657q8 -9 12 3t13 1M1033 958q-1 5 4 7t0 8M1215 901q-6 1 -8 7M1757 669q5 -6 0 -11t10 -5M1579 673q-3 6 -8 9t-7 10M1623 682q-3 -5 -8 -2t-8 -1M1514 663q8 -1 5 -7t-6 -6M1858 645q0 5 -4 8t-4 8M1530 690q-6 7 2 10t-6 9M1025 915q1 -4 0 -8t-4 -7M958 991q-7 -1 -13 2t-10 -8M517 1078q-2 5 3 8M812 1087q4 -4 8 -7t9 -6M963 916q-2 -5 3 -8t4 -7M952 944q5 9 8 -1t8 -2M1906 476q5 3 11 1t2 11M1913 546q4 4 9 8t7 10M605 1110q6 2 11 -1t9 5M1852 518q4 5 7 11t-2 13M482 1110q1 5 4 10M931 1041q-5 -2 -2 -7t2 -7M1583 710q9 9 11 -4t9 7M949 912q-4 -5 1 -9t-3 -8M1736 673q-3 5 -5 10t1 12M1209 839q2 6 7 10M1223 894q6 2 11 -3M1221 871q-4 0 -6 -3t-7 -2M1749 677q4 -2 8 -1t8 0M838 1028q4 -3 3 -8t8 -4M1131 841q2 -4 2 -9M1230 809q-3 -6 3 -8M1030 967q7 -2 7 -10t12 -4M1007 969q3 4 7 3t8 1M1172 835q-5 -7 -13 -2t-13 -1M724 1072q-3 -2 -5 -6t-4 -7M1903 552q1 5 -2 8M539 1089q5 0 8 3t8 3M1270 850q3 -4 8 -6t5 -8M1637 618q-1 -5 2 -8M1835 530q4 2 8 3t9 -2M485 1158q-5 3 -7 8t-7 9M1704 685q2 -7 8 -3t8 -3M366 1131q10 -1 4 -9M390 1099q-2 6 4 5t3 6M1160 914q-5 -3 -12 -3t-11 4M1439 739q-6 2 -6 9M1675 626q8 -6 -1 -10t-9 -6M1048 968q-4 4 -8 1t-7 5M1683 683q0 -5 -5 -8t0 -10M1907 565q0 6 -6 7t-4 8M816 1027q2 4 -1 7t-4 6M1114 977q-9 0 -6 -9t-10 -5M835 1013q0 5 -3 9t-5 9M1619 613q-2 6 -8 8t-7 8M593 1102q-6 2 -12 -2M1549 656q0 5 -2 9t4 8M1799 627q3 7 -4 11M783 1003q3 -6 10 -7t12 -3M1606 764q-1 -7 -6 -11t-9 -9M1637 675q-7 -3 -11 4t-5 10M1883 543q4 -3 6 -7t-3 -9M1291 850q3 5 8 6M1620 647q5 -2 9 2M1090 978q-4 7 -12 6t-4 12M1057 965q-5 2 -3 7t-2 7M1214 811q1 -6 -5 -6t-5 -7M1601 624q-4 3 -4 7t-1 8M1646 702q-2 4 -5 6t-7 3M1989 522q2 3 3 7t0 7M1684 632q6 -3 12 -2M1191 860q1 5 -1 10t-4 9M1196 846q-6 -1 -6 5t-7 3M1638 649q-2 7 3 11M1589 686q0 -4 3 -6t1 -7M1072 988q-3 -6 -7 0t-6 4M965 980q6 3 6 10t4 11M1840 582q5 -5 4 -12t-3 -12M1918 497q1 4 0 7t1 7M473 1098q7 0 12 3M1968 576q0 -10 10 -7t11 -6M1828 630q-3 -1 -7 -1t-6 -4M1051 895q1 7 8 5t9 -2M661 1124q-3 3 -7 1t-7 -1M731 1074q-9 1 -10 -8t-12 -4M1863 635q5 -1 11 -1t10 -2M1833 566q4 3 2 8t4 8M1592 655q-2 -6 -8 -7t4 -10M1566 625q5 -2 5 -7t6 -6M697 1034q4 -2 7 0t7 1M1304 745q3 1 6 3t1 6M1084 965q1 -6 5 -11t5 -11M1395 769q-1 -6 2 -10t1 -11M419 1145q-8 -1 -7 7M1505 705q2 3 4 7t4 7M1792 647q-8 -10 -13 2t-13 1M848 1009q3 9 11 4t9 8M1692 586q0 5 -5 7t-8 -1M1713 604q5 -2 9 0t9 -1M1013 927q5 0 8 -4t9 0M1218 795q4 0 6 3t7 2M1905 485q-3 -4 -2 -9M1459 691q-1 4 -4 7t-2 8M1571 700q-13 10 -11 -6t-13 0M1929 504q6 -2 4 -8t9 -1M1043 894q1 7 -3 12M1597 723q-6 9 -12 0t-9 7M1460 787q-4 3 -10 1M1448 767q3 -6 9 -9M919 936q-5 -2 -8 2t-5 6M1918 576q-1 -5 3 -8t-4 -7M1691 686q3 3 5 7t3 8M1216 815q-5 0 -6 5t-8 0M1277 796q-5 3 -8 -2M1554 660q5 -4 2 -9M1863 644q3 -3 7 -4t6 -5M1834 533q-1 4 -4 7M915 925q6 8 11 -1t11 0M1784 691q-7 4 -11 -2M1503 663q6 5 -1 9M645 1091q6 0 12 1M1852 610q1 9 -8 8t-6 9M772 994q-7 0 -7 7M1267 798q5 -1 8 2t8 -3M406 1150q2 5 6 7t5 8M1318 847q2 -7 10 -7t-8 -9M1145 887q-5 4 -4 11t-8 8M1913 531q-2 6 -2 12t1 12M1121 890q5 -6 10 1t9 2M1393 752q-6 -3 -12 -3t-12 2M1664 645q5 -6 -1 -12t5 -10M1884 532q-2 -8 5 -12M1871 511q-1 -7 5 -9M1076 952q1 -5 6 -8t9 -4M806 944q8 -1 10 7t12 0M1475 813q5 2 9 2M1271 876q-2 4 -7 6M1255 901q-3 2 -7 0t-7 1M1674 618q3 3 5 7M1013 894q0 4 0 7t-3 6M763 1070q4 3 9 1t9 2M1791 624q7 -1 7 -9M1898 576q-5 1 -6 6t-8 2M1749 630q8 2 11 -5t12 1M1473 779q5 -8 12 -2t12 -3M1985 521q-4 3 -6 -2t-6 -2M1205 917q8 1 6 -7t1 -9M1007 953q2 -4 4 -7M1465 720q-5 1 -11 0M1289 876q-2 6 -8 9t-9 9M797 997q0 5 -3 10t0 10M1124 873q9 -2 4 -11t-4 -11M1845 634q4 -5 5 -11t-5 -11M1842 587q-4 -5 0 -10t2 -10M1836 642q4 2 9 3t9 -2M1818 612q4 -2 8 -5t7 -5M622 1124q7 5 11 -2t10 -5M678 1008q-2 -10 -10 -3t-10 -3M1105 857q2 -4 6 -6t7 -5M493 1077q-6 1 -12 3M1553 725q3 5 7 2t7 1M1284 851q1 -9 -7 -9t-5 -10M1685 715q1 -5 -3 -8t-2 -9M1777 652q3 -3 1 -7t3 -6M1625 640q-3 -5 -1 -11M593 1055l4 -5M969 890q3 7 -5 9M1573 640l3 -6M909 920q4 6 9 1M369 1102l6 -4M1597 637q2 5 5 9M1327 761l3 -3M724 965q-4 -3 -6 -7M790 952l0 7M816 969l5 0M670 992l-4 5M1081 868q4 -3 8 1M1078 862l1 -5M429 1091q2 5 8 4M1434 693l-2 -3M1310 757l-2 4M1782 566l-3 -2M1779 564q0 4 -3 7M1732 601l-2 -7M1206 820l4 -6M585 1042l4 -6M1497 694l6 1M430 1101l-5 -2M483 1095q2 -3 2 -7M1116 854l2 -4M488 1078l-3 2M1904 519q-5 1 -8 -2M1212 795l6 -4M465 1093q0 -5 2 -10M1619 638q0 4 -1 7M1917 470q-5 4 -11 2M962 907q-7 1 -9 -5M656 997q-2 8 7 8M1410 683q-5 2 -9 5M633 1018q1 5 -4 6M1796 518q2 -6 8 -3M626 1018q-4 -8 5 -9M1823 540l5 3M961 890l5 4M575 1061q-6 -3 -4 -9M1823 547q-1 4 -5 6M639 1009q-3 4 -7 2M557 1026q-2 6 4 7M1449 709l-1 5M1515 660q5 4 2 9M1560 647q-2 -4 -6 -7M505 1083l-4 5M984 906q-4 0 -6 4M523 1055q-8 2 -5 -6M1633 626l-4 0M1532 654l0 -5M611 1031l6 4M1643 599l-3 -3M1920 478q1 4 5 6M1931 468l4 1M1671 612l-1 4M379 1112q5 1 9 -1M458 1069q-5 -2 -9 -5M1218 821l-5 -5M1902 488q-2 -5 -6 -9M811 948l-5 -1M802 955q-7 0 -8 7M910 890l-5 4M1101 838l-6 0M852 929q1 8 8 4M413 1093q-5 -1 -9 -3M547 1061q5 1 9 5M1516 645q4 3 7 8M509 1066q3 7 9 3M1900 480l-2 6M655 996q5 -3 8 1M1506 688l4 -6M1686 590q5 4 10 1M1415 722q4 -1 7 -4M1774 569l7 0M1537 668l-7 1M498 1069l7 0M880 913l4 4M672 979q-5 -5 -10 0M482 1092l-2 -6M773 961l-1 -5M942 889q0 6 5 6M504 1065q3 -2 7 -2M1772 564l-6 -4M1550 655q4 2 8 0M624 1036l1 -4M1112 851q-3 3 -2 7M436 1093l4 5M1288 772l-2 4M1300 772q1 -7 -6 -5M1030 882q6 3 10 -2M1890 516l0 6M1856 542q1 -6 5 -9M1508 693q-5 0 -10 0M1637 630l3 4M493 1073q-2 9 -8 2M526 1063l-5 -1M1776 572q-4 2 -5 6M1371 708l-3 4M442 1105l4 0M1322 755l5 1M1696 587l-5 -5M1051 877l-1 -5M977 904q-3 3 -7 3M549 1038q6 5 -1 10M1674 622q0 5 -4 7M672 984q-4 -3 -10 -4M1345 735q5 2 9 -2M368 1125q4 2 7 1M1387 711q-5 -1 -9 0M707 998q-2 -6 4 -7M926 915l-4 -1M1026 882l4 4M1938 500q-3 3 -7 4M1102 852q-3 -7 4 -10M1397 702q-2 3 -5 6M466 1075q-5 -2 -10 -3M981 912q-6 1 -7 7M1280 787q-4 0 -7 -2M1204 803l-4 1M1289 760l2 -5M523 1061q5 1 7 4M518 1065l6 -1M1443 692q5 2 8 6M1020 874l-5 3M524 1070l-4 1M679 1011q0 -4 -1 -9M1705 606q-6 -2 -7 -7M607 1008l7 1M1546 668q-4 -3 -9 -3M441 1089q10 -3 1 -8M1082 860q-3 -5 -7 -2M1281 788l2 -4M853 953q-5 0 -8 -3M1401 704q-5 4 -10 1M897 908q7 1 6 -6M1483 697l-4 5M1251 802l-1 5M1475 681q-2 5 -7 4M1313 771q1 4 0 8M1042 872q-5 -7 -11 0M1285 776l5 -2M1598 625l2 -3M1642 617q4 -4 9 -2M1279 797q-8 -1 -6 -8M1813 530l-2 6M1150 834q2 -6 7 -4M1293 753q5 0 8 3M1783 545q4 -4 8 -6M1793 547l2 -4M1778 545q6 4 2 9M949 903q6 -3 2 -7M1330 753l6 2M1149 831q5 -2 10 -3M1639 624l3 -2M806 941l-4 -2M1580 647l6 -2M1788 560l-6 -2M1559 629q0 4 2 8M1587 653q1 -5 3 -8M770 980q-2 -7 -9 -4M499 1090q-7 -3 -2 -9M1178 818q-6 0 -7 -6M1951 475l1 -4M434 1096q3 -7 -5 -9M671 1014l-2 6M548 1051l-7 0M1882 504q-1 4 1 8M830 925l-3 3M1050 879l1 -5M1361 741l2 -3M562 1054l-4 0M504 1065q-3 -4 -7 -7M1940 499q-6 2 -5 9M1834 547l-4 2M1932 474q-4 3 -3 7M932 886l-6 -1M1525 648l-3 3M1910 502q3 -3 1 -7M1582 606q5 2 7 6M871 936q-1 4 0 8M682 1020q-5 1 -8 -3M1287 782l-6 0M1043 878l4 -1M1146 844l1 4M1624 632q1 -5 4 -10M959 881l4 -2M1472 676q-2 8 6 6M1554 659l-5 0M664 1005l-4 2M1010 880l0 6M1802 525l4 3M780 962l-4 3M752 977q6 -1 4 -7M1854 535q7 -3 5 -10M1600 618l0 -7M412 1115q4 -3 8 -6M639 1034l-4 -3M546 1059q-2 -5 -7 -3M1652 614q4 -2 9 -3M1158 840l-5 -4M1282 769l-5 -1M977 903l5 -5M741 974l7 1M1736 561q-6 0 -8 5M634 1013q1 5 4 9M1100 840l2 -5M1679 613q4 0 7 1M702 990l-2 5M362 1118q1 4 3 8M1329 749l-5 -2M1400 728l-6 -2M575 1027q-4 2 -9 2M512 1064l6 -1M981 906l-5 -4M1838 521q5 -1 10 -3M554 1053q2 6 -4 9M528 1068q4 3 9 0M429 1105q-4 3 -7 7M1452 692l-2 -7M463 1084l1 -5M762 982q-6 9 -10 -1M423 1098q5 2 8 -1M1511 674l-6 1M1364 732q5 -2 9 1M628 1027l-3 5M1309 783q-4 -4 -4 -9M996 882q6 8 -4 9M1245 791q1 4 1 8M395 1109l5 1M1174 828q-1 -5 -3 -10M1380 747q-4 0 -8 -1M1245 814q-7 0 -8 -6M1627 626q3 5 8 3M650 990l5 -2M1490 691l4 -1M1016 884l-3 -4M1478 697q1 -7 8 -7M505 1082q-3 3 -3 8M1759 578q0 -5 -4 -7M345 1103q6 -2 10 3M996 893q4 1 9 1M1104 858q6 -3 4 -9M917 925l2 -4M603 1028l-3 -4M1874 529q1 -5 6 -6M1769 569q9 1 3 7M1733 596l-3 4M972 916q-3 -4 -6 -8M405 1087q-4 -1 -8 2M900 918q-5 -4 -8 2M863 928l-5 1M1251 798l-5 3M1220 806l-2 -7M584 1054l1 -4M450 1099l4 3M1477 678q5 1 8 4M846 945l4 4M645 1019q-5 -2 -10 -5M1589 627l-3 4M1820 524q6 3 5 9M524 1062l3 -3M1913 507l4 -5M966 906q-3 4 -8 3M422 1101l2 5M1946 440q8 -1 5 6M1501 668q-4 -4 -3 -10M545 1064l7 0M1729 571l2 6M843 931l3 -5M1595 616l4 2M585 1053q2 -4 3 -8M778 973q3 -5 9 -3M539 1048l3 -6"/>
<path stroke="#b42010" stroke-width="1.7" d="M772 1037q-2 -4 2 -6t5 -5M543 1105q-3 6 -10 6M1914 525q5 3 7 9M1241 884q1 -4 4 -7M429 1137q-8 2 -6 -6M1050 942q-9 1 -7 10M1764 648l-5 4M1878 532l-5 4M1949 476q-4 4 -9 1M1832 587q2 -5 7 -4M1668 663q4 6 9 1M1727 591q-4 5 -1 10M676 1025q-2 -4 -6 -2t-6 -2M1612 651q1 -4 5 -4t6 -3M1619 746q-1 -4 2 -7M1058 935q6 -1 10 4M1054 948l-7 -1M1835 600q6 -1 13 1M1684 637q-5 -3 -11 -5M1888 545q4 -5 -1 -8M1882 580l-3 -6M1831 654q2 -5 6 -9M447 1189q-1 -7 6 -9M1668 651q-3 -3 -2 -6t1 -7M1788 647q-4 3 -3 8M466 1104q-5 5 2 7t4 5M1742 591l-3 6M1716 582q-4 0 -6 4M994 943l-3 -6M1261 779q-2 5 -8 6M1042 922q-4 1 -8 1M1538 644q-4 1 -7 3M1915 501q6 -2 3 -8M607 1052q5 -5 12 -3M1223 870q-7 2 -7 9M1091 851q-6 -4 -4 -10M1794 650q-5 2 -9 1M825 1030q1 -4 -2 -6t-7 -2M1122 900q3 1 7 2t5 5M1953 524q-4 -1 -8 2M1601 628q-3 -1 -7 0t-6 -2M1629 727l2 7M1639 656l3 -6M1223 833q4 -3 8 -4M1239 886q2 5 1 10M1116 967q-3 -2 -6 -4M1587 714q1 4 5 5t2 7M858 994q5 -5 9 1M1481 685q4 -3 8 -4M970 898q-10 -2 -9 8M1582 693q4 -1 8 -2M775 991q-3 -6 0 -13M1553 704q-4 5 -10 2M1062 957l-6 2M1801 633l-3 -5M1469 812q3 -2 6 -2t7 0M510 1076q-2 7 -8 8M1301 890l-1 6M1198 886q-5 0 -8 2M1619 653q6 -3 12 -3M1112 866q-10 -4 -8 6M975 915q2 4 -1 8M1972 539l0 6M1608 745q5 5 0 10M1706 652q-1 -5 -5 -8M1773 666q4 -1 7 -4M1822 587q-3 -2 -7 -1t-5 -4M1862 589l5 -4M1845 608q-5 -3 -9 -7M1872 572q5 -2 10 1M1768 682q4 -2 3 -6t3 -6M1238 797q5 -4 3 -10M1571 725q8 -5 2 -12M1596 751q6 -4 7 -11M676 1119q-4 7 -11 2M957 976q3 3 7 6M1243 921q-2 -3 -4 -7M2029 554q-3 2 -4 5t-6 2M933 1017q3 7 8 1M978 1002q2 -12 -9 -7M1639 702q1 6 7 8M1724 686q4 1 8 2M1652 635l7 -1M1636 694q0 5 -4 5t-3 6M858 1032l4 -5M1849 567q2 4 0 7M1496 783l0 -7M712 1077q3 -3 4 -8M729 1099l6 -3M1806 655q-1 4 -4 6t0 7M1013 1000q-5 0 -4 -5t-3 -6M1653 744q5 5 10 -1M1050 977q-1 -4 -3 -7M1642 663q-4 1 -9 1M836 948q-2 3 -5 6M1867 543q6 7 11 -1M1464 828q-5 -3 -10 -3M1186 862q4 -5 6 -11M911 969q7 0 7 -7M1615 674l2 -6M781 1083l6 3M1216 910q-5 -2 -11 -3M1009 935q6 5 -2 8M801 1028l-7 3M1606 640l7 -1M1637 658q1 -7 7 -11M1021 960q4 -3 3 -8M1941 492l-4 5M1913 539q2 3 2 6t5 5M1755 640q-5 6 -1 12M899 990q1 -4 3 -7M1601 660q4 -1 7 2M692 1092q1 -6 -6 -6M1255 823q4 1 9 0M1408 749q0 10 -9 8M1460 841q3 -4 7 -8M1263 825q-9 2 -9 -7M1093 865q-3 5 -5 11M995 960q-4 3 -8 1M592 1088l-2 -6M1877 501q4 6 11 5M1625 677q-1 -7 4 -12M1207 831q5 4 0 9M1357 783l6 3M624 1019l5 -3M1016 989q-2 -6 -9 -6M976 955q-4 -6 -11 -3M1655 690q1 6 -5 8M1255 904l0 -7M1561 666q-6 2 -9 -2M597 1042l4 -5M1845 639q-1 7 -6 11M874 1037q-4 -2 -8 -1M969 916q5 1 11 0M1132 907q-2 -3 -7 -4M1918 624q6 8 -4 9M1055 907q-2 -4 -2 -9M1357 786q-4 -4 -7 1t-7 0M1183 902q2 -6 1 -13M608 1143q0 5 -4 8M1063 875q-4 2 -9 1M1744 590l0 -6M1906 492l7 -1M1111 850l-4 2M471 1066q5 -1 10 -1M892 932q4 0 8 -1M372 1104q1 -5 6 -5M530 1056q-4 3 -10 3M804 954q4 2 4 7M461 1093l-5 3M1471 697l2 5M1016 897l6 -1M850 928q4 5 -3 7M381 1126q-1 -5 3 -8M1227 801l-4 3M1063 877q4 -3 9 -3M1805 555l5 -3M1341 766l-5 1M1157 844q4 -9 -5 -10M1159 824l-3 -3M1266 795q5 -2 10 0M553 1050q-4 0 -8 1M1457 705l-5 4M633 1030q3 -4 2 -9M695 993l1 -5M1459 704l4 -3M1519 640l0 -5M1288 757q5 7 8 0M885 930l-4 0M1029 879l-5 -5M1733 543q-2 5 -7 8M412 1111q3 -3 7 -3M1729 576l4 0M1047 878q-7 -1 -9 5M1691 582q5 -2 8 2M377 1099q3 6 -2 11M420 1098q4 3 4 8M1077 872q2 -6 -4 -9M1567 631l5 -2M1780 553q-5 3 -10 3M1705 571l5 -1M966 916q2 3 2 8M1749 583l-7 0M1887 488q-3 -9 6 -7M1111 856q4 -3 4 -8M1698 583l-4 5M438 1078q-3 3 -6 7M985 892l-4 3M733 964q-3 5 0 10M407 1094l5 0M1656 621q-5 4 -10 0M1915 511q6 0 8 -5M1654 623q2 -3 5 -5M1738 581q4 -1 8 -3M951 905l-5 0M711 979q4 -7 10 -2M544 1037l2 -5M1580 648q3 4 6 7M738 990l5 -3M793 969l-1 4M1709 584l6 1M1843 538l5 -4M1267 798l-3 4M1322 770l4 1M572 1034l-2 5"/>
</g></g>
</g>
<g fill="none" stroke="#333" stroke-width="1.1" stroke-linejoin="miter">
<polyline points="203,592.7 227.1,613.9 247.2,606.7 267.2,599.4 287.3,592.2 307.3,584.9 327.4,577.7 347.5,570.5 367.5,563.2 387.6,556 407.6,548.8 427.7,541.5 447.8,534.3 467.8,527.1 487.9,519.8 508,512.5 528,505.1 548.1,497.6 568.1,490.1 588.2,482.5 608.3,474.7 628.3,466.9 648.4,459 668.4,451 688.5,442.8 708.6,434.6 728.6,426.2 748.7,417.7 768.7,409.2 788.8,400.5 808.9,391.8 828.9,383 849,374.1 869.1,365.1 889.1,356.2 909.2,347.1 929.2,338.1 949.3,329.1 969.4,320.1 989.4,311.1 1009.5,302.2 1026.2,294.9 1021.9,291.1"/>
<polyline points="173.6,566.8 193.7,559.6 213.7,552.3 233.8,545.1 253.8,537.8 273.9,530.6 294,523.4 314,516.1 334.1,508.9 354.1,501.7 374.2,494.4 394.3,487.2 414.3,480 434.4,472.7 454.5,465.4 474.5,458 494.6,450.5" stroke="#2e2e2e" stroke-width=".9" stroke-opacity=".6" stroke-dasharray="8 6 3 11 13 7 5 9"/>
<path d="M327.3 577.7l-53.5 -47.1M427.5 541.6l-53.5 -47.1M527.7 505.2l-53.5 -47.1M627.9 467.1l-53.5 -47.1M728.1 426.4l-53.5 -47.1M828.3 383.2l-53.5 -47.1M928.5 338.4l-53.5 -47.1" stroke="#3a3a3a" stroke-width=".8" stroke-opacity=".28" stroke-dasharray="6 9 4 7 10 5"/>
</g>
<g stroke="#000" fill="none" stroke-linecap="butt">
<path stroke-width="1.9" stroke-linejoin="miter" d="M145.6 436.3L145.6 610.3L198.6 657.8L1055.3 349.1"/>
<path stroke-width="2.6" d="M145.6 436.1L145.6 611.1"/>
<path stroke-width="2.6" d="M145.6 437.3l7.6-3M145.6 506.1l7.6-3M145.6 575l7.6-3M145.6 610.3l8-3.3M169.7 631.9l8-3.3M193.8 653.5l8-3.3"/>
<path stroke-width="1" d="M145.6 451.1l5.6-2M145.6 464.8l5.6-2M145.6 478.6l5.6-2M145.6 492.4l5.6-2M145.6 519.9l5.6-2M145.6 533.7l5.6-2M145.6 547.5l5.6-2M145.6 561.2l5.6-2M145.6 588.8l5.6-2M145.6 602.5l5.6-2M150.4 614.6l4.9-1.9M155.2 618.9l4.9-1.9M160.1 623.3l4.9-1.9M164.9 627.6l4.9-1.9M174.5 636.2l4.9-1.9M179.3 640.5l4.9-1.9M184.1 644.8l4.9-1.9M189 649.2l4.9-1.9M198.6 657.8l4.9-1.9M234.3 645l-2.4-3M305.7 619.1l-2.4-3M341.3 606.2l-2.4-3M377 593.3l-2.4-3M412.6 580.4l-2.4-3M484 554.6l-2.4-3M519.6 541.7l-2.4-3M555.3 528.8l-2.4-3M590.9 515.9l-2.4-3M662.3 490l-2.4-3M697.9 477.1l-2.4-3M733.6 464.2l-2.4-3M769.2 451.3l-2.4-3M840.6 425.5l-2.4-3M876.2 412.6l-2.4-3M911.9 399.7l-2.4-3M947.5 386.8l-2.4-3M1018.9 360.9l-2.4-3M1054.5 348l-2.4-3"/>
</g>
<path stroke="#000" stroke-width="2.7" fill="none" d="M270 632l-5-5.4M448.3 567.5l-5-5.4M626.6 502.9l-5-5.4M804.9 438.4l-5-5.4M983.2 373.9l-5-5.4"/>
<clipPath id="clc"><polygon points="226,662.9 229,832.9 283.4,880 303.5,872.9 323.6,865.8 343.7,858.6 363.8,851.5 384,844.4 404.1,837.3 424.2,830.2 444.3,823 464.4,815.9 484.5,808.7 504.6,801.4 524.7,793.9 544.8,786.2 565,778.3 585.1,770.2 605.2,761.9 625.3,753.3 645.4,744.5 665.5,735.5 685.6,726.2 705.7,716.6 725.8,706.8 746,696.7 766.1,686.4 786.2,675.8 806.3,665 826.4,653.9 846.5,642.6 866.6,631.1 886.7,619.4 906.9,607.5 927,595.4 947.1,583.2 967.2,570.8 987.3,558.4 1007.4,545.9 1027.5,533.3 1047.6,520.6 1067.7,508 1084.5,497.5 1085.5,327.5"/></clipPath>
<g fill="none" stroke="#3c3c3c" stroke-width="1">
<polyline points="230,832.9 250.1,825.8 270.2,818.7 290.3,811.5 310.4,804.4 330.6,797.3 350.7,790.2 370.8,783.1 390.9,775.9 411,768.8 431.1,761.6 451.2,754.3 471.3,746.8 491.4,739.1 511.6,731.2 531.7,723.1 551.8,714.8 571.9,706.2 592,697.4 612.1,688.4 632.2,679.1 652.3,669.5 672.4,659.7 692.6,649.6 712.7,639.3 732.8,628.7 752.9,617.9 773,606.8 793.1,595.5 813.2,584 833.3,572.3 853.5,560.4 873.6,548.3 893.7,536.1 913.8,523.7 933.9,511.3 954,498.8 974.1,486.2 994.2,473.5 1014.3,460.9 1031.1,450.4" stroke="#555" stroke-width=".9"/>
<path d="M230 832.9L283.4 880M1031.1 450.4L1084.5 497.5" stroke="#444" stroke-width="1"/>
</g>
<g filter="url(#bl)">
<polygon points="283.4,878.7 303.5,871.6 323.6,864.5 343.7,857.3 363.8,850.2 384,843.1 404.1,836 424.2,828.9 444.3,821.7 464.4,814.6 484.5,807.4 504.6,800.1 524.7,792.6 544.8,784.9 565,777 585.1,768.9 605.2,760.6 625.3,752 645.4,743.2 665.5,734.2 685.6,724.9 705.7,715.3 725.8,705.5 746,695.4 766.1,685.1 786.2,674.5 806.3,663.7 826.4,652.6 846.5,641.3 866.6,629.8 886.7,618.1 906.9,606.2 927,594.1 947.1,581.9 967.2,569.5 987.3,557.1 1007.4,544.6 1027.5,532 1047.6,519.3 1067.7,506.7 1084.5,496.2 1031.1,449.9 1014.3,460.4 994.2,473 974.1,485.7 954,498.3 933.9,510.8 913.8,523.2 893.7,535.6 873.6,547.8 853.5,559.9 833.3,571.8 813.2,583.5 793.1,595 773,606.3 752.9,617.4 732.8,628.2 712.7,638.8 692.6,649.1 672.4,659.2 652.3,669 632.2,678.6 612.1,687.9 592,696.9 571.9,705.7 551.8,714.3 531.7,722.6 511.6,730.7 491.4,738.6 471.3,746.3 451.2,753.8 431.1,761.1 411,768.3 390.9,775.4 370.8,782.6 350.7,789.7 330.6,796.8 310.4,803.9 290.3,811 270.2,818.2 250.1,825.3 230,832.4" fill="#f4ef9a" fill-opacity=".4"/>
<linearGradient id="goc" gradientUnits="userSpaceOnUse" x1="443.6" y1="0" x2="684" y2="0"><stop offset="0" stop-color="#fff" stop-opacity="0"/><stop offset="1" stop-color="#fff" stop-opacity="1"/></linearGradient>
<mask id="moc" maskUnits="userSpaceOnUse" x="0" y="0" width="1122" height="947"><rect width="1122" height="947" fill="url(#goc)"/></mask>
<g mask="url(#moc)"><polygon points="283.4,878.7 303.5,871.6 323.6,864.5 343.7,857.3 363.8,850.2 384,843.1 404.1,836 424.2,828.9 444.3,821.7 464.4,814.6 484.5,807.4 504.6,800.1 524.7,792.6 544.8,784.9 565,777 585.1,768.9 605.2,760.6 625.3,752 645.4,743.2 665.5,734.2 685.6,724.9 705.7,715.3 725.8,705.5 746,695.4 766.1,685.1 786.2,674.5 806.3,663.7 826.4,652.6 846.5,641.3 866.6,629.8 886.7,618.1 906.9,606.2 927,594.1 947.1,581.9 967.2,569.5 987.3,557.1 1007.4,544.6 1027.5,532 1047.6,519.3 1067.7,506.7 1084.5,496.2 1031.1,449.9 1014.3,460.4 994.2,473 974.1,485.7 954,498.3 933.9,510.8 913.8,523.2 893.7,535.6 873.6,547.8 853.5,559.9 833.3,571.8 813.2,583.5 793.1,595 773,606.3 752.9,617.4 732.8,628.2 712.7,638.8 692.6,649.1 672.4,659.2 652.3,669 632.2,678.6 612.1,687.9 592,696.9 571.9,705.7 551.8,714.3 531.7,722.6 511.6,730.7 491.4,738.6 471.3,746.3 451.2,753.8 431.1,761.1 411,768.3 390.9,775.4 370.8,782.6 350.7,789.7 330.6,796.8 310.4,803.9 290.3,811 270.2,818.2 250.1,825.3 230,832.4" fill="#e3d545" fill-opacity=".8"/></g>
<polygon points="283.4,878.7 303.5,871.6 323.6,864.5 343.7,857.3 363.8,850.2 384,843.1 404.1,836 424.2,828.9 444.3,821.7 464.4,814.6 484.5,807.4 504.6,800.1 524.7,792.6 544.8,784.9 565,777 585.1,768.9 605.2,760.6 625.3,752 645.4,743.2 665.5,734.2 685.6,724.9 705.7,715.3 725.8,705.5 746,695.4 766.1,685.1 786.2,674.5 806.3,663.7 826.4,652.6 846.5,641.3 866.6,629.8 886.7,618.1 906.9,606.2 927,594.1 947.1,581.9 967.2,569.5 987.3,557.1 1007.4,544.6 1027.5,532 1047.6,519.3 1067.7,506.7 1084.5,496.2 1031.1,449.9 1014.3,460.4 994.2,473 974.1,485.7 954,498.3 933.9,510.8 913.8,523.2 893.7,535.6 873.6,547.8 853.5,559.9 833.3,571.8 813.2,583.5 793.1,595 773,606.3 752.9,617.4 732.8,628.2 712.7,638.8 692.6,649.1 672.4,659.2 652.3,669 632.2,678.6 612.1,687.9 592,696.9 571.9,705.7 551.8,714.3 531.7,722.6 511.6,730.7 491.4,738.6 471.3,746.3 451.2,753.8 431.1,761.1 411,768.3 390.9,775.4 370.8,782.6 350.7,789.7 330.6,796.8 310.4,803.9 290.3,811 270.2,818.2 250.1,825.3 230,832.4" fill="url(#gy)"/>
<polygon points="283.4,878.7 303.5,871.6 323.6,864.5 343.7,857.3 363.8,850.2 384,843.1 404.1,836 424.2,828.9 444.3,821.7 464.4,814.6 484.5,807.4 504.6,800.1 524.7,792.6 544.8,784.9 565,777 585.1,768.9 605.2,760.6 625.3,752 645.4,743.2 665.5,734.2 685.6,724.9 705.7,715.3 725.8,705.5 746,695.4 766.1,685.1 786.2,674.5 806.3,663.7 826.4,652.6 846.5,641.3 866.6,629.8 886.7,618.1 906.9,606.2 927,594.1 947.1,581.9 967.2,569.5 987.3,557.1 1007.4,544.6 1027.5,532 1047.6,519.3 1067.7,506.7 1084.5,496.2 1031.1,449.9 1014.3,460.4 994.2,473 974.1,485.7 954,498.3 933.9,510.8 913.8,523.2 893.7,535.6 873.6,547.8 853.5,559.9 833.3,571.8 813.2,583.5 793.1,595 773,606.3 752.9,617.4 732.8,628.2 712.7,638.8 692.6,649.1 672.4,659.2 652.3,669 632.2,678.6 612.1,687.9 592,696.9 571.9,705.7 551.8,714.3 531.7,722.6 511.6,730.7 491.4,738.6 471.3,746.3 451.2,753.8 431.1,761.1 411,768.3 390.9,775.4 370.8,782.6 350.7,789.7 330.6,796.8 310.4,803.9 290.3,811 270.2,818.2 250.1,825.3 230,832.4" fill="url(#pa)"/>
<polygon points="283.4,878.7 303.5,871.6 323.6,864.5 343.7,857.3 363.8,850.2 384,843.1 404.1,836 424.2,828.9 444.3,821.7 464.4,814.6 484.5,807.4 504.6,800.1 524.7,792.6 544.8,784.9 565,777 585.1,768.9 605.2,760.6 625.3,752 645.4,743.2 665.5,734.2 685.6,724.9 705.7,715.3 725.8,705.5 746,695.4 766.1,685.1 786.2,674.5 806.3,663.7 826.4,652.6 846.5,641.3 866.6,629.8 886.7,618.1 906.9,606.2 927,594.1 947.1,581.9 967.2,569.5 987.3,557.1 1007.4,544.6 1027.5,532 1047.6,519.3 1067.7,506.7 1084.5,496.2 1031.1,449.9 1014.3,460.4 994.2,473 974.1,485.7 954,498.3 933.9,510.8 913.8,523.2 893.7,535.6 873.6,547.8 853.5,559.9 833.3,571.8 813.2,583.5 793.1,595 773,606.3 752.9,617.4 732.8,628.2 712.7,638.8 692.6,649.1 672.4,659.2 652.3,669 632.2,678.6 612.1,687.9 592,696.9 571.9,705.7 551.8,714.3 531.7,722.6 511.6,730.7 491.4,738.6 471.3,746.3 451.2,753.8 431.1,761.1 411,768.3 390.9,775.4 370.8,782.6 350.7,789.7 330.6,796.8 310.4,803.9 290.3,811 270.2,818.2 250.1,825.3 230,832.4" fill="url(#pb)"/>
<path d="M383.6 844.5l-53.4 -47.1M483.8 809l-53.4 -47.1M583.9 770.6l-53.4 -47.1M684.1 726.9l-53.4 -47.1M784.3 676.8l-53.4 -47.1M884.5 620.7l-53.4 -47.1M984.6 560l-53.4 -47.1" stroke="#4a4a4a" stroke-width=".8" fill="none"/>
<g mask="url(#moc)"><polygon points="283.4,878.7 303.5,871.6 323.6,864.5 343.7,857.3 363.8,850.2 384,843.1 404.1,836 424.2,828.9 444.3,821.7 464.4,814.6 484.5,807.4 504.6,800.1 524.7,792.6 544.8,784.9 565,777 585.1,768.9 605.2,760.6 625.3,752 645.4,743.2 665.5,734.2 685.6,724.9 705.7,715.3 725.8,705.5 746,695.4 766.1,685.1 786.2,674.5 806.3,663.7 826.4,652.6 846.5,641.3 866.6,629.8 886.7,618.1 906.9,606.2 927,594.1 947.1,581.9 967.2,569.5 987.3,557.1 1007.4,544.6 1027.5,532 1047.6,519.3 1067.7,506.7 1084.5,496.2 1031.1,449.9 1014.3,460.4 994.2,473 974.1,485.7 954,498.3 933.9,510.8 913.8,523.2 893.7,535.6 873.6,547.8 853.5,559.9 833.3,571.8 813.2,583.5 793.1,595 773,606.3 752.9,617.4 732.8,628.2 712.7,638.8 692.6,649.1 672.4,659.2 652.3,669 632.2,678.6 612.1,687.9 592,696.9 571.9,705.7 551.8,714.3 531.7,722.6 511.6,730.7 491.4,738.6 471.3,746.3 451.2,753.8 431.1,761.1 411,768.3 390.9,775.4 370.8,782.6 350.7,789.7 330.6,796.8 310.4,803.9 290.3,811 270.2,818.2 250.1,825.3 230,832.4" fill="url(#oa)"/><polygon points="356,756.2 360,755.2 364.1,754 368.1,752 372.1,749.8 376.1,747.8 380.2,746.1 384.2,744.7 388.2,743.6 392.2,743 396.3,742.3 400.3,741.5 404.3,740.1 408.3,738.1 412.4,735.8 416.4,733.7 420.4,732.1 424.4,731 428.5,730.2 432.5,729.6 436.5,729.1 440.5,728.2 444.6,726.6 448.6,724.6 452.6,722.6 456.6,720.9 460.7,719.4 464.7,717.6 468.7,715.8 472.7,714.2 476.8,713 480.8,711.7 484.8,709.8 488.8,707.2 492.9,704.2 496.9,701.7 500.9,699.6 504.9,698 509,696.8 513,695.5 517,693.5 521.1,691 525.1,688.8 529.1,687.2 533.1,685.9 537.2,684.3 541.2,682.3 545.2,680.1 549.2,677.7 553.3,675 557.3,672.2 561.3,669.6 565.3,667.8 569.4,666.6 573.4,665.7 577.4,664.1 581.4,661.6 585.5,658.2 589.5,654.6 593.5,651.5 597.5,649.5 601.6,648.6 605.6,648 609.6,647.1 613.6,645.5 617.7,643.4 621.7,641.6 625.7,640.2 629.7,639.2 633.8,638.3 637.8,637.1 641.8,635.6 645.8,634.1 649.9,632.3 653.9,630.4 657.9,628.3 661.9,626.1 666,623.6 670,621.3 674,619.6 678,618.5 682.1,617.3 686.1,615.2 690.1,611.8 694.2,608.2 698.2,605.1 702.2,602.5 706.2,600.1 710.3,597.7 714.3,595.8 718.3,594.4 722.3,592.3 726.4,589.6 730.4,586.9 734.4,585.1 738.4,583.3 742.5,580.5 746.5,576.7 750.5,572.7 754.5,569.2 758.6,566.7 762.6,565.2 766.6,563.7 770.6,561.6 774.7,559.1 778.7,556.9 782.7,554.8 786.7,552 790.8,548.8 794.8,545.7 798.8,542.8 802.8,539.3 806.9,535.3 810.9,531.5 814.9,528.4 818.9,526.3 823,524.5 827,522.7 831,520.6 835,518 839.1,515.3 843.1,512.9 847.1,511.3 851.2,510.1 855.2,508.9 859.2,508 863.2,507.3 867.3,506.6 871.3,505.1 875.3,502.9 879.3,500 883.4,497.1 887.4,494.5 891.4,492.6 895.4,491.2 899.5,489.5 903.5,487 907.5,484.2 911.5,481.2 915.6,478.3 919.6,475.9 923.6,474.2 927.6,472.7 931.7,471.2 935.7,469.5 939.7,467 943.7,463.4 947.8,459 951.8,454.9 955.8,451.4 959.8,448.4 963.9,445.3 967.9,442 971.9,438.6 975.9,435 980,431.4 984,428.2 988,425.9 992,424.3 996.1,423.3 1000.1,422.7 1053.5,468.4 1049.5,471.1 1045.4,473.5 1041.4,476.1 1037.4,478.5 1033.4,480.2 1029.3,481.5 1025.3,483.4 1021.3,486.5 1017.3,489.6 1013.2,492.1 1009.2,494.3 1005.2,497.1 1001.2,500.2 997.1,503.1 993.1,505.6 989.1,508 985.1,510.4 981,512.7 977,514.8 973,517.3 969,520.1 964.9,522.7 960.9,524.4 956.9,525.6 952.9,527.2 948.8,530.1 944.8,533.8 940.8,537.6 936.8,541 932.7,543.6 928.7,545.5 924.7,547 920.7,548.8 916.6,550.7 912.6,552.8 908.6,555.3 904.6,558.2 900.5,561.5 896.5,564.8 892.5,567.5 888.4,569.4 884.4,571.1 880.4,573.2 876.4,575.7 872.3,578.3 868.3,580.9 864.3,583.7 860.3,586.8 856.2,590.1 852.2,593.2 848.2,595.3 844.2,596.6 840.1,597.7 836.1,599.3 832.1,601.8 828.1,604.6 824,607.4 820,610.1 816,613.2 812,616.3 807.9,619 803.9,621.2 799.9,623.4 795.9,625.6 791.8,628.1 787.8,630.6 783.8,632.7 779.8,634.8 775.7,636.7 771.7,638.1 767.7,639.2 763.7,640.6 759.6,642.7 755.6,644.8 751.6,646.9 747.6,649.4 743.5,652.4 739.5,655.5 735.5,657.7 731.4,659.1 727.4,660.5 723.4,662.7 719.4,665.3 715.3,667.7 711.3,669.4 707.3,671 703.3,673.1 699.2,676 695.2,679.3 691.2,682.2 687.2,684.3 683.1,685.5 679.1,686.2 675.1,687.2 671.1,688.5 667,689.7 663,690.8 659,692.1 655,694.4 650.9,697.2 646.9,699.8 642.9,701.6 638.9,703.1 634.8,704.8 630.8,706.8 626.8,708.8 622.8,710.7 618.7,712.9 614.7,714.9 610.7,716 606.7,716.6 602.6,717.5 598.6,719.4 594.6,722.1 590.6,725.2 586.5,728.1 582.5,730.9 578.5,733.7 574.5,736.6 570.4,739.4 566.4,741.7 562.4,743.5 558.3,745.1 554.3,746.9 550.3,748.6 546.3,749.9 542.2,750.8 538.2,751.7 534.2,752.9 530.2,754.7 526.1,756.4 522.1,757.9 518.1,759.9 514.1,762.3 510,764.3 506,765.6 502,766.5 498,767.7 493.9,769.3 489.9,771.3 485.9,773.1 481.9,774.4 477.8,775.8 473.8,777.5 469.8,779.1 465.8,780 461.7,780.7 457.7,781.7 453.7,783 449.7,784.2 445.6,785.4 441.6,787.3 437.6,789.8 433.6,792.7 429.5,795.2 425.5,797.2 421.5,799 417.5,800.7 413.4,802.1 409.4,802.8" fill="url(#oa)" transform="translate(31 17)"/></g>
<polygon points="230,827.6 234,825.9 238.1,823.9 242.1,822.1 246.1,820.7 250.1,819.7 254.2,818.6 258.2,817.2 262.2,815.7 266.2,814 270.3,812.3 274.3,810.8 278.3,809.8 282.3,808.9 286.4,807.8 290.4,806.3 294.4,804.9 298.4,803.7 302.5,802.6 306.5,801.3 310.5,800.1 314.5,799.2 318.6,799 322.6,798.7 326.6,797.6 330.6,796.1 334.7,794 338.7,792 342.7,790.4 346.7,788.9 350.8,787.3 354.8,785.8 358.8,784.5 362.8,783.3 366.9,782.1 370.9,780.8 374.9,779.4 378.9,777.2 383,774.8 387,773.2 391,772.2 395.1,771 399.1,769 403.1,766.8 407.1,764.8 411.2,763.1 415.2,761.7 419.2,760.6 423.2,760 427.3,759.3 431.3,758.5 435.3,757.1 439.3,755.1 443.4,752.8 447.4,750.7 451.4,749.1 455.4,748 459.5,747.2 463.5,746.6 467.5,746.1 471.5,745.2 475.6,743.6 479.6,741.6 483.6,739.6 487.6,737.9 491.7,736.4 495.7,734.6 499.7,732.8 503.7,731.2 507.8,730 511.8,728.7 515.8,726.8 519.8,724.2 523.9,721.2 527.9,718.7 531.9,716.6 535.9,715 540,713.8 544,712.5 548,710.5 552.1,708 556.1,705.8 560.1,704.2 564.1,702.9 568.2,701.3 572.2,699.3 576.2,697.1 580.2,694.7 584.3,692 588.3,689.2 592.3,686.6 596.3,684.8 600.4,683.6 604.4,682.7 608.4,681.1 612.4,678.6 616.5,675.2 620.5,671.6 624.5,668.5 628.5,666.5 632.6,665.6 636.6,665 640.6,664.1 644.6,662.5 648.7,660.4 652.7,658.6 656.7,657.2 660.7,656.2 664.8,655.3 668.8,654.1 672.8,652.6 676.8,651.1 680.9,649.3 684.9,647.4 688.9,645.3 692.9,643.1 697,640.6 701,638.3 705,636.6 709,635.5 713.1,634.3 717.1,632.2 721.1,628.8 725.2,625.2 729.2,622.1 733.2,619.5 737.2,617.1 741.3,614.7 745.3,612.8 749.3,611.4 753.3,609.3 757.4,606.6 761.4,603.9 765.4,602.1 769.4,600.3 773.5,597.5 777.5,593.7 781.5,589.7 785.5,586.2 789.6,583.7 793.6,582.2 797.6,580.7 801.6,578.6 805.7,576.1 809.7,573.9 813.7,571.8 817.7,569 821.8,565.8 825.8,562.7 829.8,559.8 833.8,556.3 837.9,552.3 841.9,548.5 845.9,545.4 849.9,543.3 854,541.5 858,539.7 862,537.6 866,535 870.1,532.3 874.1,529.9 878.1,528.3 882.2,527.1 886.2,525.9 890.2,525 894.2,524.3 898.3,523.6 902.3,522.1 906.3,519.9 910.3,517 914.4,514.1 918.4,511.5 922.4,509.6 926.4,508.2 930.5,506.5 934.5,504 938.5,501.2 942.5,498.2 946.6,495.3 950.6,492.9 954.6,491.2 958.6,489.7 962.7,488.2 966.7,486.5 970.7,484 974.7,480.4 978.8,476 982.8,471.9 986.8,468.4 990.8,465.4 994.9,462.3 998.9,459 1002.9,455.6 1006.9,452 1011,448.4 1015,445.2 1019,442.9 1023,441.3 1027.1,440.3 1031.1,439.7 1084.5,485.4 1080.5,488.1 1076.4,490.5 1072.4,493.1 1068.4,495.5 1064.4,497.2 1060.3,498.5 1056.3,500.4 1052.3,503.5 1048.3,506.6 1044.2,509.1 1040.2,511.3 1036.2,514.1 1032.2,517.2 1028.1,520.1 1024.1,522.6 1020.1,525 1016.1,527.4 1012,529.7 1008,531.8 1004,534.3 1000,537.1 995.9,539.7 991.9,541.4 987.9,542.6 983.9,544.2 979.8,547.1 975.8,550.8 971.8,554.6 967.8,558 963.7,560.6 959.7,562.5 955.7,564 951.7,565.8 947.6,567.7 943.6,569.8 939.6,572.3 935.6,575.2 931.5,578.5 927.5,581.8 923.5,584.5 919.4,586.4 915.4,588.1 911.4,590.2 907.4,592.7 903.3,595.3 899.3,597.9 895.3,600.7 891.3,603.8 887.2,607.1 883.2,610.2 879.2,612.3 875.2,613.6 871.1,614.7 867.1,616.3 863.1,618.8 859.1,621.6 855,624.4 851,627.1 847,630.2 843,633.3 838.9,636 834.9,638.2 830.9,640.4 826.9,642.6 822.8,645.1 818.8,647.6 814.8,649.7 810.8,651.8 806.7,653.7 802.7,655.1 798.7,656.2 794.7,657.6 790.6,659.7 786.6,661.8 782.6,663.9 778.6,666.4 774.5,669.4 770.5,672.5 766.5,674.7 762.4,676.1 758.4,677.5 754.4,679.7 750.4,682.3 746.3,684.7 742.3,686.4 738.3,688 734.3,690.1 730.2,693 726.2,696.3 722.2,699.2 718.2,701.3 714.1,702.5 710.1,703.2 706.1,704.2 702.1,705.5 698,706.7 694,707.8 690,709.1 686,711.4 681.9,714.2 677.9,716.8 673.9,718.6 669.9,720.1 665.8,721.8 661.8,723.8 657.8,725.8 653.8,727.7 649.7,729.9 645.7,731.9 641.7,733 637.7,733.6 633.6,734.5 629.6,736.4 625.6,739.1 621.6,742.2 617.5,745.1 613.5,747.9 609.5,750.7 605.5,753.6 601.4,756.4 597.4,758.7 593.4,760.5 589.3,762.1 585.3,763.9 581.3,765.6 577.3,766.9 573.2,767.8 569.2,768.7 565.2,769.9 561.2,771.7 557.1,773.4 553.1,774.9 549.1,776.9 545.1,779.3 541,781.3 537,782.6 533,783.5 529,784.7 524.9,786.3 520.9,788.3 516.9,790.1 512.9,791.4 508.8,792.8 504.8,794.5 500.8,796.1 496.8,797 492.7,797.7 488.7,798.7 484.7,800 480.7,801.2 476.6,802.4 472.6,804.3 468.6,806.8 464.6,809.7 460.5,812.2 456.5,814.2 452.5,816 448.5,817.7 444.4,819.1 440.4,819.8 436.4,820.4 432.3,821.6 428.3,823.6 424.3,825.3 420.3,826.2 416.2,826.7 412.2,827.3 408.2,828.2 404.2,829.2 400.1,830.3 396.1,832 392.1,834.1 388.1,835.8 384,836.3 380,835.9 376,835.7 372,836.4 367.9,838.1 363.9,840.4 359.9,843.2 355.9,846.1 351.8,848.5 347.8,849.7 343.8,850.2 339.8,850.9 335.7,852.2 331.7,853.9 327.7,855.5 323.7,857.2 319.6,858.6 315.6,859.8 311.6,860.9 307.6,861.9 303.5,863 299.5,864.4 295.5,866.3 291.5,868.4 287.4,870.5 283.4,872.1" fill="url(#gr)"/>
<polygon points="230,827.6 234,825.9 238.1,823.9 242.1,822.1 246.1,820.7 250.1,819.7 254.2,818.6 258.2,817.2 262.2,815.7 266.2,814 270.3,812.3 274.3,810.8 278.3,809.8 282.3,808.9 286.4,807.8 290.4,806.3 294.4,804.9 298.4,803.7 302.5,802.6 306.5,801.3 310.5,800.1 314.5,799.2 318.6,799 322.6,798.7 326.6,797.6 330.6,796.1 334.7,794 338.7,792 342.7,790.4 346.7,788.9 350.8,787.3 354.8,785.8 358.8,784.5 362.8,783.3 366.9,782.1 370.9,780.8 374.9,779.4 378.9,777.2 383,774.8 387,773.2 391,772.2 395.1,771 399.1,769 403.1,766.8 407.1,764.8 411.2,763.1 415.2,761.7 419.2,760.6 423.2,760 427.3,759.3 431.3,758.5 435.3,757.1 439.3,755.1 443.4,752.8 447.4,750.7 451.4,749.1 455.4,748 459.5,747.2 463.5,746.6 467.5,746.1 471.5,745.2 475.6,743.6 479.6,741.6 483.6,739.6 487.6,737.9 491.7,736.4 495.7,734.6 499.7,732.8 503.7,731.2 507.8,730 511.8,728.7 515.8,726.8 519.8,724.2 523.9,721.2 527.9,718.7 531.9,716.6 535.9,715 540,713.8 544,712.5 548,710.5 552.1,708 556.1,705.8 560.1,704.2 564.1,702.9 568.2,701.3 572.2,699.3 576.2,697.1 580.2,694.7 584.3,692 588.3,689.2 592.3,686.6 596.3,684.8 600.4,683.6 604.4,682.7 608.4,681.1 612.4,678.6 616.5,675.2 620.5,671.6 624.5,668.5 628.5,666.5 632.6,665.6 636.6,665 640.6,664.1 644.6,662.5 648.7,660.4 652.7,658.6 656.7,657.2 660.7,656.2 664.8,655.3 668.8,654.1 672.8,652.6 676.8,651.1 680.9,649.3 684.9,647.4 688.9,645.3 692.9,643.1 697,640.6 701,638.3 705,636.6 709,635.5 713.1,634.3 717.1,632.2 721.1,628.8 725.2,625.2 729.2,622.1 733.2,619.5 737.2,617.1 741.3,614.7 745.3,612.8 749.3,611.4 753.3,609.3 757.4,606.6 761.4,603.9 765.4,602.1 769.4,600.3 773.5,597.5 777.5,593.7 781.5,589.7 785.5,586.2 789.6,583.7 793.6,582.2 797.6,580.7 801.6,578.6 805.7,576.1 809.7,573.9 813.7,571.8 817.7,569 821.8,565.8 825.8,562.7 829.8,559.8 833.8,556.3 837.9,552.3 841.9,548.5 845.9,545.4 849.9,543.3 854,541.5 858,539.7 862,537.6 866,535 870.1,532.3 874.1,529.9 878.1,528.3 882.2,527.1 886.2,525.9 890.2,525 894.2,524.3 898.3,523.6 902.3,522.1 906.3,519.9 910.3,517 914.4,514.1 918.4,511.5 922.4,509.6 926.4,508.2 930.5,506.5 934.5,504 938.5,501.2 942.5,498.2 946.6,495.3 950.6,492.9 954.6,491.2 958.6,489.7 962.7,488.2 966.7,486.5 970.7,484 974.7,480.4 978.8,476 982.8,471.9 986.8,468.4 990.8,465.4 994.9,462.3 998.9,459 1002.9,455.6 1006.9,452 1011,448.4 1015,445.2 1019,442.9 1023,441.3 1027.1,440.3 1031.1,439.7 1084.5,485.4 1080.5,488.1 1076.4,490.5 1072.4,493.1 1068.4,495.5 1064.4,497.2 1060.3,498.5 1056.3,500.4 1052.3,503.5 1048.3,506.6 1044.2,509.1 1040.2,511.3 1036.2,514.1 1032.2,517.2 1028.1,520.1 1024.1,522.6 1020.1,525 1016.1,527.4 1012,529.7 1008,531.8 1004,534.3 1000,537.1 995.9,539.7 991.9,541.4 987.9,542.6 983.9,544.2 979.8,547.1 975.8,550.8 971.8,554.6 967.8,558 963.7,560.6 959.7,562.5 955.7,564 951.7,565.8 947.6,567.7 943.6,569.8 939.6,572.3 935.6,575.2 931.5,578.5 927.5,581.8 923.5,584.5 919.4,586.4 915.4,588.1 911.4,590.2 907.4,592.7 903.3,595.3 899.3,597.9 895.3,600.7 891.3,603.8 887.2,607.1 883.2,610.2 879.2,612.3 875.2,613.6 871.1,614.7 867.1,616.3 863.1,618.8 859.1,621.6 855,624.4 851,627.1 847,630.2 843,633.3 838.9,636 834.9,638.2 830.9,640.4 826.9,642.6 822.8,645.1 818.8,647.6 814.8,649.7 810.8,651.8 806.7,653.7 802.7,655.1 798.7,656.2 794.7,657.6 790.6,659.7 786.6,661.8 782.6,663.9 778.6,666.4 774.5,669.4 770.5,672.5 766.5,674.7 762.4,676.1 758.4,677.5 754.4,679.7 750.4,682.3 746.3,684.7 742.3,686.4 738.3,688 734.3,690.1 730.2,693 726.2,696.3 722.2,699.2 718.2,701.3 714.1,702.5 710.1,703.2 706.1,704.2 702.1,705.5 698,706.7 694,707.8 690,709.1 686,711.4 681.9,714.2 677.9,716.8 673.9,718.6 669.9,720.1 665.8,721.8 661.8,723.8 657.8,725.8 653.8,727.7 649.7,729.9 645.7,731.9 641.7,733 637.7,733.6 633.6,734.5 629.6,736.4 625.6,739.1 621.6,742.2 617.5,745.1 613.5,747.9 609.5,750.7 605.5,753.6 601.4,756.4 597.4,758.7 593.4,760.5 589.3,762.1 585.3,763.9 581.3,765.6 577.3,766.9 573.2,767.8 569.2,768.7 565.2,769.9 561.2,771.7 557.1,773.4 553.1,774.9 549.1,776.9 545.1,779.3 541,781.3 537,782.6 533,783.5 529,784.7 524.9,786.3 520.9,788.3 516.9,790.1 512.9,791.4 508.8,792.8 504.8,794.5 500.8,796.1 496.8,797 492.7,797.7 488.7,798.7 484.7,800 480.7,801.2 476.6,802.4 472.6,804.3 468.6,806.8 464.6,809.7 460.5,812.2 456.5,814.2 452.5,816 448.5,817.7 444.4,819.1 440.4,819.8 436.4,820.4 432.3,821.6 428.3,823.6 424.3,825.3 420.3,826.2 416.2,826.7 412.2,827.3 408.2,828.2 404.2,829.2 400.1,830.3 396.1,832 392.1,834.1 388.1,835.8 384,836.3 380,835.9 376,835.7 372,836.4 367.9,838.1 363.9,840.4 359.9,843.2 355.9,846.1 351.8,848.5 347.8,849.7 343.8,850.2 339.8,850.9 335.7,852.2 331.7,853.9 327.7,855.5 323.7,857.2 319.6,858.6 315.6,859.8 311.6,860.9 307.6,861.9 303.5,863 299.5,864.4 295.5,866.3 291.5,868.4 287.4,870.5 283.4,872.1" fill="url(#ra)"/>
<linearGradient id="grc" gradientUnits="userSpaceOnUse" x1="523.7" y1="0" x2="844.2" y2="0"><stop offset="0" stop-color="#fff" stop-opacity="0"/><stop offset="1" stop-color="#fff"/></linearGradient>
<mask id="mrc" maskUnits="userSpaceOnUse" x="0" y="0" width="1122" height="947"><rect width="1122" height="947" fill="url(#grc)"/></mask>
<g mask="url(#mrc)"><polygon points="430.5,723.1 434.5,722.2 438.6,720.6 442.6,718.6 446.6,716.6 450.6,714.9 454.7,713.4 458.7,711.6 462.7,709.8 466.7,708.2 470.8,707 474.8,705.7 478.8,703.8 482.8,701.2 486.9,698.2 490.9,695.7 494.9,693.6 498.9,692 503,690.8 507,689.5 511,687.5 515.1,685 519.1,682.8 523.1,681.2 527.1,679.9 531.2,678.3 535.2,676.3 539.2,674.1 543.2,671.7 547.3,669 551.3,666.2 555.3,663.6 559.3,661.8 563.4,660.6 567.4,659.7 571.4,658.1 575.4,655.6 579.5,652.2 583.5,648.6 587.5,645.5 591.5,643.5 595.6,642.6 599.6,642 603.6,641.1 607.6,639.5 611.7,637.4 615.7,635.6 619.7,634.2 623.7,633.2 627.8,632.3 631.8,631.1 635.8,629.6 639.8,628.1 643.9,626.3 647.9,624.4 651.9,622.3 655.9,620.1 660,617.6 664,615.3 668,613.6 672,612.5 676.1,611.3 680.1,609.2 684.1,605.8 688.2,602.2 692.2,599.1 696.2,596.5 700.2,594.1 704.3,591.7 708.3,589.8 712.3,588.4 716.3,586.3 720.4,583.6 724.4,580.9 728.4,579.1 732.4,577.3 736.5,574.5 740.5,570.7 744.5,566.7 748.5,563.2 752.6,560.7 756.6,559.2 760.6,557.7 764.6,555.6 768.7,553.1 772.7,550.9 776.7,548.8 780.7,546 784.8,542.8 788.8,539.7 792.8,536.8 796.8,533.3 800.9,529.3 804.9,525.5 808.9,522.4 812.9,520.3 817,518.5 821,516.7 825,514.6 829,512 833.1,509.3 837.1,506.9 841.1,505.3 845.2,504.1 849.2,502.9 853.2,502 857.2,501.3 861.3,500.6 865.3,499.1 869.3,496.9 873.3,494 877.4,491.1 881.4,488.5 885.4,486.6 889.4,485.2 893.5,483.5 897.5,481 901.5,478.2 905.5,475.2 909.6,472.3 913.6,469.9 917.6,468.2 921.6,466.7 925.7,465.2 929.7,463.5 933.7,461 937.7,457.4 941.8,453 945.8,448.9 949.8,445.4 953.8,442.4 957.9,439.3 961.9,436 965.9,432.6 969.9,429 974,425.4 978,422.2 982,419.9 986,418.3 990.1,417.3 994.1,416.7 1047.5,462.4 1043.5,465.1 1039.4,467.5 1035.4,470.1 1031.4,472.5 1027.4,474.2 1023.3,475.5 1019.3,477.4 1015.3,480.5 1011.3,483.6 1007.2,486.1 1003.2,488.3 999.2,491.1 995.2,494.2 991.1,497.1 987.1,499.6 983.1,502 979.1,504.4 975,506.7 971,508.8 967,511.3 963,514.1 958.9,516.7 954.9,518.4 950.9,519.6 946.9,521.2 942.8,524.1 938.8,527.8 934.8,531.6 930.8,535 926.7,537.6 922.7,539.5 918.7,541 914.7,542.8 910.6,544.7 906.6,546.8 902.6,549.3 898.6,552.2 894.5,555.5 890.5,558.8 886.5,561.5 882.4,563.4 878.4,565.1 874.4,567.2 870.4,569.7 866.3,572.3 862.3,574.9 858.3,577.7 854.3,580.8 850.2,584.1 846.2,587.2 842.2,589.3 838.2,590.6 834.1,591.7 830.1,593.3 826.1,595.8 822.1,598.6 818,601.4 814,604.1 810,607.2 806,610.3 801.9,613 797.9,615.2 793.9,617.4 789.9,619.6 785.8,622.1 781.8,624.6 777.8,626.7 773.8,628.8 769.7,630.7 765.7,632.1 761.7,633.2 757.7,634.6 753.6,636.7 749.6,638.8 745.6,640.9 741.6,643.4 737.5,646.4 733.5,649.5 729.5,651.7 725.4,653.1 721.4,654.5 717.4,656.7 713.4,659.3 709.3,661.7 705.3,663.4 701.3,665 697.3,667.1 693.2,670 689.2,673.3 685.2,676.2 681.2,678.3 677.1,679.5 673.1,680.2 669.1,681.2 665.1,682.5 661,683.7 657,684.8 653,686.1 649,688.4 644.9,691.2 640.9,693.8 636.9,695.6 632.9,697.1 628.8,698.8 624.8,700.8 620.8,702.8 616.8,704.7 612.7,706.9 608.7,708.9 604.7,710 600.7,710.6 596.6,711.5 592.6,713.4 588.6,716.1 584.6,719.2 580.5,722.1 576.5,724.9 572.5,727.7 568.5,730.6 564.4,733.4 560.4,735.7 556.4,737.5 552.3,739.1 548.3,740.9 544.3,742.6 540.3,743.9 536.2,744.8 532.2,745.7 528.2,746.9 524.2,748.7 520.1,750.4 516.1,751.9 512.1,753.9 508.1,756.3 504,758.3 500,759.6 496,760.5 492,761.7 487.9,763.3 483.9,765.3" fill="url(#gr)" transform="translate(37 23)"/><polygon points="467.5,746.1 471.5,745.2 475.6,743.6 479.6,741.6 483.6,739.6 487.6,737.9 491.7,736.4 495.7,734.6 499.7,732.8 503.7,731.2 507.8,730 511.8,728.7 515.8,726.8 519.8,724.2 523.9,721.2 527.9,718.7 531.9,716.6 535.9,715 540,713.8 544,712.5 548,710.5 552.1,708 556.1,705.8 560.1,704.2 564.1,702.9 568.2,701.3 572.2,699.3 576.2,697.1 580.2,694.7 584.3,692 588.3,689.2 592.3,686.6 596.3,684.8 600.4,683.6 604.4,682.7 608.4,681.1 612.4,678.6 616.5,675.2 620.5,671.6 624.5,668.5 628.5,666.5 632.6,665.6 636.6,665 640.6,664.1 644.6,662.5 648.7,660.4 652.7,658.6 656.7,657.2 660.7,656.2 664.8,655.3 668.8,654.1 672.8,652.6 676.8,651.1 680.9,649.3 684.9,647.4 688.9,645.3 692.9,643.1 697,640.6 701,638.3 705,636.6 709,635.5 713.1,634.3 717.1,632.2 721.1,628.8 725.2,625.2 729.2,622.1 733.2,619.5 737.2,617.1 741.3,614.7 745.3,612.8 749.3,611.4 753.3,609.3 757.4,606.6 761.4,603.9 765.4,602.1 769.4,600.3 773.5,597.5 777.5,593.7 781.5,589.7 785.5,586.2 789.6,583.7 793.6,582.2 797.6,580.7 801.6,578.6 805.7,576.1 809.7,573.9 813.7,571.8 817.7,569 821.8,565.8 825.8,562.7 829.8,559.8 833.8,556.3 837.9,552.3 841.9,548.5 845.9,545.4 849.9,543.3 854,541.5 858,539.7 862,537.6 866,535 870.1,532.3 874.1,529.9 878.1,528.3 882.2,527.1 886.2,525.9 890.2,525 894.2,524.3 898.3,523.6 902.3,522.1 906.3,519.9 910.3,517 914.4,514.1 918.4,511.5 922.4,509.6 926.4,508.2 930.5,506.5 934.5,504 938.5,501.2 942.5,498.2 946.6,495.3 950.6,492.9 954.6,491.2 958.6,489.7 962.7,488.2 966.7,486.5 970.7,484 974.7,480.4 978.8,476 982.8,471.9 986.8,468.4 990.8,465.4 994.9,462.3 998.9,459 1002.9,455.6 1006.9,452 1011,448.4 1015,445.2 1019,442.9 1023,441.3 1027.1,440.3 1031.1,439.7 1084.5,485.4 1080.5,488.1 1076.4,490.5 1072.4,493.1 1068.4,495.5 1064.4,497.2 1060.3,498.5 1056.3,500.4 1052.3,503.5 1048.3,506.6 1044.2,509.1 1040.2,511.3 1036.2,514.1 1032.2,517.2 1028.1,520.1 1024.1,522.6 1020.1,525 1016.1,527.4 1012,529.7 1008,531.8 1004,534.3 1000,537.1 995.9,539.7 991.9,541.4 987.9,542.6 983.9,544.2 979.8,547.1 975.8,550.8 971.8,554.6 967.8,558 963.7,560.6 959.7,562.5 955.7,564 951.7,565.8 947.6,567.7 943.6,569.8 939.6,572.3 935.6,575.2 931.5,578.5 927.5,581.8 923.5,584.5 919.4,586.4 915.4,588.1 911.4,590.2 907.4,592.7 903.3,595.3 899.3,597.9 895.3,600.7 891.3,603.8 887.2,607.1 883.2,610.2 879.2,612.3 875.2,613.6 871.1,614.7 867.1,616.3 863.1,618.8 859.1,621.6 855,624.4 851,627.1 847,630.2 843,633.3 838.9,636 834.9,638.2 830.9,640.4 826.9,642.6 822.8,645.1 818.8,647.6 814.8,649.7 810.8,651.8 806.7,653.7 802.7,655.1 798.7,656.2 794.7,657.6 790.6,659.7 786.6,661.8 782.6,663.9 778.6,666.4 774.5,669.4 770.5,672.5 766.5,674.7 762.4,676.1 758.4,677.5 754.4,679.7 750.4,682.3 746.3,684.7 742.3,686.4 738.3,688 734.3,690.1 730.2,693 726.2,696.3 722.2,699.2 718.2,701.3 714.1,702.5 710.1,703.2 706.1,704.2 702.1,705.5 698,706.7 694,707.8 690,709.1 686,711.4 681.9,714.2 677.9,716.8 673.9,718.6 669.9,720.1 665.8,721.8 661.8,723.8 657.8,725.8 653.8,727.7 649.7,729.9 645.7,731.9 641.7,733 637.7,733.6 633.6,734.5 629.6,736.4 625.6,739.1 621.6,742.2 617.5,745.1 613.5,747.9 609.5,750.7 605.5,753.6 601.4,756.4 597.4,758.7 593.4,760.5 589.3,762.1 585.3,763.9 581.3,765.6 577.3,766.9 573.2,767.8 569.2,768.7 565.2,769.9 561.2,771.7 557.1,773.4 553.1,774.9 549.1,776.9 545.1,779.3 541,781.3 537,782.6 533,783.5 529,784.7 524.9,786.3 520.9,788.3" fill="url(#rb)"/></g>
<polygon points="283.4,878.7 303.5,871.6 323.6,864.5 343.7,857.3 363.8,850.2 384,843.1 404.1,836 424.2,828.9 444.3,821.7 464.4,814.6 484.5,807.4 504.6,800.1 524.7,792.6 544.8,784.9 565,777 585.1,768.9 605.2,760.6 625.3,752 645.4,743.2 665.5,734.2 685.6,724.9 705.7,715.3 725.8,705.5 746,695.4 766.1,685.1 786.2,674.5 806.3,663.7 826.4,652.6 846.5,641.3 866.6,629.8 886.7,618.1 906.9,606.2 927,594.1 947.1,581.9 967.2,569.5 987.3,557.1 1007.4,544.6 1027.5,532 1047.6,519.3 1067.7,506.7 1084.5,496.2 1031.1,449.9 1014.3,460.4 994.2,473 974.1,485.7 954,498.3 933.9,510.8 913.8,523.2 893.7,535.6 873.6,547.8 853.5,559.9 833.3,571.8 813.2,583.5 793.1,595 773,606.3 752.9,617.4 732.8,628.2 712.7,638.8 692.6,649.1 672.4,659.2 652.3,669 632.2,678.6 612.1,687.9 592,696.9 571.9,705.7 551.8,714.3 531.7,722.6 511.6,730.7 491.4,738.6 471.3,746.3 451.2,753.8 431.1,761.1 411,768.3 390.9,775.4 370.8,782.6 350.7,789.7 330.6,796.8 310.4,803.9 290.3,811 270.2,818.2 250.1,825.3 230,832.4" fill="url(#ty)"/>
<g clip-path="url(#clc)"><g transform="scale(.5)" fill="none" stroke-linecap="round">
<path stroke="#f0e66a" stroke-width="2.6" d="M658 1720q3 -6 9 -5M1689 1155l0 -7M2037 903q3 4 1 9M2063 1020q1 -4 5 -6M543 1659q-2 -7 1 -13M2043 1067q4 -2 4 -7M1815 1163q6 0 10 5M1291 1419l6 0M1401 1433q2 9 -7 9M1303 1440q4 -3 8 -1M2058 940l-6 0M1852 1123q-3 -10 8 -10M1552 1271q-6 -3 -6 3M1172 1446q5 -3 9 -6M1084 1550q-2 -6 0 -12M1588 1209q0 7 6 9M965 1578q5 1 7 -4M1723 1109q5 5 11 2M774 1616q-5 0 -11 -1M1843 1037l3 6M2055 1032q-6 1 -8 7M837 1634l-1 7M1479 1290q5 -4 8 1M570 1711q-2 -6 4 -8M1509 1348q0 4 1 8M1756 1165q1 -5 5 -7M960 1517q6 0 10 4M1550 1250q-7 6 0 12M1637 1226q-4 -1 -7 -4M2044 922q-5 6 -11 1M1893 1075q-1 -5 -6 -6M1304 1368q-8 -1 -6 6M2033 1053q1 -6 6 -9M1859 1052q-6 1 -11 4M1212 1409q0 8 -8 6M1055 1498q-3 3 -4 7M1916 1064q-2 -8 6 -11M1969 1011q6 -4 10 2M500 1683q-5 -2 -3 -7M1647 1165q4 4 3 9M1036 1531q0 4 3 7M802 1631q-5 0 -7 5M680 1684q-7 4 -4 11M923 1585l6 1M1609 1216q-7 1 -4 7M1911 1108q2 -4 -1 -8M1676 1234q-6 4 -3 10M1456 1379q5 -1 6 -6M1377 1410q2 5 7 7M1776 1217q2 -5 6 -9M1088 1520q-7 -2 -6 -10M1481 1272q-7 1 -6 -6M1605 1289l-5 -5M2085 989q-5 2 -11 3M1668 1172l5 -4M2016 956l7 -1M893 1601q7 -2 10 5M1901 1086l7 -1M2035 992q-5 2 -8 6M1775 1172l4 -6M1496 1283q-6 0 -11 3M1851 1084q-4 1 -7 4M2031 980q-4 2 -7 6M2083 914l-7 1M2053 1058q-4 2 -8 0M1142 1466q-4 3 -9 6M1856 1195q-8 -3 -5 -10M1861 1163q5 1 6 6M1397 1320q-4 -3 -8 0M2076 948q2 -6 8 -3M1798 1192q-6 -6 -13 -1M560 1632q-2 4 -7 2M1484 1352q2 -4 0 -8M1757 1182q-4 -1 -7 1M1919 1138q-2 6 -3 12M1421 1379q-5 -2 -8 -5M1133 1512l6 2M1537 1336q-5 -2 -9 -7M1088 1457q-6 1 -10 6M1095 1477q-6 -2 -12 -3M1874 1112q5 0 9 3M1795 1216q-5 -1 -8 3M1356 1408q6 -2 12 1M956 1516q7 -4 3 -10M2110 1002q6 -3 7 -10M1798 1159q-7 -5 -1 -12M1780 1170q-5 -1 -10 1M2016 1008l-1 6M987 1493q-1 -5 -6 -4M891 1540q-5 4 -5 11M1954 1025q8 -1 8 7M558 1685q6 4 5 11M1784 1084q-6 -3 -4 -9M1282 1365q1 5 5 9M1930 1066q-5 3 -7 -3M497 1675q-5 2 -11 0M1673 1242q-3 3 -5 7M1176 1503q-1 -8 6 -10M1088 1490q-6 4 -3 11M1607 1238q-1 -6 2 -12M1893 1156q-2 -14 -12 -4M859 1650l1 -7M1891 1043l-3 -6M2014 1026q-5 -2 -7 -7M1471 1349q-7 -1 -3 -7M840 1602l-1 6M1828 1186q4 3 6 7M923 1544q-4 6 4 7"/>
<path stroke="#ead622" stroke-width="2.4" d="M1787 1088l-6 -4M1267 1422q6 -2 5 -9M1875 1011l-4 5M1081 1470q-1 6 4 9M1645 1185q7 -1 12 4M1604 1235q-10 -2 -6 -11M1533 1277q7 1 11 -5M1433 1307q-8 -2 -8 -10M1940 1126q-5 0 -8 3M1620 1261q6 1 11 -4M676 1600q-6 -5 -13 -1M1770 1189q9 -2 4 -10M1883 1102q1 -6 4 -10M1452 1323q-6 5 -1 10M2009 1087q-6 2 -6 -4M2080 974q-7 5 -12 -2M942 1611q4 3 9 2M697 1611q5 2 10 4M813 1544l7 1M1866 1126q-2 -4 -6 -6M1195 1501l-6 2M1977 1059q-3 6 -7 0M1221 1389l-4 -5M1161 1401q3 4 6 8M1223 1496q1 5 5 7M2042 996q-7 -3 -1 -8M2069 948q4 -10 12 -4M1119 1493q-3 5 -8 6M1751 1215l7 -3M737 1585q5 -1 6 -6M880 1615q1 7 -5 11M1880 1144q5 1 8 5M848 1540q-3 5 -6 9M1416 1366q-1 7 -6 10M1073 1538q6 -3 3 -10M1574 1251q-1 7 -8 6M2102 957q0 8 7 10M1610 1235l7 -1M1811 1074q2 -4 2 -8M2069 943q-9 0 -8 9M1811 1069l5 -3M1698 1149l6 0M2067 919q1 -4 5 -7M1480 1278q6 4 7 10M800 1626q-5 1 -11 2M1187 1514q0 -7 -6 -9M1473 1308l-4 -6M770 1627q-7 -3 -10 4M1818 1181l7 0M1013 1535q-3 4 -4 9M1145 1481q4 0 8 2M1112 1513q-5 -1 -8 2M2071 933q-7 0 -5 7M1933 997q4 -5 1 -10M1428 1375q-2 -5 1 -9M1857 1166q-5 -8 -11 -1M2045 965q4 -4 -1 -7M1260 1446q-2 -4 1 -8M1386 1346l-6 3M1031 1475q-3 5 1 9M1826 1111q4 4 0 8M2055 1060q7 0 5 -7M504 1681l-3 -7M1626 1281l3 -7M1074 1551l5 4M1157 1516q5 -3 8 -8M1000 1558q-5 0 -9 3M1999 945q-5 -3 -1 -8M1600 1320q-5 -1 -8 2M1098 1512l5 -5M1248 1508q3 -6 -2 -11M1318 1403l-3 6M1626 1248q1 -4 1 -8M1648 1290q-4 -4 -7 1M1279 1343q-2 6 -3 12M917 1597l-3 -6M930 1594q-3 -4 -6 -7M1821 1122q-4 -5 -9 -8M2085 997l-5 4M1178 1519q5 -1 10 -1M1277 1396q3 -3 6 -5M2111 988q-2 5 -3 10M1270 1378q1 6 7 3M1373 1313q-3 -5 -9 -4M2011 1000q0 8 8 7M1539 1350q-6 7 2 13M1176 1505q2 -10 11 -6M891 1536q6 -1 11 -6M947 1548q-2 -6 -1 -12M1731 1124q3 -5 0 -10M2089 1015q5 -1 8 2M938 1563q-3 4 -4 9M1425 1420q-5 0 -6 -5M2022 944q1 -4 0 -8M788 1592q5 8 -4 11M2022 959q-2 5 1 11M2038 949q-2 -5 -6 -9M1129 1475q3 -4 8 -3M1549 1259q4 3 1 7M1019 1504q-3 -6 -8 -2M607 1645q-5 0 -9 0M2058 916q2 -6 6 -10M1822 1125l3 -6M706 1576l6 4M1837 1102q-6 -2 -11 -7M926 1620q6 -5 13 0M847 1523q-1 6 -4 11M1927 1024q-4 3 -8 5M765 1678l-6 -3M2055 920q5 1 7 5M961 1566q-1 9 -10 8M2010 999q5 -2 10 -3M742 1639l0 6M1720 1255q-1 5 -5 9M887 1517l0 -6M1658 1199q0 6 -2 11M2101 968q-5 2 -9 -1M758 1575q0 6 3 11M1734 1221q4 1 8 2M825 1624q-3 4 -5 9M1166 1441q3 -7 11 -5M1468 1283q2 -4 3 -8M1333 1409q6 5 8 -2M938 1529q0 -4 1 -9M722 1584q4 -6 12 -5M1888 1089q7 1 11 6M1913 1124q2 -5 2 -11M1202 1527q-5 -1 -10 -3M2083 1040q3 -4 8 -5M1674 1182q-5 1 -9 2M1620 1297q5 0 9 5M2114 966l-4 5M591 1648q-3 -3 -7 -4M1980 986q4 3 8 1M1256 1419q-2 -6 -9 -6M1291 1389l6 -4M1320 1383q-6 -2 -12 -4M1800 1136q-8 -2 -6 6M1334 1364q0 5 6 5M1086 1517q2 -4 4 -8M1338 1346q-1 -5 -5 -9M881 1531q-1 7 6 6M1812 1164q-7 2 -2 7M675 1625q2 -7 -4 -11M1008 1485q4 -2 7 2M1905 1087l0 -7M1476 1320q-4 -3 -5 -7M976 1548q-5 -1 -11 1M643 1614q-1 5 -2 9M970 1503q-3 3 -6 5M1609 1251q-6 0 -12 -2M1332 1327q5 -3 10 -4M1397 1357q-3 -3 -6 -7M1737 1237l-3 6M1503 1351q4 1 6 5M1327 1391q-2 -7 2 -13M778 1625q-6 1 -11 6M1601 1229l-3 5M1302 1443q-5 -2 -10 -5M643 1664q3 6 -1 11M1407 1370l6 -3M1642 1235q-1 5 -4 9M1815 1173q-9 6 -12 -4M1915 1055q-4 6 -9 1M1315 1465l0 -6M1817 1143l7 -2M815 1626q-7 -6 -11 2M2059 1052q-4 -12 8 -9M1883 1040q4 6 0 13M1320 1318q-5 -1 -7 3M1842 1022l-4 2M1127 1416l-1 7M1538 1212l0 -4M2024 922q7 7 -2 11M1455 1256l-2 4M1361 1297q-5 0 -7 5M1232 1368l-6 -1M1619 1166l0 5M984 1482l-5 -1M630 1599l7 -1M1040 1449q-3 -4 -8 -4M722 1565q5 -1 7 -6M945 1495q-2 -6 -8 -3M1791 1066l-3 -5M1116 1424l3 -3M1589 1150q-6 -2 -8 3M1625 1160l0 5M710 1571l0 -6M1440 1256q5 -3 11 -2M1867 1015q1 -5 5 -6M1337 1322l6 1M1362 1314q-3 2 -6 4M536 1644q4 -5 9 -1M1211 1360q0 -7 -7 -5M1726 1074q-4 2 -8 3M1941 990l-5 0M1121 1429l-6 1M629 1590q-7 -7 -8 2M1268 1296q9 -2 7 7M1886 987q0 6 -6 6M735 1569q-4 0 -7 4M586 1623q2 -6 -1 -11M1948 968l4 3M2005 928q0 -5 4 -7M1182 1396l-6 0M1354 1289q-4 -2 -8 -1M1496 1239q-2 -3 -2 -7M833 1527l4 -1M1483 1218l2 -5M513 1642l-1 -4M509 1627l-3 -4M509 1634q-5 2 -10 2M1768 1027q2 4 7 5M1695 1081q5 -1 10 1M1432 1278q-5 -1 -8 -5M768 1571q2 -3 3 -7M2047 910l-5 -3M1995 950l-5 2M1077 1435q1 4 2 9M1220 1377q4 1 7 -1M844 1523l4 -1M616 1607q-6 2 -3 7M806 1544l-2 4M1216 1381q-2 3 -4 6M2011 921l-6 2M975 1484l-2 7M973 1477l-5 5M1238 1349q6 1 4 7M520 1618q5 5 8 -2M622 1601q-2 -4 -4 -8M881 1509q-5 0 -8 -4M1488 1223q-1 -6 4 -8M1284 1330q-2 6 5 7M2052 904q1 5 5 8M1736 1051l1 4M1131 1398l4 2M890 1525q-2 -5 3 -8M1438 1269q4 -2 6 -5M740 1563l3 5M1987 946q-8 -1 -5 -9M815 1523q5 -5 10 1M1016 1459q-4 -2 -8 -2M1136 1419l2 -4M1494 1243q-5 0 -7 -5M587 1597q-5 1 -9 2M1447 1277l0 -6M703 1583l0 5M1663 1138l2 6M2023 883l-2 5M627 1599q-5 5 -9 -1M1203 1375q-6 -2 -9 3M1675 1133l6 3M1176 1397q1 -5 1 -10M2049 878q-5 5 -10 0M835 1521l-5 4M1546 1207l1 4M843 1521q3 -3 3 -7M1695 1106l2 -6M1561 1193q-4 3 -9 5M1036 1466q-7 -4 -9 4M1985 950l-6 -1M1544 1205q-8 1 -6 8M1485 1244l-6 4M1502 1233l0 -6M2034 899l5 -2M1312 1304l5 3M1988 942q6 4 10 -2M830 1517q1 5 2 9M1047 1453q-4 -4 0 -9M1095 1429q-11 3 -2 11M2038 912l-4 5M688 1579l6 -3M1150 1411l4 4M1338 1301q-3 4 -8 5M1073 1443q-2 -8 6 -4M1030 1457l0 6M1876 1009q-5 -7 -8 1M1666 1134l5 3M1010 1459l-4 2M1333 1324q-1 -4 2 -8M736 1566l2 -5M1022 1463q-4 2 -5 7M791 1529l-2 3M1560 1184q-1 4 -2 8M1916 995l4 2M694 1589l5 -4M1251 1358l-3 2M653 1600q-1 6 4 8M727 1574q-3 -5 -8 -8M1588 1167l-5 -4M1021 1462l4 4M531 1623l-3 -4M1771 1047q-4 -2 -8 -3M1536 1194q5 -4 10 -1M1251 1313q3 5 8 3M1365 1318q-2 -5 -1 -11M1888 995l6 -1M1945 975l4 -5M804 1532l2 5M1190 1378q-4 3 -8 1M1287 1351q-4 -1 -8 -1M821 1523l-3 2M1420 1283q-2 4 -2 8M1229 1336q5 8 10 0M1466 1260l3 -4M1566 1195l6 -2M1375 1299q-4 4 -8 6M1476 1248q-4 -7 -11 -3M1864 1009q-5 2 -10 3M922 1496q2 3 2 7M1488 1240l5 1M1405 1286l2 -5M955 1497l5 0M995 1464l2 -4M1395 1300l5 -4M949 1493l3 -1M1993 921l-5 4M536 1609q6 -1 6 -6M1729 1054q5 -2 10 -2M1863 998q-4 0 -8 -2M1212 1364l0 -5M1243 1332q4 -1 9 -2M867 1517q5 -7 8 1M844 1517q2 -4 5 -5M960 1485q-3 5 1 8M1813 1046q-2 8 -10 4M1082 1442q1 -5 6 -6M1408 1294q-4 -6 -10 -3M1233 1368l-4 -2M886 1515q5 -1 7 -5M897 1514q0 6 5 7M512 1639l-2 -3M665 1603q-3 3 -6 6M670 1602q-4 -7 -9 0M1882 1000q8 6 9 -4M752 1559q-3 -3 -7 -3M1034 1455q4 -2 7 -1M1544 1194l2 5M1861 1038q-6 -1 -5 -7M953 1492l-4 1M1212 1359q-5 1 -7 6M1986 923l1 6M1473 1247q2 -4 0 -7M469 1653l-4 -2M1716 1119q-3 3 -8 4M1489 1251q0 -5 3 -8M854 1532l3 -2M907 1496q-7 -1 -8 -7M1205 1384l3 5M753 1563l1 -6M1790 1065q10 -1 5 7M1722 1105q4 -4 10 -3M481 1636q4 0 7 3M597 1608l-4 -2M612 1609q7 2 5 8M640 1596q1 6 -1 11M1978 938q-4 1 -7 4M1792 1017q-2 4 -3 9M1415 1264q0 4 -4 7M1915 1003q2 -4 2 -9M982 1486l-1 -5M2036 904l-5 2M985 1476q-3 3 -5 6M1425 1275q8 8 9 -4M1951 981l-4 -3M1375 1283l4 1M1220 1372l1 -4M1145 1397l-3 -6M921 1506l3 3M1615 1166l4 4M1597 1163l6 1M927 1498l-6 1M545 1616q5 -2 2 -7M1577 1193q-4 7 -9 0M1848 1026l2 -5M1257 1310l-4 4M1618 1177q1 -4 5 -6M564 1624q-4 4 -3 9M698 1572q0 -4 2 -8M1045 1461q-4 -2 -8 -4M925 1476q-6 -3 -10 3M547 1630q3 -5 7 -1M1539 1210q-6 3 -5 9M1135 1417l-6 2M1115 1429l-5 -2M518 1650q-5 -1 -9 3M1951 979q-1 -4 1 -8"/>
<path stroke="#d8c81a" stroke-width="2.3" d="M1647 1177q5 -2 5 -7M2100 1006q5 0 8 -4M1757 1176q3 -6 10 -6M1132 1537q-6 1 -12 -2M733 1589q-8 1 -8 9M2097 953q-7 8 -10 -2M1443 1352q4 1 6 5M2119 969q-7 8 -12 -1M1402 1391q5 -3 11 -3M729 1646q6 -1 9 -7M1511 1277q4 -4 8 0M1340 1343q6 2 11 5M1902 1004q8 -2 2 -8M1700 1276q-8 1 -11 -6M1490 1296q6 0 11 3M1935 1067q2 -9 10 -7M1864 1148l5 -3M748 1623q4 2 8 2M1977 1086l-4 -4M1933 1092q6 0 10 5M1262 1394l1 -6M1019 1544q-10 -7 2 -11M1342 1388l6 1M2033 969q-1 4 -1 7M1805 1186q-7 -3 -10 3M915 1607q-5 7 -8 -1M1487 1343q3 5 5 11M1263 1471q5 1 9 0M828 1580q1 -6 -5 -5M1331 1423q5 0 9 3M1695 1193q0 5 1 10M1826 1199q6 0 4 -6M1164 1531q3 -4 8 -6M976 1559q2 -4 6 -7M853 1613q1 -5 6 -4M2014 938q5 3 4 8M1546 1340q1 7 8 7M1658 1265q4 13 11 1M1339 1374q5 0 6 -5M718 1628q-1 6 1 12M1609 1221q-5 1 -10 3M2000 1034q-1 6 5 8M1796 1120q-1 -5 -6 -7M1549 1256q5 -4 10 0M819 1596q5 2 8 7M1572 1215q-2 -6 4 -7M1972 1085q4 -4 9 -2M1311 1447l2 7M1430 1288q7 0 9 8M1153 1528q5 -12 13 -1M1953 1015l6 0M1973 1024q5 1 8 5M1748 1175q-3 3 -5 6M1857 1103q0 -6 -5 -10M1172 1480q1 4 -1 7M1902 1001q-4 1 -7 -2M2053 1020q4 -4 10 -6M1822 1156l-5 5M1744 1222q8 0 9 8M1663 1275q5 -5 11 -2M1492 1363q-2 -5 1 -10M664 1686q-6 0 -8 5M1993 1093q-3 7 -11 4M1844 1154q4 3 2 8M571 1675q-4 1 -8 0M936 1513q2 -6 3 -11M1644 1244l1 -6M1239 1393l1 -7M2092 1006q2 5 4 11M1004 1514q-4 -3 -8 -1M1565 1324q6 5 12 1M1442 1402q4 1 7 0M707 1595q-1 3 -2 7M1960 1076q5 -1 10 0M1557 1233q4 -1 8 -3M1165 1481q5 -1 7 -6M685 1629q3 6 7 10M1843 1153q1 8 -6 11M722 1663q3 -7 -3 -10M2089 954q-6 10 6 11M1999 1026q-2 -5 2 -9M912 1582q4 4 5 9M1573 1227q-2 6 -5 11M1774 1230q0 -10 8 -5M2119 950q5 2 8 7M584 1736q3 -4 7 -3M1623 1295q5 1 11 0M1863 1114l3 -6M1806 1196q5 -1 5 -6M671 1618q4 -5 6 -11M2010 1079q-1 -7 6 -7M1060 1496q-4 0 -7 3M1416 1353q3 -5 -1 -10M2127 964q3 3 7 2M1944 1005q2 -3 1 -7M1749 1154q-5 -5 -9 1M1639 1223q-1 6 0 12M1693 1193q-2 -5 -7 -5M1073 1530q0 4 -1 8M1737 1108q3 -5 -1 -10M1851 1087q7 -6 -1 -10M2117 952q-7 -3 -10 3M1046 1523q-5 4 -11 6M943 1559q-3 -7 -11 -5M1515 1332q9 -3 4 -11M981 1507l-5 4M1000 1541q4 4 2 9M1598 1196q1 5 -2 8M1190 1435q-3 -6 2 -11M1955 1017q5 2 10 2M1908 1146q-6 1 -12 4M2110 988q8 0 10 7M1350 1320l-1 -7M1959 1095q7 -1 10 6M1428 1371q1 8 8 5M1559 1293q-14 0 -5 10M1302 1434q1 -7 8 -7M1155 1432q-6 -1 -7 -6M1090 1560l4 -5M1914 1107q0 5 3 10M1450 1403q0 -6 -2 -11M1866 1107q-4 2 -8 4M1691 1174q6 2 12 2M1671 1183l-5 4M2070 956l-3 -7M917 1507q-5 4 -9 -2M1942 1023q8 5 0 11M1454 1363q11 -2 4 -11M1530 1357q-3 -7 4 -9M1658 1219l5 5M1197 1463q-4 -3 -8 -1M1807 1064q-3 -3 -7 -5M1726 1108q-10 5 -1 12M691 1657q-10 2 -5 10M1447 1328l6 2M1073 1450q4 1 5 6M801 1590l-3 6M1837 1080l-6 3M1764 1138q5 6 8 0M1781 1135q-9 -4 -4 -12M2073 927q-4 -10 -12 -2M1928 1012q-1 5 2 10M1453 1348q-5 -3 -11 0M1429 1291q0 4 -2 8M1865 1179q5 -3 10 -7M1084 1443q9 1 10 -8M2080 1014q-3 4 -6 8M1129 1470q3 -4 2 -9M1352 1433q7 -7 -1 -11M701 1614q0 -4 1 -8M1867 1081q-1 -6 -7 -10M1718 1162q-5 -1 -7 -4M742 1618q7 -7 -2 -12M554 1682q4 4 10 6M1580 1259q-2 4 -7 6M1966 1097l-6 0M1802 1156l-6 4M1341 1460q3 -3 6 -6M1716 1243q7 -3 12 3M1818 1202l5 -3M1841 1083q-6 0 -9 6M569 1682q-4 1 -7 1M1870 1111q-9 3 -9 -6M1727 1167l-1 7M527 1688q4 -2 8 -4M531 1688q-3 2 -7 3M579 1714q-7 0 -9 7M1465 1312q6 1 10 5M1217 1383q6 1 11 -2M634 1703q-4 -2 -8 -4M2100 1020q4 -1 6 -5M1932 1038l-3 7M842 1539q-11 1 -4 -8M1539 1210q0 5 -5 5M1292 1344l2 -3M1399 1300l-3 2M1931 984q0 4 2 8M566 1619l2 -3M2005 932l-3 3M541 1603q-5 -1 -9 0M912 1492l5 4M1799 1062l-7 0M2066 901l-4 -3M1185 1380q-4 9 5 9M822 1524l1 7M1297 1336q-3 -4 -5 -9M1849 1031q7 7 9 -2M1524 1189q-6 1 -9 -4M2039 907q-3 -4 -1 -7M1799 1069l-2 4M572 1613l4 -6M1643 1141q2 -4 5 -6M2039 908l-1 -4M570 1627q3 4 6 8M1690 1125l4 -2M1396 1296q5 1 8 5M1600 1172l-4 4M1935 974l-6 -4M1206 1384q-5 2 -7 -2M1949 986q-5 -2 -10 -3M578 1591l-4 5M516 1647l2 -5M485 1642q1 -4 2 -8M724 1572q-5 -1 -8 -5M1192 1383l0 6M1997 947l3 -5M820 1533q-3 5 -10 5M777 1557l5 4M1663 1095l6 2M774 1529l-5 4M1117 1394l7 0M795 1551l-4 5M1667 1135l-2 4M925 1482q4 -4 9 -4M1186 1386l5 -2M578 1623q-7 -1 -7 5M1287 1337q-5 -1 -7 -6M1823 1051q3 5 1 10M941 1496q-4 2 -7 5M1966 958l-6 -1M2062 886l4 -1M1071 1422q0 -10 9 -5M1174 1383q-4 6 -9 2M1714 1076q8 -4 2 -10M1423 1284l-5 -5M772 1557l-4 -1M525 1644q5 1 9 2M1043 1464q2 -8 -7 -8M1867 1022l-6 3M1812 1059l1 -4M1358 1310q5 1 9 -1M1985 948q-5 1 -10 3M1272 1308q2 -5 8 -7M1065 1436q2 -4 2 -9M1191 1389q-2 -5 -6 -6M1968 944l-4 1M1536 1215q-4 -4 -9 -5M1504 1222l-3 -4M1819 1056l-7 2M963 1490q0 7 -6 6M684 1594q1 -4 4 -7M1178 1403l6 -1M1312 1311q1 8 8 5M1402 1292l-3 -1M783 1552l-4 4M872 1522q-5 1 -7 5M556 1612l-3 2M1071 1419l-2 -7M1994 945q8 3 4 10M1028 1458q-5 1 -9 -3M858 1522l-5 5M959 1480q-4 4 -2 9M583 1598q4 1 9 3M1622 1144q4 3 5 8M474 1665l-4 1M1237 1375l-4 -2M1000 1476l3 -5M1804 1043l1 -5M1041 1469l2 -4M1661 1118l1 4M2026 899l2 -5M1068 1429l6 3M1207 1378q3 3 4 8M518 1625q-4 4 -7 -1M937 1493l-3 6M1103 1421q-4 6 -8 0M1519 1223l-3 -5M1032 1470q6 2 10 -3M792 1542q0 -5 1 -9M1617 1151q-4 -5 2 -8M817 1527l-3 -4M1782 1035l-1 -5M1018 1467q-3 6 3 9M475 1658l-5 -1M917 1509q0 -8 7 -5M1661 1111l-2 3M1917 988q5 -2 10 1M753 1570q9 1 6 -7M1263 1334l1 6M1966 950l-4 3M898 1500q-5 2 -9 6M1597 1183l-2 -7M856 1506q-6 4 -8 -3M1417 1270l-1 4M1226 1351l5 -4M692 1593l-4 2M1226 1349l6 -2M633 1587l4 -4M466 1645l4 -2M1204 1382l3 4M1604 1151q9 -5 8 5M1791 1060l7 -2M909 1511l1 4M1563 1205q7 -1 4 -8M1257 1336q-1 -4 0 -8M1746 1090q-6 0 -8 -6M1338 1303l5 3M1795 1022q-6 -1 -9 5M1466 1244q-5 -4 -11 -1M1516 1203l4 0M944 1486l-3 5M1238 1366l4 -2M800 1552q2 -4 5 -9M1400 1298q4 -8 10 -2M562 1621q4 -3 5 -8M760 1556q-7 -2 -4 -9M501 1636l3 -5M1061 1452l-4 3M1067 1431q-4 3 -9 2M835 1532l-1 4M1321 1336q0 -6 5 -8M757 1564l-6 -1M743 1572l-6 4M1658 1135l0 -7M1931 983l6 3M942 1487l3 2M608 1603q4 -3 3 -8M689 1578q4 3 8 3M1322 1297l2 3M1209 1343q-5 1 -9 4M1567 1202q-5 1 -6 6M2044 871l3 -2M1605 1180q2 6 7 7M1166 1387l4 3M1217 1352q-3 4 -7 6M1309 1328q-5 1 -7 -4M1435 1266q-5 1 -8 5M1146 1383q3 4 7 7M1811 1033q3 5 1 11M900 1508q5 0 7 -5M1428 1280q-7 -1 -8 5M1997 913q12 6 9 -7M1100 1428l-2 -5M697 1589q-4 -2 -8 -3M1132 1415l3 -1M932 1491l-4 1M1655 1129l5 -4M1110 1421l-2 -4M991 1466q4 6 -3 8M480 1657l3 -2M701 1584q-6 2 -4 7M1995 921l-2 4M1700 1048q0 5 5 5M1277 1334q-5 -4 -1 -8M555 1625q-6 3 -10 -3M617 1612l1 -6M1184 1398l-4 5M2024 910l2 -4M1549 1211q-3 3 -8 6M1318 1295q4 -1 8 -2"/>
<path stroke="#8f8210" stroke-width="1.8" d="M1643 1186q2 4 4 9M1849 1172l-7 0M1791 1169q0 9 -9 6M1525 1301q-3 -7 3 -10M1991 1069q4 6 1 12M782 1604q-1 -7 3 -12M957 1551q-3 -3 -7 -5M1371 1408l-2 -6M1937 1069q-3 2 -7 1M1890 1100q-3 3 -8 3M1524 1344q3 -5 9 -3M1435 1363q-7 4 -1 11M1364 1370q4 -1 7 -4M1888 1172q-1 -7 -8 -6M1631 1216l6 -3M1428 1299q-3 -3 -2 -7M1388 1361q14 3 8 -10M1887 1115q-8 -3 -9 6M669 1674q3 5 5 10M1529 1295q8 1 7 -7M1673 1180q-6 1 -6 -4M1332 1435q4 6 -2 11M1044 1489q4 7 11 4M1415 1400l-7 -1M1534 1229q-5 5 -11 7M1839 1061q-6 0 -12 2M1790 1218q-3 4 0 9M1322 1436q4 -9 10 -1M1004 1579q-1 -7 -7 -6M2067 918q6 -5 11 1M1917 1046l-1 7M1595 1221q-4 2 -7 1M844 1559q-2 4 -6 7M748 1644q4 -1 7 -3M884 1582q2 -4 3 -8M2030 1037l6 2M1190 1430q-3 3 -7 3M1652 1151q3 4 8 3M619 1693q-6 -2 -5 -8M1509 1291q-7 2 -6 10M1884 1029q-4 -7 -10 -1M1436 1328q1 -4 5 -6M1890 1009q-6 2 -7 8M772 1619q-5 -6 1 -11M1719 1264q-8 -4 -1 -9M867 1617q11 5 10 -6M2034 1008l4 -5M1103 1506q0 -4 0 -8M1382 1429q2 -5 7 -3M1897 1058q-2 6 -6 11M1655 1202q-3 -3 -6 -6"/>
<path stroke="#f0a224" stroke-width="2.4" d="M1516 1269q-5 3 -11 5M819 1606q-3 4 -3 9M1212 1483q-7 2 -6 8M1889 1151q6 -2 5 -8M1708 1202q1 -6 4 -10M666 1669q-7 -2 -10 4M617 1678q5 -1 7 -7M1198 1502l-2 6M967 1601l-7 1M694 1595q5 -2 11 0M1446 1333q8 2 4 9M2013 1042q-1 -5 -5 -9M1748 1121q8 -2 5 6M1742 1113l6 -1M963 1521q5 0 10 1M1527 1263q-7 3 -7 10M1676 1152q6 0 11 -3M636 1630q3 -6 4 -12M563 1661q-2 5 -6 8M1424 1367q5 10 12 1M1647 1244l-6 1M650 1611q6 1 11 -4M1181 1401q-4 3 -7 8M1942 1021q1 -6 -3 -11M1890 1053l7 -1M644 1633q4 0 8 -2M661 1671q0 -7 5 -11M2020 1027q-1 -4 -2 -8M1839 1107q9 2 7 -6M714 1660q-4 0 -7 3M1614 1260q1 -6 7 -7M1033 1498q6 1 12 0M688 1612q-8 -4 0 -8M1887 1044q-1 -4 0 -8M1718 1111q3 -5 9 -5M1906 1001q-6 2 -7 7M1946 1125q-4 -5 -3 -12M1169 1433q0 -4 0 -8M1024 1573q-1 -6 -6 -7M1003 1557q-10 1 -7 11M1514 1268q3 -10 12 -4M2089 940q3 3 8 4M1437 1396q4 1 7 3M1320 1382q-3 -12 -11 -3M1169 1444q1 6 -4 6M1074 1553l-7 1M1241 1401l7 2M1518 1282q-5 -1 -8 3M563 1733q-9 1 -7 10M1499 1347q-3 9 7 11M1959 1002q-1 6 0 13M1058 1500q1 6 4 11M2062 956q-6 2 -9 7M1931 1014q4 -2 9 -3M1363 1298q2 8 -5 12M1652 1162q3 -8 -5 -10M1071 1538q1 -6 6 -9M1865 1080q-5 -4 -4 -11M1649 1141q-3 -6 -10 -8M1522 1348q4 5 10 4M2114 998q-5 -8 -12 -1M1968 1049q7 -1 7 6M1805 1119q4 -2 7 -6M1532 1227q-2 7 -7 2M1764 1124q5 0 9 -4M952 1557l7 0M1311 1329q5 3 8 7M2059 945q-4 1 -8 0M665 1661q6 -7 -3 -11M1832 1177l-4 5M924 1565q6 2 7 -4M548 1665q4 -2 8 -1M1700 1124l2 7M1612 1262q0 7 -7 8M756 1663q-5 -2 -11 -4M1499 1367q-8 6 -9 -4M872 1532q2 9 -7 7M1110 1512q-4 -5 -5 -11M1594 1222q12 0 5 10M1186 1453l-5 -3M1991 974l6 3M1269 1411q2 -4 3 -9M1983 1003q9 -1 5 7M1143 1470q0 6 1 12M1155 1514q4 -5 5 -12M667 1704q-7 -3 -8 -10M1610 1189q-4 5 -1 10M1217 1475q-1 4 -3 8M1578 1315q-5 -3 -7 -7M1913 1109q-2 -3 -4 -6M516 1652q-5 -4 -11 0M1256 1337q-2 4 -4 7M1711 1213q4 1 7 -2M848 1541q3 -3 7 -5M995 1562q-5 -2 -3 -6M663 1694q-7 3 -11 -3M2058 955l-3 5M2140 985q-1 -6 1 -12M2072 1004q-7 1 -7 8M2003 953q9 -3 1 -8M1717 1112l-5 -4M1951 1098q-8 -1 -9 -9M1824 1133q3 7 10 5M1852 1173q10 -5 2 -12M1515 1295q1 -7 7 -10M1130 1487l3 6M1952 1000q-1 -6 1 -12M766 1673q4 3 9 5M1930 990q0 12 -10 7M649 1600l6 -1M904 1518l1 -7M1844 1116q4 6 11 5M682 1596q-1 8 -9 5M850 1553q-6 -2 -9 4M1338 1325q3 3 8 2M1229 1470q-4 5 -10 2M1935 1095q-2 -5 -7 -7M1314 1447l1 -7M1207 1481q7 2 6 9M1949 1113l3 6M1066 1506q-6 -1 -6 5M1933 1050q2 6 7 9M736 1616l2 -7M1970 985q4 -5 1 -10M740 1660q0 -5 -3 -10M1771 1127l6 4M1855 1123q-2 -6 4 -7M1412 1277q4 -5 1 -12M1829 1116q4 0 8 0M1218 1386q5 -3 9 1M1342 1405q-5 -4 -4 -11M1986 1063q1 -6 3 -12M1272 1409q5 -1 6 -6M1370 1330q-5 -6 0 -12M493 1642l2 6M1276 1444q3 8 10 4M1971 953l-4 5M997 1519l-2 -6M1572 1203q-1 4 -1 9M1546 1222l3 -6M1932 987l5 3M1838 1090q2 7 7 2M1466 1286q-8 2 -3 8M1777 1110q1 4 1 8M1855 1108q5 -1 7 4M1653 1151q-5 0 -9 3M1639 1253l6 0M743 1586q-4 0 -7 -2M933 1516q7 -2 11 4M2055 1024q-4 -11 -10 -1M960 1541q3 -2 5 -5M1067 1573q10 4 10 -6M1775 1103q-3 9 -10 4M1953 1045q-2 6 4 7M1994 1049q-5 -4 -11 0M1290 1371q-1 5 1 9M1352 1373q-2 5 -4 9M658 1662q-4 -4 -8 -7M1901 1115l-1 7M1537 1274q-5 0 -7 -5M1901 1017l0 -7M1897 1111q-2 6 -8 9M1930 1119q-5 2 -4 8M1441 1365l-4 -6M1586 1263q4 3 7 8M1036 1539q2 -6 -4 -10M729 1658q-5 -2 -8 2M729 1663q-5 -4 -10 -1M1399 1409q-6 3 -11 6M990 1526l-6 -1M2075 957l-6 3M1430 1322q-2 -7 -9 -7M2033 1026q1 4 -2 7M2040 1027q3 3 7 5M1981 1053q4 -3 8 -6M1502 1314q9 3 4 11M1563 1258q-6 -1 -7 4M688 1593q-6 3 -11 -1M1972 1010q2 -5 7 -8M1679 1178q-4 0 -9 -2M1998 950q1 -4 0 -8M1840 1170l6 -2M1558 1331q5 -2 11 -3M964 1584q-2 4 -6 5M727 1597q7 -8 11 2M718 1576q-3 -2 -7 -3M2050 987q4 4 0 9M1902 1128q-7 -3 -10 4M1398 1414q-2 4 -7 6M1477 1293q1 7 -6 6M1374 1346q6 -4 -1 -7M1743 1149q5 -4 7 1M1905 1013l2 7M1587 1164q-2 -4 -6 -5M1580 1180q1 5 6 8M2104 931q-5 -2 -9 -1M1971 1072q0 6 6 5M2147 973q1 5 5 8M1407 1371q-5 5 -4 12M1554 1275q-6 2 -12 4M2005 926l5 -3M1459 1317q-6 1 -9 6M2161 962q-2 4 -2 9M689 1655q-2 -4 0 -8M1163 1474q-3 4 0 7M1571 1232q-5 -1 -9 -2M605 1646q-3 -4 -8 -7M721 1574q-5 -2 -11 -1M1751 1126q3 -8 9 -2M1677 1126q5 -4 2 -9M1908 1131q4 0 8 0M1064 1571q6 -3 12 -2M1482 1269q-1 4 -1 8M1410 1387q5 2 8 -2M1882 1065l7 -1M575 1623q-6 -4 -7 2M741 1574q5 -4 11 -3M1162 1488l-3 6M1452 1288q0 11 8 4M1367 1366q3 -3 5 -6M1625 1198q-4 4 -10 5M1154 1414q2 4 -1 8M1757 1132q6 -2 10 -8M1211 1508q-2 -7 -10 -6M1454 1336q2 5 5 10M1603 1169l1 7M1942 1069q-3 8 -11 6M1980 1018l-6 1M732 1589q-2 5 -8 4M540 1713q-8 -3 -5 5M1212 1484q-5 0 -9 4M593 1650q-4 1 -6 4M1337 1356q5 -4 9 0M886 1621q5 -3 11 -6M1605 1318l-5 -3M680 1672q-4 -8 -12 -3M1448 1349q-7 1 -12 -4M1637 1283q4 0 8 1M557 1635q-3 3 -6 6M1753 1094q-4 1 -9 1M1380 1336q-4 -2 -7 1M1409 1341q-4 -5 -7 0M1525 1215q-4 2 -8 -1M1591 1235q5 -2 7 -8M1146 1473q-4 -1 -7 -3M1597 1301q5 -6 12 -2M1099 1505q-4 4 -7 9M923 1581q-4 -6 -11 -5M1229 1447q7 7 -2 11M682 1676q-5 -3 -9 -5M2002 1014q-1 6 -3 12M561 1737l-5 -5M1586 1201q3 -3 3 -7M1599 1296q4 4 6 10M644 1645q5 2 11 1M1925 1012q-2 5 -3 10M992 1550q-5 -2 -8 -7M1163 1517q3 5 8 2M1899 1130q4 -2 7 2M1085 1476q-5 0 -9 4M981 1594q7 1 5 -6M1058 1520q-7 2 -12 -4M1541 1237q12 7 0 13M1852 1116q-4 3 -2 8M2090 901q5 2 11 5M1961 1094q5 13 -8 9M614 1620q-3 -6 -5 -12M1677 1187q2 3 5 5M1266 1407q5 1 9 4M1596 1241q1 7 8 4M752 1668l5 -4M1355 1423q2 4 3 9M1219 1458q5 4 12 5M1538 1240l6 0M1315 1365q15 1 5 11M1038 1476q-5 -7 -12 -2M1005 1528q4 0 7 -1M772 1619q-4 3 -9 1M1624 1224q8 3 6 11M1270 1393q4 0 8 -3M520 1714q1 -4 -2 -7M1318 1441q3 -4 6 -7M1943 1002q7 -6 1 -12M1423 1280q-4 -2 -4 -7M1445 1276q-4 0 -8 -2M1790 1108q6 2 8 7M1385 1344q5 -3 9 -6M1712 1119q6 2 13 -1M1507 1358q0 -4 1 -8M854 1568q-3 6 2 10M1712 1238l-1 7M548 1628q-5 -1 -7 -6M1395 1350q-6 3 -1 8M1690 1224q-5 3 -10 1M1755 1115q2 -6 -4 -8M1697 1154q2 5 3 10M1643 1160q-1 5 -7 4M1041 1487l-2 -7M1953 1100q5 4 12 5M719 1668q-7 1 -7 7M1066 1541q3 -4 9 -6M2053 936q5 5 -1 9M1314 1341q-4 -6 3 -7M1753 1165q-6 6 -12 0M776 1614q4 -4 10 -4M1001 1581q-6 -5 -12 1M1928 1072q-4 3 -6 8M1786 1210q4 3 10 3M1487 1344q-7 -4 -12 2M1206 1490l6 -1M636 1675q-6 2 -8 8M954 1537l7 3M1448 1267q6 -3 11 3M1033 1535q-4 -1 -7 -3M1590 1207q-5 8 -11 2M754 1559l-4 5M1880 1126q-4 5 -2 11M1304 1423l-3 -6M1760 1134q3 8 -5 12M1526 1266l-7 0M1039 1559l-5 -4M1503 1324q7 1 7 -6M1408 1357q-7 -3 -13 1M1591 1298l-6 -3M1163 1487q-8 1 -8 10M1379 1423q-6 -1 -11 2M720 1654q-3 1 -7 3M1512 1219q0 5 2 10M684 1601q-3 5 -2 11M923 1537l4 -5M2078 953q6 0 7 6M575 1736q-5 1 -9 5M1866 1068q-7 -5 -1 -12M1801 1069q2 7 -4 10M651 1679q-5 -3 -10 -4M1949 999q3 -5 9 -3M1010 1581q7 -1 11 -6M2050 991q-4 3 -8 0M747 1574q-1 10 -11 7M1865 1091q-4 3 -4 7M1650 1205l-7 0M665 1692q2 -5 -2 -10M1619 1292q-1 -5 4 -6M1931 1042q2 -5 4 -9M741 1572q-1 -5 3 -7M1873 1091q-6 -3 -10 3M1207 1517l-6 1M1719 1138q-4 -1 -7 2M1595 1171q-6 -5 0 -10M624 1600q-4 1 -7 1M687 1617q-4 -4 -3 -9M1010 1554q-4 5 -1 11M1476 1338q-3 -6 -9 -4M1705 1174q-2 6 -8 8M1871 1143l5 3M1297 1418q-6 -2 -3 -8M1731 1189q-3 -5 -4 -11M1387 1356q5 6 1 12M556 1710q-1 5 -4 10M1212 1512q-10 -1 -8 9M1898 1130q8 4 2 11M1168 1534q-5 4 -10 2M1940 1103q-8 -1 -9 7M1663 1145q4 1 9 0M1916 1113q-3 -2 -7 -3M1472 1328q4 -1 8 -3M1870 1093q4 2 7 0M552 1683q2 4 0 9M1341 1312q-1 5 1 10M1349 1401l6 2M1882 1069q-5 5 -10 8M566 1675q-5 -6 3 -10M830 1592q-4 3 -5 8M995 1503q4 7 12 4M1952 989q-6 -1 -9 -6M1423 1309q2 -5 1 -9M1496 1253q0 5 -4 8M1467 1320l6 1M1844 1062l-4 5M1544 1221q-5 8 4 11M1160 1485q-5 -8 5 -10M1454 1307q0 -4 3 -6M1851 1095q-5 4 -12 3M856 1598l3 -6M965 1495q0 8 8 9M1450 1394q5 -6 12 -2M1728 1170q-4 3 -2 8M1409 1352q6 -1 6 5M1005 1599q2 -3 4 -7M1372 1424q-4 3 -6 7M1867 1154q-4 0 -7 3M844 1582q-3 4 -1 8M1147 1478q-6 0 -11 3M989 1562q-3 3 -7 1M1752 1067q-2 -6 -1 -12M1970 957q-5 1 -8 4M1953 967q-4 -2 -8 0M872 1551q-4 3 -9 2M1852 1043q-6 -5 -11 1M1301 1424q6 2 8 8M927 1601q3 2 6 5M569 1657q3 -3 4 -6M2044 920q6 1 11 5M1902 1126q1 7 -5 5M579 1672q5 1 6 -5M1446 1329q6 0 11 -1M1604 1208l4 -5M1088 1432l-6 0M1628 1303q4 -5 0 -9M1464 1389q4 -3 9 -1M1477 1257l6 -2M1733 1201q7 3 6 10M1850 1050q6 2 4 7M1964 986q4 4 8 0M673 1604q6 0 11 1M1901 1006q3 -4 0 -8M1066 1496q4 -2 7 -5M1546 1279q2 -6 -2 -11M676 1644q-5 4 -5 11M565 1611l3 6M2025 1029q-4 -4 -5 -11M1176 1463q2 -5 6 -6M1109 1519q-1 5 -6 7M1938 1031q-5 -2 -11 -4M858 1620l-6 2M1275 1360q6 1 7 -5M1752 1197q-3 5 -8 2M1377 1340q-3 -7 5 -8M1027 1581q-2 5 -6 8M1293 1464q4 3 9 2M1214 1464q-7 3 -5 11M1382 1293q-4 -1 -7 1M1025 1500q-1 6 -7 8M692 1584q0 6 -5 10M1934 1109q-4 -1 -9 -1M614 1657q-8 1 -10 -7M1195 1437q6 -1 10 -5M529 1653q-3 -4 -1 -9M753 1563q3 -4 8 -3M679 1613l-5 -5M1765 1107l4 -6M1223 1389l-5 -3M840 1615q-4 -3 -8 0M1927 1030q5 2 10 3M1550 1324q5 1 6 -5M1734 1258q-11 3 -7 -8M1550 1229l5 -3M934 1595q5 1 8 -3M1747 1178q-4 2 -8 5M1806 1146q1 -6 -1 -11M1945 1007q4 2 8 0M1644 1166q-1 5 -1 9M932 1511q-4 0 -7 3M1261 1487l6 -3M1533 1226q4 2 7 5M1071 1478l4 5M1968 985q-6 5 -12 0M2004 1032l-7 1M975 1509q-5 0 -8 -5M1504 1318q3 12 -9 9M1989 1006q-5 -3 -8 3M1428 1258q-5 1 -7 6M1694 1117l4 5M1210 1397q5 2 7 7M1410 1320l6 0M1722 1227q-6 0 -9 -5M1211 1506q-6 1 -10 4M1595 1173q-1 6 2 11M1406 1324q-5 -1 -8 3M1879 1108q-6 -1 -10 3M1703 1079l-3 5M1272 1458q-6 -5 -1 -11M1068 1531q0 -7 6 -10M1763 1129q-2 -5 -5 -9M1471 1278l-7 2M1639 1250q3 5 9 7M1452 1325q-2 -4 0 -9M1501 1321l-2 -6M1772 1147q-2 5 -3 10M1472 1281q3 11 -8 10M2079 1025l-2 7M1396 1378l-5 5M2045 1024q5 7 10 -1M1105 1488q-1 7 -9 7M1330 1418q4 5 8 9M1731 1133l6 -3M1528 1241q-5 -4 -5 -10M1618 1295q-6 -1 -11 2M888 1583q3 -3 3 -7M1621 1248q1 5 0 10M840 1596l-6 3M1839 1135l-5 -4M1961 1046q-1 7 -8 6M584 1642q-5 -3 -10 -3M596 1670q2 -5 3 -10M1518 1267q-5 0 -10 1M1675 1255q0 -4 3 -8M1146 1486q-3 -5 -7 -10M672 1617q-3 -8 5 -12M1771 1071q2 -4 7 -5M1122 1460q4 -6 11 -5M1380 1337l-7 -1M1244 1490q-1 5 -6 6M1514 1259q-5 0 -10 1M848 1616l-2 -6M1362 1365q2 5 -4 7M1278 1469q1 7 -7 7M1469 1354q-5 -2 -7 3M2057 889q-1 8 -8 5M1198 1361q5 4 11 1M1689 1268q4 -5 4 -11M1399 1297l-7 -1M1731 1202q-7 -4 -3 -12M1937 1081q-1 6 -7 5M1295 1443q5 -6 12 -4M1570 1249q-4 -5 1 -9M1661 1266q-6 -6 0 -12M995 1474l0 6M499 1651l-5 1M1727 1111q2 -4 5 -6M1129 1397l-3 4M1788 1064q1 -4 5 -6M1882 982l3 -4M1850 1021l-4 0M1966 973q7 -2 4 -9M489 1654l2 5M546 1629l-7 0M1858 997l4 4M1245 1343q4 -4 7 -8M2058 909q1 -5 -2 -9M526 1614l7 -2M1343 1297l-1 5M1812 1040l0 -5M1175 1396l-3 3M1416 1288l-3 -3M1128 1421l1 -6M1603 1162q-5 -1 -6 -6M635 1585q5 0 6 5M1237 1331l4 -2M1268 1305l-5 2M1009 1461q-4 -1 -6 -5M546 1608q-2 -7 5 -9M730 1564l4 -5M657 1604l-1 -4M1073 1443q-5 0 -6 5M526 1632l-1 5M577 1600l0 -6M2035 886q-3 4 -2 10M730 1575q-6 -8 -8 1M920 1502q-4 1 -9 2M737 1556q0 5 -3 10M1301 1330q-3 5 -2 10M1765 1061q-5 -3 -8 2M2035 871l4 2M580 1605l6 2M501 1649l3 -6M1112 1400q3 -4 6 -9M1211 1354l-4 -5M1920 1003q3 -5 1 -10M641 1608l-5 3M524 1634l-3 2M1973 937q-4 -1 -8 -4M505 1637q-1 -5 -5 -5M1981 945l4 -5M1462 1246q5 -4 1 -9M984 1480l-5 3M1072 1438l1 -4M1265 1350l-5 -1M1717 1113l-7 -1M1321 1297q2 -4 6 -6M692 1560q-5 -1 -10 -1M758 1551l1 6M1077 1421q-4 4 -9 5M1842 1015l4 1M715 1578l-1 -5M1962 936l5 1M1547 1214l1 5M1635 1132q3 6 -3 7M1542 1208q1 4 3 9M791 1547l-6 -1M1539 1222l-4 -3M721 1583q2 -4 6 -6M1316 1303q4 -2 7 0M2053 903l4 0M996 1481q4 2 8 -1M1490 1226q-4 2 -3 7M1008 1474l3 -5M1179 1396q8 0 8 -7M554 1627l-4 -4M1854 1011q-2 -4 -4 -8M489 1637l3 -2M1811 1041l5 -5M2052 879q6 5 -1 9M1950 978q-4 1 -8 0M1996 936l-4 2M2020 916q1 -5 2 -10M1778 1040l3 -5M1932 980l6 0M555 1613q-1 -9 8 -7M1360 1317q-3 3 -6 6M593 1605l2 -3M2061 893l-3 -3M976 1476q-2 5 0 10M1693 1106l4 -2M1219 1375l-5 -3M799 1538q-3 -4 -7 -7M1755 1084l0 -4M1722 1104l5 -1M624 1602l3 -6M884 1529l5 -5M1537 1188q6 2 2 7M1780 1022l-5 3M579 1617q5 1 9 5M1029 1464q4 0 7 -3M1190 1356l-4 5M1593 1171l-4 -3M826 1518l-4 5M696 1573q5 -6 9 1M912 1506l3 3M1830 1024l4 4M1151 1415l5 2M1392 1262q4 2 4 7M1556 1183l5 -2M1729 1102l5 1M1815 1047q4 -5 9 -1M579 1615l4 -3M1959 933q4 4 9 5M1216 1347l0 -5M1101 1437q-4 -1 -7 -2M1455 1258q1 -5 6 -7M568 1613l-4 -1M1875 1005l6 1M1737 1075l-6 -2M1730 1107q-3 -5 -8 -3M1678 1116l5 2M1735 1069l-3 6M1028 1460l-5 -5M766 1549l6 4M1099 1436q5 -2 10 0M1305 1307q-6 -1 -9 5M1731 1078q-4 5 2 7M1018 1471l6 -3M1299 1328q1 5 5 6M1235 1337l-3 6M1913 976l2 6M1238 1355q5 1 10 -2M1383 1295q2 5 -1 9M707 1580l-4 5M1275 1337q2 6 8 5M1316 1302q3 8 -5 7M1602 1175q5 -3 1 -8M539 1612q4 5 9 2M757 1567q-3 3 -6 6M1156 1409q-7 6 -11 -3M2025 891q-5 1 -8 -3M836 1537q-6 -1 -10 3M855 1518q0 4 -3 7M1462 1244q-3 -4 -7 -6M2052 889l-4 3M575 1613l-3 2M1899 1015q-5 -3 -10 0M1584 1173q-3 7 -8 2M1741 1091q6 2 7 -4M963 1494q1 8 -7 6M1934 992q9 2 7 -7M1719 1110q-6 1 -10 -4M1486 1244q-5 -3 -3 -8M1341 1324l-5 -2M2041 903l-3 4M976 1489l-6 2M1582 1184q4 -3 8 1M1131 1395q8 -4 1 -10M2066 870q0 8 -8 7M799 1530l-4 5M958 1486q5 0 6 5M1551 1209q-5 0 -6 -4M1215 1374l1 5M1162 1398l1 4M1147 1392l7 -1M978 1480l4 -2M1036 1457q-4 -5 -9 0M1218 1349l5 -4M1553 1209q4 -3 5 -8M1623 1127q-5 -2 -10 2M1097 1420q5 2 3 7M1847 1040q1 -5 1 -10M1033 1463l5 3M815 1544l-6 -3M1861 1027q4 2 9 3M971 1493q-3 -3 -7 -2M1786 1062q-2 -5 -7 -4M1840 1004q-3 5 -1 11M1149 1403l3 3M922 1505l-3 -3M1501 1213q3 -3 3 -7M885 1523l-6 -2M1153 1391q-4 4 0 9M1789 1070l-5 -4M1514 1238l-6 -1M615 1597l6 0M625 1606l-4 -2M724 1579l4 -1M1754 1039q6 -1 4 -7M743 1561q4 -4 9 -1M581 1598l-5 -2M1099 1435q0 -5 5 -6M535 1638q5 6 -3 8M1834 1037q-4 2 -6 7M1051 1452l0 5M1745 1073l-6 -3M1052 1436q4 -2 7 -5M991 1483q-3 -6 -9 -2M1778 1028l-4 4M665 1593q0 7 7 8M612 1613l3 -4M1569 1192q-2 4 -3 8M1232 1367q2 -5 8 -5M1302 1297l1 4M1136 1399q-2 5 -7 8M795 1531l7 0M1617 1180q-2 -5 -7 -6M804 1534l7 -2M656 1588l-3 5M1246 1362l1 -5M1410 1289q0 -5 -5 -6M835 1526l0 5M547 1637q-4 -1 -7 -3M876 1523q5 3 7 -2M1657 1131l2 7M1016 1473l-5 -2M840 1533l2 -4M1315 1299q-3 -3 -8 -3M1599 1169q-4 1 -8 3M1270 1321l3 -7M1839 1034q-3 3 -6 7M979 1483q7 -1 7 -8M867 1525l6 -2M801 1539q-3 2 -6 5M1714 1114q-1 -4 -4 -6M1507 1239q5 -7 -4 -9M1608 1148l-1 -4M2051 856q7 -4 10 3M1003 1472l0 7M1387 1305q-7 0 -5 -6M1181 1384l-3 -3M1007 1459q4 -2 9 0M1307 1338q-5 -1 -9 -2M645 1599q5 2 10 -2M1257 1331q0 -4 -1 -7M595 1595l5 1"/>
<path stroke="#ea741c" stroke-width="2.4" d="M1121 1475q-2 4 -4 8M1991 1020q-4 3 -8 4M1190 1489q7 5 2 13M1386 1400q2 -6 1 -12M2105 925q0 -4 -2 -7M1265 1343q6 1 6 -5M1747 1106l-2 -6M1531 1332q4 -6 11 -6M1813 1159q-5 9 -12 1M1704 1108q-4 -1 -7 -3M1788 1178q4 5 -1 9M1565 1321q4 4 8 0M1486 1263q6 0 11 3M645 1708q5 -3 5 -9M1732 1221q0 -5 4 -6M2044 900l-4 -4M740 1683q9 3 10 -7M1446 1366q5 -2 3 -7M1228 1443q-2 -5 -7 -7M1560 1237q-4 0 -9 2M1209 1440q-4 -2 -8 0M1503 1290q-3 -8 -10 -3M1731 1198q3 8 11 5M1252 1356q4 0 7 -3M1378 1305q-4 -1 -7 -4M1316 1321l5 4M709 1592q-1 8 7 10M1969 950q4 2 8 0M1986 999q-5 2 -11 -1M2064 928l6 2M690 1619q-2 -4 -4 -8M1418 1304q-3 -2 -7 -3M1809 1118q3 -6 9 -9M2079 1019q-3 -3 -5 -6M1648 1190q4 2 4 6M1718 1146q-5 4 -3 10M2002 960q-4 1 -7 -2M1296 1341q4 -4 9 -5M1769 1155q-8 1 -8 -7M1375 1323q6 8 -3 13M1996 1013q-7 7 -12 -2M1716 1239q7 1 13 -2M1433 1276q4 -5 -1 -10M780 1564q-4 3 -7 7M1581 1228q3 -3 6 -4M1177 1498q3 -3 6 -5M2053 913q5 2 9 -1M1756 1096q-4 2 -8 3M1615 1215l-3 -6M1559 1196q4 8 -5 8M1752 1132l6 -3M1813 1085q3 -4 5 -9M1173 1494q4 -3 10 -2M724 1613q-7 2 -6 10M2104 949q-3 -6 -8 -10M1000 1547q7 3 9 -5M1338 1424q-5 -1 -5 -5M1216 1368q-5 1 -7 6M1888 1072q-1 5 -5 8M2129 942q1 4 3 8M2004 1050q-4 -10 7 -11M1572 1268q4 -5 -2 -7M1997 928q-4 2 -6 5M1553 1263q2 5 0 10M1393 1335q-1 4 -5 6M1683 1123l7 -2M719 1637q-1 7 6 10M573 1692q-1 6 -5 11M1746 1103l7 -1M1252 1401q1 4 1 8M1466 1361q0 -6 -6 -7M1946 1017q7 3 7 -5M1946 1006q-5 2 -9 -2M1035 1486l6 3M1993 930q-6 -2 -3 -7M1727 1194q-8 1 -3 8M1707 1213q-5 4 -6 10M1580 1323q-5 -2 -9 -5M1880 1153q4 -5 9 -7M1464 1291q-3 6 -9 9M759 1569q-9 -1 -6 8M1923 1127q-6 4 -11 -1M1223 1451q-1 5 -1 10M1692 1183q2 6 -2 11M1442 1349q5 -1 8 -6M1711 1159q-2 -12 9 -8M1944 986q-1 -7 5 -11M1697 1170l-5 4M751 1583l3 6M1264 1475q1 -5 -3 -9M1725 1212q-4 2 -9 3M1202 1398q6 -4 5 -11M1662 1158q6 0 10 -3M2003 944q-4 1 -8 2M1790 1054q-6 2 -9 -3M1947 1073q7 8 12 -2M952 1512q-10 4 -9 -7M1372 1292q-4 0 -7 4M1108 1492l6 3M1945 1064q6 2 5 -5M1294 1448q-9 -1 -4 -9M1230 1401q-6 2 -11 -2M1055 1540l4 -5M1874 1099q-5 1 -10 -1M1531 1214q-5 0 -8 3M1315 1442q6 3 12 1M1210 1475q4 4 8 8M1238 1382q5 3 11 5M1492 1367q5 7 -1 12M659 1617q-9 -7 1 -13M1758 1113q-1 7 5 10M640 1668q4 3 9 5M1698 1121q-1 6 -7 8M1204 1417q5 2 7 6M805 1599q2 -6 2 -12M1101 1459q0 7 -7 10M1187 1439q-5 6 -8 -1M1756 1107q-5 -3 -11 -3M1218 1401q-5 -2 -10 0M2025 969q-3 -10 7 -9M1294 1391l-4 6M1793 1082q-6 -2 -10 -7M1626 1294q-9 3 -11 -6M1095 1508l6 -3M1931 1072q5 -4 9 1M819 1563q5 0 7 -5M862 1519q-4 4 -9 6M1117 1499q3 -3 8 -4M1067 1525q1 -7 -5 -10M1931 986l2 6M1402 1323l-5 -4M1685 1130q1 5 0 9M1459 1282q8 -6 12 3M1699 1182l-2 7M1847 1111q3 -5 7 -1M1399 1357q-2 5 -7 2M663 1652q-5 3 -7 7M1871 1078q6 -3 9 -8M1984 974l6 -1M1936 1069l6 -1M1866 1126q6 0 6 -6M1961 1106q-1 4 -1 8M586 1625q1 5 5 7M901 1521l-4 -5M1268 1465q3 3 7 3M1179 1507q5 -3 10 -7M1315 1398q-2 -4 -4 -9M1062 1523q4 -6 -2 -11M756 1586l-6 4M1864 1092l5 -4M1154 1489q1 8 -7 9M1690 1139q4 -2 8 -1M1374 1439q6 0 12 -2M1120 1533q6 -6 12 0M1559 1240q-3 5 0 10M1220 1477q-3 -4 -8 -7M1181 1511q-2 -6 -8 -6M1913 1024q-4 1 -8 2M1784 1146q3 -4 8 -7M1146 1426q3 -6 9 -9M1776 1113q5 0 8 4M798 1673q0 -4 -2 -8M1562 1331l4 5M575 1632q-2 -3 -5 -6M1644 1221q6 -4 5 -11M1967 1084q-6 0 -12 -2M1462 1303q3 -10 12 -5M706 1660q5 -2 9 1M956 1551q5 2 11 0M1219 1393q-2 -4 1 -8M1851 1103q-2 9 -11 7M1850 1125q-7 0 -10 6M1400 1324q6 -2 11 0M1372 1329q-3 4 -2 8M1074 1573l3 -6M812 1600q-5 -4 -11 0M745 1620q6 -1 11 0M683 1616q-5 2 -10 -1M1398 1316q4 -5 8 -9M1825 1082l-3 7M1156 1519q4 0 7 -2M1193 1495l2 6M1423 1310q5 -9 11 -1M2115 935q-7 1 -8 8M1334 1398q7 -5 13 1M1909 1016q3 -2 7 -4M1100 1515q-7 -1 -12 -5M604 1625q6 1 9 5M1608 1189q5 2 10 1M618 1688q0 -6 1 -13M1959 959l2 6M1249 1410q6 -6 10 2M1393 1325q-6 1 -11 1M479 1666q8 -1 8 7M1978 988q-6 -2 -10 3M694 1593q0 8 -7 8M1011 1588l-6 1M1046 1509l-6 1M938 1551q5 2 9 -2M1006 1587q7 1 6 8M1240 1350q6 -2 12 -1M1600 1279q-2 -5 -7 -8M1521 1270q2 3 5 5M695 1574q-4 3 -6 7M1710 1174q5 -1 10 -3M1133 1421q-10 6 0 11M1563 1270q-4 0 -7 3M1456 1377q-8 2 -8 10M1213 1462q-2 -7 -9 -5M1190 1511q4 -2 6 -6M1220 1395q4 -2 4 -7M1573 1179q-4 -2 -7 -4M719 1645q-1 -5 3 -8M2127 971q-6 -4 -7 3M1652 1147l-3 6M1453 1313q-3 4 -7 6M1662 1192q5 0 7 -5M2017 1072q-6 0 -10 4M763 1618q-5 0 -9 -4M910 1631q5 -4 11 -6M1482 1386q-5 4 -11 2M2101 931q2 4 2 8M1624 1165l2 7M1520 1223l6 -4M585 1652q3 4 3 8M1111 1499q4 -1 9 -2M1397 1403q-5 2 -6 6M894 1546q7 0 12 -4M1520 1292q3 -2 6 -6M1477 1254q5 -3 9 -7M548 1693l-3 6M1240 1484q7 2 11 -4M1500 1279q0 -4 2 -8M864 1565q0 -5 -5 -8M1513 1233l6 1M1012 1553q-2 -10 8 -8M2009 1049q-5 -2 -10 -2M1717 1171q-4 -5 -9 -4M1935 981q3 -3 7 -4M609 1597q1 5 -2 9M948 1609q-4 6 -10 3M635 1592q3 3 8 4M1544 1222q1 -4 3 -7M2070 957q-3 -5 -8 -4M1303 1429q-6 2 -12 0M1981 1029q-4 2 -8 5M1305 1431q-3 -2 -6 -4M1016 1493q1 -4 0 -8M1758 1139q3 -5 0 -10M1413 1278q0 9 -9 7M578 1636q5 -5 1 -11M1344 1408q2 -4 3 -9M1752 1091l5 -5M1301 1361q3 3 6 6M966 1584l7 -3M1632 1255q-5 2 -10 4M1493 1377l-6 2M1598 1218l-7 1M708 1588q-1 5 -5 8M648 1613q-1 5 -2 9M1948 1120q-2 -6 0 -12M1776 1198l-5 5M978 1537q4 -3 9 -4M615 1616q-1 6 -8 6M1219 1453q2 5 7 3M689 1673q-4 7 3 10M2061 1059l-1 -6M1988 1029q11 -4 9 7M1457 1282q6 6 -1 12M1296 1430l7 -1M1665 1253q8 2 7 10M1801 1078q3 -8 8 -2M1380 1292q0 5 -5 7M1869 1134l-6 0M1422 1344q6 6 -1 12M1840 1088q1 -5 5 -6M775 1670q3 4 3 9M1309 1320l7 0M1959 1109q-1 5 -1 9M1988 965q6 -5 1 -10M1535 1258q-5 3 -10 7M1003 1502l6 2M1939 1052q8 8 12 -3M1285 1398q-7 1 -7 -6M629 1717q-6 -6 0 -12M793 1578l6 -3M1700 1185l1 -6M1723 1079q-5 -2 -8 -7M1138 1465q-2 -4 -6 -6M1312 1359q-3 8 -11 6M1598 1206q-8 6 -12 -3M1502 1341q-5 4 -11 2M1566 1201q6 3 8 8M1416 1316l-4 6M1841 1115q7 4 12 -2M1310 1332q2 -6 9 -8M2026 928q-4 4 -9 0M1770 1089l-6 1M664 1715l-6 -4M1971 982q3 7 10 7M1418 1362q1 5 1 11M1529 1319l-5 4M612 1615q-2 10 8 7M1483 1302q0 -9 9 -8M1811 1105q-4 8 3 12M2068 1026q0 -5 3 -9M1643 1216q-3 5 -9 7M1349 1371q6 -2 9 3M1896 1154q1 6 -5 7M1232 1500q6 3 12 5M1655 1194q4 -4 7 -9M1657 1279q5 -5 11 -3M2063 941q-7 -7 -12 2M1347 1412q0 -13 11 -6M1234 1491q-4 -6 -8 0M1224 1487q4 3 8 -1M1545 1226l-6 -2M2079 1036q6 6 -2 9M1451 1278l5 4M1647 1278q5 2 10 0M679 1593l5 -4M514 1654l4 5M699 1676q-4 0 -7 3M1342 1338q-3 4 -5 9M1776 1080q-1 4 3 7M1405 1306l-6 3M1501 1249q-6 -1 -6 -7M1662 1200q6 -2 10 3M1140 1539q-4 -2 -9 -1M1829 1169q0 -13 11 -5M666 1589l-6 3M1753 1151q4 3 5 8M1021 1529q6 0 10 -4M1360 1299q5 -1 11 -1M1309 1330q5 1 8 -2M1867 1106q-4 6 -2 12M1981 1068q-5 6 -12 4M1956 975l6 3M1780 1159q-4 1 -9 1M678 1670q2 -4 6 -6M1700 1233q5 5 12 1M1587 1201q3 2 7 1M1919 1016q-2 6 0 12M1233 1488l2 6M1670 1139q-1 4 -4 6M1113 1428q3 -8 11 -5M633 1633q-5 -3 -9 1M1253 1484q0 -4 3 -7M628 1597q-2 3 -5 6M1889 1111q-8 -3 -3 -9M1588 1222q-10 -1 -9 9M1070 1508q-5 4 -8 9M1457 1346q-5 1 -10 -2M1198 1500q-5 -5 -12 -3M554 1645q2 8 10 8M1349 1404q8 3 11 -4M1972 1087q5 -5 5 -12M1752 1138q4 2 8 3M1466 1349q5 -2 4 -8M920 1558l-5 4M1056 1468q3 4 8 6M855 1599q-3 -8 5 -9M1952 960q-4 2 -8 4M622 1606q-6 3 -11 -1M1774 1102q5 5 11 1M1941 970l-7 0M1620 1295l2 -6M1288 1428q-6 2 -11 3M744 1597l-2 6M1907 1122q-6 1 -11 3M598 1666q-4 -2 -8 0M882 1584q-5 2 -8 -3M2114 971q3 5 2 10M1804 1119q-2 -4 2 -7M1992 943q-3 3 -4 6M1225 1409q7 1 12 -4M710 1590q-2 3 -5 6M607 1728q-2 -4 -6 -5M663 1716q-8 0 -10 -8M1793 1110q-5 2 -7 -3M1165 1516q0 -10 -9 -6M1879 1073q-7 2 -8 9M755 1637q6 5 0 9M2051 952q-2 -3 -5 -6M986 1540q4 -3 8 -7M655 1673q-7 -2 -12 4M1966 952q-4 1 -9 -1M2133 975q-5 -1 -8 -5M881 1618l5 4M1205 1377q9 0 5 -7M1309 1405q-7 -5 -12 2M1609 1244q6 -2 8 4M1175 1406q-2 5 -2 10M2020 946q-3 3 -7 2M750 1578l-3 7M734 1686q4 -4 9 -1M1958 1101q-3 8 -11 4M758 1607l-2 -6M2105 906l6 3M1746 1162q5 -3 11 -5M1480 1285q3 -4 6 -7M1055 1579q2 -4 7 -5M854 1640l-6 3M655 1706q-3 6 2 11M1432 1293q-1 -4 -2 -7M1300 1425q-8 3 -3 9M694 1691q7 -1 6 -9M1580 1244q2 -4 7 -5M1937 998q-2 8 6 8M1570 1212q4 5 10 5M1853 1067q-2 6 4 9M1432 1292l-7 1M1667 1164q6 4 10 -1M1735 1110q-6 -6 -11 0M1047 1501q4 4 8 9M730 1679q2 8 -6 9M1711 1131q-5 5 0 11M1642 1296q-5 1 -6 6M642 1643q4 -9 11 -3M1214 1484l-4 5M1561 1211q3 -6 10 -7M2019 1015q6 1 7 -5M1364 1352l7 1M1534 1253q-4 -3 -7 0M1367 1302l-6 0M1004 1519q4 4 9 3M638 1664q5 0 9 4M1431 1275l6 1M1036 1481q-5 0 -10 -1M1053 1516q1 4 -1 8M666 1608q6 3 9 9M1547 1250q3 -4 5 -8M865 1594l7 -1M1211 1433q-6 -3 -13 0M1294 1463q-6 1 -9 -4M1269 1441q1 -5 4 -10M1864 1029q2 5 4 11M1458 1316q4 -3 6 -7M1390 1319q5 -4 1 -9M1674 1230q5 -3 11 -4M1642 1291q2 -4 3 -8M1926 1036l-5 5M1997 1051q4 -8 12 -3M1464 1296q-3 5 2 8M726 1637l-5 4M1626 1208q6 0 13 -1M785 1598q-7 0 -7 -7M1497 1312q-2 6 -8 7M1366 1407q10 6 -1 11M2102 939q3 5 7 9M599 1651q-5 2 -4 7M1401 1415l-1 -7M1611 1188q5 1 9 -1M1385 1353l0 -7M1755 1128q5 0 10 1M1505 1286q2 -5 3 -11M1300 1372q5 -3 8 -8M1113 1456q10 -5 10 6M1610 1279q7 -1 11 -6M778 1660q-3 4 -2 9M1176 1490q2 -5 0 -10M1921 1124q-8 -5 -12 4M1917 1122q-4 4 -3 10M1376 1336q0 -5 -4 -8M1073 1497q6 2 12 0M2082 910q-8 -4 -13 3M572 1629q6 0 8 -6M1753 1096q-7 0 -5 6M1614 1180q5 6 9 -1M920 1614l-4 6M1549 1225l7 2M548 1743q4 -7 -2 -11M677 1693q3 -8 11 -5M663 1593q0 10 8 5M563 1625l3 -6M1918 1069l-3 5M1949 1114q-7 6 -11 -2M1518 1244l4 -5M1212 1466q6 -2 3 -8M516 1677l6 -3M2023 986q-1 5 -1 11M1774 1164q2 -5 4 -10M2012 937q3 -3 2 -8M571 1729q3 8 -5 10M1407 1275q-2 5 -7 4M1885 1119q-5 -6 -9 1M1467 1344q5 1 6 6M1761 1115q5 3 7 9M1320 1420l5 -4M1153 1410q-8 4 -4 12M1293 1382q5 3 8 -2M1660 1223q-4 3 -6 8M1212 1415q-5 -3 -8 2M1283 1347q-1 4 -3 8M850 1528q-5 0 -9 4M1267 1328q-5 3 -8 -2M654 1590q8 2 6 10M1323 1377q2 6 -1 11M1171 1401q-5 1 -8 -3M1589 1244q-3 -2 -8 -2M976 1529q-1 5 0 11M1390 1304q5 -2 5 -7M1552 1328l-6 1M1158 1484q12 -3 7 8M1700 1221l-7 0M2042 934l4 5M1627 1263q3 6 -2 10M838 1585q0 -6 5 -8M1644 1287q2 -4 3 -7M2044 1062q-5 -4 -8 -9M1314 1332l-6 -1M740 1644l-5 5M602 1712q-4 -1 -8 0M1949 968q4 -5 -2 -9M1421 1279q4 -3 8 -1M1371 1328q-3 9 7 7M728 1613q4 -5 11 -7M1823 1121q0 -7 -7 -5M1179 1488q5 2 4 8M1500 1335q4 6 11 5M1356 1390l-5 -4M1307 1443q-2 5 -7 6M1914 1098q1 -4 4 -7M1392 1420q6 4 12 0M1531 1324q4 -3 7 -6M1391 1358q5 0 8 5M1455 1366q-2 5 -8 4M1183 1509q1 -6 3 -11M741 1669q3 -6 9 -4M1889 1108q0 6 0 12M1857 1126q-1 -4 -5 -6M2113 930q0 -5 -5 -6M1915 1058q8 -3 4 -11M1536 1217q-2 -6 0 -12M917 1500q11 -5 10 7M995 1510q2 7 -5 6M1539 1203q-2 8 -10 4M516 1679q10 9 11 -5M997 1563q1 6 -4 10M1751 1095q-6 -3 -11 1M1298 1329q6 -2 10 3M1132 1524q5 -6 -2 -9M573 1656q-2 -4 0 -9M1725 1215q-5 -7 -10 -1M1252 1387q3 6 10 5M1337 1455l-4 6M664 1622q-5 -2 -8 -7M1662 1283l-5 4M1684 1174q-2 -6 -5 -11M1956 1117q-3 -4 -8 -6M659 1645q-6 -1 -11 3M1823 1083q-6 3 -8 -4M1944 1073l6 -3M1556 1224q6 -3 12 -3M1582 1226q-5 0 -11 0M1726 1248q8 -4 3 -11M1781 1129q6 2 8 8M1595 1202l-5 -5M1993 963q-2 5 -7 5M1910 1013q-5 -5 -9 1M1311 1414q-3 8 -8 1M898 1541q2 -4 2 -9M1218 1454q-5 4 -11 5M1317 1448q-4 -3 -9 -2M681 1705q5 2 7 -3M1510 1301q-4 8 -11 3M1053 1528q-2 -4 -3 -8M1153 1484l6 3M750 1616q5 1 7 -4M1606 1204q8 -4 12 5M2047 933q-8 1 -6 8M1378 1378q-13 -9 -11 7M489 1671q-4 -6 1 -12M1404 1396q0 7 7 3M768 1624q3 -5 4 -11M1340 1432q-5 4 -10 6M1702 1174q7 -2 9 -8M1069 1529q-3 4 -8 4M587 1617q-2 -7 -9 -7M1187 1497l-5 5M1039 1583q3 -7 10 -4M1963 977q1 6 -1 11M1836 1110q6 3 12 5M806 1544q3 -5 9 -4M1368 1289q-4 -3 -8 1M1222 1368q-3 -2 -6 -4M1579 1190q5 0 10 1M724 1565l-6 3M1270 1319q-5 -7 -9 0M912 1504l-3 -5M1323 1328q3 -5 8 -2M1394 1296l-6 2M1262 1339l6 -1M1046 1443l4 -3M2027 912q-4 2 -7 5M556 1619l-2 3M1637 1131l5 3M1414 1268q8 0 7 -8M688 1590q2 -8 -6 -9M1117 1433q2 -5 0 -10M1082 1444l-6 1M859 1519l4 2M1505 1212q-2 -5 -3 -10M1398 1270l-5 3M1624 1145q6 -2 10 3M1075 1425q-5 -1 -8 2M815 1540l-6 1M1247 1333l0 6M1241 1306q2 -3 6 -4M1994 945l-5 4M1931 977q-6 -1 -4 -6M887 1496q-1 5 -3 10M1949 959q1 -5 6 -6M1180 1380q-5 1 -9 -3M1219 1381l2 -5M1036 1469q-4 -3 -7 -8M1445 1248l4 -5M695 1585q4 -6 -3 -8M659 1604q3 -6 9 -4M797 1534q3 6 -2 10M1843 1022l0 4M2013 918l3 4M1197 1358l4 -2M1731 1097l-7 2M1900 983l4 -4M1810 1054l7 1M1420 1276q4 -2 7 -5M1157 1394q-3 -2 -6 -5M865 1511q-6 4 -3 10M1794 1049l6 -2M1432 1241l2 4M484 1642q1 5 3 9M567 1608q3 3 7 5M1556 1195q-3 3 -6 6M795 1539l6 4M1876 1006l-6 3M1209 1348l2 -7M1834 1046q-2 5 -6 8M659 1594q4 1 8 3M1186 1385q4 -1 8 -1M1830 1048l-6 -3M1911 1005l4 4M1112 1411q-1 -5 -6 -5M823 1545l0 -6M1499 1233l0 -5M1978 932l-6 -2M760 1573q1 -4 2 -7M1830 1044q4 1 8 4M738 1572l2 -7M1033 1465q-5 -1 -9 -2M1681 1084l0 5M780 1540l-5 4M538 1636q4 -1 9 0M1321 1332q0 -4 -3 -8M2034 905q0 -5 -4 -9M1263 1352l-2 -6M1899 1007q4 -3 3 -7M1031 1461q1 5 -3 9M901 1517q-2 -4 0 -8M1474 1253l-7 -1M1717 1047q1 5 -4 8M684 1586l4 -1M1537 1199q-5 1 -10 1M1053 1433l2 -5M1336 1317l6 2M534 1618l-5 3M1240 1342q-6 8 -11 -1M1513 1238q-5 3 -10 1M810 1542l-5 -3M790 1537l-4 4M937 1505l2 5M1648 1138q4 1 8 -1M1028 1458l5 5M537 1637q-3 -7 -9 -2M1725 1065q4 -2 7 -6M1350 1317q-2 4 -3 9M1309 1335q12 -2 3 -10M1969 935q5 -1 11 -1M997 1474q1 7 -5 6M1261 1347q-2 3 -6 4M1810 1036q5 4 10 -1M1419 1276q-4 -3 -9 -1M1583 1153q-5 -2 -8 2M1162 1394q3 -3 2 -7M492 1661q-4 5 -8 0M1712 1079q-5 -4 -11 0M1974 966l-2 4M534 1620q4 2 8 6M1276 1337l1 -7M1772 1072l1 6M1921 983l-2 7M1082 1420q1 -5 3 -10M1901 1009q-4 -3 -8 -5M619 1605q5 -2 7 -6M1246 1370l5 -4M595 1601l-1 4M765 1550q0 9 -8 5M1646 1128l5 4M1365 1311q5 -7 8 0M2055 869q-4 2 -7 4M1870 1017q2 4 3 8M1220 1363l-4 2M1472 1257q-4 4 -9 1M1742 1092l-4 -1M1119 1419q4 -3 9 -5M1144 1386q-2 4 -5 7M1488 1244q3 -3 7 -1M1711 1080l-5 -3M1027 1462l-4 0M1527 1221q-4 3 -5 8M2014 944q-6 -1 -4 -7M507 1641q5 2 3 7M539 1629l6 -2M559 1613l-2 -4M1140 1403l5 -3M550 1593l-3 -6M1395 1280l6 -2M1934 957l5 4M1618 1137q0 5 0 10M850 1525q7 0 7 -7M1616 1150l-4 0M1875 1007q3 -4 6 -9M920 1502q3 -6 8 -2M602 1605l-4 -1M1414 1283q-4 4 -7 9M1750 1095q-2 -8 -9 -5M1993 918q4 3 7 5M624 1593l4 -1M1548 1196l-2 3M1665 1114q3 -5 -1 -10M1951 952q-3 4 -9 6M1212 1357l-4 -4M1576 1182q4 -2 7 -6M1498 1222l3 3M1586 1159q-3 -5 -8 -3M1175 1392l-4 3M2058 867l6 1M743 1562l-5 0M1995 912q-6 -9 5 -7M1669 1135l-6 2M679 1602q3 -4 4 -9M2008 927q-4 3 -2 8M1533 1192q3 5 8 4M1943 986l1 -5M1582 1184q-3 5 0 11M1643 1132l-5 0M979 1475q2 -4 6 -6M1446 1273l5 0M1192 1331l-5 3M1047 1454l-5 -4M917 1499l-4 5M1203 1381l3 -5M1904 989l1 4M1723 1069q5 -3 2 -9M1617 1148q-4 9 -8 0M1210 1385l1 -4M1314 1302l-2 -6M1009 1460l6 0M1516 1220l-2 5M2063 890q3 5 -3 7M738 1562q6 -2 9 4M1256 1369q1 -11 -9 -6M1433 1277l-5 0M540 1616l-4 -2M1301 1330l3 -5M1417 1287l0 -5M1718 1110l-5 -1M569 1598q-10 -4 -5 5M802 1540q5 -2 10 -3M631 1603q4 0 7 4M1405 1271l5 -1M820 1530l-7 0M1864 1029q-2 -5 -6 -8M1312 1343q-6 0 -11 2M1482 1238l4 -3M1045 1447q5 -3 10 1M1896 992l-5 -1M567 1624l-2 4M1822 1057q0 -7 -6 -6M1797 1063q3 -4 6 -8M2021 918q2 -5 7 -4M1736 1065q4 -1 7 -3M1376 1305q2 7 8 5M1454 1275l-5 0M1518 1236q1 6 -5 7M810 1505q2 3 5 5M1008 1474q-2 -7 5 -9M1899 992l5 -3M1107 1405l-7 -2M678 1585q5 -4 4 -10M1970 970l-3 5M950 1504l-4 1M972 1495l-5 -2M1311 1333q2 -5 -2 -9M1088 1428q1 5 5 9M798 1545q-4 -1 -8 -2M1233 1366l5 5M1340 1303l-6 2M1532 1219q0 -7 -7 -6M1888 1009q5 2 10 1M1193 1358l-5 2M688 1595q-4 4 -9 5M2006 912l4 -1M915 1488q3 2 7 3M1507 1222l5 -3M639 1577l3 3M969 1491l4 -4M974 1476l4 -2M2012 924q-4 0 -7 3M572 1605l-3 4M1997 943q-6 2 -10 -4M2051 904q-2 3 -4 6M816 1515q-1 4 -4 7M1449 1265l-2 5M1573 1186q-5 3 -3 8M1538 1215l7 2M1781 1042q5 -2 6 -7M741 1562l5 -5M1624 1167l-5 -3M919 1499q-2 4 -6 7M1207 1334q5 0 8 4M561 1622q-4 -2 -9 -1M1631 1116q-8 -3 -10 5M701 1569l1 5M1482 1239q4 -7 9 -1M943 1487q4 1 7 2M1278 1315l6 0M654 1610q-2 -6 5 -7M1304 1324l2 -7M534 1622l-4 -4M519 1640l6 -1M790 1535q3 4 8 2M493 1654q-4 2 -9 3M2001 937l-1 4M883 1506q5 0 7 -5M1583 1175q3 -2 7 -2M1897 1012l-5 4M1970 940l5 -1M1432 1277l3 -3M1266 1351l-3 2M2073 884l-4 1M1926 979l3 5M1674 1134l4 4M1832 1037l-1 -6M1515 1233q4 -3 8 -5M1466 1271q-4 -2 -9 -1M1194 1374l3 -2M1365 1306q0 -12 -10 -4M621 1606q2 7 9 6M1488 1224q6 0 10 -3M684 1581q-1 5 -5 7M1542 1199l-5 -3M1426 1262q1 5 0 10M1857 1024l-4 3M1297 1345q-3 -3 -6 -6M1412 1268l1 -4M817 1531q7 0 7 7M993 1481q-4 2 -9 3M606 1597q6 -2 7 5M2022 924q-6 -2 -7 -9M1014 1464l-3 5M799 1534q-4 -4 -9 -4M1446 1268q4 -2 9 -1M1182 1381q1 -6 6 -4M635 1589q4 -2 9 -2M989 1472l-3 4M1558 1200q-2 -9 7 -7M1094 1429q-6 -1 -11 2M1338 1315l5 2M1855 1028q-3 4 -8 6M563 1608l4 3M520 1632q-5 -5 -9 1M1690 1081l-1 -6M1806 1044l-5 -2M1654 1136q-2 -5 -6 -7M1996 912q5 1 10 1M1033 1460l5 -5M1725 1105q6 -3 1 -8M1904 997q6 0 11 3M1364 1312q-2 6 2 10M1232 1377q6 -1 5 -7M1725 1067q0 -4 2 -8M1664 1110q1 4 2 8M2013 925l-5 -1M844 1511l4 5M1644 1098l-3 3M1655 1119q1 4 0 9M869 1516l4 -5M848 1529l6 -2M821 1540q-8 -2 -8 6M1995 950q-1 -4 3 -7M1914 979q-2 -6 4 -8M1489 1221l1 -6M1176 1374q11 -2 3 -10M1234 1331q3 4 8 7M1438 1263l7 -1M1134 1405q-2 -4 0 -8M1150 1407q-1 -5 3 -7M1039 1446q-4 -1 -9 0M1566 1198q6 0 5 7M1560 1211l6 -2M1980 915l-1 -5M1477 1231l-5 3M533 1633l4 -2"/>
<path stroke="#e4521e" stroke-width="2.4" d="M1629 1144q-7 -5 -7 4t-6 5M1967 1042q7 -1 7 7t1 9M995 1524q-5 2 -9 -2t-8 -4M1574 1207q-6 0 -11 -3M1212 1480q-4 -2 -6 -7t5 -8M2114 954q2 4 3 9t1 9M961 1540q-7 6 -10 -3M1718 1165q-5 2 -10 0t-8 6M1897 1119q-3 -7 3 -12t0 -12M1601 1297q4 0 9 -2M1406 1341q0 4 -3 6t-2 7M1664 1164q-6 -1 -11 2M662 1681q-3 -5 -6 -9M1885 1147q-7 -4 -4 -10t-8 -7M1710 1156q4 3 9 3t6 7M1016 1502q-4 3 -7 0t-6 -4M1947 1100q-2 7 -8 10t-12 -4M1700 1169q5 -3 8 -7t9 -6M1508 1255q-1 -6 4 -9M1376 1331q3 6 9 5M746 1649q2 6 3 12t0 12M2069 923q-1 6 -4 11t1 12M1603 1154q3 3 7 4M1932 1080q-1 4 -2 7t-6 5M1444 1275q-8 0 -8 8M758 1605q-1 -4 3 -7t7 -3M1132 1528q-2 3 -3 6t-7 3M2022 1012q-6 4 -10 -2t-10 -1M1971 1002q-6 -2 -10 -6M1610 1205q-4 2 -8 5t-8 4M2110 973q5 -3 7 -9M1953 951q3 -3 6 -2t6 1M1323 1445q-5 -4 -9 -9t-12 -4M1291 1397q4 1 9 0M1985 997q-1 -6 -8 -8t-11 2M1693 1172q-3 4 -7 6t-9 2M1876 1102q-7 5 -10 -3t-3 -10M1886 1134q3 3 5 7M1701 1196q-8 -4 -7 5t-8 3M1025 1501q2 -4 5 -7M666 1603q2 -4 2 -9t6 -7M1619 1166q-2 -3 -5 -6t-7 -3M1615 1280q-4 1 -6 6t-8 -1M550 1686q-3 2 -6 2t-6 2M1661 1135q-3 0 -6 -2t-6 -3M745 1557q-4 5 -9 2t-6 -7M1498 1263q-2 -5 -6 -2t-4 -5M1975 944q2 -7 10 -9t10 -8M1377 1369q11 -9 -3 -11t-7 -10M640 1654q-6 -3 -4 -9t-2 -10M1190 1489q3 -6 9 -4t6 -7M990 1477q-7 0 -6 -7t-8 -4M1200 1449q-3 -3 -8 -2t-6 -6M872 1578q-6 2 -6 8t-6 8M1721 1086q4 2 9 1t5 8M1852 1120q4 8 7 -1t7 -1M764 1551q-4 5 -10 6M563 1704q3 5 8 6t2 10M1921 1101q4 -6 8 0t8 -2M1348 1397q-4 -6 -11 -6t-7 -10M699 1635q2 5 8 4t6 6M1622 1147q7 1 11 -5t11 -4M657 1646q4 3 6 6M1743 1151q-2 -3 -3 -7t-2 -7M1377 1291q5 -4 9 1t8 3M1959 1048q0 8 -7 4M1205 1476q-1 -6 -7 -4t-8 0M1787 1071q-6 -4 -6 -11M1615 1139q3 6 10 6t11 1M1962 1044q-4 -6 3 -8M746 1598q-6 2 -9 -3M1562 1210q-8 7 -10 -4t-9 -7M1302 1415q-2 6 -3 12M1110 1454q-2 6 -7 9t-4 11M862 1523q4 -3 2 -8t0 -8M1983 939q-6 3 -7 10M1491 1278q-7 -5 -13 1M1590 1250q-7 1 -9 -5t-11 1M1475 1363q4 -3 7 0t6 -4M1678 1135q-7 2 -11 -4t-9 7M751 1609q2 -7 -3 -11t-1 -12M1705 1100q1 4 2 8M1063 1533q-6 -5 -13 -1t-13 -2M1390 1382q6 2 10 -3t11 1M828 1597q7 0 8 6M514 1647q-4 1 -9 0t-7 -6M1720 1219q4 -5 6 -11t4 -11M1864 1093q3 2 7 0t6 -2M702 1646q-1 -7 -8 -6t-5 -9M1606 1240q7 0 9 -7t10 -6M966 1548q1 -7 8 -5M2037 1036q-3 -5 -8 -7t-11 -2M1323 1423q-2 -4 1 -7t0 -7M2092 927q5 10 -6 11t-12 5M1230 1362q-6 -5 -13 -1t-12 -4M1294 1397q2 8 -5 10t7 9M639 1677q-4 -2 -7 -6M1639 1281q5 -3 7 -9M1295 1418q-7 0 -5 7t-5 7M1919 1116q-6 -5 -11 0M993 1479q-7 7 1 12M1727 1138q2 -5 -1 -11M1360 1413q5 -2 10 -2M1630 1295q-1 -8 6 -4t1 -7M1732 1110q-6 -3 -9 -9M1756 1213q4 -6 -3 -7t-1 -8M777 1569q-3 -4 -7 -6M1895 1113q-7 -3 -5 -10t-6 -10M1697 1109q5 3 7 8t2 10M1959 949q2 6 3 12t0 12M1522 1235q7 -2 10 4t11 4M1202 1377q3 4 8 7M1999 918q1 -12 11 -5t10 -8M1135 1473q3 -1 7 -1t7 0M1775 1065q-4 -9 5 -12t3 -12M1972 954q0 5 -5 9t-8 6M2005 934q-8 2 -7 10t1 12M1551 1218q0 5 4 7t5 7M1659 1241q-6 -1 -11 4M1967 976q11 -6 1 -12t2 -12M1725 1208q-5 0 -5 -6t-2 -7M1181 1404q-2 3 -6 4t-7 -1M656 1609q8 1 5 9M1903 1115q4 1 9 0t8 -3M1625 1153q6 3 7 -3t7 -1M1348 1417q-10 4 -10 -6t-4 -11M1752 1153q-8 2 -12 -6t-12 -5M1929 1073q8 2 9 -6M1020 1495q7 1 11 6M1049 1439q-4 5 -10 8t-10 8M1451 1263q-11 -1 -5 -10t-7 -9M831 1508q-4 4 -6 10M1947 1090q-4 6 0 11M1565 1330q-2 -6 1 -13t6 -11M1982 984q4 1 6 6t4 7M1487 1362q-4 4 -8 7M1734 1112q-4 1 -8 2M1198 1356q7 1 5 7t9 -1M1820 1075q-5 6 -10 0t-10 1M2005 940q-5 -3 -11 -4t-10 6M661 1700q2 6 7 8t9 6M1746 1157q-2 -3 -6 -6M1997 973q-9 1 -8 10M2103 926q5 2 10 2M1848 1120q0 -5 4 -8M1809 1109q-4 6 -11 5M1698 1157q4 -3 2 -8t8 -2M1161 1387q11 4 9 -8t8 -8M1321 1414q5 -3 6 3t5 5M734 1569q1 -9 -6 -4t-7 -2M814 1592q-6 12 -12 0t-12 2M2077 908q-3 3 -7 4t-6 4M1148 1479q-5 2 -9 4M1593 1227q-4 0 -6 -3t-6 4M1986 1015q-1 -4 -3 -8t-7 -4M1247 1383q-1 -4 1 -8t1 -7M1546 1228q6 -1 11 4t11 3M1626 1161q-7 -1 -5 6t-3 6M1845 1047q10 0 3 -7t4 -7M1545 1329q5 1 10 2M1323 1333q-4 2 -7 5t-9 1M1588 1267q2 4 -1 7t-4 5M2038 925q2 -7 8 -4M642 1604q6 -2 11 1M1643 1136q9 9 -4 9t-1 10M1913 1008q-5 1 -10 0t-7 6M1393 1343q-5 2 -9 4t-9 -5M547 1653q-3 -5 -9 -9t-11 -6M1309 1396q-2 4 -3 9t-6 6M641 1610q5 -5 11 -7t10 -8M676 1688q2 3 1 7t3 6M2031 944q-3 8 -11 5M1687 1210q5 2 4 8t5 8M1267 1455q-1 -7 6 -7t9 -3M1121 1471q5 -1 9 -5t4 -9M1810 1124q2 9 9 2t9 2M1923 1003q-4 -5 -9 -4M1021 1450q4 8 12 2M841 1568q-5 -2 -8 2t-5 6M1708 1142q4 0 5 -4t4 -5M1905 1110q0 -13 10 -5t6 9M1097 1488q8 -6 10 4t9 4M1581 1219q2 -8 10 -8t8 -10M1672 1170q5 -3 10 -4t11 -1M1074 1528q5 -1 9 -3M680 1671q0 -7 7 -8t2 -11M1335 1313q-3 3 -7 3t0 8M956 1557q-5 -3 -11 -3t-5 -11M1955 1015q0 -8 -7 -10M1902 1098q4 0 7 3t7 1M527 1619q11 6 0 11t9 7M1997 960q5 0 6 5t6 5M1711 1184q-1 -6 -4 -12t-4 -12M582 1682q-3 -5 -9 -5t-7 -8M987 1518q5 5 10 1t9 3M742 1567q-5 0 -8 -4t-9 0M1647 1203q0 -6 -1 -11t1 -11M1687 1160q-9 2 -5 10M1199 1465q-1 -4 0 -9t-3 -8M653 1685q3 7 -4 10t3 11M1357 1349q-4 -3 -9 -3t-7 -6M886 1564q2 5 -1 9M1127 1437q2 -4 -2 -7t-2 -7M1731 1141q-6 6 -11 -2t-10 4M702 1618q6 -2 4 -8t-1 -9M1370 1358q-8 -4 -12 4M767 1551q0 3 -1 6t-2 6M1975 1015q-8 -2 -8 7t0 11M1491 1314q-3 -2 -5 -4t-7 0M1573 1217q-8 0 -9 -8t-5 -10M1541 1348q6 -3 1 -7t-1 -7M1222 1408q-1 -6 -2 -13M1618 1143q6 -8 11 0t8 7M1964 1077q-6 2 -12 4M1646 1170q1 4 2 8t-1 8M1749 1077q9 -1 9 7t8 8M1484 1277q5 -5 10 0t7 -7M1480 1255q2 9 9 3t8 5M1400 1341q-5 3 -10 0t-9 4M1226 1424q-6 4 -10 -2t-10 -2M1593 1200q7 4 10 -3M1981 1038q-5 -3 -10 -7t-12 0M1349 1371q3 -5 1 -10t0 -10M471 1656q6 0 5 -6t7 -4M1521 1257q5 3 11 1t11 3M1719 1095q-3 -3 -8 -5t-8 -5M889 1569q-5 4 -8 10M1886 1000q-12 0 -6 11t6 10M1800 1169q-5 0 -10 3M1718 1159q-2 -6 4 -8t-1 -9M1682 1140q-6 1 -6 7t-9 3M1474 1284q0 -5 2 -9t3 -9M1372 1409q-2 4 -4 8t-9 0M1574 1224q-3 -5 -4 -10t-4 -10M800 1590q-1 -5 0 -10M785 1638q-7 -1 -10 5t-9 6M2011 936q-3 4 -8 4t-9 -2M1401 1342q5 0 10 1M1093 1483q-7 4 -13 -2t-9 -9M1037 1492q0 6 -6 9M1678 1179q2 3 6 6M476 1644q4 5 8 10t1 13M1300 1356q4 -4 9 -3t9 -3M905 1630q8 -3 5 -11t7 -9M686 1575q1 8 -6 10t-5 11M2084 924q5 -1 9 -1t9 2M699 1582q-1 4 -4 7t-6 5M1380 1380q4 2 9 -1M1948 1021q7 3 3 10M1835 1074q-3 6 4 8t0 9M1756 1140q-2 6 -8 5t-9 1M1791 1189q9 7 12 -4t12 4M1185 1473q-1 4 -3 8t1 8M612 1671q-5 -4 -11 -1t-11 2M1847 1102q-3 5 -7 8t-9 5M1482 1274q-5 5 -11 6t-3 12M1243 1369q7 6 8 -3t5 7M1841 1029q4 0 8 -1M2070 901q-3 -7 4 -9M1477 1254q-5 4 -9 -1M1368 1287q-1 5 0 9M585 1625q8 -7 -3 -9M1761 1033q4 -5 0 -11M1909 981l-2 -4M1620 1158q3 3 6 6M510 1641q2 -8 8 -2M1701 1059l3 3M1381 1311q6 -3 3 -10M1998 950q-4 -2 -5 -6M1379 1290q-3 -2 -6 -5M1610 1142l3 -3M1876 1021q-2 6 -9 6M1510 1241q3 -4 7 -5M942 1488l-6 -4M1998 943q1 -4 5 -6M812 1539q0 5 -5 5M988 1473q5 3 6 9M853 1522q6 0 6 6M699 1578q5 0 10 -2M784 1535l-4 1M572 1617l-4 -2M1473 1246l1 7M1348 1306q6 4 10 -2M523 1601l3 5M1002 1466q5 -1 5 -6M1630 1148q-4 -5 1 -8M1269 1285l4 -2M1503 1214l6 -2M2078 891q-8 1 -7 -7M938 1489q0 7 -8 7M549 1633q-4 2 -8 2M1463 1255l-5 -2M959 1488q1 3 2 7M2041 858l4 -2M1397 1281l3 3M1439 1271q-2 4 -4 8M2000 929l4 -5M1291 1321l0 4M810 1548q3 -4 0 -8M680 1595q-5 -3 -10 -1M1598 1181l-4 0M1500 1210q1 -6 -3 -9M1473 1224q7 -1 5 6M1716 1114q1 -4 2 -8M1342 1297l-4 3M661 1596q5 -1 6 -6M607 1621l2 -6M1663 1144l-3 -5M909 1491q-5 -5 -8 1M1874 1009q-4 4 -9 2M1327 1288q3 5 -1 10M1153 1396l-5 -3M758 1564l2 -5M1560 1198q8 2 2 8M520 1632l3 -2M1401 1275l-5 -1M753 1565l5 -3M1652 1142l-1 4M1800 1072q-8 -2 -4 -9M1465 1272l0 -6M723 1576q1 -4 1 -9M845 1530q2 4 2 8M657 1606l5 -3M1292 1353q-2 -4 0 -9M1416 1264l4 -1M1673 1126l4 3M861 1509l1 6M1647 1150l2 -4M1971 956q-8 -2 -9 6M1394 1308q0 -7 -7 -5M605 1618q5 -2 5 -7M1816 1056l-3 -3M857 1512l1 -4M1368 1316l-5 -1M1985 953l-7 -1M1407 1277l6 4M1279 1320q-6 -2 -10 3M1461 1260l1 6M980 1458q4 0 5 -5M1042 1446l-4 -2M553 1630q1 6 -3 9M1038 1467q5 2 7 -3M1921 988q-5 8 4 8M1887 1013l-6 2M699 1585l5 -1M925 1485l1 6M1609 1146q5 2 10 2M734 1572q-2 -5 -6 -8M1594 1181q-4 -3 -8 -6M1707 1076l3 -3M881 1490l-3 3M992 1475l-7 -2M561 1624l-7 -1M495 1646q5 0 9 4M1187 1363l1 6M1910 991q5 -1 9 3M1485 1259q3 -3 5 -8M1782 1068l-2 6M1020 1464q5 -2 3 -7M978 1481q4 3 9 1M578 1610q4 0 8 -1M1878 1021l4 0M1928 979l6 -2M1994 905q2 7 9 4M1478 1231l7 2M782 1548l2 6M940 1484q4 5 9 2M664 1595q-7 2 -6 9M1548 1211l-4 2M1841 1017q-1 10 -8 3M1087 1418l5 4M1080 1413l3 -6M1748 1062l-5 0M2036 904l2 -4M477 1632q-4 3 -3 7M1648 1124q9 -10 -4 -10M1195 1381l6 3M1374 1310l0 4M831 1520q-4 4 -8 -1M1432 1264l3 -6M1115 1434l-4 1M1950 964q-4 2 -7 5M1431 1279l-5 2M700 1577q-5 1 -9 5M1234 1367l4 -4M780 1549q5 2 9 4M735 1577l2 -6M1955 968q-3 2 -7 2M1698 1115q4 -1 7 1M719 1562l7 -2M719 1578l-1 -6M694 1583q-4 4 -9 6M1810 1052q1 5 -2 9M1887 998q-5 3 -9 -1M713 1571q-5 -2 -5 -7M1737 1077l4 0M1477 1244q4 2 6 5M1037 1465q-1 6 -8 5M1717 1102q-4 1 -7 4M1115 1432l-2 -6M949 1495q4 2 5 6M709 1586q-5 3 -8 -2M1563 1212l1 -5M1158 1403l-2 4M1622 1170l4 -4M1080 1423q2 5 -2 9M1462 1244l4 1M1845 1042q4 -3 3 -8M688 1592l-5 1M1623 1169l2 -4M1273 1334q-2 -4 -1 -9M1481 1251q2 -3 3 -7M503 1641q8 -4 10 5M1428 1281q-1 -6 6 -7M690 1575q-1 7 6 7M639 1608q-4 2 -4 7M1842 1031l-3 -4M945 1492q-4 0 -7 2M1355 1300q-4 3 -4 8M559 1611q6 2 8 -3M1967 950l1 5M732 1572l-3 -3M1746 1084l1 7M1151 1415l-4 -1M1818 1027q5 2 8 -2M1514 1231l-2 -3M769 1562q-3 4 -8 4M2059 898q-3 -3 -7 -4M972 1487l-4 2M954 1504q1 -5 6 -7M1303 1339q-4 -4 -1 -9M1911 991q-7 7 2 9M566 1637q-6 -6 2 -10M617 1589l-2 -3M775 1538l-3 4M1366 1315q4 3 8 1M844 1524l7 -1M1576 1188q-4 3 -6 8M1609 1166l-2 3M1239 1363q-3 4 -8 5M1390 1280l4 -1M1966 972l-1 5M1902 979l-1 6M870 1512q6 -6 11 0M1418 1255q-6 1 -8 6M961 1491l-3 -2M1671 1138q6 2 6 -5M996 1471q5 -2 9 1M1152 1414q3 -6 9 -5M2061 867l-3 -1M1731 1086q-1 4 -5 7M1644 1115q6 2 10 -4M1309 1329q-6 5 1 8M1710 1054q-1 5 -3 10M2047 898l0 5M1026 1448l-3 4M1154 1415q-5 -2 -10 1M589 1587q2 -5 1 -10M1358 1297l-6 2M1250 1347l-6 -1M1167 1401q-3 3 -7 4M817 1540q2 4 0 8M517 1649l6 3M1404 1260q5 -1 8 -5M1240 1335l5 0M1123 1405q-2 5 -8 6M618 1592q-6 -2 -10 3M1514 1238q-8 -2 -7 6M1904 1007q-2 -6 1 -10M466 1655l6 0M731 1581l-3 -3M1315 1340q-5 -4 0 -8M930 1492l-5 3M1964 956q-4 0 -7 3M920 1501q4 -3 8 -6M1113 1424l5 -2M931 1491q-2 -5 -7 -4M1997 940q-5 1 -10 1M556 1611l-1 -4M834 1510q1 5 -2 9M506 1634l-3 3M474 1651l-4 -2M1966 961q6 2 10 -2M1698 1125q2 -4 -1 -8M765 1559l-7 1M1382 1290l-4 0M849 1524l-3 -5M819 1514q3 3 7 5M850 1531q1 -4 4 -6M1187 1388q2 4 5 6M1388 1282q3 9 10 2M1202 1377q-3 3 -8 2M1595 1153l-2 4M1172 1402q5 0 10 -3M1538 1216q0 5 5 8M1289 1326q5 -2 3 -7M2000 932l-5 3M476 1656q2 -4 6 -4M1844 1042q-6 -2 -4 -7M1500 1225q7 13 10 -2M718 1577q-5 1 -8 6M641 1592q-4 4 -9 6M1759 1080l6 -1M853 1527l-5 5M1656 1124q-3 -3 -4 -6M1409 1296l2 -4M1427 1267q-4 -2 -8 -4M1328 1315q4 3 8 -1M1873 1016l-1 5M517 1636q4 5 10 5M1220 1375q6 2 8 -3M598 1616q-5 -1 -8 3M693 1584l-6 -2M692 1573q4 -3 7 -7M1253 1353l-1 6M471 1639q-6 -8 -8 2M1174 1388l-4 -1M1115 1426q3 6 -3 10M1982 943q4 -5 1 -10M1726 1091q-6 -1 -5 -7M1883 1011l-3 -4M1753 1032l4 0M1645 1114l3 -3M909 1485l6 1M1524 1214l2 -3M800 1552l3 -2M680 1588l2 7M1707 1119q3 -4 9 -5M1875 1010l3 4M1361 1310q2 -5 6 -8M661 1592q-8 0 -6 8M888 1521q-2 -4 -4 -8M1568 1192l-5 -2M754 1555l4 0M946 1501q4 -3 4 -8M2062 862l-7 -1M967 1484l-2 4M636 1614q4 -4 4 -10M1610 1157q2 -4 2 -9M1772 1084l-5 -1M847 1523l0 4M824 1537q6 2 9 -4M1208 1375l5 0M1235 1360l5 4M998 1474l-2 6M1073 1454l2 -6M886 1506l4 4M2003 927l0 7M1366 1308q-9 -1 -5 7M682 1595q5 -2 7 -7M1772 1046q8 1 8 -7M719 1573l0 6M871 1520q5 3 4 9M1588 1191l3 -3M675 1582l6 4M1533 1205q-5 -2 -4 -7M1100 1412l-3 4M1089 1424l6 -3M1256 1340q-7 3 -4 10M1228 1379q-4 1 -7 4M1045 1436l4 5M1386 1302l-6 0M646 1600q0 6 6 9M695 1589l1 -5M986 1474q-3 -3 -6 -4M959 1489l3 3M591 1619q-2 7 -10 5M759 1568q1 -6 7 -8M1811 1035q-5 -2 -8 3M612 1597q-5 1 -6 -4M1032 1446l3 -5M965 1484q7 -4 9 4"/>
<path stroke="#d8381a" stroke-width="2.5" d="M721 1674q3 6 9 3t7 6M1869 1116q-4 3 -8 1M1933 1057q-4 5 -5 11t-12 -1M526 1653q6 -9 -5 -8t4 -8M1050 1502q6 -1 11 1t0 11M2024 912q-4 7 2 11M1465 1322q4 -2 9 0t5 7M2094 938q4 -3 8 -2t6 -6M1628 1254q0 6 5 8t8 6M1584 1163q1 7 -7 8t-10 4M1982 1036q9 -4 9 7t10 4M1894 1102q7 -7 9 3t9 -2M1558 1256q5 -2 8 -6M1935 1108q-6 -3 -5 -10t-5 -10M1488 1270q5 -1 10 -4M716 1644q5 -5 3 -12t6 -11M489 1659q6 1 11 5M1308 1297q7 2 7 10t6 10M1337 1367q8 -1 6 7t7 6M1703 1145q1 -6 7 -7t8 -6M1412 1280q-6 -2 -9 3t-9 2M1651 1140q3 -4 8 -4M1125 1488q-2 -3 -4 -6t-4 -5M1663 1272q-6 -5 -1 -11t3 -10M1842 1092q2 6 6 11M1253 1424q-6 0 -10 4t-10 5M1586 1176q4 7 9 0M784 1661q-3 5 -9 7t-11 -3M1696 1170q-4 0 -6 3t-7 0M1174 1495q-9 -4 -11 6M1627 1271q-4 -3 -9 -5M1401 1269q-2 6 -1 12M552 1675q0 4 -3 8M1957 1075q-6 -6 -8 2t-8 4M2043 952q4 -1 8 -2t8 2M1648 1218q7 1 10 7t10 8M1729 1105q-4 0 -6 3t-4 6M1106 1488q-1 5 -6 6t-6 6M1533 1218q4 -2 8 0M1247 1492q2 -5 8 -6t9 -2M1805 1051q4 -1 6 3t5 5M863 1590q-4 -4 -5 -9t-4 -9M1489 1354q2 -6 -1 -11M1513 1272q11 -5 0 -9t1 -9M921 1492q-2 5 -7 6M575 1623q6 4 11 -1t10 -5M533 1645q6 6 8 -3M1567 1291q-4 4 -1 9t-3 9M1923 1112q-7 4 -5 12M2077 892q-2 -5 -5 -10M1875 1112q-5 2 -7 -3t-7 -3M1156 1480q-4 -2 -8 0t-8 1M1129 1442q-4 5 -3 11t-11 3M1340 1411q2 -7 8 -3t4 -7M1144 1508q4 -1 9 0M1394 1351q1 -9 -8 -7t-9 -5M1381 1331q6 10 -6 11t-4 12M1594 1169q5 5 4 12t10 8M1899 1127q5 -2 11 -2t9 -6M1043 1545q4 -4 8 -2t8 -2M1822 1058q-1 -7 6 -10t7 -9M877 1540q-6 -5 -8 2t-7 3M857 1569q1 6 -5 7t-5 6M1602 1187q-6 4 -3 10M1929 1075q-7 -3 -7 5t-6 6M1990 913q7 -4 12 3t12 1M1305 1305q-7 -1 -10 6t-7 9M1701 1171q6 -2 4 -7t6 -6M999 1520q6 -3 8 3t8 -3M1114 1475q-5 -5 -10 0M1091 1485q5 0 9 -1t7 6M1477 1337q2 4 5 4t7 1M1881 1119q6 1 12 -1M2043 951q9 3 11 -6M1017 1515q6 0 10 -4t11 -1M1246 1386q4 -7 -4 -5t-6 2M1289 1472q3 -3 6 -2t6 -3M1025 1523q-6 -2 -12 -3t-12 -2M1422 1271q4 0 8 -2t8 -3M1174 1496q10 -3 4 -11M1618 1261q-3 8 6 10M1934 1065q3 -5 3 -10t3 -10M693 1669q4 -4 9 -5t5 -9M1900 1118q-6 -3 -11 -6M720 1585q5 1 9 3t5 8M1192 1445q2 6 7 11t7 11M790 1650q-2 -12 8 -6M1263 1441q-6 -1 -7 -6t-9 -1M1442 1262q0 -7 5 -11M2134 944q-6 0 -10 -4t-9 -7M818 1591q3 -6 2 -12t3 -12M1519 1241q-6 -2 -11 0t-11 2M1320 1394q-2 -5 -2 -11M1013 1573q4 -3 8 -8M922 1506q3 -4 6 -9t-2 -10M1652 1285q2 8 -7 10t5 11M1320 1369q-1 7 -9 6t-6 9M1027 1481q4 3 9 5t9 6M1705 1188q1 10 -9 8t-10 7M1385 1321q3 -4 3 -9M1134 1522q-6 3 -13 0t-12 -6M1962 1030q2 5 1 11t-1 11M1466 1376q-5 -4 -2 -10t1 -10M1694 1099q-5 2 -8 -1t-8 -1M1553 1182q-4 5 -9 9t-10 7M644 1651q-3 6 -10 6M1638 1146q4 -2 7 -4t7 -2M1159 1511q-4 1 -8 2M1989 1041q-3 6 2 10t7 8M583 1599q5 7 -4 7t-5 6M766 1676q7 -1 7 -8t9 -6M1274 1319q-6 5 -13 1t-11 6M1549 1260q-6 7 -12 -1t-6 -10M1091 1464q-1 5 2 9M724 1561q6 -1 9 4t10 1M1773 1103q0 7 6 9M848 1607q0 -6 4 -11M1264 1476q5 -9 12 -1t12 -3M898 1623q-6 0 -6 6t-7 4M2011 1008q-3 4 -7 5t-8 2M1827 1092q5 3 8 7t4 10M1203 1483q-1 -6 3 -9t8 -5M1951 1086q-4 6 0 12M1001 1511q11 -1 8 10t7 10M2106 968q-1 5 -6 6t-7 4M778 1599q3 -5 0 -9t-3 -9M596 1715q-6 -1 -12 -2M1145 1484q-6 3 -6 10t-7 10M1671 1096q3 5 2 11M1801 1058q-4 -5 -3 -12M1767 1107q-3 -9 7 -10t5 -11M1150 1484q2 6 4 11M1561 1231q-9 -7 2 -11t9 -6M1596 1176q-8 -4 -10 5t-6 10M1773 1109q-8 -2 -10 6t-11 3M1397 1292q2 3 1 7t5 4M1350 1318q2 -6 2 -12t6 -11M1233 1437q-5 -1 -9 -1M1231 1474q0 3 -1 7t-6 4M1545 1212q-2 -4 -5 -8t-2 -9M1327 1402q5 4 5 10t11 2M982 1546q0 4 -1 8t2 8M1624 1185q4 5 10 8t8 10M1766 1097q6 1 12 -2M825 1589q6 1 11 -1t11 3M1777 1069q3 -2 6 -3t6 -3M1187 1507q-5 2 -11 2t-8 8M1734 1058q6 3 12 2t11 4M1948 977q-6 3 -7 10t-8 9M602 1614q5 -1 10 -1t10 0M612 1632q-7 -1 -5 5t-3 7M2116 927q-5 -2 -6 -6M1787 1083q9 2 4 -6t6 -4M1851 1084q-4 1 -7 -2t-6 -4M1986 1016q-4 0 -8 -1t-8 0M1493 1307q5 1 7 6t6 7M1662 1139q-5 -9 -9 1t-5 -8M1007 1459q6 2 12 0M2057 948q-3 3 -6 2t-1 7M1588 1197q6 1 12 1t10 8M1291 1384q-1 4 -4 7t-8 3M1930 1079q-6 0 -7 -5t0 -9M1258 1341q1 9 -8 9t-3 12M629 1608q-8 -7 0 -13M1364 1324q3 6 2 12t1 12M1921 996q8 3 11 -5t12 -3M1579 1324q-1 7 -7 9M543 1646q-3 -4 -7 -2t-7 -1M1355 1375q-5 -1 -10 -4M1464 1284q-1 6 6 6M1036 1577q-7 -5 -12 2t-11 5M1810 1065q-4 -3 -6 -7M1790 1157q6 3 8 -3M1454 1277q4 -2 7 0t7 2M2056 962q3 -2 5 -5t7 -2M1281 1449q4 -3 7 -5t3 -8M1135 1481q4 6 11 5t2 12M527 1716q5 4 10 7t12 2M1782 1124q6 -1 6 -6t6 -7M787 1604q6 -1 12 1M1346 1344q3 -2 6 -4t3 -6M1033 1506q-9 -4 -3 -12M1517 1349q-5 3 -11 3M1727 1110q4 1 6 -3t3 -6M1303 1415q-3 6 -10 4t-9 6M1987 1025q-6 -2 -11 2t-10 6M1672 1098q3 4 1 8M672 1598q6 -1 10 -5t6 -10M1039 1486q5 3 9 -2M1637 1256q-2 -4 -2 -8t-6 -5M1477 1276q-3 -4 -7 -1t-6 3M655 1647q-9 3 -8 -6t-6 -8M873 1587q2 -5 5 -9M1436 1264q1 5 1 10M1291 1374q4 -1 8 0M1690 1186q4 -2 8 -3M1195 1423q-4 -5 -8 0t-8 2M1280 1398q3 6 -3 8M1492 1244q-3 3 -5 6t-7 0M983 1529q1 -5 1 -9t-4 -8M1941 1085q0 5 -2 9t2 9M758 1552q5 -3 11 -3t11 -4M1577 1192q-2 -4 -4 -8t-2 -9M1119 1482q5 1 9 3t10 -1M1475 1246q-1 -6 -6 -9t-9 -6M1383 1343q-3 -2 -7 -1t-4 -6M1688 1084q6 -1 9 5M1958 1063q-4 3 -9 6t-8 7M1142 1498q-3 -4 -5 -7t-5 -8M1123 1491q4 -2 8 -3M1725 1144q-1 6 -4 11t2 12M1956 1051q5 -3 4 -9M1237 1487q12 -2 4 -11t5 -10M1426 1272q-2 -5 -8 -4t-8 0M1164 1482q4 -2 8 0t8 2M2104 931q6 3 10 -1M1703 1128q-8 -2 -10 6t2 11M1607 1224q6 -2 12 -5t8 -10M1187 1511q-7 2 -7 -5t1 -8M838 1584q1 -6 4 -10t8 -8M1861 1119q-3 -8 6 -10t7 -9M1185 1522q-4 4 -7 -1t-7 -1M899 1628q9 7 11 -4t11 3M779 1544q2 10 -8 7M1416 1327q-5 4 -11 1t-11 3M2099 955q-7 -6 -1 -12t-6 -11M1976 953q-1 -6 0 -13t-8 -10M1462 1303q4 -1 9 -1t6 -7M1862 1136q-6 4 -6 11M1376 1357q5 3 7 -2t7 -2M665 1697q-6 -2 -7 -8t1 -11M1733 1147q-5 3 -5 10t3 11M1655 1201q5 -2 8 -7M1018 1501q5 -7 11 -2M1566 1228q-4 3 -9 2t-9 1M1274 1463q-5 -3 -6 -9t-5 -9M1017 1537q5 -1 10 -1t8 5M1606 1296q-5 -8 -10 0t-10 -2M1238 1406q6 -1 11 3t9 7M1998 937q-2 6 -4 12t5 11M1145 1449q-5 3 -3 8t-6 6M1682 1131q1 -6 6 -10t5 -11M1851 1103q2 6 8 8t5 10M1312 1406q-4 2 -7 4M1413 1261q-4 5 -7 10t-12 1M1210 1447q-6 2 -7 8t-5 9M1687 1197q-9 0 -8 -10t5 -12M617 1691q0 10 8 5t9 -3M1835 1119q-21 6 -7 -11t-9 -9M580 1637q-1 7 -9 8M1949 955q2 7 7 11t-8 10M1664 1125q4 2 8 6M595 1658q-6 2 -11 7M1341 1402q6 0 5 5t-1 7M993 1511q-6 -8 4 -9t-2 -10M1690 1113q-7 5 -3 13M1973 944q5 2 10 1M1438 1299q-3 5 -6 9t0 11M698 1654q4 -6 11 -4t12 -2M1693 1093q3 1 7 2t7 1M1689 1184q3 -7 9 -3t10 -1M1470 1319q8 0 9 7M1432 1377q2 -4 7 -3t4 -6M2003 975q-4 4 -8 1t-7 -5M1493 1312q-5 -1 -10 -2M744 1658q-2 -5 -4 -9t-1 -10M779 1551q1 6 5 10M1608 1159q1 7 -1 13M1195 1385q4 -3 7 -7M523 1633q9 -7 10 4t11 1M1839 1124q5 -4 12 -3t11 -5M1740 1072q-5 -2 -8 2t-6 6M1835 1106q-1 6 5 6t7 4M1549 1236q0 6 -6 8M920 1588q-2 -6 3 -10t-6 -8M2005 1045q-4 -5 -7 -10t-11 -4M1361 1360q-5 -1 -4 -6t1 -7M569 1740q6 -1 9 -6t8 -7M647 1601q2 -5 7 -8t0 -11M1529 1217q-6 -3 -12 -4t-12 -3M2087 924q-2 -5 -4 -9t1 -10M1550 1195q-4 8 5 10M1684 1209q-3 2 -6 4t-1 7M1543 1258q1 7 8 6t8 5M1310 1323q-7 1 -5 8t-8 4M1879 1097q-4 -2 -4 -8t-5 -7M1184 1457q-8 0 -10 -8M573 1618q10 -5 2 -13M1477 1231q7 3 4 9M1735 1095q-3 4 -1 8M1778 1024q2 -5 6 -3M1027 1460q-2 6 4 6M1220 1373q4 -3 8 -5M1362 1303q6 -1 8 4M1860 1022l-4 -5M895 1518l2 -5M1473 1253l2 4M554 1600q6 3 8 -4M570 1619l-4 -2M1864 1000l-5 3M1881 986l3 2M680 1593q6 4 10 -2M1227 1343l-4 -3M1218 1352q-2 -5 -8 -3M2022 899l4 -2M1381 1307l-5 -4M505 1635q1 -4 5 -6M802 1539l-5 -3M841 1515l-6 3M1564 1191l7 0M1574 1163q-3 2 -6 4M1435 1279l4 -3M1384 1293l0 4M1793 1066l4 -4M1972 943l-5 5M721 1565l6 0M471 1660q1 -7 -6 -6M955 1495l-4 -4M517 1632q-2 -3 -4 -7M1213 1354q5 -3 10 -1M1174 1381l-2 7M688 1594l3 3M2034 916l-5 -4M800 1548l-1 6M1675 1143l-2 -3M1253 1335l6 3M808 1525q5 -3 3 -8M1433 1259l1 5M2035 904l-6 -1M1521 1199l2 4M600 1620q2 -4 6 -7M972 1487q0 -6 6 -8M1697 1084q5 -1 9 -5M896 1495q-4 4 -5 9M1044 1458l-3 -5M803 1555l0 -5M1771 1080q2 -8 8 -2M552 1606l-3 4M1156 1385l-2 5M1760 1050l-2 3M2011 928q5 1 8 -4M518 1644l6 -4M1951 961l3 -2M1016 1480q-4 0 -8 -2M544 1626q-3 -5 -1 -10M1604 1177l-2 4M1928 984l3 -2M1065 1448l-7 2M496 1638q-3 3 -3 8M1200 1389q-2 -8 6 -8M1353 1311l-5 -1M482 1657q4 -3 4 -8M1874 1024l5 1M934 1510q5 0 7 -5M762 1557q6 0 8 6M1272 1339q-5 1 -11 0M1709 1084l-4 1M978 1483q2 -5 6 -7M1963 950q5 -3 10 -1M1266 1307q-5 -1 -9 -4M834 1523l6 -2M1874 1020q-4 -1 -8 -2M1922 987l2 -4M1148 1408q-4 -4 -8 0M1478 1251q4 -5 3 -10M939 1485q4 -1 6 -6M1824 1056l3 -5M1497 1234q5 4 0 9M1081 1436l3 4M787 1544l2 -3M1377 1295q-5 5 -7 -2M796 1541q3 -4 8 -7M1050 1458l5 -2M1389 1285q1 7 -5 8M1001 1470q-3 -4 -9 -5M518 1625q5 -1 9 -1M661 1599q5 4 8 -1M2020 889l3 -4M1956 973q4 -3 3 -7M900 1490q-3 3 -2 8M1330 1301l-4 -1M1937 980q-5 0 -9 -3M1058 1443q0 8 7 8M1816 1052l0 -4M590 1617q-5 2 -8 6M629 1599q-1 4 -2 7M1262 1337l6 2M1610 1141l6 -3M1824 1029q-5 -5 1 -9M557 1605q4 6 8 0M1920 990l1 5M570 1611q-1 -5 5 -6M2012 932l-2 6M996 1472l2 -5M645 1608q5 2 10 2M1211 1349l6 0M1016 1451q2 -5 7 -6M865 1513l3 5M639 1594q-5 -3 -2 -8M1667 1143l6 0M589 1615q-4 1 -8 0M1128 1415l2 -5M1340 1308l4 -6M1690 1112l5 -1M1875 1026q4 -4 2 -9M466 1648l1 3M1931 961l-2 4M1912 990l-5 5M1924 974l-5 2M748 1566l7 0M1421 1287l-5 -1M1907 1002q1 -7 -6 -6M1217 1376l-3 -6M2012 926l-5 -2M1777 1079q-3 -2 -4 -6M1200 1344l3 1M1066 1424q-4 6 3 10M850 1517q-3 -5 -8 -2M479 1654l2 4M2039 912l-4 -1M915 1497q4 3 8 2M1555 1183q-3 4 -8 7M1219 1362l-6 2M769 1545q5 3 9 0M758 1546q-3 6 -9 3M1432 1268l-5 -1M1190 1372l1 4M1887 999l3 -2M1610 1159l3 -3M597 1623l1 4M1808 1018l-5 5M676 1589l6 -2M1308 1315l-6 -1M1280 1354q-3 -4 -4 -8M1265 1317l5 3M1588 1162q6 5 0 10M870 1515l5 1M1655 1130q2 -5 5 -10M977 1492q-4 0 -7 1M1302 1332q1 6 7 7M1170 1369q-3 2 -7 3M871 1516l-4 0M672 1586q-5 2 -10 3M1639 1119l2 4M1157 1383l-1 7M560 1619q8 1 5 8M1920 981q-5 3 -10 0M1276 1302q2 8 9 4M1413 1271q2 4 5 8M649 1602l-5 -3M1773 1037l5 4M1226 1349l3 -3M1054 1439q8 6 -2 8M748 1568l-6 -3M1236 1355q-4 3 -8 1M1548 1218l4 -6M1862 1035l1 -4M1810 1059q6 -7 10 1M1679 1115q1 7 8 7M1535 1213q6 0 7 6M1465 1251q-2 4 -5 7M598 1612l-5 -2M1669 1135l7 -1M713 1581l4 -1M943 1495l5 -4M1704 1121l0 -5M2054 897q4 2 8 -1M595 1624q-4 -1 -6 -5M1246 1364q6 -3 2 -7M1350 1299q-5 -1 -11 -1M1443 1280l1 -5M1268 1348l-3 5M1361 1297q5 -3 10 -3M991 1470q6 0 5 -6M1086 1432l-2 -3M1086 1424q-1 -4 -4 -6M1377 1291l4 -5M1401 1284q5 -1 10 -2M1572 1181l-5 -1M1962 950q3 6 7 0M796 1556q6 3 11 -2M491 1633q3 -4 8 -6M1708 1104l5 1M1631 1143q-1 12 8 5M1092 1430l-5 2M1648 1148q4 -2 8 -1M1237 1361q6 -2 9 4M768 1555l-2 -4M1812 1039l6 -1M1063 1445l4 4M2054 901l2 6M1483 1252q-2 -5 2 -7M634 1597l1 -6M1759 1085q-7 1 -7 8M1050 1450l0 -5M700 1576l4 -1M1406 1281q-5 1 -10 2M472 1661l0 4M1646 1131q-4 -4 0 -8M1300 1330q2 5 5 10M1920 997l1 -4M1468 1244q2 5 7 8M463 1671l4 -4M1440 1275q-4 -4 -1 -10M1255 1334q-1 4 -1 9M918 1499l-1 4M1655 1151q2 -5 6 -9M1076 1448q-3 -2 -7 -2M1809 1037q4 1 8 2M1049 1428q8 3 3 11M637 1597q3 -3 7 -3M1912 987l-4 -1M918 1506q4 -4 7 -8M685 1590l-6 -2M1336 1330q-5 -2 -10 -1M1504 1217q-2 -5 2 -8M595 1615l5 -1M1888 988q-4 1 -7 4M1984 938l3 6M1434 1274l-5 -1M1728 1102q-5 -2 -10 0M1916 998q1 -4 2 -8M1980 950q1 4 5 5M1989 942q4 2 8 3M673 1594q2 -6 9 -5M1998 931q-6 1 -5 7M1719 1099l-1 -4M1540 1204l3 -3M1083 1434q1 4 0 8M1346 1327l1 -5M860 1511l4 -1M825 1540l2 6M1920 998l-4 -3M1230 1360l1 4M1430 1271l5 -3M1779 1048l6 2M1725 1064q6 0 10 -4M1399 1284l-1 -6M1955 982l0 4M507 1646q-7 6 -9 -3M556 1628l-3 6M720 1564q-2 4 -5 7M884 1506q-1 5 -3 9M675 1592q2 4 6 6M1681 1140q-5 -1 -10 0M1618 1145q1 -5 5 -8M987 1486l-7 0M1252 1352l6 -1M1605 1142l-3 2M1901 985l4 -1M2033 867q5 2 9 -3M1161 1387q4 2 8 -2M1935 988q1 -5 2 -11M862 1515l3 6M1173 1399q-5 -4 -3 -9M867 1522l-3 5M1681 1105l-2 6M1134 1418q4 -2 9 -4M1362 1306l-7 2M1141 1401q-1 4 -4 7M853 1515l0 4M1527 1219q-3 3 -4 7M704 1587q1 7 8 4M1235 1356q9 4 1 10M1626 1123q0 4 -1 7"/>
<path stroke="#b42010" stroke-width="1.7" d="M1860 1093q2 -3 2 -6t4 -6M1431 1396q0 -5 -4 -7M1995 941q-4 -2 -8 -3M1622 1235q-4 3 -8 2M1165 1510q-3 3 -7 5M1334 1411l-3 -6M1625 1163q3 0 7 0t6 -1M1811 1111q3 4 8 2M1465 1281l2 6M567 1740q7 2 11 -5M1318 1314q0 9 -8 5M843 1590q3 -3 0 -7t-2 -7M1402 1347q-4 -1 -7 -3M2076 877q5 -4 6 3t6 2M1557 1211q2 5 4 10M1611 1265l-2 -7M1298 1448q-3 2 -7 3M1845 1033q6 -4 12 -2M1691 1151q-5 -5 -1 -10M1419 1367q-2 8 -10 8M1578 1239q4 3 9 2M1734 1106q5 -2 9 -6M1177 1465q-4 1 -7 1M1740 1156q3 4 7 0t7 -2M1631 1143q-3 3 -6 5M1842 1069q-3 3 -3 8M1403 1300q3 -6 -1 -11M1794 1064q4 1 8 0M1346 1389q-4 -1 -5 -5t-7 -1M1855 1096q-2 -7 5 -9M1491 1313l-5 5M1228 1381q-3 -5 -2 -10M1352 1360q4 7 12 4M895 1587q-1 -4 1 -8M1742 1096q7 -5 3 -12M814 1576l5 4M1868 1081q0 7 -7 8M778 1571q7 5 9 -3M1545 1205q1 -4 1 -8M1181 1464q-5 0 -5 -4t-7 -1M610 1697q-5 -3 -11 -4M1884 1095q0 7 7 11M1870 1120q-5 -3 -6 -9M795 1648l-6 0M654 1598q-8 -2 -7 6M1242 1345q-5 1 -6 6M1774 1159q7 1 9 -6M1860 1106q7 2 8 9M1059 1473q-5 -2 -8 2M1086 1520q-2 5 -6 9M1249 1439q2 5 7 6M1213 1384q-4 -1 -8 -2M1460 1243q-5 -1 -8 2M1884 1115l-3 -6M1840 1115q-6 -4 -12 -2M1534 1231l6 -3M2107 901q-6 -2 -6 -8M1038 1526q-1 -6 2 -13M1459 1285q-2 5 -4 9M577 1643q-7 5 -9 -3M1657 1187q0 4 -4 7M753 1594l-5 -4M1258 1452q5 -3 8 1M662 1599l7 -1M750 1597q-7 1 -10 7M1857 1109q2 4 6 4t5 -5M1424 1274q4 -1 9 -3M1272 1399q3 5 8 7M1663 1278l-2 -6M1588 1185q-5 -2 -10 -4M619 1668q-5 -1 -10 0M2016 1013l-6 3M1947 1069q-4 4 -10 5M1736 1106q3 -3 7 -1t3 6M1636 1288q-4 -4 -8 -1M1850 1021q6 3 6 9M1685 1138l1 7M1977 967l5 -4M1371 1356q5 3 9 -1M582 1706q4 -4 4 -9M1967 965l6 -3M1109 1473q-9 -5 -11 5M1530 1211q-6 -1 -6 -8M1693 1096q-7 1 -11 6M1876 1128q5 -2 10 -6M2008 1017q-2 3 -4 5t-5 5M1345 1393l-5 -4M1769 1142q5 2 2 7t-2 6M2006 941q7 2 11 -5M715 1563q-8 6 1 12M2042 1025q4 2 8 5M978 1506q0 -8 8 -5M1426 1270l-5 -2M1954 1077q0 4 -3 8M1851 1111q5 2 7 -3M1702 1141q1 -5 -4 -5t-1 -7M1686 1187l5 -3M1711 1191q-6 -1 -12 -1M1943 979q-5 2 -10 2M1993 1039q6 1 7 -5M1021 1570q-2 5 -8 5M645 1613q6 -1 8 5M1995 1052q3 -3 1 -7t0 -7M873 1528q5 5 10 0M2013 916q-3 -1 -5 -4t-6 -3M593 1613q-5 0 -9 -2M1628 1133l-6 3M1490 1246q-1 9 -8 5M1756 1032l2 3M1142 1379l5 2M1294 1307l6 2M1857 1025q3 -5 8 -6M1616 1136q1 -5 6 -7M1142 1413l3 -4M1705 1091q-4 3 -8 1M1417 1273l-3 -4M1143 1412l0 5M734 1569l-5 3M620 1595l5 -4M1350 1308q-2 5 -7 3M1830 1023l-5 1M2040 885q-5 -3 -11 1M1542 1200q-4 0 -7 -3M1656 1147q5 -2 8 -6M934 1491l3 4M937 1487q-6 4 -1 9M2057 903l3 -3M634 1589q-8 2 -3 8M996 1461q5 4 11 1M1511 1226q3 4 8 7M1764 1042q-4 1 -7 -3M2028 902q4 3 2 8M784 1518q-3 4 -4 9M1080 1424l6 -1M1050 1465q4 -2 5 -6M954 1488l5 4M665 1599l4 -2M651 1592l2 4M1195 1351l3 -2M803 1528q5 -1 10 0M1829 1036l1 7M658 1610q0 -5 3 -7M1630 1166l-2 4M668 1602q4 -3 5 -7M931 1507l5 -5M1111 1408q-4 5 -10 2M1461 1242q7 -3 0 -8M879 1523l5 2M629 1613l-1 -4M1469 1213q-7 -3 -6 4M1778 1075l-1 6M831 1521q4 8 10 1M1463 1244l5 -1M1431 1264l5 4M732 1557l4 2M1239 1345q0 6 3 11M1144 1379q-4 3 -2 7M968 1496l2 -5M1735 1099l6 3M1517 1208l-5 3M1845 1021q-1 -4 0 -8M1356 1298l-1 6M1810 1059l-1 5"/>
</g></g>
</g>
<g fill="none" stroke="#333" stroke-width="1.1" stroke-linejoin="miter">
<polyline points="259.4,858.8 283.4,880 303.5,872.9 323.6,865.8 343.7,858.6 363.8,851.5 384,844.4 404.1,837.3 424.2,830.2 444.3,823 464.4,815.9 484.5,808.7 504.6,801.4 524.7,793.9 544.8,786.2 565,778.3 585.1,770.2 605.2,761.9 625.3,753.3 645.4,744.5 665.5,735.5 685.6,726.2 705.7,716.6 725.8,706.8 746,696.7 766.1,686.4 786.2,675.8 806.3,665 826.4,653.9 846.5,642.6 866.6,631.1 886.7,619.4 906.9,607.5 927,595.4 947.1,583.2 967.2,570.8 987.3,558.4 1007.4,545.9 1027.5,533.3 1047.6,520.6 1067.7,508 1084.5,497.5 1080.2,493.8"/>
<polyline points="230,832.9 250.1,825.8 270.2,818.7 290.3,811.5 310.4,804.4 330.6,797.3 350.7,790.2 370.8,783.1 390.9,775.9 411,768.8 431.1,761.6 451.2,754.3 471.3,746.8 491.4,739.1 511.6,731.2 531.7,723.1 551.8,714.8" stroke="#2e2e2e" stroke-width=".9" stroke-opacity=".6" stroke-dasharray="8 6 3 11 13 7 5 9"/>
<path d="M383.6 844.5l-53.4 -47.1M483.8 809l-53.4 -47.1M583.9 770.6l-53.4 -47.1M684.1 726.9l-53.4 -47.1M784.3 676.8l-53.4 -47.1M884.5 620.7l-53.4 -47.1M984.6 560l-53.4 -47.1" stroke="#3a3a3a" stroke-width=".8" stroke-opacity=".28" stroke-dasharray="6 9 4 7 10 5"/>
</g>
<g stroke="#000" fill="none" stroke-linecap="butt">
<path stroke-width="1.9" stroke-linejoin="miter" d="M203.2 701.5L203.2 876.5L256.6 923.8L1113.1 615"/>
<path stroke-width="2.6" d="M203.2 701.3L203.2 877.3"/>
<path stroke-width="2.6" d="M203.2 702.5l7.6-3M203.2 771.6l7.6-3M203.2 840.8l7.6-3M203.2 876.5l8-3.3M227.4 898l8-3.3M251.7 919.5l8-3.3"/>
<path stroke-width="1" d="M203.2 716.3l5.6-2M203.2 730.2l5.6-2M203.2 744l5.6-2M203.2 757.8l5.6-2M203.2 785.5l5.6-2M203.2 799.3l5.6-2M203.2 813.1l5.6-2M203.2 827l5.6-2M203.2 854.6l5.6-2M203.2 868.5l5.6-2M208 880.8l4.9-1.9M212.9 885.1l4.9-1.9M217.8 889.4l4.9-1.9M222.6 893.7l4.9-1.9M232.3 902.3l4.9-1.9M237.2 906.6l4.9-1.9M242 910.9l4.9-1.9M246.9 915.2l4.9-1.9M256.6 923.8l4.9-1.9M292.2 910.9l-2.4-3M363.5 885.2l-2.4-3M399.2 872.3l-2.4-3M434.8 859.4l-2.4-3M470.5 846.6l-2.4-3M541.8 820.8l-2.4-3M577.4 808l-2.4-3M613 795.1l-2.4-3M648.7 782.2l-2.4-3M720 756.5l-2.4-3M755.6 743.6l-2.4-3M791.3 730.7l-2.4-3M827 717.9l-2.4-3M898.2 692.1l-2.4-3M933.9 679.3l-2.4-3M969.5 666.4l-2.4-3M1005.2 653.5l-2.4-3M1076.5 627.8l-2.4-3M1112.2 614.9l-2.4-3"/>
</g>
<path stroke="#000" stroke-width="2.7" fill="none" d="M327.9 898.1l-5-5.4M506.1 833.7l-5-5.4M684.4 769.4l-5-5.4M862.6 705l-5-5.4M1040.8 640.7l-5-5.4"/>
<text x="3" y="196" font-size="29">(<tspan font-style="italic">a</tspan>)</text>
<text x="67.8" y="191" font-size="25" text-anchor="middle">4</text>
<text x="68" y="258.5" font-size="25" text-anchor="middle">2</text>
<text x="68" y="325.6" font-size="25" text-anchor="middle">0</text>
<text x="73.6" y="368.3" font-size="25" text-anchor="middle">0</text>
<text x="96.7" y="388.3" font-size="25" text-anchor="middle">1</text>
<text x="119.8" y="408.3" font-size="25" text-anchor="middle">2</text>
<text transform="translate(40 277) rotate(-90)" font-size="30" font-style="italic" text-anchor="middle">y<tspan font-style="normal" font-size="36" dx="1" dy="4">/</tspan><tspan dx="1" dy="-4">δ</tspan><tspan font-size="20" dy="5.4" font-style="normal">0</tspan></text>
<text x="45.7" y="409.3" font-size="30" font-style="italic">z<tspan font-style="normal" font-size="36" dx="1" dy="4">/</tspan><tspan dx="1" dy="-4">δ</tspan><tspan font-size="20" dy="5.4" font-style="normal">0</tspan></text>
<text x="560" y="301.1" font-size="30" font-style="italic">x<tspan font-style="normal" font-size="36" dx="1" dy="4">/</tspan><tspan dx="1" dy="-4">δ</tspan><tspan font-size="20" dy="5.4" font-style="normal">0</tspan></text>
<text x="212.2" y="401.8" font-size="25" letter-spacing="1.2">−5</text>
<text x="386.2" y="338.9" font-size="25">0</text>
<text x="560.5" y="276.1" font-size="25">5</text>
<text x="734.7" y="213.2" font-size="25" letter-spacing="-1">10</text>
<text x="909" y="150.4" font-size="25" letter-spacing="-1">15</text>
<text x="2.7" y="461.4" font-size="29">(<tspan font-style="italic">b</tspan>)</text>
<text x="130" y="450.5" font-size="25" text-anchor="middle">4</text>
<text x="130" y="518" font-size="25" text-anchor="middle">2</text>
<text x="130" y="584.6" font-size="25" text-anchor="middle">0</text>
<text x="134.9" y="628.6" font-size="25" text-anchor="middle">0</text>
<text x="159.2" y="648.4" font-size="25" text-anchor="middle">1</text>
<text x="182.4" y="668.6" font-size="25" text-anchor="middle">2</text>
<text transform="translate(101 534.2) rotate(-90)" font-size="30" font-style="italic" text-anchor="middle">y<tspan font-style="normal" font-size="36" dx="1" dy="4">/</tspan><tspan dx="1" dy="-4">δ</tspan><tspan font-size="20" dy="5.4" font-style="normal">0</tspan></text>
<text x="107.7" y="668.5" font-size="30" font-style="italic">z<tspan font-style="normal" font-size="36" dx="1" dy="4">/</tspan><tspan dx="1" dy="-4">δ</tspan><tspan font-size="20" dy="5.4" font-style="normal">0</tspan></text>
<text x="623" y="560.8" font-size="30" font-style="italic">x<tspan font-style="normal" font-size="36" dx="1" dy="4">/</tspan><tspan dx="1" dy="-4">δ</tspan><tspan font-size="20" dy="5.4" font-style="normal">0</tspan></text>
<text x="269.8" y="655.8" font-size="25" letter-spacing="1.2">−5</text>
<text x="447.8" y="591.3" font-size="25">0</text>
<text x="626.1" y="526.8" font-size="25">5</text>
<text x="804.4" y="462.2" font-size="25" letter-spacing="-1">10</text>
<text x="982.7" y="397.7" font-size="25" letter-spacing="-1">15</text>
<text x="3.2" y="716.7" font-size="29">(<tspan font-style="italic">c</tspan>)</text>
<text x="187" y="717" font-size="25" text-anchor="middle">4</text>
<text x="187.1" y="784" font-size="25" text-anchor="middle">2</text>
<text x="187" y="851.5" font-size="25" text-anchor="middle">0</text>
<text x="191.7" y="893.2" font-size="25" text-anchor="middle">0</text>
<text x="215.3" y="913.4" font-size="25" text-anchor="middle">1</text>
<text x="238.4" y="934" font-size="25" text-anchor="middle">2</text>
<text transform="translate(157.2 800.2) rotate(-90)" font-size="30" font-style="italic" text-anchor="middle">y<tspan font-style="normal" font-size="36" dx="1" dy="4">/</tspan><tspan dx="1" dy="-4">δ</tspan><tspan font-size="20" dy="5.4" font-style="normal">0</tspan></text>
<text x="164.2" y="934" font-size="30" font-style="italic">z<tspan font-style="normal" font-size="36" dx="1" dy="4">/</tspan><tspan dx="1" dy="-4">δ</tspan><tspan font-size="20" dy="5.4" font-style="normal">0</tspan></text>
<text x="679.5" y="826.7" font-size="30" font-style="italic">x<tspan font-style="normal" font-size="36" dx="1" dy="4">/</tspan><tspan dx="1" dy="-4">δ</tspan><tspan font-size="20" dy="5.4" font-style="normal">0</tspan></text>
<text x="326.2" y="925.7" font-size="25" letter-spacing="1.2">−5</text>
<text x="504.1" y="861.3" font-size="25">0</text>
<text x="682.4" y="797" font-size="25">5</text>
<text x="860.6" y="732.6" font-size="25" letter-spacing="-1">10</text>
<text x="1038.8" y="668.3" font-size="25" letter-spacing="-1">15</text>
</svg>
</body></html>
